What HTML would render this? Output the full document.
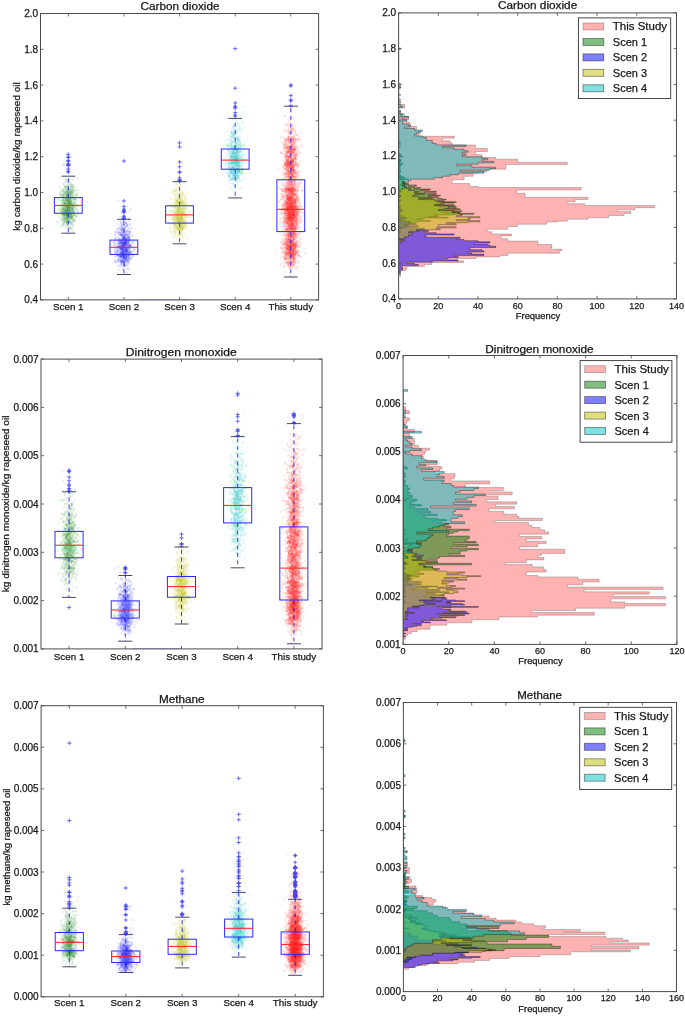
<!DOCTYPE html>
<html><head><meta charset="utf-8"><style>
html,body{margin:0;padding:0;background:#fff;}
#w{position:relative;width:685px;height:1016px;overflow:hidden;background:#fff;filter:blur(0.35px);}
#sc{position:absolute;left:0;top:0;}
#sv{position:absolute;left:0;top:0;}
text{font-family:"Liberation Sans", sans-serif;stroke:#222;stroke-width:0.25px;}
</style></head><body><div id="w">
<svg id="sv" width="685" height="1016" viewBox="0 0 685 1016">
<filter id="sb" x="-5%" y="-5%" width="110%" height="110%"><feGaussianBlur stdDeviation="0.45"/></filter><g filter="url(#sb)" fill="none" stroke-opacity="0.1" stroke-width="2.3" stroke-linecap="round"><path d="M66.1 187.9h0m1.9 .4h0m3.9 1.3h0m2.9 2.8h0m-1.6 .8h0m-3.3 .3h0m-3.3 .8h0m5 .9h0m3.7 .4h0m-10 .7h0m-2.9 .9h0m2.9 .6h0m.3 1.2h0m1.1 .1h0m1 .9h0m0 .1h0m1 2.2h0m4.5 .7h0m-9.3 4h0m-.7 .2h0m8.6 .6h0m-5.2 .6h0m2 .1h0m1.7 .8h0m-11 .6h0m10.3 .1h0m8.1 .1h0m-8 .4h0m-8.3 1.8h0m8.1 0h0m-2.4 .6h0m-1.2 .6h0m.1 1h0m-2.3 .8h0m12.6 1.1h0m-1 1.6h0m-10.6 .1h0m.4 1.4h0m8.2 .3h0m.1 6.9h0m-1.3 5.1h0" stroke="rgb(0,128,0)"/><path d="M77 178.3h0m-6.7 6.2h0m-10.4 4.3h0m7.9 3.5h0m-2.7 .5h0m5.9 1.9h0m1.9 .6h0m-9.8 .1h0m4.5 .9h0m8 .3h0m-8.1 2.4h0m3.4 2.8h0m-1 1.5h0m1.8 0h0m-7.4 .4h0m3.4 .1h0m6.1 .6h0m-8.7 2.8h0m4.6 0h0m-3.2 1.2h0m6.5 .2h0m-3.4 1.2h0m-3.2 3.4h0m3.7 1h0m-7.1 .4h0m8.7 .3h0m-4.4 .6h0m-2.4 1h0m-2.5 .1h0m7.1 .8h0m-6.8 1.2h0m-.8 .8h0m2.6 .9h0m9.2 .3h0m-7 .9h0m0 2.2h0m-1.3 4.6h0" stroke="rgb(0,128,0)"/><path d="M68.5 181.2h0m7 5.6h0m-8.6 4.1h0m7 .4h0m-5.7 .9h0m4.1 1h0m-10.3 2h0m3.6 3.2h0m-.7 1.9h0m1.6 .4h0m-4.8 .2h0m8.4 1.1h0m5.4 .6h0m-10.4 .2h0m-3.8 0h0m6.3 2.9h0m-2.1 .6h0m3.7 .8h0m-7.7 2.1h0m4.3 .1h0m-2.6 .5h0m4.2 0h0m-5.1 1h0m11.5 .1h0m-5.9 .1h0m4.5 1.1h0m.1 .3h0m-9.2 .1h0m-1.6 .8h0m10 0h0m-5.6 .1h0m-2.4 .4h0m1.2 1h0m-1.8 .9h0m.5 0h0m2.7 .3h0m-1.4 .8h0m-1.9 .4h0m9.2 .2h0m-5.7 .9h0m5.3 1.9h0m-1.7 .8h0m-13.3 .8h0m11.8 .7h0m1.7 4.9h0m1.4 1.5h0" stroke="rgb(0,128,0)"/><path d="M65.3 161.4h0m3.2 20.7h0m-2.8 9.9h0m-.6 .3h0m2.6 2.1h0m8.8 .6h0m-3.9 1.9h0m-8.9 .5h0m6.2 .2h0m-7.4 1.8h0m4.5 .1h0m4.2 1.1h0m-1.6 .6h0m-1.9 .7h0m-3.8 1.8h0m4.7 1.4h0m-1.9 0h0m6.3 1.1h0m-5.6 .1h0m3.9 1.9h0m-6.8 .3h0m8.5 .5h0m-3.9 1h0m3.7 .2h0m-8 .5h0m1.2 .2h0m8.1 .7h0m-8.4 .7h0m2.5 1h0m-.6 1.6h0m2.5 .5h0m-.7 .3h0m4.4 4.8h0" stroke="rgb(0,128,0)"/><path d="M65.8 176.2h0m7.8 10.2h0m-6 2.2h0m6 2.7h0m-5 2.7h0m8.1 .6h0m-6.6 1.7h0m-.7 .6h0m-6.2 .4h0m5.6 1.6h0m-.3 .4h0m-5.3 0h0m6.4 1.5h0m-1.1 .2h0m-4.7 .3h0m5.9 .4h0m1.1 .1h0m4.2 .5h0m-9.9 2h0m5.2 .1h0m4.4 1.7h0m-1.6 .4h0m-3.6 0h0m-3.4 .7h0m5 .1h0m-3.5 .6h0m2.3 1.3h0m1.9 .8h0m-7.3 1.4h0m-.6 .7h0m10.1 .7h0m-11 1.5h0m3.4 1h0m4.3 .2h0m-4.6 .4h0m.9 1h0m5.7 7.7h0m-5.1 .1h0m-7.3 2.1h0" stroke="rgb(0,128,0)"/><path d="M69.6 184.3h0m-1.8 6.2h0m-1.3 1.2h0m3.6 .3h0m-.1 .8h0m2.9 .1h0m-5.7 .3h0m-.2 .2h0m3.4 .6h0m-2 .2h0m-2.5 .7h0m4.7 .2h0m-3.6 1.2h0m.2 1h0m0 .5h0m0 .4h0m-1.1 .3h0m9.7 .8h0m-10.7 .4h0m-.5 .6h0m4.1 .4h0m-5.1 1.6h0m11.4 .9h0m-10.4 .2h0m3.2 .5h0m3.2 1.1h0m1 .3h0m4.3 .8h0m-16.6 .3h0m7.3 .8h0m-.9 .1h0m4.9 .3h0m-2.9 0h0m1.4 .3h0m3.2 .8h0m1 .2h0m-2.8 .2h0m-7.1 .1h0m6.2 .8h0m-3.1 .9h0m-3.7 .4h0m-1.2 .4h0m.3 1.4h0m8.7 .7h0m-7 .5h0m6.7 2h0m-1.2 .4h0m-2.5 .7h0m.5 3.5h0m3.5 .3h0m-.3 6.6h0" stroke="rgb(0,128,0)"/><path d="M66 186.6h0m3.7 1.6h0m-1.8 .1h0m2.3 .2h0m-.7 7.8h0m-.8 .4h0m4.6 1.1h0m-9.7 0h0m6.7 1h0m5.9 .5h0m-13.5 1.1h0m4.6 .2h0m1 0h0m7 1h0m-10.8 .1h0m4.9 1.3h0m-9.9 2.3h0m9.8 .8h0m-1.3 .1h0m-2.2 .2h0m-.7 1.3h0m7 .8h0m3.9 .8h0m-11.3 .2h0m3.6 0h0m1.6 .6h0m3.7 .1h0m-12.3 .2h0m11.5 .4h0m-5.8 0h0m-1.5 2.4h0m4.6 .2h0m-3.6 1.5h0m1.7 .8h0m3.3 1.2h0m-.8 1.8h0m-1.8 .2h0m-.2 1.5h0m-.8 .2h0m-1.7 5.2h0" stroke="rgb(0,128,0)"/><path d="M66.9 172.1h0m6.7 4.6h0m-2.3 7.6h0m-2.7 2.5h0m4.3 .7h0m-7.3 1.3h0m3.5 .2h0m8.3 .9h0m-14 .4h0m-.5 1.1h0m8.4 1.1h0m6.5 .1h0m-6.9 .6h0m-.3 .3h0m-10.8 .2h0m11.3 2.9h0m1.1 1.8h0m-2.1 1.9h0m-3.6 .1h0m3.8 .1h0m.3 2.7h0m2.1 .3h0m.9 1h0m-5.2 2.9h0m-2.7 1h0m.9 1.5h0m.6 .6h0m-6.3 .6h0m7.1 .6h0m4.4 1.3h0m-10.5 .4h0m2.8 .9h0m6 1h0m-2.9 .1h0m.8 .4h0m3.7 .6h0m-6.6 1h0m2.6 .9h0m-3.2 .6h0m2.3 .6h0m.3 .2h0m1.4 1.1h0m.7 1h0m-3.3 0h0" stroke="rgb(0,128,0)"/><path d="M69.2 182.9h0m-2.2 2.9h0m6.8 3.7h0m-3 2.7h0m.7 0h0m-2.4 5.4h0m.8 .6h0m3.8 2.1h0m-5.7 2.9h0m-3.7 1.3h0m12.2 1.5h0m-10.7 .7h0m8.1 .2h0m-5.3 .4h0m-4.6 1.3h0m11.7 .8h0m-5 1.4h0m-1.5 .9h0m-.2 .3h0m-1.9 .2h0m.6 .5h0m-2.4 .6h0m5.8 .1h0m-5.3 .5h0m1.6 1.2h0m-3.6 .3h0m1.7 .1h0m5.3 1.3h0m1 1h0m-6.7 .5h0m-1.2 .4h0m1.4 1h0m1.6 0h0" stroke="rgb(0,128,0)"/><path d="M68 171.4h0m-2.8 10.9h0m7.4 2.8h0m-.1 1.2h0m-4.6 .1h0m1.1 1.6h0m7.8 5.9h0m-11.2 0h0m10.4 1.5h0m-8 3.7h0m-3.5 .1h0m7.2 2.6h0m-6.5 1.9h0m4.9 .1h0m-5.2 .3h0m3.8 .9h0m2.8 .8h0m-.4 .5h0m-5.8 .3h0m10.3 .6h0m-8.8 .1h0m8.1 .7h0m-7.5 .4h0m2.1 .7h0m7.5 .3h0m-9.4 1.2h0m2 1.6h0m1.1 .6h0m3.2 2.3h0m-3.3 1.3h0m-3.4 1.3h0m4 .5h0m-6.7 3.7h0m2.3 1.4h0m-3.2 0h0m.1 .2h0m7 .3h0m-.2 .6h0" stroke="rgb(0,128,0)"/><path d="M69.3 160.5h0m-2.7 21.5h0m.9 2.1h0m2.2 5.9h0m-2.9 .3h0m5.1 1.1h0m0 .7h0m-7.8 2.3h0m4.4 .5h0m-.8 2.9h0m-.7 .7h0m-3.8 1.4h0m5.6 1.5h0m1.9 1.4h0m-1.6 .2h0m-6 0h0m8.1 .5h0m.8 .6h0m-6 4.7h0m1.5 1h0m-2 .1h0m7.6 .6h0m-8.5 .2h0m4.3 .3h0m4.7 .7h0m-4.9 .4h0m-5.1 0h0m7.9 1.3h0m-8.9 .3h0m2.5 .7h0m-4.2 .1h0m5.1 0h0m-.5 .1h0m3.6 .2h0m-2.7 .2h0m7.3 4.6h0m-10.8 .9h0m10.7 .5h0m-1.4 5.5h0" stroke="rgb(0,128,0)"/><path d="M73.3 180h0m-6 5.7h0m2.9 4.9h0m-6.5 1.9h0m7.6 .5h0m-10.9 1.3h0m.5 0h0m12.4 2.5h0m.3 .1h0m.3 1.1h0m-1.3 1.3h0m-7.1 .2h0m2 .4h0m-1.9 0h0m4.6 2.4h0m-1.6 1.5h0m-.9 .1h0m6.3 .3h0m-3 1h0m-3.1 .7h0m1.3 .6h0m-3.6 2.5h0m-3.8 0h0m5.2 .7h0m4.2 1.1h0m-3.7 1.2h0m-1.1 .7h0m-2 .6h0m.7 .3h0m.1 .1h0m-.3 .4h0m13.4 .6h0m-14.1 .2h0m9.9 1.3h0m-2.3 .4h0m-1 0h0m-1.7 .8h0m3.7 0h0m-8.5 1.5h0m4.8 .7h0m2.2 2.7h0m-12.8 0h0m3.9 5.2h0m5 5.7h0" stroke="rgb(0,128,0)"/><path d="M66.1 179.7h0m-3 4.3h0m8.7 1.1h0m4.2 5.1h0m-13.8 .4h0m4.9 1.4h0m.6 1.2h0m1.5 1h0m-6.1 .5h0m5.6 0h0m-1.4 2h0m.6 .1h0m-2.3 .3h0m-2.1 1.3h0m12.9 2.4h0m-6.8 .6h0m-4.5 1h0m1.9 .6h0m6.3 2.2h0m-11.7 .8h0m12.9 .5h0m-1.8 .1h0m-2.9 .1h0m-1.7 1h0m.5 1.1h0m-5.6 .7h0m4 .5h0m-1.4 .1h0m4.7 .9h0m-4.5 1.6h0m4.8 .9h0m-3.6 1.1h0m-5.7 1h0m6 .1h0m-3.6 1.3h0m.3 .4h0m8.7 1.4h0m-6.2 1.2h0m-2.1 1.7h0m3 .1h0m5.9 2.9h0m-10.3 0h0" stroke="rgb(0,128,0)"/><path d="M63.6 164.7h0m7.7 12.6h0m-4.4 1.7h0m2.9 6.9h0m.8 1.2h0m1.9 .3h0m-1.7 1.5h0m-2.7 1.3h0m1.9 .2h0m-2.8 4.3h0m5.9 .2h0m-5.4 .4h0m-3.5 .1h0m2.1 1h0m-5.3 0h0m6.8 .9h0m6.8 2.1h0m-6.4 .3h0m5 0h0m-14.6 .3h0m7.8 1.2h0m.9 1.5h0m-1.4 1h0m1.6 1.1h0m-1.4 .6h0m-1.3 .4h0m12.9 0h0m-13.7 .2h0m9.8 .6h0m-1.3 .2h0m-2.8 .4h0m-7.1 .5h0m9.7 0h0m-4.6 .2h0m.6 .6h0m2.9 .7h0m.7 .4h0m0 .6h0m.1 1.2h0m-5.2 1h0m2.6 .3h0m-5.6 .6h0m9.9 .2h0m-4.8 .2h0m.9 1.1h0m4.5 .2h0m-7.2 1.3h0m-.3 1.5h0m5.3 .1h0m-5.5 .2h0m-2.8 .3h0m2.5 .4h0m-.8 .9h0m2.4 .9h0m-3.6 1h0m11.5 0h0m-6.3 .2h0m3.2 .6h0m-.7 .9h0m-4.5 1h0m-2.9 1.4h0" stroke="rgb(0,128,0)"/><path d="M66.4 186.7h0m-2 0h0m8.3 2.9h0m-3 1.9h0m-3.7 .5h0m-1.9 0h0m4.9 .2h0m-4.3 .8h0m2.7 .9h0m-5 .1h0m5.4 .9h0m2.3 3.5h0m.7 1.8h0m-.5 1.1h0m-5.1 .3h0m5.4 2.1h0m-2.3 .1h0m1.6 .2h0m-9.8 1.1h0m7.7 1.6h0m3.2 .6h0m-2 2.5h0m-6.4 1.1h0m1.1 0h0m6.8 1.3h0m.5 .2h0m.3 .3h0m1.5 1h0m-1.5 .3h0m-7 .3h0m3.9 .6h0m1.4 .5h0m-1.7 2.9h0m-1.9 3.6h0m4.3 1.2h0m1.1 .8h0m-2 4.5h0" stroke="rgb(0,128,0)"/><path d="M67.8 169h0m-3.7 10.9h0m1.2 .6h0m6.9 5.4h0m.5 4.4h0m-.7 .2h0m-4 .4h0m-7.1 .6h0m9.2 0h0m-7.1 3.7h0m14.6 .3h0m-8.3 1.6h0m2.1 1.2h0m-2.8 .7h0m-.5 0h0m6.9 .3h0m-5.5 .1h0m-10.6 .2h0m4.2 1.4h0m3.3 .1h0m.2 .1h0m2.6 .5h0m.2 .4h0m-.5 .4h0m-.2 1h0m3.7 1.6h0m-5.5 .5h0m1.2 2.3h0m-8.6 .3h0m8.1 .5h0m1.6 .3h0m-10.2 1.1h0m10 .7h0m-3.6 .6h0m5.6 0h0m-4.5 .1h0m2.8 0h0m-3.4 .4h0m.1 1.5h0m3 .4h0m-.4 .6h0m-4 .4h0m1.9 0h0m.3 1.1h0m5.2 2.2h0m-4.4 .4h0m-.7 .2h0m-5.1 .9h0m5.3 1.4h0m1.4 1.2h0m-5 1.9h0m4.1 2.6h0" stroke="rgb(0,128,0)"/><path d="M70.1 165.6h0m-.9 14.3h0m2 7.2h0m-6.2 1.1h0m5.9 1.1h0m-7.9 .2h0m1.2 4.8h0m6.3 .4h0m2.7 .1h0m-5.7 1.8h0m5.1 .5h0m-2.7 2.7h0m-.8 .2h0m-1.2 .9h0m-3.6 .2h0m-.7 .9h0m4.5 .2h0m.3 .3h0m-3.3 1.5h0m10.1 .1h0m-5 .5h0m7.1 .1h0m-7 .7h0m-6.5 2.4h0m5.7 .4h0m-6.3 .5h0m7.3 1.5h0m-3.1 1.2h0m.9 1h0m-4 0h0m8.3 2.3h0m2.5 .6h0m-9.9 .3h0m4.2 .9h0m8.1 .4h0m-9.9 .8h0m4.5 0h0m-4.2 .6h0m2.2 .4h0m-2.2 .3h0m-5.7 .3h0m10.8 2.1h0m-4.1 .2h0m1.5 .8h0m-1.5 4.1h0" stroke="rgb(0,128,0)"/><path d="M63.4 165h0m.4 25.2h0m.8 2.1h0m6.3 .4h0m-.3 5h0m-1.8 .2h0m1.8 .5h0m-2.5 3.4h0m-2.6 1.3h0m-1.8 .4h0m-1.8 .3h0m5.2 .7h0m4.9 1.5h0m.6 .2h0m-1.7 1.6h0m-7.8 .8h0m10 .9h0m-4 .8h0m-5.2 .4h0m2.8 .1h0m1.3 .2h0m5.1 .2h0m-8.7 .7h0m-1.9 2.1h0m6.6 .2h0m-.5 .1h0m-4.7 .3h0m4.3 .9h0m1.5 1.8h0m-8.5 1.3h0m13.9 2.1h0m-5.5 1.2h0m-1.6 .6h0m-1.3 .1h0" stroke="rgb(0,128,0)"/><path d="M70.9 157h0m-11.3 20.7h0m7.6 1h0m-7.8 7.6h0m9.4 4h0m5.2 .3h0m-11.9 .7h0m4.7 .6h0m-5.4 0h0m6.4 .6h0m-.9 3h0m.5 3h0m2.9 .1h0m-4.2 .1h0m0 1.1h0m-5.1 .7h0m6.2 1h0m-.5 .1h0m3.8 .1h0m-1.1 1.5h0m-6.6 1.4h0m10.7 .3h0m-5 .3h0m-1.3 .2h0m6.1 .7h0m-7.6 .2h0m-3.4 .1h0m5.3 .2h0m.3 1h0m-5.8 1h0m6.6 1.4h0m9.3 .8h0m.1 .1h0m-11 .3h0m5.4 .9h0m-8.3 .1h0m3 .6h0m9.9 .1h0m-7.2 .1h0m3.7 .3h0m-2.1 .8h0m-3.7 .2h0m-.5 .4h0m2.2 .3h0m-2.5 .7h0m.4 .5h0m8.5 0h0m-6.7 1.2h0m-1 .9h0m2.6 .1h0m-3 .2h0m-3.6 3h0" stroke="rgb(0,128,0)"/><path d="M68 163.9h0m2.9 21.8h0m-5.9 1.1h0m.2 1.7h0m3 1.6h0m2.1 2.6h0m-3.1 .2h0m-2.1 2.8h0m6.6 .6h0m-5.9 .1h0m7.4 1.2h0m-6.9 .3h0m1.5 .8h0m6.6 .5h0m-5.5 1.3h0m-1 0h0m1.5 .5h0m-5.8 1h0m9.7 .1h0m-7.6 1h0m4.7 .5h0m1.4 .8h0m-.7 .6h0m-4.9 .8h0m2.6 .2h0m.4 .6h0m2.7 2h0m-6.8 1.2h0m-3.4 .3h0m5.9 1.5h0m-1.8 .1h0m3.3 .2h0m-4.6 .8h0m-1.5 .8h0m9.2 1.1h0m-5.6 .1h0m1 .2h0m1.1 .8h0m.4 .4h0m1.8 1.8h0m-4.9 1h0m8.4 1.1h0m-8.2 2.8h0m2 .5h0" stroke="rgb(0,128,0)"/><path d="M67.1 157.4h0m3.5 6.8h0m-1.4 14.5h0m-5.7 10.7h0m3.2 6.1h0m.3 1.2h0m3.1 0h0m-7.3 .9h0m8.1 .3h0m.6 1.4h0m-2.3 1.3h0m1.1 .1h0m-.5 .7h0m-.5 1.2h0m-.1 1.1h0m-2.1 .4h0m4.2 .1h0m-1.1 .8h0m1.7 .3h0m-9.6 1.6h0m4.6 2.5h0m5.5 .8h0m-12 1.5h0m10 1.1h0m-10 .1h0m9.4 .6h0m4.9 .2h0m-4.4 .3h0m2.6 .3h0m-.7 .1h0m-8.3 .8h0m8.8 .7h0m-6 2.5h0m3.1 .9h0m-2.2 1.7h0m-4.4 2h0m.1 1.9h0m9 5h0" stroke="rgb(0,128,0)"/><path d="M66.9 154.3h0m4 28.4h0m-7.2 1.7h0m1.2 2h0m.4 4.7h0m5.4 .1h0m-5.6 .5h0m4 .3h0m-3.1 1.8h0m1.6 1.6h0m2.8 .1h0m-.9 1.6h0m.3 .9h0m2.8 2.5h0m-5.9 .1h0m4.8 .5h0m-2.8 .5h0m-2.7 1.5h0m-.3 .3h0m-1.1 1.8h0m.9 .4h0m1.2 2.1h0m2.1 .5h0m3.3 0h0m-8.4 .8h0m2.7 1.2h0m1.7 .1h0m-3.5 .9h0m6.6 .1h0m-6.1 .7h0m1.2 .4h0m-.1 3.3h0m2 0h0m2.1 1.2h0m-3.5 1.5h0m-2.2 2.6h0m-3.1 4.4h0m6.4 1.8h0" stroke="rgb(0,128,0)"/><path d="M69.3 179.7h0m4.3 5h0m-7.9 1.6h0m7 1.6h0m-4.5 1.9h0m4.7 .9h0m-6 .8h0m.7 .9h0m2.6 1h0m-1.3 .4h0m-9.1 .3h0m9.7 1.5h0m-7 0h0m.2 .2h0m5.1 .1h0m7.2 3h0m-4.2 .2h0m-4.5 1.5h0m4.8 2.7h0m-2.6 .9h0m-1.3 .8h0m-3.8 1.3h0m4.5 1.4h0m-.6 1.7h0m-3.7 1h0m2 1.1h0m8 .5h0m-5.3 1.2h0m-1.3 1.2h0m3.6 1.3h0m-2.3 1h0m-8.6 .5h0m3.1 3.5h0m5.2 1.7h0m-1.2 1h0m.3 .7h0m3.4 3.7h0" stroke="rgb(0,128,0)"/><path d="M68.1 188.9h0m-1.8 .3h0m5.6 1.3h0m-3.1 2.6h0m-2.8 1.1h0m5.2 0h0m-10.9 1.1h0m6.2 .3h0m-2.9 .7h0m5.7 .8h0m-2.2 2.2h0m4.7 2.8h0m-.1 .2h0m0 .4h0m-1.8 .5h0m-5.8 .6h0m6.6 .8h0m-8.4 .4h0m6.7 .3h0m7.7 .1h0m-12 .7h0m3.1 0h0m1.6 .5h0m-4 3.6h0m4 1.7h0m5.6 .5h0m-7.4 1.6h0m9.8 .8h0m-3 .1h0m-2 1.6h0m-.9 .6h0m.4 .3h0m-7.6 .1h0m2.4 4.6h0m4.5 1.8h0m-1.8 5h0" stroke="rgb(0,128,0)"/><path d="M128.8 220.5h0m-6.7 7h0m-1.6 8h0m5.4 2.9h0m0 .2h0m.2 .2h0m-5 1.6h0m1.1 .1h0m2.9 .1h0m2.3 1.7h0m-2.5 .8h0m3.8 .2h0m-8.2 .1h0m5.3 .2h0m-3.3 .2h0m.1 .7h0m-.8 1.1h0m8.8 .2h0m-6.2 0h0m-.4 .3h0m-3.4 3.1h0m5.6 .6h0m-11.1 1h0m1.9 .1h0m3.4 1.2h0m7.7 .3h0m-2 1.1h0m-3.5 .4h0m-5.4 .3h0m4.6 .6h0m-6.2 2.1h0m13 1.5h0m-3.8 2.2h0m-2.8 1.2h0m3.3 .9h0m-.2 1.9h0m-6.4 1.2h0m.7 3.6h0" stroke="rgb(0,0,255)"/><path d="M129.4 211.3h0m-1.9 13.6h0m-6.5 .3h0m3.5 .4h0m-3.9 3.5h0m3.4 1h0m-2.6 .5h0m4 1.7h0m-.7 2.9h0m-2.3 5.1h0m5.2 2h0m-1.4 1h0m.2 .3h0m-7.2 .2h0m10.4 .7h0m-6 .2h0m5.6 1.3h0m.2 .2h0m-3.8 .4h0m-3 0h0m-.7 1.2h0m4.3 .1h0m-.9 .5h0m.3 .1h0m-4.3 .3h0m4.8 .7h0m1 1.4h0m4 .3h0m-5.9 .5h0m-1.2 3.3h0m-6.9 .3h0m2.4 .4h0m7.4 .8h0m-5.3 .2h0m4.6 2.7h0m-.1 .9h0m-4 .3h0m5.3 .6h0m-2.9 5.4h0" stroke="rgb(0,0,255)"/><path d="M123.1 210.2h0m6 9.1h0m-4.8 12.6h0m-3.6 1h0m-2.6 .2h0m9.4 2.5h0m-5.4 .2h0m2.2 2.9h0m1.1 .1h0m.2 .6h0m.6 1.9h0m2.6 .6h0m-6.7 0h0m10.1 .2h0m-7.3 .6h0m2.5 .1h0m-3.8 1.9h0m3.7 .2h0m-4.6 .7h0m-1.4 .5h0m8.1 .2h0m-10.9 .5h0m1.8 1.1h0m9 2.6h0m-5.8 1.3h0m5.8 .7h0m-7.8 1.6h0m-2.9 .6h0m8.1 1.8h0m-5.7 .3h0m1.5 .2h0m-2.2 .8h0m-.6 0h0m7 1h0m1.1 .8h0m-2.3 1.5h0m-10.6 .3h0m6.2 2.7h0m6.8 1.7h0" stroke="rgb(0,0,255)"/><path d="M127.5 206.4h0m-4.9 16h0m3.3 .1h0m-7.7 2h0m9.1 1.3h0m-6.9 1.5h0m2.2 .6h0m8.2 5h0m-2.6 2.8h0m-4.5 1.6h0m5.2 .8h0m-13 .2h0m8 .1h0m-.3 0h0m-4.4 .6h0m5.9 .2h0m-.1 .6h0m-3 .4h0m-4.2 1.5h0m4.1 .9h0m-.4 .9h0m3.9 .7h0m2.1 .2h0m-3.7 .2h0m6.6 .4h0m-6.6 .6h0m6.3 .7h0m-12.9 1h0m5.1 .8h0m-4.9 .1h0m6.9 1h0m-2.8 .5h0m4.7 0h0m0 1.1h0m1.1 .1h0m1.2 0h0m-7.8 .2h0m2.4 0h0m-5.2 .5h0m10.6 .2h0m-1.5 .9h0m-3.8 1.4h0m5.5 .7h0m-10.3 .5h0m14.5 .7h0m-6.9 .1h0m-4.8 .2h0m1.7 .4h0m1.8 3.4h0m4.1 .7h0m-5.4 .3h0m-.3 .1h0m-1.4 1.3h0m6.7 5.8h0" stroke="rgb(0,0,255)"/><path d="M118.3 200.9h0m11.9 22.8h0m-7.9 .7h0m-4.4 4.7h0m-2.7 2.8h0m3.5 1h0m8.6 5.1h0m-4.5 .8h0m.3 .1h0m6.1 .4h0m-9.9 .7h0m9 1.4h0m-2.8 .1h0m-4.9 1.7h0m2.4 .2h0m4.1 .3h0m-4.4 .4h0m-1.6 .3h0m3.8 .2h0m-1.5 0h0m-2.5 .6h0m-6.3 0h0m6.5 1.7h0m-1.6 .2h0m6.3 .6h0m-1.2 0h0m-2.8 .6h0m6.9 .3h0m-8 .9h0m2.6 .2h0m.1 .2h0m2.9 .5h0m4.5 1h0m-7.9 .5h0m-2.5 .6h0m1.7 2h0m4.3 .2h0m-5.2 1.4h0m5.6 .3h0m.3 1.8h0m-5.4 3.5h0m-.3 1.9h0m3.4 1.3h0m-1.2 1.6h0" stroke="rgb(0,0,255)"/><path d="M125.3 231.2h0m2.8 2.5h0m-2.3 5.3h0m-2.2 .3h0m4.8 .7h0m0 .3h0m-4.8 .2h0m-4 1.9h0m2.5 0h0m.3 .1h0m3.1 0h0m-1.6 1.1h0m-1 .7h0m-.5 .2h0m-.1 .1h0m.8 .4h0m-.4 .4h0m5.9 .8h0m-5.4 0h0m6.9 .1h0m-6.8 .2h0m-3.5 0h0m1.2 .8h0m8.3 .3h0m-9.4 .4h0m1.4 .3h0m4.1 .7h0m1.6 1.1h0m.1 .4h0m1.8 .4h0m-3.3 .1h0m2.5 .9h0m1.1 .1h0m-3.2 .4h0m4.2 .3h0m.7 1.7h0m-8.9 1.3h0m3.4 .3h0m3.9 .1h0m-4.1 1.7h0m2 2.5h0m.3 .5h0m-6.9 .3h0m-4.2 .4h0" stroke="rgb(0,0,255)"/><path d="M125.6 218.3h0m.6 5h0m-.1 2.9h0m-.6 .8h0m4.2 .8h0m-7.7 1.3h0m1.2 3.7h0m-1.5 1.6h0m.4 .5h0m10.1 .2h0m-10.6 0h0m-3.2 .7h0m4.3 2.1h0m1.3 .9h0m1.5 .2h0m2.8 3.3h0m-9.4 1.1h0m8.2 2.2h0m-4.3 0h0m5.8 .4h0m-8.2 .6h0m3.9 .7h0m-6.7 0h0m1.8 .2h0m8.8 .3h0m-6 1.4h0m-1.5 0h0m14.3 .6h0m-16.7 .3h0m4.7 .6h0m6.5 1.6h0m-5.4 .5h0m1.1 1.1h0m-2.1 .6h0m1.2 .1h0m-3.7 0h0m.7 .2h0m-3.6 1h0m3.8 0h0m2 .2h0m1.9 1.4h0m-3.9 2.2h0m1.7 2.3h0m4.2 3.5h0" stroke="rgb(0,0,255)"/><path d="M120.2 217.1h0m.5 10h0m2.7 3.9h0m-3.2 3.1h0m2.1 1.3h0m1.2 .2h0m8.5 .4h0m-4.3 .9h0m-5.3 .1h0m1.4 .8h0m5.3 1.6h0m-8.1 .7h0m-5.6 .5h0m6.1 .7h0m3.4 .8h0m-11.1 0h0m5.6 .4h0m7.2 .2h0m0 .3h0m-6 .7h0m7.9 .1h0m-3.7 .3h0m-.8 1.8h0m1.4 .3h0m1.6 .7h0m1 .2h0m6.1 1.9h0m-12.8 .7h0m-3 .6h0m7.8 .7h0m-4.8 .5h0m1.3 0h0m9.7 .2h0m-8.6 .6h0m.3 .3h0m-2.7 .2h0m7.4 .4h0m-3.3 0h0m-5.2 .8h0m1.8 0h0m4.8 .2h0m-5.5 2.3h0m6.9 1h0m-2 .1h0m-.6 .5h0m-.4 1.1h0m3.3 0h0m.2 1.2h0m-5.3 .2h0m-.7 1h0m.5 2.4h0" stroke="rgb(0,0,255)"/><path d="M121.4 219.3h0m2.8 9.2h0m0 1.7h0m-2 4.6h0m-2.2 .3h0m2.6 0h0m-.7 .6h0m7.4 1.2h0m-11.5 .4h0m8.1 1.1h0m-7.5 .5h0m9.9 .7h0m-.5 .7h0m-2.9 1.9h0m-4.2 .5h0m2.6 .1h0m-5 .3h0m7.3 0h0m-1.5 .8h0m6.1 .8h0m-11.7 .6h0m4.2 3.1h0m4.2 0h0m-1.8 .3h0m-2.1 .4h0m3.3 1.7h0m-5.1 .7h0m5 .8h0m-3.6 .4h0m-2.5 3.4h0m7.2 1.9h0m-1.6 .2h0m4.7 .3h0m-7 3.9h0" stroke="rgb(0,0,255)"/><path d="M126.6 224.1h0m-4.9 2.4h0m6.2 1.1h0m-4.7 5.2h0m1.6 4.2h0m-9.3 1.3h0m11.6 1.7h0m-7.6 1.6h0m5.8 .3h0m-1.4 .7h0m-1.8 .1h0m7.1 .1h0m0 .1h0m-5.6 1.8h0m-.4 2.8h0m3 .9h0m-3.2 1.1h0m3.8 1h0m-2.8 .2h0m4.4 1.9h0m-5.8 .3h0m1.6 4.6h0m-.8 .6h0m3.3 1.2h0m-11.5 .4h0m6 1.2h0m.8 .4h0m-6.1 .2h0m4.6 .3h0m4.2 3.7h0m2.1 7.4h0" stroke="rgb(0,0,255)"/><path d="M130.8 209.1h0m-7.5 10.2h0m.5 9.2h0m1.3 .7h0m-.2 .4h0m-5.9 1.7h0m7.7 3.4h0m-11.4 .2h0m10 1h0m2.8 .6h0m-3.1 .6h0m-5 1.7h0m3.5 1h0m6.6 .1h0m-9.2 .2h0m5 .6h0m2 .7h0m-2.1 .1h0m-2.4 .4h0m2.3 1.3h0m-3.6 1.9h0m1.8 .2h0m-2.7 .3h0m.8 .2h0m7.1 1h0m-3.2 .3h0m-3.8 .3h0m-6.5 .1h0m12.4 1.5h0m-7.9 .2h0m2 .2h0m4.7 1.5h0m-10 .7h0m8.2 1.9h0m4.3 .4h0m-4.2 .4h0m-2.4 .1h0m2.4 0h0m1.5 .8h0m5.9 1.2h0m-1 .5h0m-3.1 .4h0m-5.6 1.1h0m7 .5h0m-4.8 .2h0m-.7 .5h0m.3 .3h0m-.2 3h0m-2.7 3h0" stroke="rgb(0,0,255)"/><path d="M119.8 221.6h0m3.1 4h0m4.7 5.1h0m-4.6 4.5h0m-.4 .6h0m-.6 .1h0m4.7 3.1h0m.1 2h0m.1 .4h0m.5 .1h0m-13.7 1h0m17.7 .1h0m-10.1 .2h0m2.5 .2h0m-4.6 .6h0m10.7 1.6h0m-7.4 2.7h0m1.5 0h0m-6.9 .9h0m5.5 .4h0m5.2 .6h0m-3 .8h0m-1.2 1.4h0m-3 .2h0m9.9 .8h0m-8.9 .1h0m1.1 .6h0m-2 2.6h0m-.1 .4h0m5.1 1.6h0m-.2 0h0m-2.8 1.2h0m-2.2 6.9h0" stroke="rgb(0,0,255)"/><path d="M121.8 212.2h0m3.4 7.1h0m.5 3.1h0m1.2 3.7h0m-1.7 1.6h0m-3.9 1.8h0m2.7 1.9h0m-1.7 .2h0m3.8 2.5h0m-5.9 .4h0m5.5 .2h0m-1 .3h0m1.3 .1h0m3.6 3.4h0m-8.6 .9h0m5.7 .1h0m-5 3h0m.3 .3h0m2.5 .4h0m1 .2h0m.5 .6h0m-6.4 1.5h0m5.1 1.5h0m-.2 0h0m.6 .1h0m6.8 .5h0m-2.6 .8h0m-.4 .6h0m-2.6 1.9h0m.2 .6h0m-3.7 1.3h0m1.4 .4h0m3 .2h0m-5.4 .5h0m1.3 .9h0m-.3 .1h0m.2 1.1h0m-3.1 1.4h0m-1.9 1.8h0m3.5 .7h0m6.4 .9h0m-5.5 .2h0m-.2 .4h0m-2.4 0h0m-2 1.2h0m7.1 3.9h0" stroke="rgb(0,0,255)"/><path d="M124.5 161h0m-1.6 60.2h0m-4 7.2h0m8.5 3.2h0m-4.9 1h0m-5.3 .1h0m7.9 .1h0m-4.9 1.8h0m3.3 4h0m1.4 .1h0m-5.3 .9h0m.4 .9h0m6.2 .8h0m-2.5 .1h0m-2 1.1h0m-.9 .7h0m8.2 2.7h0m-1.1 .1h0m2.4 .1h0m-7.7 .3h0m3.9 .1h0m.3 .7h0m-9.2 .3h0m7.6 .7h0m-5.1 .2h0m1.6 1h0m1.9 .7h0m.7 .4h0m.8 .8h0m3.6 0h0m-12.4 .1h0m10.9 .7h0m-4.6 .9h0m-4.1 .4h0m10.2 .1h0m-5.9 1h0m4.2 0h0m-4.2 .7h0m-2.2 .1h0m-4.3 .1h0m8.2 .2h0m2.8 1.2h0m.6 0h0m-2.3 .1h0m-3.8 .2h0m3.8 .1h0m-.1 .4h0m-.7 0h0m-6.9 1.6h0m9.4 1.4h0m-9.5 .3h0m6.3 3.7h0m-.8 4.6h0" stroke="rgb(0,0,255)"/><path d="M123.5 218.3h0m-.5 6.3h0m-1.3 6.5h0m3.7 1.9h0m.6 1h0m-5.5 1h0m1 1.2h0m7.4 1.8h0m-6.5 .5h0m7.2 2.5h0m-5.6 .1h0m9.1 .2h0m-7.5 .8h0m-.2 2.7h0m-3.6 2.5h0m4.1 1.1h0m.8 1h0m-3.8 0h0m10.9 1.9h0m-15.3 .6h0m4.1 .8h0m-2.6 1.6h0m10.9 .1h0m-2.4 .8h0m-1.8 .2h0m2.4 0h0m-4 4.2h0m.4 2h0m-10 .8h0m11.2 .3h0" stroke="rgb(0,0,255)"/><path d="M120.9 222.7h0m2.3 4.4h0m5 2.1h0m-3.5 .1h0m4.4 4h0m-1.8 2.5h0m-4.1 2.4h0m2.7 2.5h0m2.2 .3h0m-3 .1h0m.4 .5h0m-.1 1h0m3.2 .3h0m-3.6 .4h0m-.4 0h0m1.6 .2h0m-7.9 .5h0m4 .9h0m.8 .6h0m-.4 .2h0m-2.7 .3h0m1 0h0m3.9 .4h0m-.4 0h0m-2.5 .7h0m-1.6 1.9h0m3.8 .6h0m-.8 .7h0m2.1 1.6h0m5.7 .9h0m-5.6 .7h0m-10.4 .1h0m12.6 1.3h0m.7 .2h0m-10.7 .1h0m7.8 .8h0m-2.9 .1h0m-1.6 .5h0m2.6 .1h0m.9 1h0m-3.3 4.5h0m8 .1h0m-7.7 .7h0" stroke="rgb(0,0,255)"/><path d="M129.9 225h0m-12.6 6h0m12.5 .8h0m-6.4 .7h0m-3.1 1.6h0m2.1 .3h0m7.1 .7h0m-4.1 2h0m-1.4 1.2h0m-9 .2h0m8.5 0h0m6 1.1h0m-9.5 1.4h0m5.1 2.6h0m-1.4 1h0m5.9 .5h0m-7.8 .2h0m.6 1.2h0m8.4 .6h0m-4.2 .2h0m-.5 .5h0m3 .2h0m-2 .3h0m-1.3 .3h0m-2.1 1.3h0m2.1 .2h0m.2 0h0m-3.2 1.3h0m-1.1 .1h0m3.7 .9h0m-8.7 .6h0m5.9 .2h0m6.8 0h0m-6.8 1.1h0m-.5 1.2h0m2.9 .4h0m-6 .7h0m7.3 1.7h0m-2.9 .4h0m7.1 .3h0m-5.7 0h0m-3.2 2.5h0m-.4 .2h0m0 .1h0" stroke="rgb(0,0,255)"/><path d="M122.3 229.6h0m5.1 1.6h0m-1.3 .5h0m4.1 .2h0m-2.7 1.8h0m-4.2 .4h0m.8 .1h0m-1.9 1h0m7.7 1.3h0m.2 .5h0m-3 1.8h0m-4.6 1h0m3.3 .8h0m-.8 1.3h0m-4.7 2.4h0m2.8 0h0m2.1 .4h0m-2.1 .6h0m8.7 .1h0m-12.1 .2h0m4.1 .2h0m5 .1h0m-10.3 .7h0m14 .1h0m-12.5 .4h0m3.6 1.2h0m-1.1 .2h0m.3 1.1h0m-.1 .9h0m0 .6h0m4.2 .3h0m-1.1 .4h0m-.5 0h0m-4.4 2.2h0m3.4 .9h0m-6 .3h0m5.3 .3h0m1.3 .7h0m-5 .2h0m6.2 1.8h0m-4.7 .4h0m-.9 .1h0m-1.5 .9h0m8.4 0h0m.4 .4h0m-3.4 .5h0m3.8 .6h0m-6.5 .2h0m6.6 1.5h0m-1.6 1.7h0m-3.7 5.8h0" stroke="rgb(0,0,255)"/><path d="M127.2 231.3h0m-8 1.3h0m1.6 .5h0m7.9 4.8h0m-7.7 2.9h0m.2 .3h0m2.3 2h0m2.4 .6h0m-1.4 .3h0m2.3 1.1h0m-2.1 .9h0m.5 .6h0m-.7 .4h0m-4.7 0h0m5.8 .5h0m-3.5 .2h0m4 .4h0m-4.1 .5h0m7.7 .5h0m-5.5 .7h0m-6.3 .2h0m4.9 .2h0m8 1h0m-8.3 1.5h0m4.7 .3h0m2.3 .2h0m-3.6 1.1h0m2 .9h0m1.8 .9h0m-8.4 0h0m4.9 .4h0m-2.9 .1h0m1.9 .8h0m-1.2 .1h0m.2 .3h0m-1.7 1h0m5.2 1.6h0m-6.8 .1h0m6.3 1.4h0m-3.6 .2h0m.8 .1h0m2.5 6.6h0" stroke="rgb(0,0,255)"/><path d="M125.5 224.9h0m-2.9 3.9h0m7.3 2.7h0m-.9 2.5h0m-2 1.1h0m-5 2.2h0m5.9 .5h0m-3 0h0m-.4 1.7h0m3.6 0h0m-9.9 .9h0m1.7 .8h0m1.7 .4h0m3.8 .5h0m-5.1 .3h0m-5.1 .2h0m2.5 4.4h0m.9 .3h0m8.3 .5h0m-4.4 .7h0m-7.4 4h0m1.7 .7h0m14.4 .9h0m-3.6 .4h0m-5.6 .8h0m-2.7 1h0m1.1 .5h0m9.6 2h0m-11.4 .7h0m6.2 1.9h0m1 .7h0" stroke="rgb(0,0,255)"/><path d="M126 223.4h0m-4.4 .6h0m.5 5.9h0m-1.2 1h0m-1.1 1.3h0m2 .3h0m2.2 2h0m.7 .3h0m-2.9 6.5h0m4.1 .7h0m-2.5 .2h0m.7 .9h0m2.2 1.4h0m2.3 1.1h0m-1.7 .4h0m-9 .1h0m5.1 .5h0m9.6 .7h0m-9.9 .4h0m-1.1 .1h0m-.1 .2h0m3.6 0h0m-5.7 .1h0m-4.3 .2h0m5.1 .6h0m6.1 .1h0m1.2 .8h0m-1.8 .6h0m1.6 .3h0m-8.1 .2h0m7.3 .1h0m-3.7 1h0m-2.8 0h0m5.3 .1h0m-1.8 .1h0m-1.5 .5h0m.5 0h0m2.3 1.2h0m-1.4 .9h0m.5 .1h0m5.2 .9h0m-10 .1h0m6.5 0h0m3.3 2.1h0m-5.9 .1h0m1.8 2.7h0m-3.7 .5h0m-2.4 0h0m5.3 2h0m-3.1 1.5h0m2.6 .7h0" stroke="rgb(0,0,255)"/><path d="M121.2 221.7h0m3 3.4h0m3.4 .1h0m-5.8 3.7h0m-1.7 .4h0m9 2.1h0m-5.5 3h0m2.2 1h0m.4 1.5h0m.4 1.8h0m-.4 1.6h0m-8.4 0h0m.9 1h0m10.2 .2h0m5.2 1h0m-12.6 .6h0m2.2 0h0m-.2 .7h0m3.6 0h0m-.3 .5h0m-4 .6h0m2.5 .6h0m.5 0h0m-.1 1h0m-7.1 .7h0m2.3 .4h0m12.8 2h0m-12.2 1.7h0m-.4 .6h0m-.3 .7h0m2.4 1.2h0m-2.5 0h0m.2 .6h0m3.6 1h0m1.2 .8h0m-5.1 1.9h0m5 1.8h0m-7.1 1h0m5.8 4.5h0m.6 .5h0" stroke="rgb(0,0,255)"/><path d="M123.9 211.6h0m-.4 4.6h0m4.8 2.5h0m-11.5 9.7h0m7.2 2.9h0m1.1 5.6h0m-1.8 2.8h0m2.1 2.1h0m-7.2 .9h0m-2.6 2.9h0m10.3 .6h0m-1.6 .1h0m.9 .5h0m-2.6 .4h0m-3 .6h0m7.5 1h0m-2.7 .7h0m-1.7 1h0m3.1 .6h0m-10.4 .6h0m7.1 .7h0m.9 .9h0m9.7 .4h0m-15 1.8h0m6.4 2.8h0m7 .1h0m-8.4 1.6h0m.4 1.8h0m-1.2 .5h0m-.8 .6h0m7 .1h0m-10.1 2.1h0m6.1 .1h0m2.1 9.3h0" stroke="rgb(0,0,255)"/><path d="M124.6 227.5h0m6.7 1.2h0m-15.1 3.8h0m-1 2.3h0m10.3 .1h0m-1.7 .9h0m5.3 .3h0m-1.5 4.1h0m-6.4 1.2h0m3.7 1.2h0m-.9 .3h0m-2 .6h0m4.1 .4h0m-3 .5h0m-6.3 .1h0m11.4 .1h0m-13.4 .2h0m7.6 .4h0m-2.9 .5h0m10.8 2.5h0m-.9 .2h0m-14.5 .3h0m11.8 1.9h0m-1 .8h0m-.8 1h0m-.7 .8h0m-2.8 .8h0m-1.9 0h0m13.3 1.1h0m-4.2 .5h0m-6.7 .4h0m1.5 1.7h0m5.2 0h0m-5.1 2.3h0m-3.3 .2h0m8.9 9.9h0" stroke="rgb(0,0,255)"/><path d="M178.4 184.2h0m4 8.4h0m4.1 1.1h0m-11.9 .2h0m4 5.1h0m.6 .3h0m-2.9 3.2h0m2.7 2.8h0m3.2 .2h0m-1.1 .2h0m-8.5 .2h0m6.7 .9h0m-4.2 0h0m-.7 1h0m8.4 .4h0m4.1 .2h0m-4.9 1.1h0m-4.2 .4h0m1.2 1h0m5.3 .3h0m-5.4 1.6h0m.6 1.9h0m2 .7h0m-.9 1h0m-6.9 1.7h0m3.3 .5h0m5 0h0m-4.5 1.3h0m.2 0h0m6 .3h0m-.4 .7h0m-3.8 .5h0m.8 .5h0m-2.7 .2h0m-1.8 1.3h0m3.6 .2h0m-.8 .3h0m3.6 .9h0m-6.7 .2h0m2.8 1.7h0m-1.7 .7h0m3.3 11.8h0m2.2 2h0" stroke="rgb(191,191,0)"/><path d="M175.3 191.8h0m5.8 2h0m-.4 .1h0m3.5 2.8h0m-7.8 4.5h0m1.6 1.7h0m5.3 1.2h0m-.8 .8h0m-.4 .4h0m-1.1 1.7h0m2.2 1h0m-5.3 .5h0m1.7 .6h0m-.7 1.4h0m.6 .6h0m-.8 .2h0m1.4 .4h0m-.3 .7h0m-4.7 .5h0m3.8 .6h0m-2.4 .5h0m1.9 .7h0m-7.7 1h0m14.5 .2h0m-10.5 2.1h0m5.6 .3h0m-1.7 1.6h0m1.7 .2h0m-3.6 1.3h0m3.2 1.6h0m-1.4 .2h0m2.1 1.2h0m.2 .1h0m-6.1 .4h0m-.1 1h0m4.3 2.6h0m-8.3 3h0m7.5 10.2h0" stroke="rgb(191,191,0)"/><path d="M178.5 192.5h0m-3.2 6.2h0m-3.3 .1h0m9.5 2.9h0m-7.1 5.3h0m11.7 .9h0m-1.4 .1h0m-1.9 1.1h0m-5.5 .6h0m5.6 4.7h0m-1.9 1.4h0m-3.1 .6h0m9.3 0h0m-11.9 .4h0m5.4 .4h0m-3.1 .3h0m-.1 .3h0m1 1.5h0m1 1.5h0m-5.4 .2h0m-4.6 .8h0m7.1 .6h0m8.2 1.5h0m-10.5 3.9h0m5 2.1h0m-1.8 .5h0m3.7 .1h0m-6.1 6.2h0m2.1 .5h0m.1 2.3h0" stroke="rgb(191,191,0)"/><path d="M178.3 142.9h0m3.3 44.7h0m.8 2.8h0m-2.2 1.3h0m-.5 .7h0m.3 4.5h0m.1 1h0m-.5 1h0m-2.6 2.3h0m3.8 2.1h0m-12 .1h0m10.5 .9h0m-.6 .7h0m-4 1.8h0m2.4 .2h0m7.7 1.8h0m.8 .7h0m-1.2 2.2h0m-6.9 2h0m-4.2 1.4h0m1.9 1.2h0m5.6 .1h0m.8 1.1h0m4.6 0h0m-10.5 .2h0m8.2 .5h0m-10.8 .1h0m5.9 .1h0m-6.8 .3h0m10.8 .1h0m-4.5 0h0m.7 1.2h0m-.9 .5h0m4.8 .4h0m-8.3 .7h0m11.8 1.5h0m-11.7 4.1h0m12.7 .4h0m-6.7 .3h0m-9.7 .3h0m4.5 3.9h0m4.9 .3h0m1.8 2.2h0m-5.9 .2h0" stroke="rgb(191,191,0)"/><path d="M175.9 185.2h0m2.1 2.5h0m-5.6 2h0m11 3.6h0m-9.7 .2h0m4.1 3.9h0m8.6 .9h0m-1.5 2.2h0m-1.1 .1h0m-3.2 .3h0m5.2 3h0m-.8 .4h0m-2.7 1h0m-10.4 1.7h0m3.2 1.5h0m-1.6 3.4h0m8.5 0h0m-7.5 .6h0m-1.4 1h0m7 2.3h0m-2.3 3.1h0m-1.7 .8h0m2.1 .3h0m1 1.9h0m.8 .1h0m-.5 .2h0m-6 1.1h0m1.3 .2h0m6.1 .1h0m-.3 1.4h0m-3.9 1.3h0m6 1.4h0m-12.7 .2h0m9.2 .1h0m2.7 .1h0m-6 4.7h0m5.7 .5h0m-5.8 3.3h0m3.2 .8h0" stroke="rgb(191,191,0)"/><path d="M175.1 182.3h0m-.3 9.3h0m8.2 1.5h0m-7.7 5.5h0m9 .7h0m-1.7 1.6h0m-5.5 1.5h0m3 .2h0m-1.3 1.1h0m-.9 2.8h0m.4 1.7h0m7.1 .9h0m-15.4 .7h0m8.5 .6h0m5.6 .9h0m-6.5 0h0m-6.6 .1h0m12 .4h0m-2.4 .5h0m-2.8 0h0m1.4 .3h0m1.6 .9h0m4.8 .1h0m-1.5 1.5h0m-7.6 1.7h0m1.5 .6h0m2.4 .7h0m-8.5 .6h0m6.4 1h0m-4.4 .4h0m6.2 0h0m-2.6 .3h0m.2 .1h0m.9 1h0m-2.4 .3h0m3 .4h0m-.7 1.2h0m5.8 2.9h0m-1.1 1.6h0m-3.8 .9h0m-4.7 2.4h0m7.2 1.1h0m-2.6 1.7h0m-2.8 .8h0m4 .6h0m-1.5 8.4h0" stroke="rgb(191,191,0)"/><path d="M188.6 193h0m-8.3 2h0m1.5 .7h0m-6.8 0h0m3.8 .9h0m-1.7 3.4h0m-2.1 2h0m8.7 .4h0m-5.4 .2h0m5.4 .7h0m-2.9 .9h0m3.5 .4h0m-7.4 .3h0m8.1 1h0m-12.9 1.1h0m12.6 .1h0m-5.4 1.3h0m1.8 .7h0m2 .1h0m1.2 .7h0m-4.1 .2h0m-8.5 2.6h0m7.5 .8h0m4.5 .3h0m1.9 0h0m-3.5 1.3h0m-7.2 1.1h0m.6 2.8h0m6.2 .3h0m-3.5 1.7h0m1.1 .5h0m1.1 .7h0m.3 .1h0m-.8 .3h0m-.5 .8h0m4.3 .5h0m-2.3 .4h0m5.1 .9h0m-17.1 2.5h0m12.1 .2h0m-1.6 .1h0m.4 2.2h0m-1.3 2.1h0m2.1 .1h0m-5.8 .7h0m5.3 2h0" stroke="rgb(191,191,0)"/><path d="M181.1 146.9h0m4.9 39.5h0m.1 1.2h0m-13.3 1.3h0m3.9 1.2h0m1.1 .1h0m1.7 3.5h0m7.9 4.1h0m-3.1 .6h0m-5.2 3h0m4.9 .2h0m-1 0h0m-3.9 1.4h0m-4.3 3.5h0m3.5 .6h0m-4.8 .5h0m5.5 .2h0m-.1 1.1h0m.2 1.6h0m.3 0h0m-3.9 1.8h0m6.5 .7h0m-2.3 .2h0m5.5 .6h0m-4.3 0h0m-8.1 1.3h0m12.8 .4h0m-5.7 .6h0m-2.5 1.2h0m4.9 .2h0m-5.5 .6h0m3 .2h0m-.6 1.2h0m3.3 0h0m-3.3 .1h0m-2.2 .1h0m3.5 .3h0m-2.8 .6h0m4.4 .6h0m-7.4 1.8h0m4 .6h0m-3.6 .5h0m8.7 .2h0m1.5 .8h0m-1.1 .2h0m-.1 3h0m-6.1 .1h0m11.6 1.4h0m-11.3 .6h0m.5 2h0m1.3 4.5h0" stroke="rgb(191,191,0)"/><path d="M174.6 198.7h0m6.9 .5h0m-3 .5h0m2.5 2.5h0m5.6 2.7h0m-9.3 .3h0m-.6 .1h0m1.5 1.1h0m4.9 2.9h0m-2 .5h0m-3.1 1.4h0m-1.8 1.7h0m3.3 1h0m-2.8 .7h0m3.1 0h0m-1.1 1.5h0m-.6 1.6h0m4.4 1.9h0m.6 .1h0m-5.7 3h0m.4 .5h0m9.2 .4h0m-10.5 .7h0m1.5 1.4h0m2.7 1h0m1.8 .9h0m-.5 1h0m-3.7 .6h0m.2 .8h0m1.9 0h0m-3.3 .7h0m.5 .1h0m5.9 3.8h0" stroke="rgb(191,191,0)"/><path d="M178 186.6h0m2 5.8h0m-2.1 1.6h0m-.4 1.1h0m1.5 2.3h0m3.6 .1h0m-2.3 1.8h0m-2.6 2.2h0m.4 1.2h0m-2 .1h0m3.5 2h0m-1.8 2.5h0m-2.4 2h0m-1.3 1.5h0m9.1 1.1h0m-5.9 .4h0m4.4 1.2h0m-3.2 .3h0m3 .4h0m2 .8h0m1.4 .3h0m-7 1.3h0m2.6 .3h0m-3.3 1.1h0m4.3 .5h0m-.6 .7h0m-7.5 .2h0m7.6 2.2h0m-6.1 .9h0m1.1 2.5h0m2.9 .2h0m2.4 .5h0m.6 1.7h0m-2.2 2.6h0" stroke="rgb(191,191,0)"/><path d="M179.9 179.6h0m.8 5.1h0m-1.8 1h0m-3.9 5.9h0m-2.5 3h0m3.8 1.5h0m5.3 3.2h0m-1.8 2.5h0m-2.8 .1h0m2.8 4.6h0m4.4 2.3h0m-7.1 .7h0m.8 1.7h0m-7.3 1.7h0m5.3 1.8h0m-.4 1.2h0m5.7 1.1h0m-2.3 .1h0m3.1 .8h0m-1.1 .5h0m5.1 3.3h0m-1.7 .2h0m-2.7 .5h0m-2.9 .3h0m1.1 .4h0m-1.5 2.5h0m1.3 1.3h0m-.7 2.4h0m2 .3h0m-10.9 .2h0m11.2 .1h0m-10.8 2.3h0m12.1 3.9h0" stroke="rgb(191,191,0)"/><path d="M179.8 184.5h0m1.2 4.7h0m-6.4 6.8h0m-4.5 2.3h0m5.5 2.1h0m6.2 .4h0m-.1 .1h0m-1.1 .9h0m-4.2 .6h0m5.6 .8h0m-6.7 .8h0m10.5 0h0m-.3 3h0m0 .7h0m-8.2 3.2h0m3.7 2h0m1.8 .8h0m2.9 1h0m-9.9 1h0m9.8 .6h0m-5.7 1h0m-.7 .2h0m-5.4 2.5h0m5.1 .6h0m4.6 .3h0m-3.7 1.9h0m-6.8 .3h0m9.6 .1h0m-.9 1.6h0m-1.1 .3h0m1.7 1.2h0m-5.3 1.4h0m3.7 .9h0m-9.5 1h0m8.4 .2h0m.1 2.8h0m-4.7 1.6h0m6.7 .6h0m6.4 3.1h0" stroke="rgb(191,191,0)"/><path d="M181.4 183.9h0m-.4 1.3h0m-5.4 4.9h0m-2 .6h0m-1.5 2.1h0m7.1 1.7h0m-2.2 3.2h0m4 1.3h0m-5.3 3h0m4.3 .5h0m-1.3 1.6h0m2.6 .1h0m-6.7 .6h0m-4.4 .7h0m9.3 .2h0m.7 .4h0m-3.8 .2h0m.7 .7h0m5.6 1.4h0m-5.4 .3h0m4.3 .3h0m-2 .5h0m-2.4 .2h0m1.4 .3h0m4.3 .2h0m-4.1 .1h0m1 .2h0m-3.1 1.3h0m3 .2h0m-1.7 .7h0m2.5 .4h0m3.4 .7h0m-8.4 .1h0m4.1 .6h0m-2.5 .8h0m-7.1 .4h0m7.4 1.6h0m4.4 .6h0m-3.1 .4h0m5.5 2h0m-6 .6h0m.4 1.3h0m4.1 .1h0m-.3 1h0m-6.2 .2h0m5.9 .3h0m-13 .1h0m11.4 1.5h0m-.6 .2h0m-4.4 .1h0m5.2 .1h0m-6.8 .5h0m7.8 1.4h0m-5.4 1.1h0m6.9 .3h0m-1.1 12.9h0" stroke="rgb(191,191,0)"/><path d="M177.8 191.3h0m3.9 3.6h0m-2.6 0h0m-3.5 5h0m1.5 0h0m8.5 3.2h0m-2.1 0h0m-2.3 0h0m4.4 .7h0m-6.9 2.2h0m2.2 2h0m-2.3 .2h0m1.2 .7h0m4.5 1h0m-6.7 .1h0m-5.7 .5h0m8.6 1.7h0m-.7 .8h0m-1.6 0h0m3.9 .7h0m-.6 1h0m-4.2 1.5h0m.1 1.1h0m3.1 .1h0m1.3 .3h0m-2.3 0h0m-2.6 0h0m3.7 .4h0m0 0h0m1.5 .5h0m-4.8 .6h0m2.8 1h0m-9.3 .2h0m8.7 .1h0m6.4 .6h0m-6.4 0h0m-3.5 .1h0m5.7 0h0m-5.9 0h0m5.2 1h0m-3.1 .4h0m1.6 1h0m-5.5 1.3h0m3 2.4h0m7.8 .3h0m-4.5 .8h0m4.2 .6h0m-1.6 .5h0m-6.8 .4h0m10.7 6.4h0m-13.2 1h0" stroke="rgb(191,191,0)"/><path d="M179.6 180.4h0m-2.8 11.1h0m.4 10h0m4.1 1.1h0m-.9 1.5h0m2.5 1.3h0m-4.6 1.3h0m7.7 2.8h0m-6 .1h0m-2.8 1.8h0m11.8 .4h0m-9.9 .1h0m2.7 .4h0m-1.2 1.4h0m4.9 1.1h0m1.3 .6h0m-4.5 .3h0m-.3 .1h0m-1.6 .6h0m.7 .7h0m-1.2 .6h0m-2.5 .1h0m3.6 .2h0m4.4 .8h0m-7.5 .3h0m2.5 2.7h0m1.2 .8h0m1.1 .1h0m1.1 .1h0m-5.4 2.4h0m.7 1.3h0m6.3 .3h0m.5 .1h0m-5 .3h0m-1.8 1h0m-1.9 .6h0m-3.6 .8h0" stroke="rgb(191,191,0)"/><path d="M182 162h0m-1 9.8h0m-2.6 6h0m5 3.9h0m-8 4.7h0m1 6.7h0m4 3.1h0m-3.2 1.3h0m5 2.7h0m-3.4 2.3h0m6.1 1.9h0m-7.7 7.8h0m4.1 .3h0m1.3 .6h0m2.6 .6h0m-.2 .3h0m-2.7 .8h0m-8.8 .6h0m11.7 2.6h0m-4.9 .5h0m3.4 1.7h0m-5.7 .1h0m5.1 1.4h0m1.1 0h0m-4.8 .8h0m-1.2 1.2h0m-1.1 3.2h0m-.7 1.1h0m1.5 1.5h0m-5.3 3.6h0m5.8 2.4h0m-5.2 .1h0m8.7 2.7h0" stroke="rgb(191,191,0)"/><path d="M182.2 195.6h0m2.3 1h0m-6.2 3.4h0m3.8 .7h0m-.1 1h0m-2.1 .2h0m3.2 .5h0m-7.4 1.1h0m8 .7h0m-7.9 .5h0m.3 1.4h0m5 .6h0m-.2 .8h0m.1 .3h0m-5.3 .3h0m2.9 .9h0m-.7 0h0m.7 .3h0m-3.1 .6h0m6.1 1h0m-5.3 1.3h0m5.1 .9h0m-2.8 .4h0m3.4 .3h0m-1.3 1h0m-3.5 3.2h0m.5 0h0m4.8 .1h0m-.6 .4h0m-4.7 1.4h0m-2.7 .2h0m7.3 1.3h0m-3.8 .9h0m3.7 0h0m-7.9 .4h0m12.1 .1h0m-9.4 .4h0m.2 .4h0m9 1.2h0m-.3 .2h0m-2.6 .5h0m-7.5 .1h0m1.2 2.1h0m6.7 .4h0m-4.2 .8h0m-.5 .4h0m.1 .9h0m-4.4 11.5h0" stroke="rgb(191,191,0)"/><path d="M180.6 180.6h0m-3.2 14.1h0m8 2.5h0m-9.9 3.5h0m5.8 .2h0m-3 1.5h0m5.3 .3h0m-2.3 .4h0m-5.3 3.2h0m1.5 0h0m-1.5 .3h0m.5 .6h0m3.1 1.7h0m1 1h0m-.3 .6h0m-3.2 4.1h0m1.3 1h0m4.5 .3h0m-7.2 .9h0m7.1 .4h0m-9.5 .1h0m7.6 1.4h0m-6.3 .1h0m2.5 .2h0m3.3 .2h0m-.6 .2h0m.7 2.3h0m1 .5h0m-8.2 2.2h0m3.6 .9h0m5.2 0h0m-5.3 .6h0m1.5 0h0m6.4 1.2h0m-3.7 .7h0m-.8 .2h0m0 2h0m2.2 .1h0m-.3 .7h0m-7.9 .9h0m12.1 .6h0m-13.1 5.8h0" stroke="rgb(191,191,0)"/><path d="M177.2 182.1h0m-1 2.4h0m1.5 3.8h0m-2 1.6h0m-3.8 2.3h0m6.7 7.7h0m7.7 1.4h0m-6.4 1.2h0m-.2 .1h0m.6 2.8h0m3.1 1.2h0m-3.9 3h0m-.4 1.8h0m9 1.3h0m-11.3 .1h0m9 0h0m-9.5 .5h0m5 1.5h0m.6 .2h0m-4 .1h0m-1.3 1.3h0m-2.5 .4h0m6.2 0h0m-4.6 1.3h0m.1 0h0m3.3 .7h0m-5.6 .7h0m6.4 1.2h0m-2.9 .2h0m4.9 .5h0m3.8 .4h0m-.8 .3h0m-6.3 .6h0m3.7 .1h0m1.9 1.5h0m-2.5 4.2h0m1.5 1.3h0m-11.5 4.4h0m11 4.7h0" stroke="rgb(191,191,0)"/><path d="M185.6 191.6h0m-3.8 .1h0m.5 3.7h0m3.1 .2h0m-7.1 .2h0m-.3 2.1h0m1.8 1.4h0m2.7 3.6h0m-10.2 .9h0m5.2 .4h0m.3 .9h0m-1.5 1.1h0m2.4 .3h0m-3 .1h0m2.1 .1h0m6.5 .6h0m.4 .5h0m-10.5 2.7h0m4.5 .5h0m3 1h0m-2.9 .3h0m4.9 .7h0m.4 1.6h0m-17 .1h0m16 .7h0m-11.2 .2h0m11.6 .1h0m.2 .9h0m-1.6 .7h0m-7.1 .8h0m-2.1 .4h0m8.7 .7h0m.5 .9h0m2.5 4h0m-7.6 .2h0m.5 0h0m10.1 1.3h0m-5.6 .7h0m0 .5h0m-7.9 .8h0m12.9 .1h0m-8.8 .8h0m-3.7 .4h0m12.5 .8h0m-6.6 1.7h0" stroke="rgb(191,191,0)"/><path d="M176.1 189.7h0m-1.3 4.8h0m7.7 0h0m-.8 .4h0m-1.2 3.5h0m-8.9 .3h0m6.2 1.5h0m-4.4 3.4h0m9.2 .1h0m-4.8 0h0m5.7 1.1h0m-8 .5h0m-.5 .4h0m-1.2 .6h0m6.5 1h0m.4 .3h0m-1.5 1h0m9.7 .1h0m-12.2 .1h0m5.7 1.4h0m1.1 1.4h0m-4.4 0h0m-2.9 .9h0m-1.3 1h0m7.6 2.9h0m-5.5 .3h0m5.1 1.1h0m-1.2 0h0m-2.2 .9h0m3.4 .3h0m3.2 1.7h0m-11.5 .3h0m.9 0h0m5.4 .6h0m2.1 .1h0m2.1 .3h0m-2.8 0h0m-2 .2h0m.5 .2h0m-1.8 .2h0m1.8 .1h0m4.6 .4h0m.6 .4h0m-3.9 .1h0m-6.9 1h0m9.9 .1h0m-12.1 .6h0m10.1 1.1h0m-.3 2.7h0m-.6 .9h0m-7.2 .2h0m7.6 .1h0m3.3 3.5h0m-1.7 3.2h0" stroke="rgb(191,191,0)"/><path d="M185.6 172.5h0m-6.3 21.6h0m-1.4 1h0m3.8 2.3h0m-1.6 2.3h0m-1.4 1.6h0m7.7 .8h0m-4.8 1.4h0m5.7 1.3h0m-14 .5h0m3.8 .3h0m.9 1.9h0m-.3 .9h0m-3.9 .9h0m4 0h0m-4.1 1.2h0m-6.9 1.2h0m16.7 .2h0m-7.7 .4h0m2.2 1.9h0m7.7 0h0m-2.4 1h0m-5.3 1.2h0m7.5 1.1h0m2.7 .6h0m2.5 0h0m-12.2 1.2h0m2.1 1.1h0m-1.8 0h0m-3.6 .2h0m6.6 1.4h0m-3.7 .5h0m6.7 0h0m-5.4 1.4h0m.9 .2h0m-5.6 .1h0m3.6 .2h0m2 .8h0m-1.7 .2h0m6 .6h0m-4.4 .3h0m-3.8 1.1h0m4.7 2.1h0m1.1 2.7h0m-2.9 2h0" stroke="rgb(191,191,0)"/><path d="M187.1 182.7h0m-7.7 6.1h0m2.3 4.2h0m-.6 7.6h0m-.1 .1h0m-7.4 2.2h0m3 .1h0m1.1 .2h0m-.8 0h0m1.1 .6h0m2 4.1h0m-3.3 1.4h0m5.5 3.1h0m-7.6 .4h0m9 .5h0m-9.4 .3h0m7 .7h0m-.5 5h0m-4.4 .7h0m3.1 .6h0m3.6 .9h0m8.5 .2h0m-13.8 .1h0m4.8 4h0m1.2 1.3h0m-1.8 .4h0m-5.6 .4h0m2.2 1.1h0m1.1 .6h0m.5 3.3h0" stroke="rgb(191,191,0)"/><path d="M179.2 166.8h0m-5.5 23.6h0m-.9 .7h0m11.6 4.1h0m-7.1 3h0m7.5 .7h0m-2.2 2.1h0m-5.5 .2h0m3.6 .9h0m-2 .5h0m5.3 .7h0m-12.8 1.3h0m8.4 3.5h0m2.1 .7h0m-1.5 .4h0m-1.5 .1h0m.9 2.3h0m2.1 .7h0m-2.7 .6h0m3.3 .8h0m-4.2 .2h0m6.5 .6h0m-1.9 .2h0m-4.8 .8h0m7 .1h0m-2.9 .2h0m-4 .3h0m-2.3 .1h0m.5 0h0m-3.7 .6h0m7.2 1.7h0m2.3 .1h0m-5.7 0h0m6.5 .5h0m1.4 .1h0m-7 .5h0m-4 .6h0m-1 2.4h0m18.4 1.7h0m-9 .9h0m.8 .7h0m-1.4 .2h0m2 .1h0m-9.5 4.6h0m1.9 .6h0m3.1 5h0" stroke="rgb(191,191,0)"/><path d="M237.6 136h0m-1.6 1.2h0m-1.2 4.7h0m4.6 1.3h0m1.8 2.8h0m-2.3 .9h0m-.1 .4h0m-5.4 1.7h0m1.9 .2h0m-5.1 .6h0m3.9 .1h0m-.5 .5h0m3.7 .1h0m-4.5 1.7h0m4.1 0h0m-1.3 .2h0m-.3 1.9h0m.6 .2h0m-3.1 .1h0m10.5 1.1h0m-7.5 3.6h0m1.9 .4h0m-2.6 .1h0m-2 3.4h0m-.8 .4h0m3.1 .4h0m-2.7 .7h0m2.3 .3h0m-1.6 .4h0m-1.8 .5h0m-.2 .3h0m2 .2h0m-3.5 .4h0m2 1.3h0m5.5 .7h0m.4 1.2h0m-5.8 3.7h0m-2.5 1h0m8.5 1.2h0m-8.2 1.1h0m7.4 0h0m1.9 1.4h0m-.5 .7h0" stroke="rgb(0,191,191)"/><path d="M231.6 120.7h0m12.9 6.6h0m-4.8 1.6h0m-3.3 .6h0m-5.7 .2h0m7.2 .6h0m3.2 3.6h0m-7.3 8.3h0m6 2.8h0m-5.7 .7h0m-2.9 .8h0m2.5 1.6h0m.6 .1h0m-1.8 .2h0m1.6 1h0m3.3 .8h0m-1.2 .2h0m-6.4 .7h0m12.1 2.4h0m-7.7 .3h0m1.1 2.9h0m8.8 1.4h0m-7.3 .3h0m-1.6 .5h0m-6.3 .2h0m7.3 1.3h0m-.2 .1h0m3.8 .5h0m-9.5 .3h0m5.2 1.5h0m1.9 2.2h0m-7.8 3.3h0m8.2 1h0m3.9 .7h0m-14.5 1.6h0m13.2 1.1h0m-4.1 .5h0m.3 2.3h0m1.5 .3h0m-4.9 .1h0m-9.3 1.6h0m5.5 3.2h0m4.9 0h0" stroke="rgb(0,191,191)"/><path d="M236.9 126.3h0m-4.4 3.7h0m2.2 4h0m6.5 3.9h0m-8.1 .3h0m.4 1.8h0m2 .2h0m3.3 .9h0m-3.3 1.6h0m1.1 .7h0m-8.7 3.1h0m6.9 0h0m3.8 2.3h0m-6.1 3.5h0m-2.6 3.6h0m4.7 .1h0m6.1 0h0m-6.6 1.8h0m1.8 3h0m-4 .3h0m11.1 .4h0m-10.3 .3h0m1.7 .2h0m-.3 .2h0m4.4 .4h0m-7.8 .1h0m14.2 .1h0m-8.6 .1h0m-6.9 1.2h0m12.8 .9h0m-2.5 1.2h0m-.1 .8h0m-2.1 1.4h0m.8 .9h0m-4.2 1.4h0m5.4 .4h0m-7.9 .7h0m1.4 1.8h0m9 .3h0m-8 .5h0m-6.6 .4h0m6.9 2.8h0m-2.8 1.7h0m5.2 1.2h0m2.9 .3h0" stroke="rgb(0,191,191)"/><path d="M234.4 116.1h0m3.8 7h0m-4 2.2h0m-2.3 10.7h0m2.7 2.3h0m9.8 3h0m-7.3 4.1h0m-8.9 .8h0m12.4 .4h0m-4.5 2.7h0m-5.5 1.1h0m.3 .3h0m4.3 .4h0m1.4 .2h0m-1.6 1.3h0m-.1 1.5h0m.7 1.7h0m-9.2 2.8h0m9.4 .1h0m1.5 .5h0m4.7 .8h0m-3.4 .4h0m-8.2 .6h0m6.2 .4h0m-3.2 .1h0m6.8 .3h0m0 0h0m-1.4 .8h0m-3 .6h0m-.2 .3h0m3.2 1.2h0m.2 0h0m-.3 1.8h0m2.1 .2h0m1.2 2h0m-14.1 .7h0m3.8 .2h0m2.4 .2h0m4.4 1.7h0m-7.8 .9h0m3.6 .8h0m.7 .4h0m.1 1.5h0m8.3 1.5h0m-12.1 2h0m6.7 3.6h0m-5.3 1.6h0" stroke="rgb(0,191,191)"/><path d="M234.9 106.2h0m5.3 8.8h0m-.1 0h0m-1.3 3.4h0m-1.5 2.2h0m5 1.1h0m-2.4 4.6h0m0 4.6h0m-5.6 .2h0m3.7 7h0m-2 3h0m2.7 3.6h0m5.7 .4h0m-14 1.5h0m7.5 1.5h0m-.4 1.4h0m1.2 1.3h0m-5 2.2h0m5.2 .7h0m-10.6 1h0m9.2 .6h0m2.1 .6h0m-8.4 .6h0m4.1 0h0m2.7 .4h0m4.3 1.3h0m-6 1.7h0m-3.7 .1h0m-.3 .5h0m1.9 .2h0m6.2 .7h0m1.6 1.1h0m.5 0h0m-3.5 .2h0m1.7 0h0m3 .5h0m-4.6 .1h0m-7.3 .5h0m-.1 .5h0m6.5 .9h0m-3.4 3.3h0m7.8 .7h0m-11.7 1.4h0m7.4 .2h0m-4.3 .1h0m-3.5 .5h0m4.1 3.5h0m1.2 .8h0m-2.9 .1h0m2.1 2.7h0m-1.2 .5h0m3 2.5h0" stroke="rgb(0,191,191)"/><path d="M237.6 131.3h0m3.2 .3h0m-9.8 2h0m-3.6 7.6h0m9.6 .6h0m.4 1.3h0m-6 1h0m3.3 1h0m-1.4 .8h0m3.4 .4h0m-3.1 1.2h0m6 2.3h0m-5.3 .5h0m5.6 1.7h0m-2 .2h0m-7 2.2h0m.5 .9h0m-.8 1.6h0m6.6 .2h0m.9 .4h0m-5.9 .9h0m9.5 .2h0m-5.8 1h0m-2.3 .1h0m1.5 1.3h0m1.7 1.8h0m-.6 .1h0m-6.1 .6h0m7.6 1.1h0m1.6 .1h0m-3.4 .5h0m-2.9 1.5h0m2.5 .4h0m7.7 .3h0m-10 .9h0m9.3 .5h0m-11 0h0m3.1 .3h0m.5 3.7h0m5 .2h0m-4.3 .4h0m6 1h0m-9.9 4.5h0m7.7 .1h0m2.9 1.6h0m-8.2 5.5h0" stroke="rgb(0,191,191)"/><path d="M236.1 103h0m-2.3 22.6h0m.8 3.9h0m-3.2 3.6h0m6.1 .6h0m-1.4 .7h0m-3.2 .3h0m-1.4 .9h0m8.3 9.2h0m2.5 .9h0m-8.8 .6h0m-4 .2h0m1.4 2h0m6.4 1.9h0m-1 .1h0m6.4 .4h0m-9.5 .4h0m-1.9 2.3h0m8.7 1.2h0m-3.3 .4h0m-.2 1.4h0m-4.9 .4h0m3.8 .7h0m1.2 1.7h0m9.7 .5h0m-9.4 1.5h0m-8.2 .7h0m3.1 .6h0m5 .5h0m-4.9 .1h0m5.4 1.2h0m2.8 1.7h0m-11.2 0h0m4.3 .4h0m4.6 .6h0m-5.8 0h0m8 1h0m.5 .3h0m-11 1.4h0m9.6 .1h0m-4.4 .3h0m.5 .6h0m5.6 1.9h0m-8.9 .5h0m13.1 .1h0m-10.2 .2h0m-.9 .7h0m2.8 .4h0m1.3 .8h0m-7.5 .5h0m-2.6 1.3h0m10.7 .6h0m-9.8 10.4h0" stroke="rgb(0,191,191)"/><path d="M231.6 48.6h0m12.5 63.9h0m-7.9 19.8h0m-2.9 3.4h0m3.2 4h0m7.2 4.8h0m-3.3 .2h0m-2 .5h0m-11.7 0h0m2 .9h0m12.2 .1h0m-8.4 .4h0m6.8 1.8h0m-.1 1.6h0m-6.6 .9h0m8.7 .3h0m-13.1 0h0m8.9 1.3h0m-7.4 .7h0m4.1 2.9h0m.9 1.9h0m-2.6 .1h0m3.6 .6h0m-4.5 2.4h0m4.3 1h0m-.5 2.4h0m1.1 .8h0m2 .8h0m1.1 .7h0m-6.8 1.8h0m8.9 .1h0m-4.2 .8h0m5.5 .1h0m-6.7 1.2h0m-3.7 1.1h0m3.4 .7h0m-1.4 .4h0m3.1 .5h0m-.5 .9h0m.4 4h0m-2.5 8.1h0m-.3 3.7h0" stroke="rgb(0,191,191)"/><path d="M224.1 118.4h0m18.7 11.8h0m-11.5 2h0m3.9 3.5h0m2.2 2.8h0m.4 1.7h0m-6.3 1.2h0m1 1.9h0m-6.5 .3h0m10 .2h0m-.3 .8h0m-.3 .6h0m-1.2 .6h0m-7.2 .3h0m1.1 .5h0m6.4 3.5h0m-7.3 .3h0m6.7 2h0m1.5 1.2h0m-7.7 .2h0m10.6 .7h0m1.4 .8h0m4.8 4.1h0m-7.8 .3h0m-2 2.1h0m2.2 .5h0m-8.1 .1h0m8.6 1.4h0m.8 .2h0m-2.1 3.3h0m-.1 .7h0m-4 .2h0m1.6 .4h0m-7.9 .1h0m9.3 .3h0m-4.8 .8h0m6.9 .2h0m4.6 .8h0m-2.5 .1h0m-9.1 1.8h0m1.3 .9h0m5.4 0h0m.2 .5h0m-1.2 0h0m-1.5 1.6h0m4.7 .4h0m-9.3 4.5h0" stroke="rgb(0,191,191)"/><path d="M233.1 127.2h0m4.2 12.3h0m-4.4 2.2h0m3.3 .3h0m-4.3 .6h0m8.9 .4h0m-10.8 1.2h0m5.7 1.2h0m5.6 1.7h0m-7 1.6h0m3 2.3h0m-2.3 1h0m-3 .5h0m-2.1 2h0m8.2 .7h0m-3.2 2.3h0m6.5 .2h0m-3.8 0h0m2.1 .6h0m.3 2.4h0m-5.9 2.2h0m3.8 .7h0m-3.2 .5h0m-10.5 .8h0m12.7 1.1h0m-6.1 .2h0m-1.6 1.1h0m4.6 .7h0m4.8 .1h0m.5 .7h0m-4.8 1.9h0m4.8 .2h0m-4 4.5h0m3.3 1.5h0m.6 .5h0m-5.9 0h0m-.6 .9h0" stroke="rgb(0,191,191)"/><path d="M233.1 118.8h0m2.3 12.5h0m-1.6 4.6h0m-1.7 6.7h0m11.5 3.3h0m-7.5 1.1h0m-1.4 2h0m1.3 1.1h0m-7 .4h0m8.4 1h0m-1.1 .2h0m-3 1h0m2 1.1h0m8.3 1.1h0m-16.1 .4h0m6.5 1.1h0m-.8 .1h0m7 1h0m-5 1.4h0m-1.8 .7h0m4.9 1.1h0m-6 .2h0m3.9 1.5h0m-8.9 1h0m4.1 .6h0m4 0h0m-6.4 .2h0m-3.2 .7h0m7.6 1.8h0m5.7 1.1h0m-1.5 1.6h0m-1.1 .2h0m-5.1 .6h0m-1.4 1h0m8.1 .1h0m-6.6 .1h0m5.5 .1h0m2.2 1h0m-12.9 0h0m10.8 .2h0m-7.8 4.4h0" stroke="rgb(0,191,191)"/><path d="M242.8 107h0m-9.7 21.5h0m7.3 .9h0m-1.8 .3h0m-5.3 4.9h0m4.9 2.3h0m-5.1 .6h0m-5 1.1h0m1.5 1.3h0m10.2 1.5h0m-1.8 .1h0m-7.6 2.4h0m5.4 .1h0m2.4 3.9h0m-1.7 5h0m-11.2 6.6h0m9.5 .1h0m0 .1h0m-5.3 .4h0m5.5 .2h0m-4.6 .2h0m2.9 2.5h0m4.4 2.8h0m1.1 .1h0m-1.4 3.1h0m-6.8 1.1h0m4.9 .8h0m3.1 1.3h0m-.3 .4h0m-9.2 1.7h0m4.5 .8h0m-2.9 1.5h0m5.3 2.6h0" stroke="rgb(0,191,191)"/><path d="M233.1 118.4h0m4.8 5h0m-5.4 9.3h0m1.6 1.3h0m-2.9 3.1h0m-1 4.5h0m5.5 1.2h0m-7.2 1.8h0m8.4 4.2h0m.2 3.8h0m-4.1 1.6h0m5.3 2.8h0m-4.9 .5h0m7.7 .1h0m-10.2 .4h0m2.6 .4h0m1 .9h0m-8.3 2.3h0m13.2 .8h0m-7.5 1.3h0m-2.7 .8h0m-2.1 0h0m9.3 .2h0m-1.3 .2h0m-6.3 1.9h0m-2.6 .9h0m7.6 .1h0m-.1 .2h0m-4.3 .6h0m1.3 .4h0m2.5 .6h0m-3.4 .6h0m5.5 .6h0m2.2 1.2h0m3.8 .1h0m-3.9 2.4h0m-4.4 .9h0m2 0h0m-5.8 .6h0m7.8 0h0m-3.8 1.5h0m2.2 .4h0m.1 .5h0" stroke="rgb(0,191,191)"/><path d="M234 108.1h0m-2.8 24.3h0m8.8 10.3h0m-12.4 6.3h0m6.2 .1h0m3.6 2.2h0m3.3 .4h0m-10.5 .6h0m3.9 .7h0m1 .3h0m1.1 .6h0m-4.7 .7h0m-1.6 2.1h0m.2 3.3h0m5.9 .2h0m-3.8 1.3h0m4.3 .4h0m2.3 .2h0m-2.7 3.5h0m-.2 1h0m-7.5 1.2h0m9.8 2.4h0m-6.1 .4h0m10.1 1.1h0m-11.8 .9h0m6.3 0h0m3.3 .1h0m-9.7 0h0m3.8 1.1h0m-3.2 .5h0m4.6 3.2h0m.4 2.4h0m-6.6 5.9h0m2.9 4.2h0" stroke="rgb(0,191,191)"/><path d="M239.7 88.2h0m-2.3 50.1h0m-13 2.8h0m11.3 1.8h0m4.9 3.9h0m-9.2 1.7h0m7.6 .8h0m-4.1 .9h0m2 1.7h0m-3.5 1.8h0m8.2 1.8h0m-8.4 .8h0m2.4 .3h0m0 .5h0m1.8 2.7h0m6.1 .7h0m-16.9 1.8h0m12.2 .6h0m-9.5 .8h0m10.1 2.5h0m-7.8 .7h0m2.7 .1h0m-1.1 .7h0m-.3 .1h0m2.2 .1h0m-2.7 .2h0m2.9 .7h0m.4 .1h0m-4.4 1.1h0m6 1.2h0m-5.6 .2h0m7.6 1.1h0m-4.1 .1h0m-3.9 .2h0m3.7 1.2h0m-6.4 1.5h0m7.7 2.9h0m1.3 6.7h0" stroke="rgb(0,191,191)"/><path d="M235.7 118.4h0m-4.5 13.6h0m3.8 2.5h0m3.8 2.5h0m-1.1 4h0m.5 3.6h0m-6.7 1.3h0m3.8 1.5h0m6.2 .5h0m-5.1 5.2h0m-3.2 2.7h0m.5 .8h0m4.9 1.3h0m-5.8 .4h0m8.4 .6h0m-5 .7h0m1.6 .9h0m-4.8 2.6h0m6.5 4.4h0m-1.3 .1h0m-1.1 .3h0m2.3 1.1h0m-8.6 2h0m8.4 .8h0m-2.2 1.2h0m-4.6 2.4h0m-2.7 .1h0m5.6 .5h0m-2.5 2.2h0m8.2 9.3h0" stroke="rgb(0,191,191)"/><path d="M236.9 131.6h0m-8.9 .2h0m5.2 2.6h0m4 2.9h0m-9.2 7h0m7.1 3.1h0m1.7 .7h0m-.1 1.3h0m2.3 3.6h0m-2.1 .3h0m.7 2.6h0m-7 .9h0m1.7 .3h0m4.9 1.3h0m.8 0h0m-6.2 .3h0m1.4 .1h0m8.2 1h0m-6.1 .8h0m1.9 .4h0m4.6 .5h0m-10.2 .4h0m1.8 .6h0m-1.4 .1h0m8.6 .2h0m-1.8 .1h0m2.7 2.9h0m-15.1 .6h0m7.6 1.9h0m2.6 .6h0m-1.8 .3h0m7 1.5h0m.9 2.1h0m-6.8 .3h0m-4.7 .5h0m5.1 2.3h0m8.3 3.1h0m-4.3 2.6h0" stroke="rgb(0,191,191)"/><path d="M236.7 118.4h0m6.4 4.6h0m-11 10h0m0 3.9h0m-.8 8.5h0m2.3 2.6h0m-4.6 1.5h0m4.6 3.4h0m-.9 1.2h0m-.1 1.3h0m4 .4h0m-3.9 1.1h0m-1.3 1.1h0m5.9 .5h0m-.1 .5h0m1.5 0h0m-1.9 .9h0m-4.5 .1h0m6.1 1.2h0m-6.5 .2h0m3.3 .1h0m-4.8 2.3h0m1.4 3.7h0m5.3 2.9h0m-6.8 2.1h0m3.5 .4h0m-1.4 1.9h0m2 1.8h0m2.6 2.6h0m-4.7 .4h0m4.1 2.9h0m-4.2 1.2h0" stroke="rgb(0,191,191)"/><path d="M234.9 127.9h0m4.6 12.1h0m-.4 1.2h0m-.9 3.3h0m-3.6 2.6h0m.7 .4h0m-.7 .9h0m-5.4 .5h0m6.5 .2h0m4.4 0h0m.3 .2h0m-10.7 2.4h0m3.8 .4h0m-2.2 .6h0m5.4 .2h0m.1 0h0m-4.2 .6h0m5.8 2h0m-4.5 .5h0m-2.8 0h0m5.4 .5h0m.5 .1h0m1.3 .8h0m-9.3 2h0m3 .5h0m4.4 1.4h0m.3 0h0m-1.5 .6h0m2.4 .7h0m-8.5 0h0m3.6 1h0m5.7 0h0m-3.2 .4h0m2.8 2.1h0m-7.9 .7h0m2.7 1.3h0m-2.4 .5h0m2.7 .6h0m5.2 .1h0m-2.9 .8h0m-1.2 1.3h0m7 .2h0m-3.7 1.8h0m-1 .5h0m-1.9 .9h0m5.2 .6h0m-6.6 2h0m1.8 20.5h0" stroke="rgb(0,191,191)"/><path d="M234.2 118.8h0m1.1 1.6h0m-.3 11.8h0m-6 3.4h0m.4 1.7h0m9.5 1.8h0m8.1 .1h0m-11.4 .2h0m-4.5 .7h0m.3 .6h0m-.6 2.8h0m5.8 3.2h0m-4.9 1.2h0m.8 3.7h0m-.8 .2h0m8.1 0h0m-4.4 3h0m1 1.2h0m-.8 .2h0m1.9 1.4h0m-6.7 0h0m5.8 1.2h0m-2.7 3.5h0m-2.2 .1h0m5.1 0h0m-1.1 1.2h0m5.4 .7h0m-5.4 2.2h0m-1.5 1.5h0m8.1 1.7h0m-4.8 .1h0m.4 .3h0m.7 .7h0m-1.7 5.1h0m-8 .2h0m9 2h0m-6.1 1h0" stroke="rgb(0,191,191)"/><path d="M239 125.6h0m-4 6.5h0m-4.4 4.8h0m8.5 1.6h0m-8.2 .9h0m8.1 1.1h0m-3.5 5.3h0m-1.6 .3h0m-2.2 .1h0m-.1 2.4h0m5.2 1.1h0m-3.7 3.6h0m2.1 0h0m7 .3h0m.1 .1h0m-6.5 .9h0m1.2 1.2h0m-2.8 2.8h0m-4.2 .6h0m8.3 .6h0m1.8 1.2h0m-4.7 .3h0m-.9 2h0m-1.8 .5h0m3.6 .2h0m-5.8 .1h0m3.5 .7h0m5.7 .5h0m-4.4 .1h0m3.2 3.5h0m-2.4 .2h0m1.5 .4h0m-4.3 1.2h0m5.8 .2h0m-1.3 .1h0m-6.4 .3h0m3.6 4.4h0m1.7 .4h0m-1.2 .2h0m-.7 .5h0m-.5 2.6h0m-.8 .3h0" stroke="rgb(0,191,191)"/><path d="M238.1 125.8h0m2.4 1.6h0m-4.9 5h0m-3.2 3.5h0m3.3 2.3h0m4.3 2.3h0m-5.3 1.6h0m-3.6 3.6h0m.1 .1h0m3.1 1.1h0m-.5 .7h0m-1.4 1.7h0m8.2 .1h0m-8.5 1.3h0m6.2 .3h0m1.8 .3h0m-1.5 1.2h0m-8.3 .2h0m2.6 1.2h0m4.9 .9h0m-4.7 .1h0m2.6 .5h0m-4.3 .4h0m5.2 2.4h0m-2.7 .7h0m-4.5 1h0m8.1 .6h0m-.5 1.1h0m-5.1 .9h0m2.1 .3h0m-4.7 .6h0m3 .3h0m.4 1.4h0m5.4 .2h0m-2 1.4h0m-2 .4h0m-4.9 0h0m6.2 .3h0m1 1.6h0m-5.1 .2h0m1.6 .7h0m-3.6 .4h0m9.8 .8h0m-4.2 .7h0m-4.8 .1h0m3.9 .6h0m-1.4 .6h0m-3.9 .2h0m14.2 .7h0m-14 .2h0m6.4 .5h0m4.7 .2h0m-4.8 .2h0m-2.7 3.6h0m-1.1 .9h0m7.8 8.8h0" stroke="rgb(0,191,191)"/><path d="M235.8 124.4h0m-2.5 1.3h0m1.2 1.6h0m-.2 3.5h0m-2.4 2.5h0m5.7 5.5h0m-5.2 2.7h0m1.5 .8h0m4.3 1.1h0m-.3 3.6h0m-5.7 .3h0m6 .3h0m-3.5 2.8h0m-1.9 .1h0m2 3.8h0m5.2 1.7h0m-8.5 .1h0m3.6 1.4h0m-.7 .2h0m3.8 .1h0m.2 .7h0m-3.7 .4h0m.2 .7h0m-.8 1.3h0m1.9 1h0m-5.3 3.7h0m1.9 .5h0m.4 .4h0m.9 2.8h0m6.5 0h0m-2.2 .3h0m-6.1 .7h0m.9 2.7h0m-4.8 .2h0m9.4 1.5h0m-.1 3.6h0m-7.4 .8h0m2.1 .3h0m-2.4 3.2h0" stroke="rgb(0,191,191)"/><path d="M234 131.7h0m-.8 2.6h0m.8 3.1h0m-1.9 1.1h0m3.7 4.8h0m2.8 4.3h0m-2.5 1.1h0m-1.6 2.2h0m0 .6h0m2.6 0h0m-4.4 .5h0m6.7 .1h0m-2.5 .5h0m-1.2 1.1h0m-1.4 .9h0m-2.9 2.4h0m4.3 .2h0m-2.7 .2h0m3.9 .5h0m-2.4 .1h0m-1.5 2h0m5.2 .4h0m4.9 .1h0m-4.1 .9h0m-1.3 1.2h0m-5 5.9h0m5.5 .7h0m-4.4 .8h0m5.1 .6h0m.8 1h0m-6.9 .8h0m1.2 2.5h0m-4.7 2.5h0m8.3 .9h0m-3.6 7.2h0m-2.5 2.1h0" stroke="rgb(0,191,191)"/><path d="M284.4 116.2h0m7.3 10.8h0m-1.5 .5h0m-1.4 1.4h0m12.7 16.3h0m-10.4 .7h0m-6.8 .2h0m7 1.8h0m6.5 .1h0m-10.4 .6h0m1.9 0h0m2.3 .2h0m-3 2.4h0m0 .4h0m-.9 1.9h0m-3.6 .3h0m.9 .9h0m7.9 .6h0m2.6 .6h0m-8.7 .3h0m.6 .1h0m.4 2.1h0m5.2 1.6h0m-3.1 1h0m5.7 .4h0m-3.8 .2h0m-1.2 1.4h0m1.8 0h0m.5 .2h0m-3.9 2h0m2.7 1.5h0m6.8 .2h0m-7.5 .2h0m-7.4 .4h0m7.6 1.5h0m1 .5h0m1.4 1.1h0m-4.3 .9h0m6.2 .4h0m-6.5 1.6h0m-.3 .9h0m-.3 .4h0m4.3 1.4h0m-7.3 .9h0m9 .5h0m-2.4 0h0m-2.2 2h0m7.4 .1h0m-8.6 .5h0m-2.5 0h0m3.1 .8h0m1.6 1.8h0m-6.6 .2h0m7.2 4.8h0m-.9 .8h0m1.1 1.3h0m-1.9 .8h0m1.2 .4h0m2.3 1.5h0m-.7 .5h0m-3.1 .5h0m5.8 1.5h0m-4.4 0h0m-8.5 .7h0m8.4 .5h0m-3.7 1.5h0m-.3 1.2h0m4.1 .8h0m6.5 0h0m-6.9 1.9h0m-4.7 .2h0m.9 1.2h0m-1.5 .1h0m3.9 1h0m-.7 0h0m-1.7 1.4h0m.7 0h0m4.1 .6h0m.5 .4h0m-2.8 .9h0m-1.9 .2h0m.8 .6h0m-6.1 .1h0m8.2 .1h0m-4.2 .1h0m4.8 1.1h0m2.5 .2h0m-2.6 .3h0m6.1 .5h0m-6.8 0h0m8.3 .2h0m-2.4 .1h0m-2.2 .1h0m-1.6 .7h0m-.5 .2h0m1.4 .7h0m.6 0h0m-2 .3h0m5.2 .4h0m0 .4h0m-4.1 .2h0m.6 .2h0m1 .2h0m-4.2 .1h0m3.4 .1h0m-6.2 .1h0m.5 .1h0m4 .5h0m-3.7 .1h0m.7 .2h0m2.9 1.7h0m2.3 .8h0m2.1 .2h0m-3.1 1h0m-2.7 .5h0m-1 0h0m11 .4h0m-8.2 .1h0m-.2 .1h0m-7.9 .7h0m12.3 .8h0m-6.2 .5h0m-4.4 1.2h0m11.5 .4h0m-4.9 .9h0m-2.5 .6h0m-7.9 1.2h0m6.3 .5h0m3.6 .8h0m.3 .3h0m-2 .2h0m5.2 1.2h0m-2.4 2.8h0m-2.9 1.2h0m2.6 .1h0m-.4 2.4h0m-1.7 .8h0m-1 1.3h0m4 .2h0m0 1.3h0m-.8 .9h0m.2 .6h0m-.5 1h0m-4.8 1h0m4.7 .3h0m-.5 .5h0m-6.5 .1h0m3.9 0h0m6.4 .3h0m-6 .7h0m-4.7 .2h0m7.4 .2h0m-6.7 .2h0m4.4 1h0m-1.6 .1h0m1.3 .6h0m-4.8 .1h0m2 0h0m8.4 .2h0m-4 .9h0m-2.1 .2h0m4.9 .7h0m-3.8 1.1h0m3.5 1.9h0m.1 .3h0m-.7 .2h0m5.9 2.5h0m-7.3 .5h0m-1.4 1.3h0m.4 .3h0m-1.6 .2h0m4.6 .9h0m-9.3 .2h0m7.2 1.6h0m-1.6 1.3h0" stroke="rgb(255,0,0)"/><path d="M290.9 118.4h0m-2.9 .6h0m3.9 11.5h0m-3.6 8.1h0m5.5 .9h0m-5.6 .9h0m3.3 .3h0m-4.8 5h0m5.8 3.1h0m-4.8 3.3h0m3 .9h0m-.1 0h0m1.3 .7h0m4.2 1h0m-4.9 .4h0m-4.8 .5h0m-2.4 1.8h0m11.2 .2h0m-3.9 2h0m-5.3 .7h0m-1.3 2.4h0m6 0h0m-3.3 0h0m.6 .4h0m.3 .4h0m-4.6 1.4h0m4 0h0m5.9 2.5h0m-3.2 .4h0m1.6 2.9h0m7.4 .7h0m-8.3 .6h0m4.1 .5h0m-.2 0h0m-9.1 .9h0m-.8 .3h0m1.3 .9h0m-.8 2.1h0m7.5 .1h0m5.9 1h0m-15.8 .4h0m7.6 .1h0m.9 1.8h0m2.7 .4h0m-2.8 0h0m-2.2 4.8h0m3.5 1.7h0m-6.5 .3h0m6.6 .3h0m-12.4 1.2h0m8.7 .7h0m3 .3h0m-.9 .3h0m.3 1.7h0m-2.2 .1h0m2.5 .3h0m4 1.9h0m-11.3 1.3h0m4.2 2.1h0m.4 .7h0m6.6 .9h0m-7.7 .2h0m6.8 .9h0m-7.4 .3h0m5.9 1.3h0m-8.4 0h0m10.4 .2h0m-4.5 .7h0m2.9 0h0m-6.2 .3h0m2.7 .2h0m1.7 1.7h0m-9.3 .3h0m8.7 .3h0m-1.7 .6h0m4.1 .3h0m-1.2 .1h0m4.3 .3h0m-5.4 .1h0m-2.5 .6h0m-2 .7h0m3.2 .1h0m-1.1 .2h0m1.4 .8h0m1 .2h0m.5 .3h0m-7.9 .4h0m9.4 .2h0m-6.5 .1h0m4.3 .3h0m7 .2h0m-4.7 .1h0m-7.5 .6h0m5.9 1.1h0m-5.7 .1h0m6.5 .1h0m-4.6 .2h0m-7.1 .8h0m4.3 .1h0m7.5 .4h0m-.3 .1h0m.4 .9h0m-1.4 0h0m-1.6 .1h0m-5.7 .3h0m6.1 0h0m1.2 .4h0m3.9 .2h0m-5 2.4h0m-9.6 .1h0m10.5 .4h0m6.2 .1h0m-7.7 .8h0m6 .5h0m-4.5 .2h0m-3 .3h0m5.9 .1h0m5.2 1.1h0m-18.3 .6h0m8.9 1.6h0m3.5 .6h0m5 2.2h0m-6.5 3.9h0m6.1 1.8h0m-8.4 .2h0m-4.8 .4h0m3.6 .1h0m-.4 1h0m1.2 .1h0m-4.4 .1h0m3.7 .7h0m-2.4 .2h0m4.5 1.4h0m1.5 .1h0m3.6 .5h0m-7.2 1.1h0m-.9 1.2h0m-.5 1h0m9 .1h0m-11.6 .4h0m4.9 .3h0m3.1 .5h0m.5 1h0m1.5 0h0m-.5 1.8h0m2.4 .4h0m-7.1 .7h0m6.8 0h0m-2.9 .1h0m-9 .7h0m2 .5h0m5.3 2.2h0m1.5 .1h0m-3.4 .3h0m3.5 .4h0m3.4 .3h0m-2.7 .2h0m-2.7 .9h0m-1.4 .2h0m5.7 .4h0m-4.4 .9h0m-4.5 1.2h0m6.3 .2h0m-7.7 .3h0m4.8 2.1h0m4.8 .6h0m-3.1 1.3h0m-2.7 2.1h0m.8 1.4h0m-1.5 .6h0m2.7 1.7h0m1 .9h0" stroke="rgb(255,0,0)"/><path d="M287.7 125.1h0m-3.6 4.7h0m9.9 7.2h0m-1.5 .2h0m.7 2h0m-5.1 .7h0m1.2 1.1h0m.4 .3h0m2.5 3.6h0m-8.3 .1h0m7.9 1h0m-3.7 .5h0m-1.2 1.3h0m8.2 1.6h0m-1.9 .5h0m-5.3 .5h0m3.6 .3h0m1.8 5.4h0m-6.7 .5h0m9.1 0h0m-7.9 .4h0m5 2.8h0m-1 .4h0m3.4 .3h0m-7.8 .1h0m-4.6 .2h0m10.6 1.4h0m-1.3 .2h0m.7 .7h0m-.7 .3h0m.4 1.1h0m-4 .1h0m.9 .3h0m1.8 0h0m.7 1.2h0m2.2 .5h0m1.5 0h0m-4.1 2.2h0m.6 1.3h0m-1 .7h0m-1.8 3.8h0m.5 1.6h0m1.6 .3h0m-1.8 1.6h0m-1.3 1.5h0m4.4 1.2h0m.7 1.2h0m-.6 .5h0m2.6 1h0m-8.1 4.1h0m2.9 1h0m-7.8 .1h0m5.4 0h0m.8 .1h0m-4.3 .3h0m1.5 1.3h0m9.6 .1h0m-.6 .1h0m-6.9 0h0m3.6 .5h0m-.2 0h0m5.3 5.4h0m.7 .1h0m-4 .7h0m2.2 .9h0m-1.8 0h0m1.4 1.5h0m-4 .1h0m-3.7 .1h0m2.2 .2h0m8.3 .3h0m-9.6 .5h0m-1.5 1.1h0m3.1 1.5h0m-3.8 .1h0m2.7 .9h0m-1.8 .1h0m-2.5 1.1h0m7 0h0m-3.3 .4h0m-.9 .5h0m.6 .1h0m4.6 .2h0m3 .5h0m-1.2 .6h0m-6.7 1h0m-6.1 .8h0m9.8 .5h0m-3.3 .1h0m2.4 0h0m-1.7 .4h0m6.2 1.2h0m-6 .2h0m10.3 .2h0m-14.4 .1h0m11.3 .2h0m-3.2 .1h0m-6.5 .7h0m10.3 .3h0m-7.2 .7h0m1.7 .2h0m3.2 .6h0m-4.1 0h0m1.6 .6h0m4.5 .5h0m-2.4 .7h0m-7.3 .5h0m4.4 .8h0m2.1 0h0m-6.4 .7h0m5.8 .1h0m-3 .1h0m-1.3 .1h0m10.9 .2h0m-11.2 1.1h0m7.7 1.3h0m-9.7 .5h0m1 0h0m-.4 .2h0m5.6 1.3h0m-1.8 .3h0m-.8 .1h0m-3.5 .2h0m3.3 .5h0m.9 .9h0m1.5 .1h0m-5.9 .2h0m6.4 1.1h0m1.9 .2h0m-4.3 .1h0m4.1 2.1h0m-.4 1.5h0m-1.1 2.2h0m-1.6 1.2h0m4.7 0h0m-9.6 .7h0m3.7 .6h0m-.3 .3h0m7.6 .8h0m-5.4 .5h0m1.9 1.2h0m-3.3 2.4h0m-1.4 2.6h0m-1.6 .5h0m3.6 1h0m-2.5 .2h0m1.1 .3h0m-2.4 1.4h0m3.8 .6h0m-1.8 .6h0m1.3 .9h0m-.1 4.5h0m-1.3 .1h0m4.8 1.3h0m-.5 .2h0m-.6 .2h0m8.1 1.1h0m-16 1h0m10.6 3.3h0m-4.9 2.4h0m1.2 2.4h0" stroke="rgb(255,0,0)"/><path d="M290.3 85.1h0m2.7 45h0m2.2 .5h0m-6 2.5h0m0 4.2h0m1.9 2.2h0m-5.2 .1h0m9.4 .5h0m-3.3 .5h0m3.6 0h0m-2.6 1.4h0m.8 1.5h0m-5.8 .1h0m-2.1 1.3h0m.9 1.8h0m2.6 .5h0m3.8 1.6h0m-1.3 1.3h0m1.2 1.3h0m-2.9 .5h0m-.4 .1h0m.9 1h0m3.9 .5h0m-.5 .4h0m-5.1 3h0m5.6 2.1h0m-1.4 1.2h0m.4 1.8h0m-2.4 .4h0m1 .8h0m-4.3 .5h0m0 0h0m9.8 .7h0m-8.3 .1h0m2.3 .3h0m6.7 .1h0m-8.4 .3h0m-4.7 .6h0m3.4 .7h0m3.7 .1h0m-.3 .9h0m1.1 4h0m-4.8 .3h0m-3.7 .1h0m3 1.4h0m6.8 3.6h0m-1.7 .3h0m-2.9 .6h0m-1.7 .3h0m-1.4 1.9h0m6.9 .6h0m-3.5 .8h0m10.2 .2h0m-9.3 .6h0m.5 1.1h0m-5.2 4h0m1.7 1h0m-2.6 .7h0m9.2 .9h0m3.4 .6h0m-6.5 .1h0m-5.5 .8h0m-.6 1.5h0m7.9 .1h0m1.2 1h0m-1.4 0h0m3.3 1.7h0m.4 1.1h0m-8.6 1.4h0m.3 0h0m-2.7 .2h0m-3 .2h0m5.9 .2h0m2.3 1h0m-2.8 .2h0m1.7 .3h0m6.5 .4h0m-5.6 .2h0m.7 0h0m-3.3 1.1h0m9 .1h0m-3.7 1.3h0m-3.3 .4h0m.9 .6h0m-4.1 .8h0m3 .5h0m-7.4 .1h0m3.5 .2h0m4.8 .7h0m.1 1.3h0m-1.7 .3h0m4.6 .2h0m1.3 .3h0m-2.5 .2h0m-4.8 .5h0m1.2 .4h0m2.7 .3h0m1.2 .1h0m2.2 .3h0m-6.4 .7h0m3.2 .1h0m-5.4 .1h0m6 .5h0m-2.7 .5h0m-4.4 .5h0m3.3 0h0m.6 .2h0m.9 1.4h0m3.4 .9h0m.9 .5h0m-6.4 0h0m7.7 .4h0m-2.3 .5h0m-6.8 .9h0m1.5 .1h0m6.2 .7h0m-1.9 .1h0m-1.1 2.1h0m3.1 .1h0m-4.5 .3h0m-3.7 .6h0m-6.4 .4h0m6.7 .3h0m-3.2 .3h0m-.4 .2h0m13.1 1.9h0m-5 .4h0m1.3 .7h0m-1.5 .2h0m.5 .5h0m.2 1.8h0m6.4 .2h0m-1.5 .1h0m-1 .1h0m-6.5 .4h0m-2.3 .5h0m7.2 .5h0m-7.6 .7h0m1.6 1h0m5.4 1.5h0m-.1 1.3h0m3.6 .7h0m.3 0h0m-8.7 3.6h0m4.9 0h0m-7.7 .7h0m11.7 .3h0m-15.2 0h0m5.9 .3h0m3.5 .4h0m-3.9 1.3h0m.5 2.2h0m8.1 .1h0m-7 .3h0m6.3 .7h0m-8.2 .3h0m9.4 .1h0m-6.1 .1h0m4.6 .2h0m0 2.4h0m-10.3 0h0m8.2 1.9h0m-3.7 .1h0m3.9 2.2h0m-2.5 .4h0m13.9 .3h0m-19.3 .1h0m2.2 0h0m3.3 2.2h0m-3.9 0h0m5.4 1h0m-6.1 2.3h0m-.6 1.2h0m2.4 2.7h0m6.5 .4h0m-5.6 .2h0m-.1 2.7h0m8.5 1.5h0" stroke="rgb(255,0,0)"/><path d="M292.3 125.4h0m.7 0h0m-2.2 7.6h0m-8.3 4.4h0m5.9 2.1h0m-1.7 .9h0m-4.3 1.4h0m4.2 .4h0m6.8 .2h0m-8.1 .7h0m9.6 3.7h0m-.4 .3h0m7.3 .1h0m-14.9 .3h0m-.9 .2h0m7.1 .6h0m-5 .3h0m7 1.9h0m-1.9 1.5h0m-5.1 .2h0m2.2 .1h0m-.9 1.2h0m1.7 1h0m-1.6 1.9h0m-4.1 1.3h0m5.5 .4h0m-3.3 .5h0m-.4 1.4h0m4.3 .1h0m1.6 .7h0m-5.4 1.2h0m4.2 1h0m4.3 .6h0m-6.2 1.2h0m-3.4 .7h0m.4 1.1h0m2.9 .5h0m3.6 .2h0m.6 3h0m-1.3 .5h0m-2.6 1.5h0m-3.6 .7h0m3.5 1.1h0m7.3 0h0m-9.1 2.2h0m2.6 .8h0m3.9 2.5h0m-1.1 1.8h0m-3.5 .1h0m9.2 1.4h0m-6.9 2.2h0m.8 .1h0m-9.5 1.1h0m5.9 .6h0m-.2 .8h0m-1.5 .7h0m-2.1 .7h0m.8 .1h0m1.8 .3h0m2.2 0h0m-5.5 .2h0m-2.9 .7h0m13 .3h0m6.4 .3h0m-17.4 .8h0m9.3 .6h0m.3 1.5h0m-1.6 .8h0m-6.6 .1h0m-4.1 2h0m15.8 .6h0m-8.5 .6h0m0 .8h0m2.5 0h0m-1.6 .7h0m5.8 .1h0m-5 .4h0m-.1 1.7h0m7.2 .2h0m-4 .2h0m1.7 .6h0m-.6 .7h0m-9.3 .1h0m5.4 .8h0m1.3 .5h0m-3.1 .5h0m.6 .4h0m-.7 0h0m.7 .9h0m2.4 .1h0m.5 .9h0m-4.9 1h0m5.3 .1h0m-9 .7h0m3.1 0h0m-3.9 .5h0m10.6 .6h0m-3.9 .1h0m-2.7 0h0m2.4 .4h0m6.3 .1h0m-.9 .7h0m-1.8 .6h0m-1.7 .4h0m-3.6 .3h0m2.3 .3h0m2.4 .6h0m-.6 0h0m2.2 1h0m0 .2h0m-.3 .4h0m-1.7 .1h0m-.9 .5h0m3.1 .6h0m1.3 .5h0m-6.1 .8h0m-1.5 .5h0m3.4 .3h0m.9 .1h0m-3.4 1h0m.6 .1h0m2.6 .2h0m-.7 1.7h0m5.4 .2h0m.6 1.3h0m-14.4 .8h0m8.2 .3h0m-3.4 .5h0m6.6 1.2h0m-5 .3h0m8 .7h0m-6.6 .1h0m.9 .9h0m-3.2 2.3h0m3.3 0h0m1.6 1.2h0m-6.4 1.2h0m7.2 .1h0m-.4 .2h0m-5.7 .1h0m.2 .6h0m6.2 .1h0m-.2 .1h0m.2 .4h0m-6.5 1.2h0m2.4 .3h0m-2 1h0m1.1 .1h0m-3.3 .3h0m9 1.3h0m-10.7 .3h0m5 .9h0m-3.5 .1h0m5.7 2.5h0m-1.6 .1h0m-3 .3h0m4.9 .6h0m2.6 .4h0m-4.6 .4h0m-6.9 .1h0m10.5 .2h0m-4.4 .3h0m2.8 1.1h0m-.4 .5h0m-3.8 2h0m4.7 1.6h0m-.6 1h0m-1.1 1.9h0m-4.8 4h0m2.6 8h0m-4.4 .8h0" stroke="rgb(255,0,0)"/><path d="M291.5 131.2h0m9 5h0m-10.7 .1h0m-1 .7h0m.5 2.9h0m1.7 .5h0m-6.2 .9h0m7.1 .3h0m-2.9 .6h0m.6 5.7h0m5.1 .5h0m-3.7 1.6h0m-1.9 1.1h0m6.3 .1h0m.6 1.1h0m-5.1 1h0m-5.8 .2h0m8.4 1.6h0m-5 2.2h0m5.2 1.5h0m-3.6 .2h0m5.7 .3h0m-7.1 .2h0m-.9 2.2h0m-1.2 1.2h0m7.9 .4h0m-4.8 .5h0m5.6 .1h0m-6.9 .4h0m4.9 .6h0m-7.5 0h0m1 1.5h0m.7 1.1h0m5.7 .2h0m-.2 .9h0m-4.9 2.3h0m-6.3 2.1h0m10.1 .6h0m-.2 .8h0m4.4 0h0m-.1 2.8h0m-11.1 2.8h0m9.6 1.9h0m-2.9 .9h0m-.1 .2h0m-2.9 1.1h0m3.4 .3h0m6.8 .3h0m-10.5 .9h0m13.3 .3h0m-14.9 3.2h0m2.9 1h0m-1.1 0h0m3.4 .4h0m-6.3 1.7h0m6.5 1.1h0m3.1 .9h0m-3.7 .6h0m-3.1 1.5h0m3.2 .4h0m-8.8 .1h0m6.1 .9h0m1.8 .5h0m7.3 .8h0m0 1h0m-3.1 .1h0m-3.4 .5h0m-2.6 .3h0m3.8 1.5h0m-3.9 .4h0m1.1 1h0m3 .3h0m-.4 .2h0m-2.5 1.6h0m9 .6h0m-3.2 .2h0m-5.8 .8h0m3.3 .3h0m-1 .1h0m-5.6 .4h0m2.1 .4h0m3.1 1.6h0m2.1 1.5h0m.9 .1h0m-5.6 .5h0m-.2 .1h0m4.7 .2h0m3.3 .1h0m5.5 .2h0m-19 .1h0m11.1 .1h0m-3.4 1.4h0m5.5 .1h0m-14.2 .3h0m10.4 .3h0m.9 .1h0m-9.9 .4h0m5.2 0h0m-2 .1h0m4.3 .4h0m-3.1 .1h0m6.2 .2h0m-9.2 .1h0m-1.6 .3h0m10.9 .1h0m-3.2 .3h0m3.5 .3h0m-2.7 .1h0m.6 .1h0m-6.4 .1h0m3.3 .2h0m-1.5 .3h0m7.5 1.1h0m-8.4 .4h0m-.3 .5h0m7.7 .3h0m-.6 2.2h0m-7.3 .7h0m-.3 .1h0m.1 1.7h0m7.5 .3h0m3.2 .1h0m-4.6 1.5h0m.3 .7h0m.5 .4h0m-2.9 .3h0m5.2 .3h0m-3.5 .3h0m-6 .3h0m.6 .1h0m1.2 1h0m6.4 1.6h0m-2.5 5.9h0m-5.6 .6h0m0 1h0m1.8 .9h0m-1.5 .6h0m9.7 2.4h0m-13.3 .8h0m9.3 .1h0m.5 1.8h0m-3.3 .7h0m5.7 .1h0m-6.3 1.1h0m2.1 1.4h0m-5.2 .1h0m5.2 .6h0m-3.3 1.5h0m4.8 .3h0m-.5 0h0m-.2 .1h0m-15.7 .6h0m6.8 .1h0m4.4 .2h0m5.6 .6h0m2.4 .2h0m-5.2 .2h0m-.7 .6h0m8.2 .8h0m-11.5 2h0m3.2 .2h0m7.3 .3h0m-14.4 4.6h0m7.3 5.2h0" stroke="rgb(255,0,0)"/><path d="M291.4 95.6h0m-7.1 35.3h0m12.9 3.9h0m-8.6 2h0m6 .8h0m-7.5 2.2h0m5.4 1.9h0m-1.9 1.6h0m-.6 4.2h0m-6.2 1.3h0m5.3 1h0m.1 .4h0m9.7 1.7h0m-10.3 .8h0m.2 3.5h0m5.7 .2h0m-9.3 .2h0m10.1 1.4h0m-7.4 2h0m2.2 1.3h0m-3 .7h0m-.6 .6h0m1.3 .5h0m-3.5 .8h0m2.3 1.4h0m5.9 1.3h0m-1.1 .1h0m-4.9 .1h0m6.5 1.2h0m-3.3 .2h0m-.5 1h0m1.1 .2h0m4.2 3.2h0m-6.7 .4h0m-.5 .7h0m4.6 .5h0m-3.6 0h0m4.8 1.6h0m2.5 .5h0m-1.9 .4h0m-1.1 1.6h0m3 .6h0m-5.9 .2h0m-2.5 2.2h0m4.9 1.6h0m0 5.2h0m.9 1.7h0m-7.3 .2h0m3.5 .1h0m2 .1h0m-6.7 .4h0m7 1.5h0m2.6 .4h0m-2.5 .1h0m-.8 1.1h0m.5 1h0m-5.1 .2h0m2.3 .5h0m4.3 0h0m-5.5 2.4h0m4.2 .5h0m.9 0h0m.8 .4h0m-4.3 .6h0m0 .9h0m6.1 .2h0m-9.6 .2h0m8.4 2h0m-2.1 0h0m3.3 .1h0m-7.5 .8h0m3.1 .1h0m-.5 .6h0m2.2 0h0m-8.4 .5h0m10.2 .9h0m1.8 .8h0m-11.4 .2h0m8.8 .3h0m-7.7 .1h0m6.1 .4h0m-1 .6h0m.8 0h0m-7.9 1h0m6.6 1.4h0m-3.2 .2h0m3.7 .3h0m-.8 .2h0m4.1 1.5h0m-9.1 .3h0m7.8 .1h0m-1.7 .8h0m2.2 .3h0m-8 .1h0m8.4 .4h0m-5.8 0h0m9.1 .8h0m-6.7 .2h0m-3.7 .2h0m6.9 .1h0m-4.6 .2h0m3.1 1h0m-3.4 .1h0m1.6 .1h0m6.5 .7h0m-5.9 .3h0m3.4 .1h0m-.3 .7h0m-3.7 1.3h0m1.5 2.7h0m5.6 0h0m-5.2 .1h0m-6.9 .4h0m6.2 .1h0m2.2 1.9h0m-5.1 .5h0m7.4 2h0m-2.2 .3h0m-.6 1.4h0m1.4 0h0m-6 .1h0m2.6 2.7h0m-9.5 .7h0m13.4 .1h0m-1.1 1.2h0m4 .2h0m-1.6 1.6h0m-6.4 1h0m4.2 .3h0m-.1 1.1h0m-1.5 2.3h0m-3.7 .8h0m3.9 1.1h0m-6.2 .4h0m7.7 0h0m.3 .2h0m.4 .2h0m-1.1 2h0m-.9 .5h0m-5.3 1.7h0m2.7 .2h0m1 .5h0m2.5 .1h0m-5.9 .1h0m-.9 3.9h0m-.8 .6h0m1.4 .5h0m6.9 .9h0m-7.9 0h0m3.3 1.1h0m-.9 .6h0m1.3 1.8h0m-5.4 1.1h0m8.8 .1h0m-5.6 2.3h0m12.2 4.6h0" stroke="rgb(255,0,0)"/><path d="M286.4 132.5h0m2.2 5h0m10.7 1.1h0m-14 3.1h0m6.4 3.5h0m-2.6 1.4h0m4.5 .5h0m-3.8 1.9h0m-1.1 1.8h0m-1.9 1.2h0m6 .6h0m-5.1 3.3h0m2.8 .1h0m5.1 1.3h0m-7.9 3.8h0m-1.8 .8h0m2.7 .1h0m-2.3 .4h0m-.9 1.4h0m2.1 .1h0m2.4 .7h0m-1.8 3.5h0m4.3 2h0m-.4 .2h0m1.6 1.7h0m-3 .2h0m-2.4 1.3h0m6.7 .4h0m-2.8 1.5h0m-3.9 .6h0m5.7 4.3h0m-1 .8h0m-4 .5h0m-1.6 1.6h0m9.4 .1h0m-5.5 .9h0m-2.4 .6h0m2.5 2.3h0m-3.3 0h0m1 .1h0m4.3 .9h0m-.8 .6h0m-2.6 .6h0m-.6 .1h0m4.9 .7h0m3.8 .1h0m-11.6 .1h0m1.3 .1h0m.3 .4h0m1.5 .1h0m-2.1 .6h0m4.9 .1h0m.5 .5h0m1.8 2.6h0m-7.1 1.5h0m4.4 2.4h0m-.9 .1h0m1.2 .1h0m-5.5 .4h0m-5.8 .1h0m14.9 1h0m-8.3 .4h0m5.2 .3h0m-2.1 .5h0m-11.4 .1h0m11.8 .3h0m-.4 .1h0m4.9 .1h0m4.4 .3h0m-13.1 .5h0m-2.4 .5h0m4.8 .9h0m9.3 .3h0m-6.4 .4h0m-7.7 .2h0m10.1 .8h0m-3.5 .3h0m-8.1 .3h0m4.3 3.1h0m7.3 .3h0m1.5 .6h0m-3.9 .3h0m.5 0h0m2.2 .3h0m-4.8 .5h0m2.8 .6h0m-.1 .6h0m-1.9 .3h0m6 .4h0m-5.4 .2h0m-2.2 .1h0m-2.4 .1h0m7.6 .9h0m4.1 .4h0m-1.5 .8h0m-9.6 .9h0m3.7 .8h0m-.7 .2h0m-.8 .1h0m1 0h0m-6.4 .2h0m7 .8h0m-.6 .1h0m2.4 1.6h0m-3.2 .6h0m8.8 .1h0m-7.3 .2h0m-1.8 .2h0m-2 .6h0m4.1 .1h0m4.1 .3h0m-9.2 1h0m9.3 .1h0m-5.4 .8h0m-.1 .8h0m-4.9 .1h0m-1.5 .9h0m9 .2h0m-.5 1.5h0m-2.8 .1h0m-2.7 1.3h0m5.3 2.5h0m-3 1.1h0m1.5 1h0m8.1 .2h0m-10.8 .5h0m.5 .9h0m-.7 1.8h0m12.7 .1h0m-7 3.1h0m-1.5 .4h0m-1.2 .3h0m-4.3 .2h0m7.7 2.4h0m-3.3 .1h0m-.9 .4h0m7.5 .5h0m-4.8 0h0m-2 .6h0m1.2 0h0m5.3 .2h0m-5.6 .2h0m-3.9 .2h0m.4 0h0m6.9 .3h0m-5.7 .5h0m-.7 .6h0m8.5 .5h0m-15.6 .1h0m10.4 .3h0m-4.2 .2h0m-.5 .6h0m.3 2.5h0m5.1 .6h0m-5.7 .1h0m6.8 .2h0m-5.8 .4h0m-3.7 .1h0m10.2 .6h0m2.7 .1h0m-8.8 .7h0m-.5 .1h0m-2.5 1.6h0m8.4 1.3h0m-7.1 1.3h0m5.2 0h0m-1.7 .6h0m4.1 1h0m-.6 .9h0m4 .3h0m-5.7 1.1h0m5.5 .3h0m-3.5 .5h0m2.7 4.4h0" stroke="rgb(255,0,0)"/><path d="M288.8 131.5h0m-.1 2.1h0m4.8 1.3h0m2.9 7.7h0m-4.8 4.9h0m-2.4 .6h0m4.5 .6h0m-6.7 1.4h0m.6 1.6h0m5.5 1.2h0m-6.1 .2h0m2.7 1.6h0m-1.2 .4h0m2.4 .1h0m-1 .2h0m5.6 1h0m-6.2 1.6h0m-3.4 2.3h0m5.3 1.3h0m2.3 .3h0m2.5 .8h0m-.4 1.3h0m-8.1 1.3h0m5.3 .6h0m-.2 1.1h0m-.1 .1h0m-3.3 0h0m-1 2.2h0m5.2 .4h0m-4.1 1h0m2.3 2.7h0m-.2 .3h0m-1.6 2h0m.1 .9h0m1 .6h0m3 .4h0m-1.3 4.4h0m2.3 2.4h0m-12.9 .8h0m9.2 .3h0m7.2 1.1h0m-4.7 1.1h0m-3.4 .3h0m-.4 .7h0m4.4 0h0m-3.9 .6h0m-7.2 1.4h0m9.7 1h0m-1.1 .9h0m-4.9 1.6h0m.7 1.8h0m5.8 2.3h0m-5.9 .5h0m6.7 .7h0m-2.7 .3h0m.9 1.1h0m-2.9 .2h0m-.9 .3h0m1.3 .5h0m.7 .5h0m-3.2 .6h0m-5 .2h0m10 1.4h0m-9.4 .2h0m11.7 0h0m-2.4 1.4h0m-8.9 .2h0m14.6 .4h0m-4.9 0h0m-1.2 .1h0m1.1 1h0m2.1 0h0m-12.6 .4h0m11.5 .1h0m.2 .1h0m-5.2 .2h0m8.6 .7h0m-6.8 .1h0m-1.6 .7h0m3.4 .1h0m-2 .5h0m.5 .3h0m1.8 0h0m.1 .1h0m3.8 .4h0m-7.4 .3h0m-1.7 0h0m1.5 1.4h0m.6 .8h0m-.4 .1h0m8.5 .2h0m-3.8 0h0m-8.2 .4h0m9.3 .1h0m-5 .3h0m3.2 0h0m-2.8 .3h0m-1.2 1.4h0m5.3 0h0m-.4 .6h0m-.2 .4h0m-4.3 .1h0m-6.2 .8h0m1.7 .1h0m7.8 1.4h0m-4.3 0h0m3.1 .1h0m-1.9 .9h0m-11.4 .3h0m8.6 .7h0m2.5 0h0m-5.5 .3h0m5.1 1.2h0m.8 .5h0m6.2 .4h0m-2.6 .2h0m-1.3 2h0m-.6 .1h0m-2.1 .5h0m5.5 .5h0m-1.6 .5h0m-6.9 .3h0m-.9 1.7h0m7.9 1.9h0m-8.3 .6h0m8.4 .3h0m.9 .9h0m-7 .2h0m3.8 .6h0m1.3 .1h0m-1.2 .5h0m.8 .7h0m-8.4 .3h0m10.1 .5h0m-8.7 .7h0m1.1 1.9h0m1.3 1.2h0m10.7 1.6h0m-8.6 1.3h0m.1 .5h0m-3.5 .3h0m3.4 .2h0m1.5 0h0m-2 .4h0m4.4 .3h0m-4.1 0h0m6.4 1.5h0m-5.5 .2h0m.8 .5h0m3.9 1.7h0m-1.3 .4h0m1.7 1.6h0m-2.9 1.3h0m3.3 .2h0m-2.7 .7h0m-4.6 .8h0m6.4 .2h0m-2.7 .1h0m1.3 .1h0m-.7 .1h0m-.7 .5h0m-3.7 .4h0m3.5 .7h0m-7.9 .8h0m-3 .2h0m4.4 .6h0m2.4 1.1h0m5.1 2.6h0m-.5 3h0m-2.8 2.5h0" stroke="rgb(255,0,0)"/><path d="M290.7 106h0m3.4 26h0m6.3 .4h0m-14.5 6.4h0m3.5 .7h0m6.4 .6h0m-4.8 .2h0m.1 6.1h0m3 3h0m-2.9 .3h0m-4.6 1.1h0m2.8 1.2h0m-1.3 0h0m-2.3 1.7h0m1.5 0h0m3.2 1.5h0m3.6 2h0m-8.8 1.4h0m8.5 1.9h0m-1.3 .1h0m-5.6 .2h0m5.4 .4h0m-7.1 2h0m12 .2h0m-6.5 .1h0m1.1 .5h0m4.9 .9h0m-8 .1h0m-3.2 .4h0m11.4 0h0m-11 0h0m-3.5 .5h0m11 1.9h0m-.4 2.1h0m-7.9 3.7h0m6.4 1.8h0m.8 4.3h0m-3.3 1.1h0m6.3 1.1h0m-8.6 1.3h0m3.6 1.4h0m7.3 .8h0m-12.1 2.4h0m6.5 .7h0m-3.3 0h0m5.7 1.2h0m-1.5 .9h0m-3.8 .2h0m8.6 .1h0m-6.1 1.6h0m-3.1 .5h0m4.1 .1h0m-5.3 .9h0m.2 .3h0m1.8 .3h0m4.8 0h0m-2.1 1h0m-2.8 .8h0m3.9 1.1h0m-1.2 .8h0m-2.1 .2h0m-3.5 0h0m4.6 .6h0m-9.8 .2h0m6.6 .2h0m4.8 .2h0m-3.4 .4h0m1.4 .2h0m-5 .7h0m3.4 1.3h0m1.7 0h0m-.8 2.2h0m-.8 1.7h0m7.3 0h0m.2 0h0m-3.7 .1h0m-.8 .3h0m1.3 1h0m-1.7 .6h0m-2 0h0m6.8 .1h0m-9.3 .2h0m2 .6h0m.1 .7h0m-1 .8h0m8 .4h0m-7.5 1.2h0m5.6 .4h0m-7.1 .2h0m6.9 .1h0m-10 1.1h0m5.8 .1h0m4 .8h0m-3.7 .8h0m4.1 0h0m-6.1 .1h0m12.8 .1h0m-6.5 1.1h0m3.2 1.1h0m1.3 .1h0m-8.4 .4h0m.7 0h0m-11.5 .2h0m12.6 0h0m-1.1 .1h0m-.6 .6h0m2.7 .1h0m-2.6 .3h0m.2 .1h0m.1 .5h0m-2.9 0h0m2 0h0m2 .2h0m-7.7 .4h0m1.7 .5h0m-1 .3h0m.9 .3h0m.1 .3h0m1.4 .9h0m3.9 .5h0m-.1 1.4h0m4 .3h0m-4 .9h0m-3.1 .1h0m5.1 1h0m-3.5 0h0m-1.6 .1h0m2.1 0h0m1.2 .6h0m-1.2 .4h0m6.3 .3h0m-9.5 1.4h0m11.7 1.6h0m-7.6 .3h0m5.2 1h0m.1 .4h0m-5.6 1.2h0m-4.8 .1h0m7.3 4.7h0m-8.2 .4h0m9 .2h0m-.1 .6h0m-.9 .5h0m-10 1h0m12.2 0h0m-9.4 .5h0m.4 0h0m10.2 1.3h0m-4.4 2.8h0m.5 .1h0m-6.8 1.4h0m5.7 .7h0m.1 .1h0m-6.6 .6h0m7.1 .5h0m1.5 .1h0m-1.2 .2h0m0 .2h0m-2.4 .3h0m-3.6 .1h0m4.5 .7h0m-4.9 .7h0m3.3 0h0m6.2 2.2h0m-8.1 1.7h0m6.9 2.3h0m-3.5 2.2h0m-3 1.5h0m5.7 3.6h0m-3.9 5.2h0" stroke="rgb(255,0,0)"/><path d="M292.6 107.6h0m0 19.9h0m-1.4 1.2h0m3.3 10.8h0m-8.1 2.8h0m8.5 .4h0m-10 .9h0m10 2.4h0m-4.6 .4h0m-.5 .6h0m-5.6 .8h0m8.8 1.7h0m2.7 .5h0m-6.2 1.1h0m1.6 .1h0m-.5 2.6h0m5 .9h0m1.3 .1h0m-7 1.2h0m-1.2 1h0m3.8 2.5h0m-8 3h0m5.3 0h0m-2.2 .9h0m10 2.3h0m-.1 .4h0m-6.8 .4h0m.5 1.9h0m.7 .8h0m2.1 .3h0m-5.3 1.2h0m-2.1 2.8h0m5.4 1h0m-3.5 0h0m8.5 .7h0m-8 1.6h0m.8 .2h0m1.4 2.6h0m-3 .3h0m1.7 2.9h0m-.5 .2h0m3 1.2h0m-4.2 .1h0m3.2 .8h0m1.2 .5h0m-.8 3.3h0m5 .5h0m5.2 .3h0m-7.7 .7h0m-5.8 1.1h0m-4.7 .1h0m11.5 2.4h0m-2.8 1.5h0m-6.4 .5h0m1.4 .3h0m4.5 1.2h0m-1.4 .2h0m-2.4 .9h0m2.8 0h0m6.2 0h0m-9.7 .6h0m10.7 .4h0m-6.8 1.7h0m3.7 .4h0m1.6 .9h0m-11.3 .2h0m9.1 2.2h0m-4.8 .2h0m10.3 .9h0m-7.6 .1h0m-3.6 .9h0m3.5 .3h0m.9 .2h0m.6 1.2h0m-11.2 .4h0m7.7 .3h0m-.9 .3h0m4.8 .2h0m-3.3 .1h0m1.6 .2h0m-6.8 .3h0m-1 .2h0m9.9 .6h0m-2.4 .2h0m.4 .3h0m-1.9 .7h0m2.6 .1h0m-7.2 .3h0m3.1 .5h0m-1.1 .4h0m5.6 0h0m-4.1 .5h0m-1.3 .6h0m6.9 .3h0m-5.1 .1h0m8 .1h0m-2.7 0h0m-8.5 .5h0m1.6 1.1h0m.3 .3h0m1.9 .7h0m-2.1 .8h0m1.3 .7h0m-.5 .1h0m3.6 .7h0m-4.2 .5h0m0 .8h0m4.5 1.7h0m-2.7 1.1h0m2.1 .2h0m1.4 .6h0m-2.4 1.4h0m3.6 .8h0m-4.1 0h0m3.3 .8h0m-7.7 .1h0m8.8 .5h0m-5.1 0h0m2.4 .4h0m2.8 1h0m.1 1h0m-2 1.5h0m-3.8 .8h0m1.8 .4h0m-.2 .4h0m-9.2 8.2h0m3.1 .7h0m8.1 1.5h0m-6.7 .1h0m1.5 1.2h0m.6 2.1h0m-1 .5h0m1.4 1.5h0m5.4 .1h0m4.3 2.2h0m-16.2 .3h0m7.4 .7h0m2.3 .3h0m-7.2 .6h0m7.2 1.7h0m1.6 .9h0m-3.5 1h0m3.5 1.1h0m-4.8 .1h0m2.2 0h0m-10.9 5.1h0m10 2.8h0m-7.2 .1h0" stroke="rgb(255,0,0)"/><path d="M295.1 99.8h0m1.5 5.8h0m-8.4 2.4h0m2.7 18.4h0m-2.5 .2h0m3.8 10.7h0m7.2 1.4h0m-12.2 .5h0m5.8 .3h0m-.8 4.2h0m.1 2.2h0m4.4 .5h0m-6.7 .4h0m1.9 .3h0m6.9 2h0m-5.6 .9h0m-2.2 2.3h0m1.3 .2h0m-5 4.6h0m-.1 .4h0m4 .3h0m3.1 .8h0m-3.6 2.7h0m8.6 .2h0m-3.6 .3h0m-3.3 2.8h0m-3.6 .2h0m-2 .3h0m3.2 .5h0m-2.6 1.4h0m4.2 2.3h0m2.9 .8h0m-.7 .3h0m-2.4 2h0m1.7 .5h0m-3.4 .3h0m3.8 .2h0m-1.4 .5h0m.4 .4h0m-1.6 2h0m1 .5h0m-3.9 .3h0m3.2 2.3h0m4.5 0h0m-5.5 1.1h0m11.1 .1h0m-14 1.4h0m1.6 .6h0m2 2.6h0m2.6 .2h0m.8 2.2h0m-1.8 1h0m-5.5 0h0m1.9 .7h0m5.1 .1h0m8.5 1.4h0m-15.7 .4h0m4.8 1h0m5.6 .9h0m-15.8 1.1h0m8 .7h0m3.4 .9h0m-1.2 .7h0m5.2 0h0m-13.4 .2h0m5.1 .7h0m1.4 0h0m-4.9 .5h0m3.5 .3h0m4.5 .2h0m-2 .2h0m5.6 1.1h0m-8.2 .2h0m6.9 .2h0m-7.8 .1h0m2.1 .1h0m-1 .1h0m3.7 .6h0m2.1 1.4h0m-2.4 2.4h0m-2.2 .7h0m5.7 .4h0m-7.4 .2h0m5.1 .2h0m5.3 .1h0m-7.7 0h0m10.2 .1h0m-9.2 0h0m2.5 .3h0m-6.5 .3h0m-1.1 0h0m3.8 .1h0m2.4 .2h0m3.3 .2h0m-6 .3h0m-1.9 0h0m5.1 .4h0m-5.8 0h0m3.8 .9h0m-4.5 .5h0m2.6 .4h0m4 .2h0m-6.8 1.3h0m1.5 .2h0m4 .2h0m-2.3 .3h0m2.2 .3h0m-8.6 .2h0m2.2 .5h0m11.7 1.3h0m-11.1 .3h0m4.6 2.6h0m2.1 .1h0m-4.1 .6h0m1.1 .3h0m3.2 .1h0m-2.4 .6h0m4.9 .9h0m-6.9 .3h0m8.1 0h0m3 .4h0m-7.4 .7h0m2 0h0m-.6 .7h0m-.9 .1h0m3.3 .6h0m-3.2 .1h0m-3.6 0h0m-1.3 .2h0m3.8 1.9h0m1.1 0h0m-1.6 1.8h0m-2.7 .2h0m3.4 .8h0m3.4 1.9h0m-5.1 1.4h0m9.8 1.4h0m-11.4 .2h0m6.3 .2h0m-6.7 .9h0m4.2 .7h0m-2.5 .8h0m.1 2.9h0m-1.8 .7h0m3.7 3.1h0m-5.2 .8h0m1.5 .1h0m4.3 1.3h0m-2.7 .2h0m-.5 .4h0m-6 .1h0m3.2 .8h0m8.2 0h0m-4.4 1h0m-9.3 .7h0m8.9 2h0m-2.6 1.2h0m10.7 0h0m-12.9 .4h0m5.3 .4h0m-5.5 0h0m3.9 .5h0m-1 1.9h0m.8 1.1h0m3 .2h0m-1.7 4.2h0m4.5 2.1h0m-4.6 .6h0m-3.2 .5h0m5.5 .5h0m-7.7 8.7h0m3.2 5.3h0" stroke="rgb(255,0,0)"/><path d="M290 120.9h0m-1.3 10.9h0m3.5 1.3h0m-4.2 3.3h0m2.9 .8h0m-.2 .3h0m1.5 .4h0m-7.7 .3h0m6.2 1.9h0m3.2 2.1h0m-6.6 1.9h0m7.9 1.9h0m-7.1 .4h0m3.7 0h0m-4.8 1.5h0m2.7 1.7h0m-3.7 6.2h0m4 .9h0m1.5 .3h0m1.2 .2h0m-1.5 .1h0m.5 .5h0m.4 .5h0m-1.9 4.3h0m-1.2 .8h0m6.4 .3h0m-7.8 .1h0m1.1 .1h0m7.6 1.2h0m-3.6 .1h0m-2.8 1.5h0m-3.4 1.1h0m.4 .9h0m9.9 .2h0m-12.1 .6h0m2.1 .4h0m.6 1.3h0m.9 0h0m-2 1.5h0m6.3 .4h0m-2.5 1.1h0m3.4 2.3h0m-4.7 1.1h0m3 .2h0m-.5 1.1h0m-.4 .3h0m.9 2.7h0m3.1 1.7h0m-4.7 .2h0m2.3 0h0m-9 1.1h0m11.1 1h0m-1.9 .6h0m-.2 0h0m.1 1h0m-5.7 .1h0m.2 .1h0m4.4 .1h0m-4.8 .8h0m3.1 .8h0m4.9 .4h0m-1.6 .4h0m2.3 1.3h0m-7.1 .1h0m1.4 .7h0m3.7 1.3h0m-1.3 0h0m2.5 .9h0m-4.5 1.7h0m.4 1.4h0m-1.5 1.5h0m-.4 .4h0m-1.5 3.3h0m5.5 .3h0m-.7 .7h0m4.7 1.1h0m-8.6 1.7h0m4.9 .2h0m-2.5 .2h0m1.4 .6h0m1.8 .3h0m-4.7 .3h0m3.6 .2h0m5.1 .1h0m-8.9 .9h0m.6 .1h0m10.7 .5h0m-10.7 .2h0m.1 .1h0m-1.4 .4h0m3.7 .3h0m5.3 .1h0m2.1 .6h0m-11.2 .2h0m7.7 .1h0m1.3 .1h0m-4.9 .2h0m-1.2 .4h0m-1.6 .7h0m2.8 0h0m0 .8h0m.8 .7h0m-3.1 .3h0m4.9 .3h0m-6.1 .6h0m1.4 .2h0m3.2 .2h0m1.9 .3h0m-5.1 .2h0m.1 .2h0m3.8 .1h0m-5.9 .5h0m3.2 .2h0m-1.9 .3h0m11.9 .3h0m-3.9 .6h0m-2 .5h0m-4.5 .1h0m1.6 2.7h0m2.6 1h0m-5.1 2.1h0m1.9 .6h0m3.9 1.2h0m-3.3 1.5h0m1 .9h0m-6.5 .4h0m4.3 .5h0m2.6 2.9h0m2.9 .6h0m-3.8 2.1h0m1.7 .1h0m-6.1 1.2h0m5.2 1.7h0m-3.7 .1h0m1.4 .7h0m.1 2.3h0m-2.4 .1h0m3 1.9h0m.7 2h0m.2 2.1h0m-1.6 .3h0m-.9 .7h0m-3 1h0m6.6 .2h0m1.4 .5h0m-5.3 .8h0m-1.1 .2h0m4.8 .3h0m-1.2 .4h0m-.8 .5h0m6.2 0h0m-8.1 .3h0m-2.3 .1h0m1.9 .3h0m4.1 .6h0m-9.8 2.2h0m16.3 .1h0m-14.4 .8h0m-.1 2.2h0m13.1 1.6h0m-3.7 .6h0m-9.4 .9h0m2.3 3.1h0" stroke="rgb(255,0,0)"/><path d="M286.3 130.5h0m2.8 9.4h0m1.8 1.5h0m1.5 3.2h0m-7.9 1.5h0m11.5 1.2h0m-1.7 1.2h0m-5.1 2h0m-2.1 2.2h0m5 0h0m-5 3h0m3.8 1.9h0m3.8 .7h0m1.3 .2h0m-9.8 1.3h0m6.2 1.2h0m-1.7 .7h0m-3.5 1.1h0m3.6 .4h0m-.5 1.3h0m-4.4 2h0m1 .8h0m4.8 1.6h0m0 .9h0m-5 .1h0m.3 1.7h0m9.8 .2h0m1.1 .7h0m-4.7 .9h0m-2.1 .1h0m-1.3 .3h0m4 2.6h0m-6.4 2.1h0m2.5 .1h0m.3 .5h0m.7 1.9h0m-2.8 2.4h0m10.9 2h0m-9.3 1.6h0m4.4 .7h0m-8.4 .9h0m5.7 .2h0m-1 .2h0m5.3 2.7h0m-9.2 .2h0m4.6 .5h0m2.1 1.8h0m-2.6 .3h0m3.3 .9h0m2.2 0h0m-9.9 .2h0m9.5 .4h0m-4.9 .4h0m-8.1 1.5h0m9.8 .1h0m-1.7 .1h0m6.9 .1h0m-6.8 .2h0m4.3 .6h0m-6.6 .2h0m1.1 .1h0m-1.7 1.3h0m-2.9 .4h0m10.3 .5h0m-1.6 0h0m-3.9 .6h0m-1 .3h0m4.7 .2h0m.3 .2h0m-10.2 .1h0m9 .2h0m-4.3 .4h0m5.4 .4h0m-7 .3h0m.2 .4h0m3.3 .2h0m-4.2 0h0m2.6 .2h0m-3 0h0m2.6 .2h0m7.5 .3h0m-1.8 .1h0m-6.9 .2h0m-.9 .8h0m-1.1 .1h0m4.7 .5h0m1.8 .2h0m10 0h0m-18.9 .1h0m14.3 0h0m-9.2 0h0m3.2 .6h0m2.5 .1h0m-4.5 0h0m6.8 .1h0m-7.3 .2h0m-2.3 .2h0m-1.7 .5h0m3.8 .4h0m2.2 0h0m-1 3.6h0m0 .2h0m5.5 .2h0m-3.1 .1h0m-10.1 0h0m10.4 .1h0m1.5 .2h0m-2.1 .2h0m1 0h0m4 .1h0m-8 .6h0m-2.3 .1h0m12.1 1.1h0m1.2 .5h0m-8.8 .2h0m1.7 .7h0m-1.8 .4h0m3.1 .1h0m-2.6 .3h0m2.4 .5h0m-.1 .5h0m-5.4 1h0m1.8 .6h0m11.6 .6h0m-7.9 1.3h0m1.1 .3h0m-6.6 .7h0m3.9 .1h0m.1 1.1h0m4.6 .7h0m-4.9 .5h0m4.6 .8h0m-8.3 .6h0m-4.9 2.2h0m17 1.9h0m-9.1 3.8h0m-7.6 .2h0m8.2 .1h0m-3.1 .4h0m-1.4 .5h0m7 2.5h0m-5.5 .1h0m8.4 2.6h0m-7.5 .2h0m10.4 1.9h0m-14.2 .3h0m10.1 1h0m-6.1 .6h0m-1.8 0h0m4.6 .2h0m3 .1h0m-4.1 .3h0m-2.5 .6h0m-.4 1.1h0m.5 .2h0m1.7 2h0m2.4 .6h0m1.9 .4h0m-5.2 .6h0m.2 1h0m2.2 1.5h0m-1.4 .4h0m7.1 .4h0m-2.9 .3h0m-6.9 1.1h0m4 .4h0m1.2 .4h0m-.7 .5h0m1.7 .1h0m-4.6 2h0m-.1 0h0m.6 4.3h0m1.5 2.1h0" stroke="rgb(255,0,0)"/><path d="M289.8 117.8h0m6 12.4h0m-7.5 7.9h0m6.6 .8h0m2.4 .1h0m-6 .3h0m2.3 .6h0m-2.2 3.1h0m-1.7 .8h0m4 1.2h0m-1 2.3h0m3.9 1h0m-.1 .9h0m-4.9 .2h0m-.4 .1h0m2.6 1.7h0m.4 .2h0m-12.8 1.7h0m19 0h0m-15 1.8h0m12.4 .9h0m-11.8 1h0m9.1 1.8h0m-8.1 .3h0m5.1 0h0m-4 .7h0m5 1.4h0m-1.3 .4h0m-5.3 .6h0m.3 1.1h0m3.8 1.8h0m-4.6 .1h0m7.4 .4h0m-3 0h0m-.9 2.1h0m.2 1h0m-4.2 1h0m6.5 .2h0m1.3 .1h0m-.7 .9h0m-3.9 2.4h0m8.9 .4h0m-6.4 1h0m-4.7 .3h0m6.2 .1h0m-9.1 .3h0m2.5 .2h0m4.4 .6h0m5.4 .2h0m-3.4 .5h0m-8.3 1.4h0m5.8 .8h0m1.2 6.3h0m-2.1 .1h0m6.7 .5h0m2.6 1.9h0m-12.3 .8h0m-3.9 .9h0m14.8 .9h0m-8.5 .1h0m-2.1 .4h0m9.9 .2h0m-4.3 .2h0m-4.5 .3h0m4.7 .6h0m-3.3 .6h0m0 .6h0m-3.1 1.5h0m4.6 1h0m.3 .9h0m-3.7 .1h0m9.9 .4h0m-5.4 1h0m-.5 .2h0m-.4 0h0m-1 3.5h0m1.1 .2h0m-2.5 .1h0m6.9 .7h0m-3.8 .1h0m-1.1 .2h0m1.6 .4h0m-2.8 .2h0m-1.6 .2h0m5.5 .1h0m-2.6 .4h0m-3.8 0h0m-5.9 .8h0m8.8 .4h0m-3 .2h0m8.9 .3h0m-6.6 .2h0m6.4 .2h0m-6.9 .4h0m1.8 .3h0m2.2 .4h0m3.3 .2h0m-8.5 .4h0m12.1 .6h0m-1.2 0h0m-10.3 .4h0m-3.8 .3h0m8.8 .4h0m-5.1 .2h0m4.9 3.6h0m2.3 .9h0m0 1.4h0m-3.1 .1h0m.5 1h0m-3.3 .8h0m-1.6 .5h0m7.4 1.6h0m-.6 .7h0m-7.1 .6h0m6.2 .6h0m5.3 .9h0m-6.9 .6h0m6.1 .3h0m-8.5 .2h0m3.2 4.8h0m-5.8 0h0m1.4 .1h0m5.9 .1h0m-3.5 .2h0m-2.4 0h0m5.4 .1h0m.3 4.8h0m-5.3 .2h0m3.2 .5h0m-1.3 2.3h0m-3.4 3h0m3 .1h0m-3.6 1.5h0m9.3 1.6h0m-2.2 2h0m1.6 1.5h0m1.5 1.9h0m-2.8 .1h0m1.1 .5h0m-5.2 .4h0m0 .8h0m9.7 .1h0m-8 .2h0m-5.2 1.4h0m1.4 1.1h0m3.2 .2h0m-3.1 .5h0m-2.7 .5h0m5.1 .1h0m4.1 .1h0m1.1 .7h0m-3.2 1h0m2.2 .9h0m-.9 2.2h0m-6.5 3.1h0m-1.9 1.3h0m3.6 .9h0m7.3 3.3h0" stroke="rgb(255,0,0)"/><path d="M293.9 117.5h0m-2 7.1h0m-3.3 .2h0m7.5 10.3h0m-2 .7h0m-1.9 3.6h0m-6.1 .1h0m8.5 1.4h0m-1.9 .4h0m-3 3h0m2.3 .2h0m-5.5 .1h0m5.2 .9h0m.1 2h0m-7.2 .2h0m4.6 .4h0m5.2 .3h0m.8 1.1h0m-1.3 .9h0m-2.9 .9h0m3.7 0h0m-.3 2.8h0m-3.5 .3h0m1.3 2.2h0m-6.1 3.6h0m4.2 1h0m5.4 .3h0m-3.7 .6h0m-1.5 .1h0m-1.4 .4h0m.6 .8h0m6.8 .5h0m-4.9 1.3h0m-3.7 .2h0m-.2 .6h0m5.4 .4h0m-.3 .3h0m-.8 .8h0m-13.2 2.1h0m17.6 .9h0m-7.1 .5h0m-1.8 .4h0m2.4 0h0m4.2 .7h0m.2 .2h0m-9.8 .8h0m7.2 .5h0m2 1.2h0m-4.2 0h0m-3.1 2.2h0m5.4 1.5h0m-2.8 1.3h0m5.9 .7h0m-4.7 1.6h0m6.1 2.2h0m-7.5 .7h0m3.5 1h0m4.4 .5h0m-7.6 2.2h0m6.5 .9h0m-4 .8h0m-1.6 .6h0m8 .5h0m-5.7 .4h0m-3.4 .8h0m-.6 1.4h0m-4.3 1.2h0m4.9 1.2h0m4.3 .4h0m.6 .1h0m-3.3 .5h0m-.1 .1h0m2.5 .2h0m-2.8 .5h0m.3 .1h0m-4 2.7h0m-.4 1.6h0m3.8 .2h0m-.6 .4h0m.7 .3h0m2.7 .2h0m-2.2 1.3h0m4.4 0h0m-7.7 .3h0m5.5 1.3h0m1.2 .2h0m-5.9 .5h0m7.7 .2h0m-6.5 .1h0m4.2 .6h0m-4.1 .2h0m.7 .5h0m.5 .4h0m-2.5 .1h0m13.5 .5h0m-19.2 2.2h0m10.9 1.2h0m-3 .1h0m4.7 0h0m-5.1 .1h0m3.8 .2h0m3.5 .2h0m-8.8 1.3h0m5.7 .6h0m-.4 0h0m-6 .1h0m4.4 .3h0m2.2 .7h0m-4.2 .2h0m-1.3 .7h0m.4 .2h0m3.7 .1h0m-3.5 .2h0m6.7 .2h0m-1.8 .3h0m-8.5 .3h0m8.8 0h0m1.7 .1h0m-5.4 .9h0m-.1 0h0m.3 .2h0m5.2 .3h0m-9.1 .5h0m2.8 .4h0m-4.9 .1h0m.1 .1h0m7.3 .2h0m-2.7 .3h0m8.1 .3h0m-7.5 .4h0m-1.2 .7h0m3.4 .1h0m3.2 1.1h0m-6.2 .6h0m2.6 .6h0m7.2 1h0m-12 0h0m8.8 .2h0m-4.3 .3h0m2.5 .5h0m-6.9 .7h0m3.3 .1h0m-.8 .6h0m-.9 3.2h0m.6 0h0m4.1 .2h0m-.9 .3h0m2.4 1.5h0m-5 .1h0m-1.9 1.5h0m-.1 .2h0m2.8 .6h0m3.2 .2h0m-1.8 .2h0m-9.6 2h0m10.7 1.1h0m-2.6 .2h0m0 1.1h0m1.3 .8h0m-5.2 2.7h0m5.9 .7h0m-3.5 .2h0m10.7 .2h0m-5.7 .4h0m-1.9 0h0m1.2 .4h0m-1.2 1.6h0m2.2 .1h0m-1.7 1.3h0m-2.4 .1h0m-.9 .6h0m.7 1.3h0m5.4 0h0m-2 .5h0m-6.1 .7h0m-1.7 .2h0m8.7 .1h0m-4.4 .5h0m-4.1 .2h0m5.1 .2h0m-5.5 .7h0m4.3 .4h0m-5.7 .1h0m10 .6h0m-5 .8h0m3 .4h0m-.9 .4h0m-2 .7h0m-3.7 1h0m2.3 2h0m2.9 1.2h0m3.5 2.1h0m-4.3 .6h0" stroke="rgb(255,0,0)"/><path d="M284.9 116.1h0m7.2 16.3h0m-1.9 .2h0m2.3 5.3h0m-.2 .7h0m-1.6 2.9h0m-2.4 2.9h0m5.2 1.4h0m-5 1.4h0m-4.6 .6h0m8.7 1.8h0m-3.3 2.6h0m1.4 .6h0m-9.4 .4h0m10.5 .8h0m1.1 .3h0m.9 0h0m-2.4 6.1h0m1.4 .6h0m-4.9 .2h0m2.6 1.3h0m-.9 .3h0m-3.9 0h0m-.3 2.1h0m0 .4h0m.7 .2h0m7.4 .3h0m.7 1.2h0m-2.8 1h0m-3.2 .1h0m-.2 0h0m-.6 1.6h0m6.3 .8h0m-5.4 .6h0m-1.1 3.8h0m4.8 5.1h0m-3 .2h0m-.1 2.9h0m3.6 .4h0m-5.6 2h0m.8 1.5h0m3.7 .2h0m4.9 1.4h0m-8.8 .4h0m2.7 .9h0m4.3 .2h0m-5.9 .3h0m3.2 .3h0m2.8 .4h0m-.9 2.5h0m-6.3 .1h0m8.7 .3h0m-6.1 .3h0m-2.7 1.8h0m17.3 .9h0m-14.5 .5h0m-6.3 2.6h0m9.9 .2h0m4.1 .7h0m-9.2 .1h0m5.1 .9h0m-2.1 .7h0m-1.6 .1h0m-2.6 .2h0m5.8 .2h0m-.3 .3h0m6.1 .7h0m-15.2 .5h0m7.6 .3h0m-5.4 .6h0m3.6 1h0m-1.3 .1h0m9.1 1.5h0m-7.6 .5h0m8.2 .4h0m-7.1 .9h0m-6 0h0m10.9 .2h0m-3.7 .3h0m-1.1 .4h0m.3 0h0m6 .2h0m-6.2 .1h0m-2.6 .5h0m4.8 .1h0m5.8 .1h0m-7.3 1.1h0m-4.3 .2h0m8.1 0h0m-6.3 .6h0m.6 .5h0m3 .5h0m-3.1 1.1h0m2.9 .2h0m3.5 .8h0m-13 .4h0m3.1 .4h0m4.3 .7h0m-3.6 .1h0m5 .1h0m-4.1 .1h0m10 1h0m-12.3 .4h0m-.8 .1h0m-1.7 .9h0m5.5 3.4h0m4.9 1h0m1 2.1h0m-8.7 1.1h0m2.3 .7h0m2.7 .2h0m2 6.8h0m-2 .9h0m-2.6 2.4h0m2.1 2.6h0m7 .2h0m-10.4 .7h0m5.5 0h0m-2.1 .4h0m-6 .1h0m3.8 1h0m2.9 1.3h0m4.2 .4h0m-3.3 .3h0m-.4 .1h0m3.7 .1h0m-6.4 .3h0m1.8 .2h0m14.8 1.1h0m-18.6 0h0m-3.9 .5h0m11.4 2.4h0m-2.8 .3h0m1.4 .4h0m1.7 2.3h0m-2.2 2h0m-.2 5h0m-3.7 2.4h0m3 .5h0m-3.5 .7h0m-.2 .2h0" stroke="rgb(255,0,0)"/><path d="M291.6 100.9h0m.9 27.4h0m1.7 .2h0m3.1 6.9h0m-3.8 2.3h0m-4.7 1.2h0m1.7 .1h0m-1.5 0h0m4.4 .8h0m-7.6 .4h0m9.4 1.9h0m-.5 .4h0m-3.2 1.4h0m-6.4 .5h0m6.2 1h0m1.1 1.9h0m-3 .1h0m-4.7 .6h0m2.3 .9h0m3.1 .1h0m6.6 3.2h0m-5.9 2.3h0m5.5 1.2h0m-7.6 1.4h0m1.9 1.7h0m5 .3h0m-6.6 1.2h0m-.5 1.3h0m2.2 .4h0m2.1 .4h0m-.8 1.7h0m-3.4 .4h0m-.1 .3h0m-2.3 .4h0m2.8 1h0m3.2 .7h0m-2.8 1.3h0m1.4 .3h0m1.4 .6h0m1 .5h0m1.4 .2h0m-4.8 .8h0m5.5 0h0m-7.5 .6h0m1.5 .2h0m2.2 .2h0m7.8 .3h0m-9.7 .5h0m-.9 4.2h0m-1.5 .2h0m3.9 1.6h0m-3.2 3.6h0m3.2 .3h0m0 .9h0m-2.7 1.4h0m6.5 2.9h0m1 .9h0m-6.9 .3h0m-.6 .4h0m-7.5 .2h0m7.8 .5h0m-2.5 .1h0m5.3 .9h0m.5 .9h0m4 1.1h0m-5.9 1.5h0m.1 0h0m4.4 .7h0m-6.5 .4h0m-5 0h0m7.3 2.6h0m-2.8 .5h0m-.3 .7h0m5.2 .2h0m-1.1 .1h0m-.3 .2h0m-1.1 1.2h0m3.2 .4h0m-1.1 1.2h0m2.8 0h0m-2.9 .1h0m-.3 .1h0m1.4 0h0m3.4 .1h0m-8.5 0h0m11.4 .3h0m-13.2 .5h0m2.5 .2h0m-1.5 .1h0m8.3 .4h0m-9.4 .1h0m7.7 .9h0m-3.3 1.2h0m.3 .2h0m-.4 .1h0m-2.4 .3h0m-3.4 .2h0m13.6 .3h0m-3.1 0h0m-5.5 .1h0m1.8 .3h0m5.4 0h0m-6.3 .6h0m3.2 .4h0m-4.7 .3h0m-2 0h0m6.3 .3h0m-2.9 .1h0m-1.3 .3h0m-3.8 0h0m4.6 .3h0m3.3 .4h0m-1.7 1.1h0m-7.1 0h0m5.8 2h0m4.9 2.1h0m-5.9 .7h0m-3.7 1.2h0m5.5 1.3h0m-5.1 1.3h0m.5 .2h0m.6 1.9h0m4.1 .6h0m2 .1h0m-2.1 .4h0m.6 .6h0m-.5 .8h0m-6.4 1.5h0m10 .8h0m-4 1.8h0m.3 .5h0m-1.5 1.5h0m-.6 .8h0m3.7 1h0m-4.2 .1h0m8.2 1.2h0m-4.9 1.1h0m.3 0h0m-3.5 .9h0m2.5 .1h0m3.9 .1h0m-6.2 1h0m-.2 1.2h0m.4 1.9h0m3.2 .1h0m4.3 .2h0m-15.3 1.6h0m9.4 .2h0m2.1 1.4h0m-8 .1h0m4.9 .1h0m2.9 1.3h0m-2.7 1.4h0m-1.8 1.9h0m4.2 .3h0m-.6 .1h0m1.3 1.1h0m-9.8 .4h0m11.8 3.2h0m-2.8 1.4h0m.3 1h0m-4.9 2.9h0m6.1 2h0m-6.5 2.7h0m-5.9 2.1h0m13.3 9.8h0m-1.1 1.3h0" stroke="rgb(255,0,0)"/><path d="M286.3 124.2h0m5.5 5h0m4.1 4.5h0m5.3 7h0m-11.6 1.8h0m3.7 1.5h0m-5.2 2.4h0m-2.1 .5h0m4.5 .2h0m3.1 3.1h0m-1.3 .7h0m-2.4 .8h0m2.7 .1h0m-10.8 1.9h0m15.2 .1h0m-12.6 1.8h0m3.6 1.3h0m3.5 1.9h0m3.5 .3h0m-3.2 1.1h0m.4 .4h0m-4.1 1.6h0m1 .1h0m.9 .5h0m-2.5 1h0m1.6 .1h0m-3.8 .3h0m2.9 .6h0m1.4 .5h0m5.2 .8h0m4 .3h0m-1.6 .7h0m-6.3 .1h0m-7.3 0h0m4.8 1.6h0m5.5 1.5h0m1.4 3.1h0m-1.6 0h0m-1.8 .6h0m-6.5 .3h0m6 6.4h0m.1 .9h0m2.6 4.6h0m-3.2 2.9h0m-.3 1.4h0m2.7 .7h0m-6.2 1.1h0m10.3 1.6h0m-5.8 1.2h0m2.3 .8h0m-3.1 .3h0m-2.5 .7h0m1 2h0m3.9 .4h0m1.9 1h0m-3.8 .7h0m.9 1h0m-1 .8h0m-1 .8h0m4.5 .2h0m-6.6 2.4h0m2 .5h0m5.2 .4h0m-5.1 .1h0m-4.5 1.7h0m.9 2.9h0m8.5 .2h0m-1.7 .4h0m-3.5 .6h0m1.5 .1h0m-3.1 .1h0m1 0h0m-1.8 .5h0m-.1 .2h0m3.8 .2h0m-1.4 .5h0m3.3 .2h0m-7.3 .7h0m2.3 .1h0m5.1 1.2h0m-3.5 .6h0m.6 .1h0m-1.3 .2h0m1.6 0h0m4.8 0h0m-8.3 1h0m5.7 .4h0m-4.9 0h0m8.9 0h0m-3.2 .4h0m-2 .1h0m-.5 .5h0m5.8 .5h0m-1.7 .4h0m-5 .6h0m-1.8 .6h0m2 .4h0m2.3 .4h0m-2.1 .3h0m5.2 .4h0m-7.4 .5h0m6 .2h0m-1.3 2.2h0m.3 .1h0m5.3 1.4h0m-9.7 .5h0m5.9 .6h0m-.5 1.9h0m1.5 0h0m-2.2 .2h0m-3.4 .8h0m5.1 .3h0m-5.6 1.2h0m-.9 .9h0m3.5 .7h0m1.4 1.4h0m-1.9 .4h0m-.5 .3h0m-5.6 1.4h0m2.9 .2h0m4.8 .3h0m-5.7 2h0m-.3 .4h0m1 .9h0m6.7 0h0m-7.5 .1h0m.3 .1h0m-3.7 1.1h0m11.2 .8h0m-9.9 .6h0m1.2 .2h0m1.4 .9h0m-4.3 .3h0m5.1 .1h0m1.9 .4h0m-3.2 1h0m-1.5 1.1h0m3.2 1.1h0m-1.4 .3h0m10.6 .1h0m-6.5 .7h0m3.5 .7h0m-6.2 .1h0m7.2 .1h0m-3.7 .9h0m-1.3 .7h0m2.5 .2h0m-1.7 .4h0m-1.4 2.5h0m2.1 .3h0m1.6 1.5h0m-3.5 .9h0m-3.9 2.3h0m5.3 0h0m-3.5 1.9h0m.7 .5h0" stroke="rgb(255,0,0)"/><path d="M292.4 85.8h0m.3 43.3h0m2.4 3.4h0m2.6 7.1h0m-4.4 2h0m-3.6 .4h0m.8 .7h0m-5.3 2.7h0m6 1.1h0m2.3 2.4h0m-3.5 .5h0m4.4 .6h0m-8.3 .4h0m-3.7 .1h0m2.4 .5h0m7.6 1.3h0m1.4 0h0m-5.1 .9h0m-.8 0h0m-1.5 2.1h0m2.9 1.2h0m.5 1.5h0m.2 0h0m3.4 .4h0m-7.2 .3h0m1.6 2.4h0m.4 .9h0m4.5 .2h0m-1.4 1h0m3.9 1.6h0m-9.8 .1h0m8.7 .1h0m-5.7 1.4h0m3 .8h0m-4.9 .1h0m2.7 .6h0m.8 .3h0m-2.3 .9h0m1.9 1.5h0m.4 .9h0m.4 2h0m2.8 1.3h0m-5.5 1.5h0m5.8 .7h0m1.1 .7h0m2.6 .2h0m.5 .2h0m-7.6 1.1h0m-.6 .5h0m2 .4h0m-4.6 5h0m.8 .8h0m-3.3 .2h0m7.3 1.6h0m-1.5 .4h0m2.9 0h0m-9.5 .2h0m6.4 .1h0m-.6 .2h0m-3.2 1.1h0m4.4 .5h0m.4 .2h0m1.1 .3h0m.8 .4h0m-7.8 1.3h0m5.1 2.4h0m7.2 1.3h0m-11.2 .8h0m5.3 .7h0m2.5 .1h0m2 0h0m-6.4 .6h0m3.3 .2h0m-1.1 1.1h0m5.8 .3h0m-7.8 .1h0m-1.3 .2h0m5.7 .1h0m-12.6 .2h0m10 .5h0m3.6 0h0m-3.7 .1h0m-5.4 .6h0m5.4 .1h0m.5 .2h0m.1 .2h0m-1.6 1.6h0m5.3 .3h0m-1.5 .3h0m-1.8 .2h0m-1.5 .2h0m-2.8 .7h0m1.5 .6h0m3.9 .6h0m-2.7 .1h0m-2.7 .2h0m2.5 0h0m-3.8 .2h0m8 .2h0m-8.1 .7h0m-1.4 .3h0m1.2 .1h0m8.6 .5h0m-3.5 .2h0m.4 1h0m.1 .4h0m-7.1 .1h0m3.9 .3h0m-.8 .1h0m5.8 .5h0m-5.1 .3h0m5 .4h0m-4.8 .5h0m7.4 .3h0m.3 0h0m-3.6 .8h0m-1.2 .1h0m.6 .2h0m4.2 0h0m-7.7 .5h0m6.7 .5h0m-5 .2h0m-2.7 .6h0m3.6 0h0m-.1 1h0m-2 .2h0m-4 .5h0m8.1 .4h0m-1.2 .2h0m-6.4 1.2h0m6.3 .2h0m-2.3 1.9h0m1.6 0h0m-.2 .2h0m1.3 1.6h0m.7 1h0m-3.8 0h0m7.1 1.3h0m-8.1 .1h0m1.1 .3h0m3 .2h0m.8 1.3h0m-1.1 .4h0m-3.3 .8h0m2.4 0h0m-6 .5h0m.9 3.8h0m1.6 1.6h0m1.2 .9h0m-3.1 1h0m3.7 .7h0m5.3 .3h0m-5.2 .4h0m10.3 1.3h0m-10.9 .6h0m4.6 .1h0m-2 1.5h0m-7.1 .1h0m4.2 .5h0m3.8 .6h0m-1.9 .4h0m-2.7 .8h0m.7 .1h0m4.5 0h0m.3 .1h0m-.3 .1h0m-6 .5h0m3.3 .3h0m3.8 .1h0m-.4 .4h0m-1.6 .3h0m5.6 .1h0m-3.1 .7h0m1.3 .3h0m-13.1 1.5h0m9.7 .2h0m-3.5 1.1h0m3.3 .7h0m-4.6 1.3h0m-2.3 1.1h0m.2 0h0m4.1 .6h0m5.3 .5h0m-2.7 .9h0m-1.5 .1h0m-1.7 .4h0m-2.7 .8h0m.6 .1h0m.7 0h0m2.2 1h0m-5.4 1.3h0m8.7 1.4h0m-4.7 1.8h0m4 0h0m-.2 2.9h0" stroke="rgb(255,0,0)"/><path d="M291.2 108.6h0m-2.6 13.4h0m-2.4 3h0m4.3 .9h0m-.1 4.3h0m-9.4 7.5h0m9.1 1.2h0m4.2 5.3h0m3.5 2.2h0m-10.7 1.3h0m3.2 2.1h0m-.5 1.2h0m-4.6 .3h0m2 0h0m.2 3.3h0m.5 5.3h0m1.1 1.9h0m.4 .1h0m-1 1.6h0m.5 .6h0m5.2 .6h0m-1 1.4h0m-4.9 .3h0m3.6 .1h0m-.4 .6h0m-8 0h0m9 .9h0m-1.4 .7h0m-6.2 .5h0m8.7 1.5h0m-1.1 .9h0m-1.9 1h0m.2 .1h0m-1.1 .2h0m-5.9 2.2h0m8.7 .1h0m-6.1 .5h0m2.8 1.6h0m6.4 .3h0m-9.9 1.3h0m.9 3.9h0m14.4 .9h0m-4.9 .1h0m-9.8 1.1h0m12.1 2.3h0m-4.1 1.2h0m-5.8 .2h0m3.5 .1h0m-3.5 .6h0m4.7 .8h0m-5.3 .1h0m-5.3 .5h0m2.1 .1h0m5.3 .6h0m3.2 .1h0m-.5 .4h0m-1.6 1.3h0m-.7 1h0m3.8 .2h0m-2.5 0h0m1.2 .7h0m-5.1 1h0m-3.3 .7h0m1.9 .9h0m3.8 .1h0m5.3 .1h0m-.7 .6h0m-5.9 0h0m2.5 1.2h0m-3.5 0h0m.2 .3h0m-.9 .3h0m7 .6h0m-3.4 .3h0m-4.5 .5h0m3.8 .1h0m-11.3 .3h0m14.6 .1h0m-2.8 1.2h0m-4.2 .7h0m2.7 .5h0m.2 1.2h0m-.8 .6h0m2.3 .3h0m2.3 1h0m-4.8 .3h0m-3.9 .3h0m12.7 .4h0m-2.8 .1h0m1.2 .1h0m-3.1 .5h0m-.4 .8h0m6.4 0h0m-6.6 .5h0m-6.8 .5h0m11.1 0h0m-3.8 .1h0m-.1 .1h0m5.5 2.4h0m-2.5 .7h0m-.9 .1h0m-4.7 .1h0m1.3 .2h0m2.3 .1h0m-5.4 .1h0m1.9 2.9h0m-5.4 .2h0m4.6 .4h0m8.3 1.9h0m-3 .5h0m-5.6 .5h0m3.3 .6h0m-7.8 .2h0m6.5 .3h0m5.8 .1h0m-9.5 .2h0m4.7 1.1h0m.7 1.2h0m-2.1 .5h0m-1.3 .3h0m6.8 1.1h0m-5.3 .3h0m-7 2.6h0m10.7 1.5h0m-6.8 .2h0m3.5 .9h0m4.8 2.4h0m-6.9 .7h0m7.2 .5h0m-5.8 .4h0m3.9 .4h0m-2.7 1.2h0m-4 1.5h0m3.3 .1h0m.7 1.9h0m-.8 .6h0m3.4 .7h0m-2.3 1.1h0m4.2 .1h0m-.2 .4h0m-4 0h0m-.7 .3h0m-4.7 1.6h0m3.2 .5h0m-2.5 .1h0m6.7 1.1h0m1.2 0h0m-6 1.6h0m.5 .2h0m-5.1 1.8h0m6.5 .2h0m-4.6 .6h0m11 .4h0m-4.2 .6h0m-6.8 1.1h0m5.3 1.5h0m5.8 .2h0m-4.5 .4h0m-2.5 .7h0m4.1 .2h0m-6.8 .3h0m-.1 .1h0m-.8 .2h0m5.8 .5h0m1.1 0h0" stroke="rgb(255,0,0)"/><path d="M297.8 106.9h0m-6.2 22.5h0m.1 8.2h0m3.4 1.8h0m2.8 .3h0m-4.9 .5h0m-8.7 0h0m4.5 1.4h0m1.1 9h0m-9.6 1.3h0m13.6 .9h0m3 1.3h0m1.5 .3h0m-3.7 1h0m-5.6 1.2h0m3.1 .9h0m-.6 .1h0m-1.5 1.4h0m-2.2 1.3h0m3.3 .5h0m1.5 .6h0m-5.5 .2h0m6 .4h0m-4.6 1h0m2 4.3h0m-5 .8h0m5.6 .7h0m1.7 .4h0m-1.4 .1h0m.9 .1h0m-5.3 1.3h0m7.6 .6h0m.1 .6h0m2.3 .9h0m-11.2 .9h0m5.5 .1h0m6.6 2.2h0m-8.6 3.2h0m-7.7 4.3h0m11.7 .8h0m-3.6 .8h0m.7 1.7h0m.5 .9h0m-.3 .7h0m-.3 .2h0m1.6 .1h0m-3.5 .9h0m4.1 .3h0m-6.3 .4h0m3.8 1.2h0m-1.5 .1h0m2.3 .4h0m-1.1 .4h0m-3.3 .8h0m2 .8h0m2.7 .3h0m.7 .1h0m-4.1 2h0m4.7 .7h0m-3.1 .3h0m.4 .1h0m-1.7 1.1h0m.4 .1h0m-4.9 .1h0m8.6 .6h0m2.9 .2h0m-2 2.3h0m-5.8 .6h0m8.1 .1h0m-5 .2h0m3.3 .1h0m-1.6 .3h0m-7.1 1.1h0m3.8 1.4h0m7.1 .4h0m-5.6 1h0m4.7 0h0m-1.1 .2h0m-1.9 .3h0m-1.4 0h0m1.3 .1h0m-5.5 0h0m4.9 .1h0m-4.8 0h0m5.4 .1h0m3.1 0h0m-4.9 .2h0m-4.2 0h0m4.8 .3h0m-.2 .1h0m-1.4 .2h0m-.6 .9h0m-1 .5h0m5.4 .4h0m-5 1h0m6 .3h0m-6.2 .4h0m7.3 .3h0m3.5 .2h0m-11.1 .7h0m4 .3h0m-6.8 0h0m5.1 .3h0m-.7 .3h0m3.8 .2h0m-.3 0h0m1.5 .9h0m2.7 1.8h0m-7.1 .3h0m-4.3 .4h0m2.3 .9h0m-1.3 .6h0m5.6 0h0m-4.1 1.9h0m4.3 .6h0m.4 .3h0m1.4 1.3h0m-6.5 .1h0m4 .9h0m.9 .2h0m4.8 .3h0m-6.9 1.3h0m5 .1h0m-6 1.2h0m.2 .9h0m3.8 1.5h0m1.7 .9h0m-3.3 5.7h0m-4.3 1.6h0m2 1.7h0m.8 1h0m3.1 2.6h0m-6 1.6h0m5.8 .2h0m1.9 .3h0m-1.5 .3h0m-2.5 .4h0m1.8 .3h0m-4.6 .7h0m5.8 .7h0m-3.6 .1h0m-2 .5h0m-1.8 0h0m-.3 .7h0m7.3 .3h0m-5.3 .1h0m1.3 .5h0m-2.2 .1h0m6 .1h0m-5.2 .8h0m-2.4 .6h0m7.6 0h0m-10.6 .3h0m13.3 .2h0m-6 .8h0m-1.9 .2h0m2 .1h0m-1 .9h0m6.5 .3h0m2.8 .3h0m-9.3 .6h0m6.3 3.9h0m-4.5 3.1h0m2 2.4h0m-2.2 11.7h0" stroke="rgb(255,0,0)"/><path d="M291.3 112h0m4.5 13.4h0m-6.9 7.2h0m-.8 5.2h0m9 1.7h0m-9.1 2.1h0m-5.2 2.3h0m6.3 5.2h0m4.2 .9h0m-1 .3h0m-3.4 .4h0m2.5 .5h0m1.2 .8h0m3 2.7h0m-3.8 .3h0m-6 1.7h0m9.2 .5h0m-6.1 .8h0m1.4 4.6h0m-4.5 .4h0m13.2 1.2h0m-11.9 .2h0m4.4 .2h0m1.9 1h0m-1 .7h0m-.1 .7h0m-1.2 .4h0m-6 1.5h0m6.9 3.2h0m-2.1 1h0m-1.1 .3h0m9.8 2.2h0m-3.4 .6h0m-14 4.9h0m8.1 .6h0m9.3 .2h0m-13.7 4h0m1.7 .4h0m-2.6 2.7h0m4.7 1h0m2.7 .1h0m-6 .6h0m6.8 0h0m.9 1h0m-2.8 1.2h0m-7.4 1h0m9.6 .1h0m2.3 .5h0m-1.6 .3h0m-4.2 2.6h0m-.3 1.1h0m-.9 .6h0m8.7 .2h0m-1.2 2.5h0m-8.2 .1h0m.4 1.4h0m4.3 .3h0m-.3 1.3h0m-5.3 .1h0m8.8 .2h0m-7.5 .3h0m8.8 0h0m3.4 .3h0m-8.8 .1h0m1.8 .2h0m2.9 .1h0m-.4 .1h0m-3.5 1.6h0m3.9 1.2h0m-2.6 .1h0m-.1 .3h0m1.9 .6h0m-9 .4h0m6 .1h0m-5 .1h0m4.4 .3h0m-3.3 .3h0m.4 .2h0m5.3 .2h0m-1.2 1.1h0m-1.7 .5h0m-5.2 0h0m6.5 1.1h0m-1.7 1h0m1.6 .4h0m-2.1 .6h0m-3.9 .3h0m7.1 .4h0m-3.9 .2h0m7.8 .7h0m-5.4 .4h0m-2 1.2h0m-5.3 .3h0m8.7 0h0m-5.6 .2h0m.9 .3h0m2.4 .4h0m2 0h0m-4.4 2.8h0m12.1 0h0m-14.3 0h0m.5 .1h0m0 .4h0m2.9 .3h0m4.2 .3h0m.4 .3h0m-4.2 .3h0m-5.3 1.3h0m-.3 .9h0m3.7 0h0m-2.9 1.4h0m4.9 .4h0m3.1 .3h0m-6.5 1.5h0m3.3 2.1h0m2 .1h0m-7.6 1h0m7.7 .3h0m-.6 .1h0m-3.9 .4h0m-5.5 0h0m3.4 .1h0m8.2 .1h0m1.8 .1h0m-3.2 1.2h0m0 .6h0m-.2 3.2h0m7.8 1.5h0m-9.4 .4h0m.4 0h0m.3 1.8h0m1 .6h0m4.6 .5h0m-9.4 .2h0m8.1 .4h0m3.5 .9h0m-12 .3h0m1 .8h0m6.3 .3h0m-2.5 .1h0m-4.4 1.1h0m2.4 .1h0m6.6 1.5h0m-12 .6h0m5.2 .5h0m7.6 0h0m-2.4 .2h0m-2.3 1.7h0m-1.3 .7h0m.1 .2h0m1.7 1.3h0m-.6 .2h0m1.8 .8h0m-8.1 4.3h0m9.5 .6h0m-1.6 .9h0" stroke="rgb(255,0,0)"/><path d="M287.8 130.4h0m2.1 3.2h0m5.8 5h0m-10.3 3.2h0m6.1 .2h0m-2.5 4.3h0m-3.1 1.7h0m1.6 .1h0m6.8 .5h0m.6 .5h0m.3 .5h0m-2.6 1.8h0m5.2 .6h0m-8.3 .5h0m4.6 0h0m-7.3 .3h0m.8 5.2h0m1.5 1.5h0m8.4 0h0m-5.3 .5h0m-2.6 .3h0m-2.5 .3h0m.4 .1h0m4.2 .1h0m-4.1 .8h0m2.7 1.5h0m-1 .1h0m4.2 .1h0m-.8 .2h0m-7.5 .9h0m-.5 0h0m5.1 .1h0m1.2 1h0m3.8 0h0m-6.8 .3h0m2.4 .2h0m-4.2 2.5h0m4.6 .8h0m-2.5 .9h0m-5.6 .3h0m8.8 1h0m4.7 1.9h0m-1.8 .2h0m-5.1 3h0m1.2 2h0m1.4 2.4h0m3.6 .9h0m-.6 2.6h0m-1.6 1.3h0m-14.4 1.2h0m14.8 .7h0m.5 .2h0m-1.1 .8h0m-2.6 .1h0m-2 .2h0m-1.9 .1h0m9.5 .4h0m-13.2 1.6h0m7.6 1.1h0m-.1 1h0m-2.1 1.5h0m4.9 .6h0m-1.5 .4h0m-4.4 1.1h0m5.6 .2h0m-2.4 .2h0m8.6 .2h0m-11 .9h0m11.4 .4h0m-7.3 1.2h0m-3.2 .2h0m4.8 .9h0m-3.3 1.9h0m4.8 .2h0m-2.2 3.8h0m-1.1 .5h0m-3.2 .4h0m2.1 .1h0m1.9 0h0m-.4 .4h0m4.4 .5h0m-3.7 1.6h0m4.4 .1h0m-10.8 0h0m-5.6 .1h0m9.6 .9h0m-1.6 .3h0m8.9 .5h0m-9.2 .4h0m3.9 1.7h0m-3.5 .3h0m4.2 .1h0m-4 2.5h0m11 0h0m-8 .7h0m-4.6 .1h0m.7 .4h0m3.2 0h0m-2.9 .3h0m-.8 .3h0m6.3 1.3h0m-2.1 .4h0m4.2 .7h0m-11 .1h0m7.3 .4h0m-2.3 1.3h0m-6.6 1.7h0m9.7 0h0m-5 1.3h0m3 .8h0m-4.5 .8h0m8.4 .2h0m-3 .5h0m-1.1 .1h0m-1.7 .6h0m3.5 .1h0m-4.4 1.5h0m3.7 .3h0m-5 3.3h0m10.2 2.9h0m-3.6 1.7h0m-4.3 .1h0m4.1 .6h0m5.6 .3h0m-7 .3h0m-2.5 .8h0m-5.8 .2h0m11.9 .9h0m-9.4 .2h0m-2.5 .3h0m7.9 .1h0m-1.5 .2h0m2.8 .6h0m2.7 .2h0m-12.7 0h0m7.6 .9h0m-2.2 1.5h0m11.2 .3h0m-9.6 .5h0m-3.9 .5h0m-5.3 .4h0m14 .2h0m-6.5 .4h0m1.1 .2h0m-2.7 .6h0m7 0h0m-1.3 1.2h0m3.8 .2h0m-5.1 .8h0m-1.9 .4h0m-2 .7h0m-1.3 1.1h0m4.8 2.4h0m.7 6.4h0m-2.3 .5h0m4.9 1.6h0m-4.4 2.5h0m1 .1h0" stroke="rgb(255,0,0)"/><path d="M69.9 492.4h0m-6.5 16.6h0m5 2.1h0m-6.4 2.9h0m7.6 1.8h0m-8.2 2.9h0m5.5 3.9h0m-3.5 .1h0m7.4 .9h0m3.1 2.1h0m-1.3 2.3h0m-5.1 .6h0m.5 .8h0m1.6 .4h0m-6.8 .7h0m3.4 .5h0m-.3 .7h0m-.5 1.9h0m5.3 .1h0m0 .5h0m-3.6 .2h0m9.7 1.1h0m-3.8 5.7h0m-8.1 .1h0m4.9 0h0m3.9 .8h0m-5.2 5.8h0m-4.1 .3h0m8.8 1.9h0m-3.9 1.1h0m1.1 .9h0m-6.8 0h0m9.2 .6h0m-2 .9h0m-4.9 1.2h0m.6 1.6h0m.3 1.7h0m3.7 .3h0m-4.8 3h0m8.4 1.3h0m-1.4 4.9h0m-4 1.3h0m-4.4 1.2h0m2.7 1.3h0m1.7 1.9h0m4 .5h0m-13.9 .3h0m13.7 .4h0m-3.4 2.5h0m-6.6 .2h0m2.5 2.8h0" stroke="rgb(0,128,0)"/><path d="M68.5 486h0m-1.5 12.2h0m5.1 6.8h0m-6.3 6.8h0m7.7 10h0m-6.9 3.4h0m-.1 2.6h0m1.6 7.1h0m-4.7 .3h0m6.1 .2h0m-1.4 .3h0m7.5 2.7h0m-6.8 .7h0m-1.7 .9h0m7 .8h0m-5.6 1.7h0m-2.8 .4h0m-.6 .8h0m-.1 .8h0m8.1 2.2h0m-5.1 2.2h0m1.7 1.6h0m-2.3 .7h0m1.6 1.6h0m4.5 .4h0m-3.4 2.4h0m2 .4h0m-2 3.4h0m-.4 1.2h0m4.1 3.7h0m-8.7 4h0m-2.3 5h0m2.7 9.9h0m11.7 4.3h0m-11.7 .5h0" stroke="rgb(0,128,0)"/><path d="M59.7 500.6h0m8.4 4.4h0m-.6 7.7h0m.9 .4h0m.5 2h0m1.9 1.8h0m2.8 .6h0m-3 .8h0m3.2 3.5h0m-2.5 5.9h0m-.1 1.8h0m-6.3 .2h0m8.9 .2h0m-3.8 .1h0m-3.8 1.2h0m1.8 .3h0m13.3 .6h0m-4.2 2.5h0m-14.4 1.4h0m-.2 1.2h0m9.4 .8h0m-10.7 4h0m14.4 .7h0m-5.3 .4h0m-2.3 1h0m-3.4 1.3h0m2.8 .6h0m3.2 .2h0m-8.5 5.2h0m4.3 0h0m4.5 .6h0m.6 .1h0m0 .5h0m-5.5 1.8h0m1.6 .1h0m-2.2 .5h0m1.5 3.7h0m1.7 1.8h0m-1.1 4.8h0m-1.8 1.6h0m1.7 3.6h0m-1.5 1h0m5.4 6.4h0m-7.5 3.1h0" stroke="rgb(0,128,0)"/><path d="M65.8 520.8h0m5.1 4.7h0m-2.8 1.2h0m4.7 .7h0m-.6 .4h0m-5 .7h0m-2.6 2.9h0m3.6 .2h0m4.1 .2h0m1.6 1.2h0m-6.4 .3h0m11.3 3h0m-12.4 .7h0m6.1 5.8h0m-6.2 2h0m-3.2 .3h0m3.3 .9h0m3.2 .2h0m4.3 .4h0m-3.1 .6h0m-4 1.5h0m5.5 .7h0m-1.1 3.8h0m.5 .3h0m-.4 .1h0m-1 1.9h0m-1.1 2.6h0m-7.3 1.2h0m-2 .1h0m8.4 .3h0m.6 .1h0m-2.3 .1h0m1.1 .4h0m9.1 2.9h0m-11.2 2.4h0m-.8 0h0m-2.6 1.2h0m8.9 .2h0m-.6 2.7h0m-5 11.2h0" stroke="rgb(0,128,0)"/><path d="M69.3 496.5h0m1.2 1h0m-1.1 16.2h0m2.6 2.8h0m-1.4 8.2h0m-4.2 .4h0m8.4 1.7h0m-.9 4.4h0m-4.7 .6h0m-1 2.6h0m-4.5 .1h0m-.5 .4h0m.9 .4h0m3.9 4.2h0m1.9 1h0m-.7 .4h0m.1 1.1h0m1.6 0h0m-3.1 .8h0m-1.8 1.4h0m.9 2.1h0m-2.5 .4h0m5.3 .2h0m4.8 1.6h0m-2.1 0h0m-5.3 1.1h0m-1.5 3.8h0m1.6 1.1h0m2.2 .6h0m-.5 .1h0m-3.6 0h0m2.7 2.3h0m-.2 2.4h0m4.9 1h0m-2.4 .4h0m-1.8 2.3h0m3.2 7.2h0m-1.9 1.9h0m-.5 20h0" stroke="rgb(0,128,0)"/><path d="M62.3 471.7h0m12.6 18.5h0m-7.7 7.8h0m-5.6 1.3h0m4.8 8.5h0m4.7 1.8h0m.4 4.2h0m-7.3 2.2h0m4.2 5.1h0m-2.6 3.2h0m4 2h0m1 .9h0m2.7 1.6h0m2.4 4.3h0m-5.7 .3h0m7.2 .6h0m-3.8 1.5h0m-3.9 1.4h0m-4.3 .1h0m6.1 2h0m-9.3 4.1h0m7.6 .3h0m2.3 .4h0m.5 2.7h0m-4.4 .1h0m-3.4 .9h0m1.6 .4h0m5.1 .1h0m-.9 0h0m-.4 .5h0m.7 1.3h0m1.2 .1h0m-5.3 .1h0m4.7 .6h0m-7.6 .3h0m8.3 1.2h0m-5.7 2.8h0m8.3 .3h0m-9.5 1.2h0m4.4 .3h0m6.9 2.8h0m-7 .1h0m-1.8 1.5h0m2.3 1h0m-4.6 5h0m-4 .7h0m7 1h0m-4.8 .4h0m7.7 4.2h0m-2.3 3.2h0m-.4 2.5h0m-7 10h0" stroke="rgb(0,128,0)"/><path d="M64.7 503.3h0m2.5 .7h0m5.7 6.9h0m-1.5 9.6h0m-2.3 1.9h0m-.3 5h0m9.1 2h0m-6.3 1h0m-1.7 2.5h0m.2 .4h0m-.9 2.2h0m6.1 3.1h0m-9.1 .6h0m11.1 2.6h0m-16.5 1h0m6.2 1h0m5.6 1.3h0m-4.1 1.7h0m-1.4 .4h0m-2.2 .3h0m-1.4 2.4h0m10.2 .5h0m-.3 2.2h0m1.6 .1h0m-7.3 .1h0m.7 2.1h0m4.1 2.1h0m-.9 1h0m3.4 1.6h0m-6.1 .5h0m-1.9 3h0m-.5 .4h0m7.1 2.2h0m-.4 .1h0m1.1 3.2h0m-7 2.4h0m3.2 .6h0m5.2 5.5h0m.4 2.4h0" stroke="rgb(0,128,0)"/><path d="M69 471.6h0m-3.9 40h0m6.5 2.5h0m3.7 3.6h0m-4.3 7.4h0m2.5 .5h0m-8.8 2.7h0m7.4 .3h0m-2.9 2.1h0m2.7 .5h0m-1.8 .1h0m-.2 .6h0m-.3 1.4h0m-.9 .6h0m-3.8 .7h0m2.3 .9h0m5.2 .4h0m.6 .2h0m-4.7 .4h0m1.5 1.9h0m3.8 3.1h0m-3.6 2.8h0m-.4 0h0m-2.6 3.8h0m.1 .4h0m-5 2.2h0m2.9 .3h0m-10 0h0m18.3 1.1h0m-.9 .7h0m2 1h0m-3.2 0h0m-3.3 2h0m3.8 .4h0m-3.6 .4h0m-2.4 .3h0m1.5 .1h0m-1.3 .4h0m2.8 .6h0m-1 1h0m-1.3 .7h0m.2 .5h0m5.4 .6h0m-9.2 1.9h0m6.1 1.3h0m4.1 1.1h0m1.2 3.1h0m-3.3 3.9h0m-3.1 .6h0m6.2 1.2h0m1.7 .3h0m-7.1 1.7h0m4.2 1.5h0m-8.4 6.3h0m7.4 7.9h0m-4.5 4.3h0" stroke="rgb(0,128,0)"/><path d="M72.4 493.8h0m-.4 11.7h0m-.7 3.2h0m-7.9 6.2h0m8.9 .9h0m-1.6 3.2h0m.7 .8h0m-3.4 4.5h0m-.7 0h0m5.7 .6h0m-3.9 7.2h0m5.6 .7h0m-12.8 0h0m7.3 1h0m-1.1 6.8h0m1.9 0h0m-2.4 2.6h0m-.4 1.3h0m-.5 .2h0m-4.7 2.8h0m8.9 1.5h0m2 .6h0m-2.2 .3h0m-.4 .1h0m.9 1.4h0m-1.1 4.1h0m7.4 1.3h0m-5.6 .1h0m-5 1.4h0m1.1 5.5h0m3.8 3.8h0m2.3 .3h0m-10.3 .3h0m3.9 .4h0m.1 8.9h0m-1.8 12.1h0" stroke="rgb(0,128,0)"/><path d="M65.5 491.8h0m.2 7.6h0m6.4 3.4h0m-2 7.1h0m1 1h0m-6.1 3h0m2.5 5h0m4.7 1.1h0m3.1 4.4h0m-4.3 5h0m-1.7 2.5h0m-.9 2.5h0m7.5 2.4h0m-8.8 .6h0m-.9 1.1h0m-2.8 .6h0m5.9 2.5h0m1.8 .2h0m-3 .5h0m1.2 .7h0m-.2 1.7h0m4.6 1.1h0m2.7 1h0m-9.4 1.1h0m.7 .6h0m-4 .2h0m13.7 2.2h0m-3 .6h0m-1.4 .2h0m-3.6 0h0m7.9 .9h0m-8.3 1.6h0m2.4 1.6h0m.4 .4h0m1.8 3.5h0m2.6 .3h0m-3.7 1.3h0m-4 6.8h0m-4.7 6.5h0m12.9 .5h0m-1.8 2.3h0m-8.7 1.6h0m7.6 9.4h0" stroke="rgb(0,128,0)"/><path d="M62.8 501.2h0m4.3 16.5h0m5 5.4h0m-7.5 5.1h0m6.6 .1h0m1.8 1.5h0m-6.1 2.4h0m-.1 2.8h0m1 .7h0m-3.2 2.4h0m-1.2 1.9h0m4.1 .3h0m8.5 1.1h0m-10.5 1.3h0m5.7 .7h0m-.4 1.1h0m.2 .1h0m4.3 2h0m-6.2 1h0m-1.6 1.9h0m-5.1 .2h0m11.5 .2h0m1.5 6.3h0m-1.4 .8h0m-4.6 .1h0m-.7 .3h0m2.3 4.2h0m-5.5 .2h0m5.5 1.4h0m-4.6 2.2h0m7.2 4.4h0m-7.6 2h0m3.9 8.6h0m-2.8 6.1h0" stroke="rgb(0,128,0)"/><path d="M68.3 500.8h0m-.7 2.1h0m2.1 20.3h0m2.8 4.2h0m-6.2 1.5h0m3.9 2.1h0m-.8 2.8h0m-2.2 .6h0m2 .2h0m-3.2 2h0m-1.1 .2h0m5 .7h0m-2.6 .7h0m1.5 .9h0m-1.1 1.6h0m7.8 1.5h0m-6.2 1.8h0m2 .5h0m-.6 .5h0m-3.6 .3h0m.2 1.3h0m.2 1.8h0m2 1h0m-1.9 2.7h0m-.2 1.6h0m-2.3 .5h0m5.6 .7h0m2.3 1.7h0m.2 .1h0m-6 1h0m8.5 1.5h0m-9.2 .9h0m11.1 .4h0m-9.7 .1h0m4.2 1.6h0m-6.2 .8h0m2.9 1.8h0m.7 2.4h0m.3 .2h0m-.5 .6h0m-1.3 .3h0m-7 .7h0m5 6.8h0m4.4 4.7h0" stroke="rgb(0,128,0)"/><path d="M68.6 491.9h0m-5.6 8.1h0m1.1 .2h0m6.6 8.4h0m-1.5 1.4h0m-4.7 3.3h0m7.6 .2h0m-2.2 2.9h0m-2.2 .8h0m-.7 .2h0m2.9 1.9h0m-6.2 2.1h0m-5.3 1.2h0m12.3 1h0m-3.3 1h0m1.7 1.3h0m2.7 .7h0m-2.2 .9h0m3.7 .6h0m-1.2 .4h0m-7.6 .9h0m.4 5.2h0m.7 .6h0m4.3 3h0m1.9 .3h0m-5.6 2h0m14.1 .4h0m-16.5 .9h0m9.6 .2h0m-4.5 .2h0m2.8 .5h0m.9 .3h0m-1.4 3.5h0m-1 .4h0m-.5 1.7h0m-.5 2.5h0m-4.1 0h0m-.6 1.7h0m3.4 .6h0m1.2 0h0m-.2 3.8h0m0 1.6h0m-5.5 .3h0m5.4 3.7h0m8.7 2.7h0m-13.9 .7h0m3.2 1.5h0m3.8 3.9h0m-3 3.1h0m-2.2 3.9h0m-4.1 .9h0" stroke="rgb(0,128,0)"/><path d="M70.3 470.2h0m-7.1 10.6h0m1.7 13.4h0m4.8 1.5h0m1.8 8.3h0m.5 1.2h0m-10.8 8.9h0m3.1 .3h0m4.4 5.8h0m-3.1 5.8h0m-.6 3.2h0m6.9 1.2h0m-3.7 1.3h0m-.8 2.3h0m2 .4h0m-1.9 3h0m.2 .5h0m1.9 1.4h0m3.8 1.2h0m-4.1 3.4h0m-4.7 .7h0m9.8 .5h0m-4.7 .5h0m-5 3.6h0m4.3 .1h0m-.2 .6h0m-1.9 2.5h0m5.4 2.3h0m-1.7 .4h0m-5.6 1h0m8.9 3h0m-4.5 .3h0m-.7 .7h0m3.3 .7h0m2.7 2.3h0m-9.1 1.3h0m6.1 .2h0m-2.4 3.2h0m-.4 .5h0m-4.7 .1h0m8.7 1.9h0m.7 2.4h0m-4.7 5.2h0m-3.2 .6h0" stroke="rgb(0,128,0)"/><path d="M72.3 513.4h0m3.7 .5h0m-6.2 4.3h0m-7.7 .3h0m11.5 5.3h0m-6.3 2.4h0m5.3 .9h0m-.9 3.1h0m-4.3 1.3h0m10.8 9.4h0m-6.6 .6h0m-3.2 .6h0m-.7 1.6h0m4.6 1.9h0m-3.8 .3h0m3.4 .9h0m-6 .2h0m7.8 .2h0m-7.9 1.1h0m4.1 1.1h0m5.6 .7h0m2.6 2.9h0m-14.4 .5h0m9 1.3h0m-1.7 7.1h0m-2.3 3.2h0m-.2 1.9h0m-.5 1.3h0m1.3 .6h0m2 1.1h0m-6.4 .8h0m6.2 .1h0m-8.9 3.5h0m3.6 33.1h0" stroke="rgb(0,128,0)"/><path d="M71.4 503.5h0m.5 2.6h0m-3.1 1.1h0m1.8 8.4h0m1.3 .4h0m3.5 0h0m-6 .2h0m.5 5.1h0m2.6 2h0m-2.3 5.6h0m-5 .1h0m8.2 .3h0m-1.6 2.8h0m-5.7 5h0m5.6 1.3h0m-5 .2h0m2.9 .3h0m7.6 .8h0m-8.3 2.3h0m-6.2 2.4h0m1.1 2.3h0m4.1 2.9h0m8.4 .1h0m-2.2 1.4h0m-6.8 1.7h0m-3.3 1.7h0m3.7 1h0m-2 3.9h0m5.9 1h0m-5 4h0m1.6 .7h0m2.7 1.7h0m-1.1 5h0m-.1 17.5h0" stroke="rgb(0,128,0)"/><path d="M74.6 488.5h0m-.6 13h0m-.7 7.6h0m-3.6 11.5h0m-2 0h0m-3.7 .9h0m4.7 3.2h0m1.6 1.6h0m-3 3.6h0m-.2 5.9h0m.1 1.7h0m6.1 0h0m-3.7 0h0m6.1 .6h0m-10.1 .5h0m5.3 .9h0m-5.7 3.5h0m13.4 1.4h0m-8.6 .4h0m-3.4 1.6h0m7.3 2.2h0m-4.2 3.4h0m-2.5 1h0m.3 .4h0m-1.1 .2h0m3.9 .2h0m3.3 .5h0m-.4 2.4h0m-5.9 1h0m-1.7 .1h0m-.7 .2h0m4.9 .4h0m5 .3h0m-9.8 .9h0m10.2 4.9h0m-8.4 .5h0m8 2.7h0m-4.8 .8h0m1.9 .3h0m-1.2 .9h0m-.5 2.2h0m6.1 1.4h0m-6.9 1.3h0m2.3 1.9h0" stroke="rgb(0,128,0)"/><path d="M68.1 492.5h0m2.6 15.6h0m5.1 7.9h0m-5.5 2.8h0m4.5 6.1h0m-10.6 .4h0m-1.3 1.6h0m.4 .2h0m12.9 .3h0m-1.4 .4h0m-5.8 8.2h0m-3 .2h0m3.4 .2h0m-2.3 4.2h0m2.4 1.2h0m.1 1.2h0m11 5.4h0m-14.8 1.7h0m10.3 3.5h0m-3.3 .6h0m-7.8 .1h0m5.7 1h0m.9 1.1h0m-4.1 1.1h0m-.6 .8h0m-1.8 1.4h0m-1.6 1.7h0m2.7 18.6h0" stroke="rgb(0,128,0)"/><path d="M65.7 484.3h0m5.9 12.6h0m-7.3 9.7h0m9.8 11.8h0m-7.6 1.2h0m1.6 .3h0m-1.1 .1h0m1.7 3.3h0m6.3 1.7h0m-.6 1.3h0m-15.3 4.4h0m12.2 2.1h0m-3.1 0h0m-.8 2.5h0m-1.3 1.2h0m6.8 1.7h0m-1.4 1.4h0m-2.2 .8h0m-.9 .3h0m-5.3 .3h0m10.6 .2h0m-3.8 2.3h0m1.6 3.4h0m2.2 0h0m-8.7 1.9h0m11.1 .9h0m-5.1 0h0m-3.1 6.6h0m-1.4 .4h0m-1.3 1.5h0m.2 .7h0m1.7 2.2h0m2.3 1.5h0m-.2 3.4h0m1.3 2.5h0m2.3 .1h0m-6.8 4.2h0m7.1 2h0m-6.3 8.7h0" stroke="rgb(0,128,0)"/><path d="M72.8 490.7h0m-7.7 5h0m4.5 9.5h0m-.6 7.1h0m-.9 1.9h0m1.5 .9h0m3 7.1h0m-2.1 .6h0m1 .7h0m-3.2 .9h0m-2.1 .4h0m2.3 0h0m5.2 6.5h0m1.6 .1h0m-7.4 1.8h0m.7 1.3h0m-3.9 .1h0m2.4 0h0m1 .2h0m3.6 1.7h0m-4.3 3.6h0m1.4 1.6h0m-2.8 1h0m2.4 .1h0m-6.4 .8h0m8.3 .3h0m-3.7 .9h0m5.1 2.2h0m-.3 .4h0m4.3 .9h0m-10.2 .2h0m5.1 .1h0m-12.3 2.4h0m15.9 .6h0m-2.7 0h0m-5 .2h0m3 0h0m-4.1 2.1h0m2 .1h0m-.5 .4h0m.1 1.9h0m5.1 .2h0m1.5 1.3h0m2.1 4.2h0m-10.9 1.6h0m-.8 0h0m5.5 3.1h0m2.7 1.3h0m5.5 3h0m-3.5 .4h0m-2.3 .9h0m-2 6h0" stroke="rgb(0,128,0)"/><path d="M71.8 492.7h0m-2.2 26.1h0m1.9 3.7h0m7 5.5h0m-7.4 .3h0m-4.6 4.2h0m8.2 0h0m-4.2 3.9h0m-4.3 3.7h0m-.5 0h0m8.4 .7h0m-5.9 .5h0m1.8 1.8h0m.8 .5h0m-4.5 .2h0m2.5 0h0m7.2 1.1h0m-10.3 1.5h0m3.3 .1h0m6.5 1.7h0m-4.3 .9h0m-6.8 .9h0m3.7 .6h0m2.2 1.8h0m-2.6 .7h0m-6.9 1.4h0m5.4 2.4h0m5.3 1h0m0 2.1h0m-3.3 .5h0m5.4 1.2h0m-2.4 2.1h0m2.6 2.6h0m-7.4 2h0m4.4 0h0m-3.6 3.5h0m-1.9 2.4h0m5.9 7h0m-3.8 .8h0m5 3.8h0m-3.3 11.5h0" stroke="rgb(0,128,0)"/><path d="M71.3 506.2h0m-4.3 8.9h0m3.4 3.9h0m-2.5 .6h0m-2 4.4h0m1.3 2.5h0m3.4 1.6h0m-2.9 2.3h0m-.4 1.1h0m4.3 2.1h0m-5.3 4.1h0m2.3 2.4h0m-1.9 4.6h0m.8 .3h0m7 .3h0m-3.1 .8h0m-2.2 2.6h0m.1 1.8h0m2 .4h0m-2.9 .4h0m7.9 1.6h0m-8.4 .5h0m-4.2 6.2h0m7.9 1.9h0m3.5 .6h0m-5.5 4.2h0m-3.5 1.9h0m2.8 3.1h0m-9.9 1.6h0m6.7 .5h0m.4 .2h0m-.6 11.4h0" stroke="rgb(0,128,0)"/><path d="M70.1 477.1h0m1.4 26.9h0m-4.3 7.7h0m1.1 4.1h0m4 7.4h0m-2.9 1.2h0m.1 .3h0m-.8 3.7h0m-3.1 .7h0m-1.4 4.3h0m-.5 0h0m8.8 .3h0m.7 .7h0m-7.5 .9h0m.4 .2h0m-4.9 1.1h0m9.8 1h0m-2.4 2h0m.1 .3h0m1.5 1.3h0m3.8 .2h0m-5.2 .2h0m-4.2 .8h0m2.8 .8h0m-.9 .8h0m4 .3h0m-.4 1.6h0m-5.1 .5h0m0 1h0m-1.8 .5h0m6.9 1h0m-1 .4h0m.9 .5h0m-2.2 3.9h0m1.3 .8h0m.5 1.1h0m-2.8 .2h0m-2.6 3.5h0m3.5 2.9h0m-3.8 1.9h0m10 4.6h0m-.7 2.9h0m-7.1 1.4h0m.5 .7h0m-5 7.5h0" stroke="rgb(0,128,0)"/><path d="M65.1 504h0m8.9 5.1h0m-6.4 .7h0m-.9 8.3h0m2.6 .4h0m-.2 .8h0m-2.3 0h0m2.4 2.6h0m4.7 .2h0m-11 .1h0m2.5 .3h0m2.4 2.6h0m3.9 2.7h0m.9 .9h0m-4.5 .7h0m-4.4 2.7h0m7 .7h0m-5 1.2h0m4.3 0h0m2.7 .9h0m-9.2 .3h0m8.3 .4h0m-5.4 1.8h0m-1.8 1.4h0m7.1 1.7h0m-6.1 1.4h0m12 .2h0m-9.7 2.6h0m3 .6h0m.6 .9h0m-8.7 8.3h0m6.5 .5h0m-2.2 1.3h0m1.2 .2h0m4.8 .9h0m-8.5 2.1h0m4.5 2.7h0m-7.6 2.9h0m.7 1.7h0m8.8 1h0m1.8 .5h0m5.7 .5h0m-10 1.7h0m-4.6 6.6h0" stroke="rgb(0,128,0)"/><path d="M125 568h0m1.3 24.5h0m0 5.3h0m-.7 1.5h0m-.7 1.2h0m-4.4 1.3h0m.7 .4h0m5.3 .5h0m-9 0h0m9.3 1.1h0m2.8 .2h0m-2.2 .7h0m-5 .3h0m6.8 .2h0m-2.7 2.1h0m1.4 2.7h0m-7.5 1h0m6.2 .2h0m-7.4 .1h0m9.6 2.8h0m-7.7 .8h0m.7 1.2h0m4.2 .3h0m-2.2 .2h0m-.4 2.6h0m5 .5h0m-.1 .3h0m1 .2h0m-5 0h0m3.6 .2h0m-9.9 2.2h0m-2.2 .1h0m15.9 .3h0m-14.1 .6h0m6.6 .9h0m-1.6 .3h0m4.2 1.7h0m-.1 2.1h0m3.7 2.1h0m1.5 1.3h0m-2 .8h0" stroke="rgb(0,0,255)"/><path d="M128.1 586.4h0m-7.6 .3h0m11.6 5.8h0m-5.1 1.8h0m2.3 1.3h0m-2 1.4h0m-3.6 .1h0m6.4 .7h0m-10 .1h0m5.1 .2h0m3.6 2.3h0m2 .4h0m-.8 .1h0m-2 1.9h0m-4.1 .4h0m1.6 2.2h0m-1.2 .7h0m-4.1 .3h0m6.2 .1h0m-.4 .1h0m-1.5 .1h0m3.9 .1h0m.4 .6h0m-5.6 1.9h0m-2.1 .1h0m3.5 0h0m2 2.1h0m-1.1 .6h0m5.5 1.2h0m-2.8 1.3h0m-1.8 .2h0m6.1 .2h0m-12.9 .5h0m4 2.1h0m2.7 0h0m.9 .4h0m.1 .1h0m-5.1 .1h0m5.1 .9h0m-10 .2h0m4.5 1.8h0m4.4 .4h0m1.8 1h0m-7.9 2.2h0m8.1 1.8h0m-.8 2.9h0m.1 .5h0" stroke="rgb(0,0,255)"/><path d="M120.3 572.4h0m9.9 8.5h0m-6.1 3h0m1.9 4.9h0m-.8 2h0m-2.1 .3h0m7.3 0h0m-4.4 .1h0m5.7 .6h0m-4.9 .6h0m-1.4 4.3h0m-1.4 1.1h0m8.1 .1h0m-4.6 6.3h0m2.1 .6h0m-5.6 .1h0m0 .5h0m2.1 .2h0m-1.3 .1h0m-3 1.5h0m-2.1 0h0m8.6 .9h0m.3 .1h0m1.6 .1h0m-7.3 0h0m1.9 2.6h0m-2 .4h0m-.7 .8h0m6.3 .4h0m-5.7 1.2h0m3.1 .7h0m-7.4 .8h0m11.4 1.1h0m-8.1 .2h0m.3 .8h0m.8 .2h0m2.9 .5h0m-7.1 .2h0m2.1 .4h0m6.7 1h0m-5.8 2.1h0m9.8 .1h0m-5.6 1.9h0m4.6 1.1h0m-1.8 3h0" stroke="rgb(0,0,255)"/><path d="M118.3 567.4h0m4.3 15.9h0m-1.5 4.3h0m6.2 3.4h0m-.4 .7h0m-3.3 .4h0m.8 4.2h0m2.8 .5h0m2.9 1.5h0m1.2 .9h0m-2.4 .3h0m.4 1.8h0m2.8 2.1h0m-7.2 .2h0m-.2 .7h0m-.8 .2h0m-.4 1.4h0m6.7 1.4h0m-2.9 .5h0m-9.6 .5h0m2 .1h0m4.8 0h0m3.7 .1h0m-2.7 .7h0m6.3 2.1h0m-7.3 .5h0m3.3 0h0m-.2 .5h0m3.4 2h0m-5.6 .6h0m-.9 .1h0m5.4 .6h0m-10.2 .2h0m8.7 .3h0m1.2 2.2h0m-7.1 .7h0m8.9 .5h0m-6 1h0m-5.9 1.2h0m8.2 .5h0m-6.1 .1h0m.5 1.8h0m6.9 2.4h0" stroke="rgb(0,0,255)"/><path d="M130.5 582h0m-3.5 5.2h0m-6.5 2.4h0m3.4 .2h0m.7 4.9h0m.7 5h0m-4.2 .7h0m16.1 1h0m-14.6 .7h0m9.1 0h0m-2.5 .6h0m-4 .4h0m-2.8 .7h0m3.2 .8h0m-4.4 .4h0m3.3 .1h0m.4 .1h0m-7.4 0h0m6.1 1.2h0m-4 .5h0m4.7 .2h0m6.1 0h0m-4.8 .5h0m0 1h0m2.7 .5h0m-3.8 0h0m2.2 .7h0m.6 .5h0m-4.1 .2h0m-2.2 2h0m1.1 .5h0m-.6 .2h0m7.8 .8h0m2.1 .3h0m-6.9 .6h0m.1 .3h0m3.3 .4h0m-13.5 .5h0m19.5 2h0m-8.9 1.9h0m-3.3 .4h0m3.6 .1h0m6.5 2.6h0m-7.4 2.4h0m4.9 .6h0m6.4 1.5h0m-10.7 1.4h0" stroke="rgb(0,0,255)"/><path d="M124.9 586.6h0m8.9 2h0m-4.5 1.7h0m-3.5 .6h0m.4 1h0m-7.1 2.8h0m4.5 .4h0m3.9 .6h0m-.7 .7h0m-7.4 .3h0m3.5 1.3h0m.2 1.8h0m9.6 .1h0m-8.2 1.6h0m1.3 .4h0m-3.4 2.2h0m5.1 2.5h0m-3.2 .9h0m4.1 .4h0m-5.7 1.5h0m10.2 1.6h0m-8.4 .3h0m4.4 .5h0m-.7 .6h0m-3.3 .6h0m-5 .2h0m8.4 1.3h0m-10.6 .1h0m13.5 .6h0m-1.5 .8h0m-.4 0h0m1 1.7h0m-1.1 4h0m-1.6 3.5h0m-3.6 4.5h0m1.4 1.8h0" stroke="rgb(0,0,255)"/><path d="M114.2 568.4h0m11 20.6h0m-3.2 2.9h0m2.4 4.9h0m-1.8 2.3h0m-1.1 .4h0m-.3 .4h0m6.9 1.1h0m-1.6 .7h0m1.3 1.6h0m.5 4.5h0m2.8 .1h0m-16.5 1.1h0m8.2 0h0m5.4 .8h0m3.8 .4h0m-3.4 1.5h0m-1.2 1h0m.3 .2h0m-3.9 .4h0m2.2 .6h0m-3.1 .6h0m1.4 .8h0m-.2 .6h0m2.7 .4h0m1.8 .3h0m-5 .9h0m1.5 .1h0m-.1 .1h0m1.8 0h0m-1.7 1.9h0m.7 .5h0m-3.4 .6h0m-1.4 1.6h0m.8 .8h0m-1.1 .5h0m5.1 5.7h0m4.3 .8h0m-7.3 1h0m4.7 1.1h0" stroke="rgb(0,0,255)"/><path d="M125.7 579.5h0m-.7 3.5h0m3.3 2.7h0m-2.5 5.9h0m3.1 3h0m-8.4 .2h0m4 .2h0m-2.5 .3h0m6.5 .3h0m-3.3 .8h0m-.7 6h0m2.4 1.3h0m-1.3 1.2h0m6 .4h0m-.8 2.4h0m-5.7 .6h0m1.8 .7h0m-5.5 1.6h0m3.6 .6h0m-2.8 .5h0m-3.8 .4h0m6.3 .3h0m-3.4 1.3h0m-7.7 1.3h0m14 .6h0m-2.3 .4h0m2.7 .3h0m-3.9 .2h0m3.7 1.1h0m-.8 2.3h0m-.5 .9h0m-2.7 .1h0m5.6 1h0m-3.4 16.3h0" stroke="rgb(0,0,255)"/><path d="M117.8 577.5h0m3.9 .8h0m6.9 .8h0m-.4 1.2h0m-1 3.3h0m-4.3 1.7h0m2 .9h0m-5.2 9.3h0m11.8 1.7h0m-2.2 3.7h0m-6.3 .1h0m4.9 .1h0m4.8 .8h0m-7.6 .8h0m5.7 .4h0m-4.4 1.5h0m-4.5 .1h0m5.3 .4h0m-.6 .7h0m2.6 .9h0m-7.4 .1h0m4.3 1h0m3.6 .2h0m-2.3 .4h0m-2.4 2.1h0m7.8 .9h0m-13.6 .5h0m7.3 1.6h0m-2.1 3.3h0m6.2 .7h0m1.5 .1h0m-12.2 .1h0m6 0h0m2.7 0h0m-6.2 .2h0m-3.4 .9h0m5.3 .8h0m15.2 .5h0m-12.6 .4h0m-.1 .6h0m-.3 1.5h0m-3.4 1h0m-1.7 5.2h0m4.2 1h0" stroke="rgb(0,0,255)"/><path d="M124.8 569.5h0m5.9 15.9h0m-13.9 3.4h0m10.7 1.9h0m-3.5 5.6h0m4.6 .1h0m-11.1 1.3h0m9 1.1h0m-1 .1h0m-1.8 .2h0m2.6 .5h0m-8.2 .6h0m6.5 2.7h0m3.9 2.1h0m-8.4 1.8h0m7.4 .2h0m-1 .3h0m-5.9 .2h0m1.1 .5h0m3.1 .2h0m-1.2 1.2h0m2.5 .4h0m-.7 .1h0m2.1 0h0m-3.1 .2h0m6.8 .1h0m-7.6 .8h0m.4 .4h0m1 .2h0m-1.8 2.6h0m3.9 .8h0m-7.5 .4h0m13.6 1h0m-10.9 .1h0m-5.4 .9h0m9.9 .5h0m6.3 .2h0m-11.8 .2h0m4.2 1.3h0m-6.7 .9h0m9.7 1.9h0m-10.3 .4h0m-1.3 1.7h0m2.7 .5h0m10.2 .8h0m1.1 1.3h0m-8.7 .3h0m6.6 3.4h0" stroke="rgb(0,0,255)"/><path d="M132.1 584.2h0m-7.4 2.9h0m2.4 .2h0m3.7 5.7h0m-9.3 .8h0m1.9 .1h0m8.7 0h0m-11.2 .3h0m3.9 1.4h0m-1.4 .3h0m3.4 .4h0m-.7 .7h0m4.5 5.9h0m1.4 .9h0m-3 .6h0m-7 1.7h0m1.2 1.4h0m2.5 .1h0m1.8 .7h0m-7.7 .2h0m9.4 1.9h0m-3.8 1h0m8.9 .5h0m-6.2 1.3h0m-3.4 .5h0m-2.7 1.6h0m6.5 .2h0m-4.8 .1h0m2.6 .4h0m-.8 .2h0m2.9 .4h0m4.4 0h0m-9.4 .9h0m-3.2 .5h0m3.3 1.4h0m1.3 .7h0m3.6 0h0m-3.1 .3h0m2.5 .2h0m6.5 1.1h0m-10.4 2.9h0m-2.5 0h0m12.5 3.1h0m-10 .5h0m.2 6.4h0" stroke="rgb(0,0,255)"/><path d="M124.4 584.2h0m-4.6 .3h0m5.4 3.3h0m2.4 .1h0m2.5 .4h0m-5.8 2.1h0m.4 0h0m6.9 .3h0m-8.1 1h0m2.8 .5h0m-.5 3h0m.3 4.6h0m-2.7 .8h0m6.1 2.7h0m-8 .3h0m1.6 .9h0m3.4 .6h0m-1.9 .7h0m12.1 3.3h0m-13.3 .2h0m6 .8h0m-9.4 1.1h0m8.2 .4h0m-2.2 4h0m6.5 1.4h0m-7.5 .6h0m4.1 .7h0m-8.4 2.2h0m10.8 .3h0m-10.4 0h0m4.8 .7h0m-.1 2h0m-2.4 .4h0m4.9 9.5h0m.3 1.6h0" stroke="rgb(0,0,255)"/><path d="M125.9 580.4h0m-.7 .9h0m1.5 4.6h0m-2.5 3.4h0m.6 2.5h0m1.1 2.3h0m-2.6 0h0m2.1 1.3h0m2.5 .6h0m-3.6 .2h0m4 .7h0m-2.9 1.5h0m-4.9 3.1h0m10.5 .2h0m-4.1 .2h0m-6.9 .6h0m3.5 .6h0m5 1.8h0m.3 .9h0m-4.2 .4h0m.4 .2h0m1.4 .2h0m1.9 1.1h0m-3.3 .9h0m3.5 .2h0m-3.2 .6h0m9.8 .2h0m-6.3 .2h0m-4.4 .6h0m2.5 .9h0m-3.9 0h0m3.6 .8h0m3.5 1.4h0m-4.9 .4h0m.4 .7h0m-3.8 .3h0m4.6 0h0m8.5 .8h0m-12.2 .9h0m3.5 2.6h0m2 .1h0m-2.9 .4h0m4.8 1.3h0m-6.2 1.4h0m3.2 .5h0m-4.1 1.5h0m2.1 .3h0m-6.6 1.4h0m2.7 2.9h0m2.6 1h0m4.6 .2h0m1.5 .3h0" stroke="rgb(0,0,255)"/><path d="M125.8 589.4h0m3.4 5h0m-2.2 .6h0m-4.6 2h0m5 3h0m.9 1.8h0m-1.9 1.1h0m-7.9 .9h0m10.6 .3h0m-.9 .6h0m3.8 .4h0m-6.8 .4h0m2.7 1.5h0m-.8 2.3h0m2 .1h0m-2.4 0h0m-1.6 1h0m5.1 1h0m-9.1 .1h0m1.8 2.9h0m4.4 1.3h0m-5.6 .1h0m2 2.8h0m-3.7 .7h0m9 .5h0m2.7 .1h0m-14.4 .1h0m5.4 .1h0m5.2 .5h0m-1.4 .6h0m-5.2 .1h0m-1.8 .2h0m5.3 3h0m.7 .3h0m2 .1h0m-1.4 .3h0" stroke="rgb(0,0,255)"/><path d="M125.4 572.9h0m4.6 12.6h0m-6.4 4.1h0m1.9 4h0m2.9 1.2h0m-3.3 1.4h0m3 .6h0m-.8 3h0m-4.8 .2h0m5.9 .6h0m-1 1h0m1 .4h0m3.2 1.8h0m-5.3 1h0m1.6 .3h0m4.8 3.5h0m-8.7 .4h0m8.4 .5h0m-8.4 1.4h0m-.8 .9h0m6.4 .7h0m-4.3 .2h0m-2.3 3h0m2.8 .7h0m2 .1h0m-.5 .3h0m-5.9 .6h0m0 1h0m3.7 .9h0m-1.7 .4h0m.2 2.5h0m6.2 .9h0m-3.6 1.6h0m-2 1.1h0m4.3 5.7h0m-8.8 9.7h0" stroke="rgb(0,0,255)"/><path d="M122.4 579.4h0m-1.4 6.5h0m3.1 4.6h0m1.6 .2h0m1.2 .1h0m-.2 3.3h0m-6.8 .1h0m4.8 1h0m-1 1.6h0m1.6 .7h0m1.9 1.4h0m.1 .6h0m-3.4 3.8h0m-1.6 1.2h0m.2 .6h0m11.2 .1h0m-13.2 .1h0m10.9 1h0m-10.6 .8h0m2.7 1.4h0m-.1 .2h0m8.7 .4h0m-7.7 .5h0m6.2 .4h0m-8.5 1h0m5.8 2.4h0m-5.9 .4h0m-2.1 .2h0m6.3 .6h0m-11.2 1.3h0m13.1 .2h0m-3.8 .7h0m-3.5 .3h0m10.1 .3h0m.4 .5h0m-10 4.1h0m2.5 .5h0m4.9 .3h0m-1.5 1.1h0m3.5 .3h0m-2 2.6h0m-5.3 1h0m3.2 2h0m3 1.3h0" stroke="rgb(0,0,255)"/><path d="M132.9 588.4h0m-5.1 1.6h0m-2.3 4.1h0m-1.3 2.6h0m-6.6 3.1h0m7.6 .6h0m2.2 1.7h0m-1.7 .3h0m-1 .1h0m.7 .4h0m.1 .1h0m3.6 .4h0m-6.2 .7h0m-3.1 1.2h0m11.1 .2h0m-.5 .8h0m.3 1.2h0m-6 .9h0m7.6 .8h0m-10.7 1.9h0m7.8 .1h0m-9.8 1.9h0m7.2 .5h0m5.9 .9h0m-2.4 1.3h0m-3.4 .4h0m-2.1 1.5h0m-2.3 .3h0m5.9 1.7h0m-2.9 1.2h0m-.5 .7h0m-1.4 0h0m2.5 .1h0m2.2 1.5h0m-2.6 .2h0m-1 1h0m3 2.6h0m-4 2.1h0m1.5 1.4h0m1.5 .3h0" stroke="rgb(0,0,255)"/><path d="M125.9 579.5h0m1.9 1.3h0m1.7 1.1h0m-5.5 4.5h0m2.9 1.2h0m-1.5 2.1h0m-6.4 4.9h0m4.5 .8h0m5.6 1.5h0m-1.8 .5h0m1.4 .6h0m-7.9 .5h0m7.9 .2h0m-4.2 .3h0m-2.3 2.8h0m.9 .3h0m-3.8 0h0m10.3 .8h0m-2 2.6h0m2.6 .2h0m-3.8 .3h0m1.1 .2h0m.5 .1h0m-3 1h0m1.1 .8h0m-8.7 2.7h0m6.9 0h0m.1 .6h0m5.9 4.7h0m-11.8 0h0m12.2 .1h0m-8.9 .9h0m6.8 .7h0m-4.5 .7h0m.9 .2h0m2.7 0h0m-4.1 .1h0m-8.3 .2h0m4.6 .7h0m7.9 1.4h0m-6 .2h0m7 .1h0m3.4 .1h0m-5.8 3.6h0m-2 .3h0m-.8 1.3h0" stroke="rgb(0,0,255)"/><path d="M123.7 581.7h0m6.2 4.7h0m-1.3 4.1h0m-3.2 .3h0m-2.2 0h0m1.2 .7h0m-.8 .3h0m.5 .2h0m7.2 3.7h0m-2.5 2h0m-1.9 .9h0m-6.8 1h0m7.9 .1h0m-2.2 .5h0m1.9 1.2h0m-6 .9h0m4.5 .5h0m-6.8 .8h0m9.5 1.1h0m-6.7 .2h0m1.3 1.1h0m0 .5h0m5.7 2.1h0m-4.3 .3h0m.6 .3h0m-3.3 .3h0m3.5 .3h0m2.4 2.6h0m4.4 .7h0m-3.5 .2h0m-4.2 .1h0m-4.1 2.1h0m.3 1.9h0m1.7 .1h0m6.8 1.4h0m-9.5 .2h0m1 .9h0m6 1.4h0m-3.1 1h0m5 .5h0m-2.5 .3h0m-5.8 .3h0m5.2 1.4h0m-3.3 1.5h0m2.2 2.1h0" stroke="rgb(0,0,255)"/><path d="M121.4 578.9h0m1.9 8.2h0m-.2 1.4h0m11.2 .9h0m-14.7 4.7h0m7.4 .6h0m-.4 .1h0m3.4 .3h0m3 .2h0m-11.5 1.5h0m1.5 .1h0m-1.5 1.9h0m9.3 1h0m-2.1 1.8h0m-4.4 .6h0m-1.8 1.7h0m5 .5h0m-2 .1h0m4.3 .4h0m-7.8 2.4h0m.8 1.4h0m.7 .1h0m2.3 1.3h0m-9.9 1.7h0m9.7 .3h0m1.5 .4h0m1.9 1.5h0m-7.6 1.2h0m-1.7 1.1h0m12.9 .9h0m-3.1 .7h0m-5 1.4h0m11.7 2h0m-10 .2h0m-.5 .1h0m-4.6 2.5h0m-2.2 .7h0m.2 .3h0m5.7 .7h0m4 .6h0m.4 .1h0m-4.5 .1h0m2.2 .1h0" stroke="rgb(0,0,255)"/><path d="M120.6 579.4h0m-4.7 3.8h0m2.2 5.2h0m10 0h0m-6.6 3.5h0m-.3 .6h0m-.3 2.1h0m6.5 .5h0m-5.1 .8h0m3.8 1.4h0m1.1 .1h0m-2 1.4h0m-1.6 .1h0m1.4 1.5h0m-.8 .1h0m-1.8 2.1h0m7.5 1.7h0m-.4 1.1h0m-2 .9h0m3.3 .7h0m-1.9 2.4h0m-8.7 0h0m6.1 .3h0m-6.3 1.3h0m2.7 .1h0m4 3.3h0m6.3 .1h0m-8.9 1.1h0m2.6 1h0m1.6 0h0m-4.8 .3h0m0 1.9h0m4.5 .8h0m-6.2 0h0m2.1 1.7h0m1.3 1.2h0m3.5 1.8h0m.3 4.4h0" stroke="rgb(0,0,255)"/><path d="M128.5 589.2h0m-8 1.2h0m5.8 1.3h0m-.9 .4h0m-6.5 .4h0m9.1 3.7h0m-.7 2.1h0m.6 3.2h0m.4 .1h0m-7.5 1.6h0m9.4 .5h0m.6 0h0m-6 .5h0m-.1 .9h0m4.8 .2h0m-5.4 .6h0m1.4 .3h0m-.3 .5h0m-.1 .2h0m3.6 .2h0m-9.6 1.4h0m6.8 2.1h0m3.2 .6h0m-.3 .2h0m-7.3 .3h0m2.3 .8h0m1.2 .2h0m-1.1 1h0m-3.2 .8h0m1.9 1.4h0m3.2 4.2h0m-.5 1.2h0m-2.9 0h0m3 .7h0m.9 .5h0m-5 .1h0m6.2 3.3h0m-1 .1h0m-5.7 .7h0m4.5 .6h0m1.9 .4h0m-6.2 0h0m3.6 1h0m3.4 1.1h0m-6.6 3.4h0" stroke="rgb(0,0,255)"/><path d="M119.4 587h0m1.2 7.1h0m9.6 .1h0m-8.2 .7h0m6.3 1.4h0m-2.4 1.5h0m2.1 .9h0m-4.2 .2h0m2.3 .7h0m.1 1.4h0m-3.9 4.1h0m5.2 1.3h0m1.6 3.1h0m-4.8 .9h0m1.4 .4h0m4.4 .4h0m-7.7 .1h0m1 1.7h0m3 1.4h0m3.5 .4h0m-6.6 3h0m1.4 1.4h0m3.4 .1h0m-8.7 .3h0m5.1 .1h0m1.7 .2h0m-4.5 .3h0m4.1 1.6h0m-8.3 3h0m14.5 .4h0" stroke="rgb(0,0,255)"/><path d="M119.6 586.4h0m4 0h0m-1.5 1.4h0m8.1 1h0m-5.1 1.5h0m-6.3 6.6h0m7.1 2.6h0m-2.7 .1h0m.4 2.6h0m3 2.7h0m-5.3 3.5h0m5.1 .4h0m2.3 1.1h0m-6.6 .3h0m2 .8h0m-.5 .4h0m-3.9 .4h0m5.7 .1h0m-3.1 0h0m2.3 .6h0m3.2 .6h0m-4.2 .2h0m.1 .9h0m6.7 .5h0m-2.2 .6h0m-1.1 .8h0m-6.2 .4h0m3.9 1.3h0m2.5 .3h0m5 .6h0m-3.2 .2h0m-4.5 .4h0m5.8 2.8h0m-3.6 1h0m.7 .6h0m2.9 .3h0m4.2 .7h0m-7.5 1.8h0m-.7 2.3h0m3.3 .7h0" stroke="rgb(0,0,255)"/><path d="M179.4 547h0m8.4 3.6h0m-9.2 8.1h0m3 8.7h0m1.9 2.1h0m-3.8 2.7h0m.8 1.9h0m4.1 .6h0m-3.1 .9h0m4.8 .3h0m-6.4 .2h0m3.2 .7h0m-3.5 2.2h0m2.3 .1h0m.9 .5h0m-1.7 .6h0m-.3 .3h0m-1.1 .2h0m4.7 .5h0m-12.9 .8h0m11.3 1.9h0m-.6 .6h0m-3.8 1.4h0m2.8 .4h0m1.3 2h0m-5.2 1.2h0m-.2 .5h0m3.2 3.3h0m4 .1h0m-1 .7h0m-.7 .6h0m-4.8 1.1h0m7.1 2.2h0m-5.7 7.1h0" stroke="rgb(191,191,0)"/><path d="M178.6 548.9h0m.6 10.9h0m7.8 4.3h0m-2.9 2.7h0m1.1 .2h0m-6.3 .7h0m8.5 1.9h0m-7.9 1.7h0m.8 2.7h0m-.3 1.1h0m1.4 1.4h0m-5.5 .3h0m4 .1h0m9.3 2.8h0m-11.2 .4h0m3.9 .8h0m5.3 0h0m-2.5 1.1h0m.9 .9h0m-4.7 .2h0m1.1 .1h0m-1.7 0h0m2.8 1h0m3.9 .3h0m-4.9 .9h0m-7.6 .2h0m3.1 .7h0m7.2 .4h0m-1.2 .6h0m.5 .9h0m-2.1 2.2h0m.1 .4h0m-.2 .4h0m-4.9 .2h0m4.6 1.4h0m3.9 .2h0m-6.3 .1h0m4.2 .3h0m-5.4 2.5h0m9.5 .3h0m3.5 6.1h0m-10.1 3.1h0m-1.3 1.4h0m2.3 .7h0" stroke="rgb(191,191,0)"/><path d="M177.2 554h0m-1.6 0h0m6.1 19.4h0m6.1 .4h0m-9.8 1.8h0m1.1 1.6h0m2.2 .1h0m1 2.1h0m5.2 1.5h0m-7.4 2.4h0m-1.5 .9h0m4.8 .8h0m-1.3 2.4h0m-7.4 .3h0m.2 1.4h0m3.4 1.2h0m-2 1.2h0m4.9 1.4h0m4.4 .6h0m-8.5 1.4h0m3.3 1.3h0m.1 .9h0m3.1 .8h0m-5.8 .8h0m13 2.2h0m-10.7 6.3h0m5.9 4.5h0" stroke="rgb(191,191,0)"/><path d="M186.3 547h0m-5.7 12.4h0m15 1.8h0m-17.3 8.1h0m-7.3 .3h0m10.4 .4h0m4.3 .3h0m-5.2 1.5h0m1.7 .5h0m1.5 1.3h0m-2.2 .9h0m5.5 2.4h0m-4.1 .4h0m-6 .9h0m8.8 .2h0m-6.7 .9h0m-.9 1.6h0m6.8 .4h0m-4.4 .1h0m4.5 .4h0m-3.6 2h0m.2 2.1h0m-3.7 .7h0m2 .9h0m-.9 .6h0m5.2 3.3h0m-9.4 1.9h0m1.6 3.4h0m6.1 .1h0m-1.3 .1h0m4.7 .6h0m4.2 1h0m-5.4 .8h0m2.2 .5h0m-8.5 .5h0m2.8 .2h0m-1 .1h0m-.2 .4h0m-3.4 1h0m6 3.6h0m-.9 .3h0m.9 2.3h0m-.5 .2h0m6.1 .7h0m-5.9 2.1h0m-5.5 5.9h0" stroke="rgb(191,191,0)"/><path d="M184.3 547h0m-4.3 9.6h0m2.5 2.3h0m3.8 1h0m-5.7 1.5h0m3.7 2h0m-4.1 1.9h0m2.2 .4h0m-3 1.1h0m5 .3h0m-1 1.7h0m-1.5 4.8h0m-1.6 1.4h0m7.8 2.1h0m-7 1.7h0m-6.3 .6h0m6.8 .3h0m-5 2h0m7.7 1.8h0m-5.3 3.2h0m-7.1 1.9h0m11.5 .9h0m-6.2 .2h0m3.1 .9h0m3.5 2.3h0m1.3 .9h0m1.7 2.7h0m.5 .8h0m1.1 .2h0m-9.8 .9h0m3.7 .6h0m3.6 1.4h0m-.4 1h0m-4.2 .4h0m-1.4 1.6h0m1.4 2.9h0m.8 1.8h0m2.3 .4h0m0 1.6h0m-6.5 .6h0m6.8 6.7h0" stroke="rgb(191,191,0)"/><path d="M177.8 552.1h0m-.5 7.8h0m5.6 1.7h0m-2.2 .9h0m.4 3.3h0m-1.8 0h0m-5 2.4h0m6.1 2.8h0m2.7 .1h0m1.6 2.4h0m-7.6 2.4h0m-2.1 1.3h0m1.9 .1h0m6.8 .6h0m.8 .2h0m-5.8 .8h0m-.9 .5h0m2.3 1.2h0m3.2 1.2h0m-3.1 2.9h0m2.5 1.5h0m-3.7 .3h0m-3.7 .8h0m6.4 .2h0m3.7 .1h0m-7.2 2.7h0m-2.8 .3h0m4.7 .2h0m2.9 2h0m1.7 .3h0m-1.6 1.4h0m.2 1.1h0m1.5 .4h0m5.1 1.2h0m-8 .7h0m0 2.2h0m4.7 1.2h0m-7.8 .1h0m1.4 1.4h0m1.6 .8h0m2.5 .5h0m2.2 2.8h0m.8 .9h0m-6 .8h0m-4.3 9h0" stroke="rgb(191,191,0)"/><path d="M178.7 543.7h0m3.2 6.2h0m5.8 3.4h0m-4.3 8.8h0m3.4 1.6h0m-8.3 1.3h0m1.4 2.6h0m0 5.8h0m2.1 .7h0m4.2 1.3h0m-6.2 1.5h0m-2.5 .6h0m5.1 .3h0m-5.3 1.6h0m1.1 .6h0m-1.4 2.1h0m6.4 .8h0m-4.4 1.3h0m3.8 0h0m-1.4 .8h0m10.6 3.5h0m-18.6 .1h0m5.6 .3h0m2 .5h0m-1.5 2h0m-.3 1h0m7.6 .2h0m-7.7 3.9h0m6.3 .4h0m-2.3 1.1h0m3 .7h0m-6.1 1.5h0m.1 .5h0m-.7 3.4h0m2.7 .7h0m3.2 4.6h0" stroke="rgb(191,191,0)"/><path d="M181.9 549.3h0m1.7 1.4h0m-1.7 4h0m-1.9 2.1h0m-2.5 .2h0m6.1 2.7h0m-5.5 1h0m3.5 5.4h0m-5.4 1.6h0m3.1 .9h0m3.3 .4h0m5 2.7h0m-9.2 6.2h0m7.2 1.4h0m-6.1 .4h0m10.5 .8h0m-7.9 .5h0m8.4 .9h0m-6.7 1.3h0m-4 .5h0m-1.6 1h0m5.1 2.6h0m-6.1 .2h0m4.9 .7h0m2.3 .3h0m-3.8 .3h0m5.3 1.2h0m-3.3 .2h0m.2 2.5h0m-1.8 1h0m3.3 .7h0m-1.8 .4h0m-.2 .4h0m5.5 1.3h0m-5.9 1.3h0m-5.9 3.3h0m1.9 .3h0m5.7 1.5h0m-7 1.5h0m5.4 1h0m-3.2 0h0m4.2 3.4h0m-7.9 2h0m8 0h0m-3 6.9h0m-1.9 1.5h0" stroke="rgb(191,191,0)"/><path d="M183.1 550.3h0m0 8.4h0m1 .3h0m-5.9 1.3h0m-3.2 .3h0m5.9 4.9h0m-2.3 1.5h0m11.2 3.7h0m-12 .1h0m8.8 .3h0m-8.6 1.9h0m-.4 .1h0m3.5 .3h0m1.2 .2h0m1.7 1.7h0m-3.1 .1h0m.2 1h0m3.7 2.8h0m-6.6 1h0m-1.3 .7h0m4.2 .8h0m6.9 2.1h0m-10.2 6.4h0m3.7 .6h0m-4.3 0h0m2.3 .5h0m2.1 1.6h0m1.1 .9h0m-3.5 1.2h0m1 .9h0m2.9 .6h0m-1.8 2.1h0m5.2 4.3h0m.7 .1h0m-4 2.7h0m-1.3 4.6h0m-10.6 4.1h0" stroke="rgb(191,191,0)"/><path d="M182.8 561.4h0m.3 5.2h0m-2 5.6h0m.6 .1h0m.1 .2h0m.7 1.3h0m3.3 1.1h0m-5.4 .2h0m-1.4 .2h0m3.5 .9h0m-7 0h0m6.9 1.1h0m-1.5 .5h0m0 0h0m-3 1h0m.9 0h0m-1.8 1h0m9.4 .2h0m-5.7 1.4h0m-3.6 .3h0m12.6 .4h0m-8.8 1.7h0m6 .1h0m-6.4 2.4h0m1.7 .1h0m3.9 .2h0m-2 .5h0m.5 .8h0m1.7 .3h0m-10 .8h0m6.3 .3h0m-4.7 2.3h0m1.4 .8h0m4.2 1h0m-2.9 .9h0m3.2 1.5h0m-1.9 .2h0m-1.9 1.2h0m-1 .3h0m5 4.4h0m-1.1 .7h0m-8.9 .5h0m9 2.7h0m-3 .4h0m-3.1 5.7h0" stroke="rgb(191,191,0)"/><path d="M179 562.7h0m.9 .9h0m8.4 1.7h0m-8.9 .9h0m-4.2 1h0m-2.6 3.9h0m7.8 3.1h0m3.9 .2h0m-5.7 1.2h0m-3.7 1.8h0m10.6 1.6h0m-2.7 1.5h0m-5.2 .1h0m2.9 .3h0m4.1 .3h0m7.5 .9h0m-5.8 .2h0m-1.3 .1h0m-8.4 1.7h0m1.5 1.6h0m6.9 0h0m-.5 .3h0m-5 .2h0m3.4 1.5h0m-3.3 .7h0m-1 .1h0m.8 .7h0m9.9 .4h0m-7.4 .5h0m2.2 1.8h0m-12.1 1.9h0m4.7 1.6h0m4.1 .3h0m-6.6 .1h0m8.4 1.1h0m-2.8 .7h0m3 .7h0m-1.7 .4h0m.5 .5h0m-3.4 1.4h0m6 .3h0m-2.1 .2h0m-.5 .6h0m6.7 1.3h0m-12.4 1.9h0m1.6 1.9h0m5.1 .9h0" stroke="rgb(191,191,0)"/><path d="M176.4 564.4h0m5.8 .9h0m3.3 .1h0m1.7 1.1h0m-7.9 4.2h0m.1 1.6h0m-2.2 .5h0m9.2 3.2h0m-8.7 3.2h0m-1.3 1.3h0m4.8 1.7h0m-1.6 .4h0m-5.8 .5h0m12.2 .7h0m-10.1 .6h0m4.6 2.5h0m2.2 .1h0m2 .4h0m-3.5 1.1h0m-.5 1.4h0m-.8 .9h0m6.6 1.4h0m-4.6 .2h0m.4 2.7h0m-5.7 .6h0m5.7 .8h0m-4.1 .3h0m15.3 1.1h0m-9.1 1h0m-3.2 .7h0m.9 .2h0m-4.7 3.9h0m3.2 .1h0m-1.9 3.7h0m-1.8 .3h0m4.5 .2h0m2.5 .3h0m-4 1.3h0m2.7 11.1h0m2 1.8h0" stroke="rgb(191,191,0)"/><path d="M183.5 547h0m3.1 9.9h0m-10.3 4.5h0m4.4 1.2h0m-2.8 2.1h0m5.7 5.8h0m1.2 .8h0m-5 5.4h0m2.3 .1h0m-1.2 1.8h0m-3.3 .1h0m6.8 1.2h0m-7.2 .6h0m4 .9h0m-5.1 1.6h0m7.5 1.4h0m-3.7 .1h0m-2.5 1.6h0m3.5 2.1h0m-5.4 .9h0m10.2 1.1h0m-4.5 1.1h0m-4 .2h0m-3.1 .5h0m6.4 .7h0m3.8 .3h0m2 1.7h0m-.3 .8h0m-3.8 1h0m5.9 .9h0m-13.1 .6h0m4.1 .4h0m4.3 .6h0m-3.1 .6h0m.7 .5h0m-.2 .2h0m.1 .2h0m2 1.3h0m-.5 .1h0m0 1.2h0m1 .5h0m-5 2.7h0m4 1.8h0m6.1 .7h0m-6 8.3h0m.9 6.9h0" stroke="rgb(191,191,0)"/><path d="M184.7 549h0m-5.6 13h0m1.4 .9h0m8.1 .1h0m-2.5 2.5h0m-2.4 2.8h0m-2.1 1.9h0m-2.9 .2h0m5.3 4.9h0m-2.2 1.6h0m2.5 .9h0m-1.8 1.2h0m-1.3 1h0m-1.2 1.4h0m1.8 .1h0m-2.4 .1h0m7.9 2.1h0m-5.8 .3h0m-2.5 .1h0m-1.7 .9h0m5 .8h0m-2.7 .1h0m3.7 3.3h0m-5.4 1h0m6.4 .9h0m.2 .5h0m-6 .3h0m5.8 .8h0m-1.4 .3h0m-4.9 .2h0m3.9 .8h0m.6 .4h0m1.7 1.1h0m-7.9 2.6h0m14 .4h0m-16.5 0h0m2.3 3.7h0m9.5 1.3h0m1.1 .2h0m-6 2.1h0m-3.2 2.2h0m-1 1.1h0m6.1 .8h0m2.1 10.4h0m.2 3.5h0" stroke="rgb(191,191,0)"/><path d="M187.3 553h0m-3.4 5.4h0m-3.7 5.4h0m5.8 2.9h0m-1.5 1.2h0m-.6 1.6h0m.5 1.8h0m-6 1.1h0m4.4 1.8h0m-3.3 .7h0m5.9 1.5h0m-7 .3h0m-2.9 .3h0m16.6 .2h0m-8.4 1.2h0m-6.7 .5h0m2.7 .3h0m1.1 1.5h0m1.5 .1h0m0 .2h0m-2.3 .2h0m1 .7h0m1.2 .4h0m1 .5h0m1.8 1.9h0m.1 1.3h0m-2 .9h0m-.2 .4h0m-2 .3h0m.2 1.2h0m2.8 .2h0m-8.9 1h0m10.2 2.6h0m.3 1.8h0m-1.9 .1h0m-2.9 1.6h0m6 1.7h0m-1.3 0h0m-4 1h0m.7 .4h0m-1.6 .8h0m-5.7 1h0m2.9 1.5h0m-.5 0h0m5.9 5.9h0m-.3 1.4h0m4.9 .2h0" stroke="rgb(191,191,0)"/><path d="M180 547h0m-.9 0h0m8.9 4.3h0m-5 6.7h0m3.9 1.7h0m-2.1 3.9h0m4.8 3.1h0m-5.9 5.3h0m.7 .3h0m-4.5 .8h0m-2.2 2.3h0m-.3 .7h0m3.7 1h0m-3.4 0h0m3.3 3h0m-2.4 .4h0m-2.6 .8h0m8.5 .3h0m-5.3 1.9h0m5.7 0h0m-5.9 .6h0m3.6 2.6h0m-4.8 2.8h0m-1 2.2h0m.4 2.6h0m.2 .6h0m2.3 0h0m-2.5 .8h0m8.6 .9h0m-1.9 3.6h0m4.5 1.2h0m-8 .7h0m-4.4 .2h0m9.2 1.4h0m-4.2 2.4h0m-.5 2.6h0m1.3 .2h0m.7 .9h0m-4.9 6h0m4.5 4.6h0" stroke="rgb(191,191,0)"/><path d="M180.2 534.2h0m-1.6 12h0m5.9 11.4h0m.6 0h0m-7.8 6.3h0m.2 2.6h0m2.8 6.1h0m-6.7 1.2h0m4.2 3.1h0m4.5 1h0m-3.8 .4h0m4.5 1.9h0m-.8 .2h0m-.3 1.2h0m5.2 .5h0m-2.9 2.4h0m-3.7 .2h0m-1.9 .8h0m-2.7 1.5h0m8.5 .2h0m-9.2 2.1h0m4.7 .3h0m-.5 .8h0m5.6 1.7h0m-.6 1h0m-.4 .3h0m-3 .6h0m0 .3h0m-1.1 1.4h0m-3.3 .9h0m12 1.3h0m-9.3 1h0m5.5 2.4h0m-3 .5h0m-1.3 .7h0m3.2 .9h0m3.4 1.7h0m-11.3 .1h0m5.8 2.1h0m-3.2 .6h0m-2.5 14.1h0" stroke="rgb(191,191,0)"/><path d="M183.2 554.2h0m-3.4 12.8h0m1.3 3.4h0m2.7 2.3h0m-4.1 .2h0m4.1 .3h0m3 .1h0m-6.8 2.3h0m1.2 .7h0m5.8 .1h0m-8.3 1h0m-2.7 0h0m7.3 .4h0m-1.1 .2h0m3.3 .2h0m-1 .1h0m-1.8 1.4h0m-6 .6h0m-3.5 1.3h0m9.4 1.4h0m-3.4 .1h0m3 .3h0m1.8 .1h0m-3.5 .6h0m4.6 .4h0m-4.2 1.5h0m1.9 1.6h0m-4.4 2.2h0m4 .9h0m1.1 .5h0m.8 2.2h0m.3 .3h0m-2.4 .9h0m-3.7 .2h0m8.2 2.1h0m-7.3 .3h0m1.3 1.3h0m-1 .5h0m5.4 .1h0m-6.6 2h0m3.7 .1h0m-5.1 5.1h0m.8 .2h0m4.1 2.2h0m2.3 1.8h0m-2.9 1.2h0m-2.4 .4h0m1.6 2.1h0m-4.7 3.8h0" stroke="rgb(191,191,0)"/><path d="M178.7 553h0m1.9 4.1h0m3.5 4.2h0m1.3 4.4h0m-3 2.3h0m.4 8.9h0m2.2 .4h0m3.1 .4h0m-6.1 3.1h0m-3 .5h0m2.6 .6h0m4.7 .4h0m-5.2 .5h0m-3.6 .1h0m9.3 .3h0m-4.7 .4h0m3.7 .2h0m-11.2 1h0m4.3 .1h0m6.1 1.1h0m-3.8 2h0m1.9 2h0m-2.4 .8h0m-7 2.8h0m3.9 .1h0m3.4 .6h0m2.3 .3h0m-.1 1.5h0m-7.8 .1h0m2.8 .1h0m2 2.2h0m-4.9 .5h0m8.9 .2h0m-2.9 0h0m-3.5 6.6h0m4.3 1.2h0m-7.3 .7h0m7.5 .2h0m8.5 4h0m-12.7 2.2h0" stroke="rgb(191,191,0)"/><path d="M189.8 557.7h0m-1.7 7.1h0m-9.9 1.8h0m6.1 .8h0m-.6 8.5h0m2.8 .4h0m-9.1 1.2h0m.5 1.1h0m1.9 .1h0m0 1h0m1.7 .5h0m4.1 .1h0m1.4 1.3h0m-10.2 1.4h0m11.8 1.3h0m-6.6 1.2h0m-4 .1h0m4.6 3.2h0m-2.8 2.9h0m-.6 .4h0m2.8 0h0m-4 3.3h0m10.8 3.1h0m-9.1 1.4h0m2.5 .4h0m-.4 2.4h0m4.5 3h0m-4.4 .2h0m4.2 6.1h0m-3.2 1.1h0m-2.5 3.1h0" stroke="rgb(191,191,0)"/><path d="M183.7 538h0m-7.3 6.4h0m2.3 2.9h0m-3.9 2.5h0m8.4 8.5h0m1.5 1.4h0m-1.7 6.9h0m2.3 2.4h0m-2.3 0h0m.4 3.9h0m-.6 1.6h0m-3.2 .7h0m-.6 1.1h0m10.2 1.6h0m-4.7 0h0m-6.9 .1h0m3.7 0h0m-.3 .4h0m.4 .8h0m-1.2 1.2h0m-2.6 3.3h0m4.5 2.5h0m5.7 0h0m-2.5 .7h0m-.5 .2h0m-7.5 1h0m9.3 1.4h0m-7.4 .5h0m3.5 .2h0m3.3 .5h0m-.9 .2h0m-4.1 .3h0m-5.6 2.9h0m6.3 .3h0m-3.4 .2h0m2.3 .2h0m1 .5h0m-4.3 .9h0m9.6 .5h0m-11.7 0h0m7.8 0h0m.5 1.1h0m4.9 0h0m-10.4 1.5h0m1.4 0h0m1.4 .4h0m4.5 .3h0m1.3 1.5h0m-6.7 1.2h0m.9 1h0m-1 1h0m1.2 .6h0m-.8 .6h0m0 .1h0m1.5 6.8h0" stroke="rgb(191,191,0)"/><path d="M185.2 543.9h0m-2.3 8.8h0m-2.6 5.8h0m3.3 .9h0m-2.3 2.8h0m.8 1.1h0m-4.2 0h0m5.6 1.6h0m-4.9 3.9h0m8.3 1.3h0m-4 1.6h0m-2 1.4h0m0 4.7h0m-6.5 1.6h0m6.2 .3h0m6.2 .7h0m-4.7 .3h0m-1.3 1h0m2.1 0h0m2.4 2h0m-6.1 .4h0m-4.7 .7h0m10.3 .2h0m-7.3 0h0m-.6 1.7h0m6.8 2.1h0m-3.3 .7h0m4.6 2.2h0m-3.2 .4h0m1.3 1.2h0m-1.6 3.8h0m-6.8 .1h0m7.8 3.8h0m2.2 1h0m-4.2 4.3h0m1.4 5.9h0" stroke="rgb(191,191,0)"/><path d="M181.8 549.2h0m-.7 7h0m-4 3.2h0m-7.6 6.2h0m14.3 3.1h0m-6.9 1.3h0m5.8 .6h0m-5.7 2h0m-1.2 1.1h0m9.1 2.2h0m-8.1 1.3h0m.8 1.7h0m8.3 1.1h0m-1.4 .6h0m-5.5 .2h0m2.3 .4h0m-5.7 1.8h0m7.9 1h0m-3 1.5h0m-4 .8h0m3.7 2.1h0m2.6 2.3h0m-2 2.5h0m1.8 .3h0m2.9 .6h0m-1.4 .3h0m4 .9h0m-5.6 .1h0m-2.7 .5h0m1.9 .1h0m-1.3 .1h0m-.8 2.9h0m-.5 1h0m2.6 .9h0m1.4 1.6h0m-2.9 2.9h0m-4.1 3.7h0m4.4 .3h0" stroke="rgb(191,191,0)"/><path d="M182.6 547h0m-5.7 6.1h0m9 7.2h0m-9 1.4h0m6.4 3.9h0m.6 .7h0m3.9 1.1h0m-9.9 2h0m4.5 2.5h0m-2.8 2.3h0m3.2 .3h0m1.8 .5h0m3.2 .2h0m-10.5 .4h0m7.9 .4h0m-3 .6h0m-.3 .5h0m2 2.2h0m2.1 .2h0m-7.1 .1h0m4.7 0h0m-1.5 .6h0m.4 .6h0m-5.7 .1h0m10.8 .9h0m-6.3 1.4h0m2.3 .3h0m-8.2 .6h0m5 1.7h0m1.4 1.1h0m7.2 2.3h0m-10 1h0m3.3 1h0m-.4 .2h0m-4.4 .3h0m8.6 1.5h0m-3.6 1.4h0m-7.7 .5h0m-.6 1.7h0m10.6 6.8h0m-5.4 1.3h0m-4.8 1h0m.9 8h0m5 1.3h0" stroke="rgb(191,191,0)"/><path d="M238.4 467.6h0m-.8 8.3h0m-1.6 .3h0m.3 .8h0m1.6 2.8h0m5.4 2h0m-8.3 1.7h0m1.4 .1h0m2.8 .7h0m3.8 .8h0m-1.3 1.9h0m-2.1 3.6h0m2.2 .2h0m-4.2 1.4h0m2.3 .6h0m.7 .2h0m1.4 .5h0m-5.4 3.9h0m.7 1.3h0m8.7 2.7h0m-8.6 2.4h0m1.3 2.4h0m-3 .7h0m1 .5h0m2.3 .3h0m-2.4 .4h0m-1.7 1h0m9.6 .7h0m-12 2.9h0m4.4 2h0m-.9 .1h0m1.3 3h0m-1.3 2.2h0m3.1 .2h0m-2.9 1.5h0m4 .8h0m-4 1.6h0m10.4 .9h0m-5 5.7h0m4.8 2.9h0m-10.9 2.7h0m7.5 13.4h0m-8.4 .8h0" stroke="rgb(0,191,191)"/><path d="M241.7 450.6h0m-1.6 6.5h0m2.1 6.5h0m-5.1 .8h0m-2.1 8.4h0m-4.4 2.6h0m4.5 1.6h0m3.9 3.4h0m-2.8 1.7h0m-4.9 .2h0m7.5 1.7h0m-.3 2.2h0m-1.8 1.9h0m-6.7 .4h0m6.6 4.1h0m1.9 1.3h0m-1.3 .6h0m-2.9 1h0m2.6 .9h0m7.5 .3h0m-11.1 1.8h0m3 3.4h0m-2.6 .7h0m3.9 1.1h0m-2.3 1.8h0m4.4 .1h0m-4.9 .9h0m13.9 .2h0m-18.4 .5h0m7.4 1.3h0m-1.8 3.5h0m-.7 .4h0m-4.8 1.7h0m6.8 .8h0m.7 1.1h0m0 1.7h0m-3.4 1h0m9.8 1h0m-9.5 .3h0m3.1 0h0m-6.3 .4h0m7 .4h0m1.8 .2h0m3.8 .3h0m-3.8 2.3h0m5.7 .1h0m-8.9 1.1h0m.4 1.3h0m-.4 2.9h0m-1.2 3.5h0m7.3 2.6h0m-7.7 4h0m-5.1 .1h0m11.1 1h0m-.8 13.8h0" stroke="rgb(0,191,191)"/><path d="M241.2 460.1h0m-6 .6h0m5.8 3.9h0m-2.9 1.1h0m-5.1 5.4h0m.3 1.6h0m2.4 5.9h0m-.8 5.5h0m.4 .9h0m.1 .5h0m5.1 .4h0m-6.6 1.2h0m.4 .9h0m3.5 3.7h0m-2.5 .6h0m3 1.1h0m-1.4 3.4h0m-1.7 1.1h0m1.2 .3h0m-1.5 1.2h0m4.4 2.8h0m-2.4 .6h0m1.4 3.3h0m-2.6 2.2h0m-4.3 .6h0m9.7 1.6h0m-6.2 5.1h0m3.8 1.9h0m-.2 3.4h0m2.8 7.3h0m-.2 4.5h0m-3.8 8.3h0" stroke="rgb(0,191,191)"/><path d="M241.8 436.6h0m.6 5h0m-8.2 1.5h0m3.3 11h0m-.8 8.1h0m2.2 1.7h0m2.6 2.4h0m-9.9 7.8h0m9.5 .3h0m-.7 1.6h0m.5 .6h0m-5.3 .1h0m.4 5.5h0m5.4 .7h0m-4.2 .7h0m-.7 2h0m2.6 5h0m3.4 .6h0m-1 .2h0m-3 5.2h0m9.5 2h0m-9.5 .3h0m-1.7 .5h0m9.9 .2h0m-9.2 .1h0m-2.7 1.3h0m1.2 1.1h0m-1.6 .6h0m9.1 7.1h0m-6.2 .9h0m3.9 1.3h0m-4.7 2.2h0m-2 1.5h0m.4 1.5h0m2.7 4.8h0m1.8 1.5h0m-4.6 .6h0m5 0h0m-11.7 2.4h0m7.2 .8h0m2.1 1.8h0m-5 .1h0m-3.2 .6h0m8.1 3.1h0m-.4 3.7h0m-.2 16.6h0" stroke="rgb(0,191,191)"/><path d="M238.1 448.3h0m-1.8 13.3h0m-.4 .2h0m-3.1 3.6h0m2 8.4h0m9.9 4.6h0m-10.5 9.9h0m10.2 .2h0m-5.1 1.8h0m-9.2 .7h0m12.2 3.9h0m-1.6 5.9h0m-7.1 0h0m5.7 1.7h0m-3.9 1.6h0m-.2 .3h0m7.5 1.3h0m-7 3.3h0m5.4 0h0m-3.1 .3h0m8.2 2.8h0m-2.4 2.9h0m-5.3 2.1h0m-.4 3.8h0m2.8 .5h0m-4.1 3h0m-1.4 4.6h0m2.2 4.2h0m7.4 1.6h0m-4.3 .8h0m-1.9 4.1h0m-2.8 6.9h0m2.4 1.2h0" stroke="rgb(0,191,191)"/><path d="M238.1 436.6h0m-1.1 7.9h0m11.2 2.2h0m-14.3 5.7h0m-3.1 11.5h0m7.3 .3h0m2.5 2.2h0m2.9 2.3h0m-2.9 5.3h0m5.3 .6h0m-1.2 1.8h0m-6.9 .8h0m4.7 3h0m-3 .7h0m.1 2.2h0m5.4 3.4h0m-4.3 3.8h0m1.1 1.9h0m1.4 .4h0m-5.8 6.1h0m1.6 0h0m-2.1 1.5h0m1.7 2.1h0m-4.6 .1h0m6.7 2h0m-3 1.8h0m-.7 2.7h0m2 .1h0m-5 1.1h0m11.8 2.1h0m-12.6 .5h0m5.8 6.1h0m-2.9 3.9h0m-1.3 3.3h0m10.7 .2h0m-2 3h0m.3 .8h0m-3 1.7h0m4.6 .8h0m-6.9 2.3h0m-5.8 5.4h0m6 4.2h0m-7 .4h0m5.3 3.3h0m-1.4 .2h0" stroke="rgb(0,191,191)"/><path d="M236.9 441.1h0m-1.4 3.2h0m6.5 17.3h0m-4.1 10.8h0m1.2 5h0m3 1.6h0m-5.9 6.2h0m.9 1.1h0m1.8 .1h0m-.5 1.6h0m1.5 2.4h0m-2.2 .8h0m-1.5 1.5h0m0 .1h0m1.3 .9h0m-2 1.5h0m1.9 .3h0m-1.5 .3h0m-3.3 3.7h0m6.4 1.1h0m3.2 1.3h0m-1.2 2.4h0m-.8 .7h0m3.6 .1h0m-8.7 1h0m3.8 5.7h0m-5.3 2.5h0m8.4 1.7h0m-4.4 .9h0m9.8 1h0m-8 .4h0m-4.2 3.2h0m-3.7 .9h0m10.5 1.3h0m-7.7 .9h0m.6 1.8h0m8.2 2h0m-3.7 .6h0m-6.7 4.2h0m7.2 2.4h0m-6 .5h0m4.7 7.4h0m1 .4h0" stroke="rgb(0,191,191)"/><path d="M231.4 421.2h0m7.4 14.7h0m-4.5 .7h0m5.5 36.5h0m-3.2 4.1h0m2.2 3.6h0m-1.9 1.4h0m4.1 3.3h0m-4.4 .6h0m5.6 2.3h0m-6.5 2.8h0m3.9 0h0m7.5 5.2h0m-9.2 .3h0m-2.6 3.1h0m4.5 .2h0m4.4 1.6h0m-10 2.1h0m-2.2 3h0m6.5 1.1h0m.3 .4h0m3.6 2.1h0m-10.9 1.3h0m3.9 3.9h0m5.7 1.2h0m.4 .9h0m-6.3 2.5h0m5.3 1.3h0m-4 2.9h0m-4.3 .4h0m5.9 .3h0m-.1 1.1h0m7.7 .7h0m-8.2 1h0m0 .2h0m-2.4 1.9h0m6.6 5.6h0m-3.2 11.3h0" stroke="rgb(0,191,191)"/><path d="M247.9 458.8h0m-3.8 2.7h0m-1 1.4h0m-5.3 1.7h0m4.7 2.1h0m-6.6 1.8h0m6.5 .4h0m-5.2 1h0m.9 3.5h0m3.9 2.3h0m-2.7 .5h0m.4 4.9h0m-5 1.6h0m2.5 2.4h0m-.4 1.6h0m-3 2h0m8.6 2.7h0m1.1 .3h0m-4.9 .7h0m-1.3 3.2h0m-1.8 .5h0m8.6 1.6h0m-4.3 .5h0m-4.7 3.5h0m8.5 1.6h0m-3.9 .7h0m.8 1.5h0m-8.7 3.1h0m6.8 .9h0m-4 4.9h0m7.9 .4h0m-8.8 .2h0m13.8 5.1h0m-11.7 4.6h0m-2.3 1.6h0m6.4 2h0m2.7 .4h0m-2.3 8.8h0m-8.1 4.5h0m1.6 .8h0m7.1 2.4h0m-1.7 8.6h0m4.8 5.8h0" stroke="rgb(0,191,191)"/><path d="M243.2 442h0m-1.4 5.1h0m-2.5 5.2h0m2.3 6.4h0m.8 1.6h0m-11.1 5.2h0m9.6 4.7h0m3.9 10.9h0m.9 8h0m-10.5 2.1h0m2.9 1.2h0m2.8 .9h0m.4 3.5h0m-4.1 1.2h0m.2 1.3h0m.4 1.4h0m-1.6 2.1h0m2 1.8h0m-3.2 3.9h0m-3 1.2h0m3.5 3.6h0m-1.2 1.5h0m-.4 9.3h0m6.5 3.5h0m-3.9 1.9h0m-2.3 .1h0m1.5 3h0m1.7 6.5h0m-3.2 .3h0m4.1 1.6h0m-2.7 1.7h0m2.5 4h0" stroke="rgb(0,191,191)"/><path d="M244.4 414.5h0m-8.2 22.1h0m5 16.4h0m-5.2 18.3h0m7.1 1.9h0m.2 6.3h0m-6.6 1.3h0m5.7 4.8h0m-4.3 3h0m5.3 2.5h0m-8.5 1h0m7.6 .4h0m-4.5 .7h0m3.8 .2h0m.7 2.2h0m-5.3 .6h0m.5 .8h0m-2.4 2.3h0m-5.1 9.8h0m9.5 .1h0m6.1 1.4h0m-9.8 .9h0m8.7 1.5h0m-10.1 1.3h0m-2.3 4.4h0m9.3 1h0m-.2 0h0m.5 1.4h0m-1 5.3h0m-10.7 .1h0m7.2 3.2h0m-3.5 1.4h0m-.3 3.3h0m1.1 .9h0m2.1 .5h0m2.6 5h0m-6.1 .9h0m2.5 14.6h0" stroke="rgb(0,191,191)"/><path d="M234.2 395h0m-.4 46.3h0m3.5 19.8h0m8.5 3.9h0m-11.1 5h0m10.5 16.9h0m-11.4 3.2h0m1.3 1.4h0m4.2 0h0m-8.9 2.9h0m10.5 3h0m-6.7 .5h0m2.2 1.1h0m6.9 1.2h0m-8.7 .1h0m5.5 1.6h0m-9.9 .7h0m1.3 .4h0m10.2 2.4h0m-14.2 1.2h0m12.8 6.2h0m-4.2 .3h0m1 1.3h0m8.7 3.3h0m-3.6 .5h0m-7.7 1.9h0m1.4 .3h0m-.4 2h0m-.5 .2h0m-2.7 3.8h0m7.7 3h0m3.2 2.6h0m-7 2.6h0m-4.1 2.2h0m.5 3.6h0m7.8 3.1h0m-5.7 24.3h0" stroke="rgb(0,191,191)"/><path d="M236.5 416.8h0m3.3 37h0m-5.9 11.8h0m-1.5 2.2h0m7.6 6h0m4.8 3.2h0m-3.7 1.4h0m-2.7 2.5h0m5.6 .1h0m-13.1 1h0m9.2 4h0m-3.9 1.1h0m4.5 2h0m1 1.4h0m-.7 .5h0m-3.8 .5h0m-1.4 2.2h0m2.8 .8h0m.5 .4h0m-2.6 1h0m3.5 1h0m-5.4 .7h0m6.2 1.8h0m7.5 .3h0m-11.3 .1h0m3.5 .8h0m-2.9 4h0m2 1.2h0m-4 .4h0m3.9 1.5h0m-3.9 1.8h0m.2 2.5h0m5.5 .1h0m-3 .5h0m5.9 1.7h0m-4.7 .7h0m-1.3 1.2h0m-9.5 1.7h0m5.7 1.3h0m9.3 3h0m1.3 1.4h0m-11 .2h0m1.8 9.1h0m8.5 2.3h0m-9.9 .1h0m3.1 3.6h0m-4.3 .6h0m3.5 2.1h0m2.7 .9h0m.3 8.5h0m4.9 .6h0m-8.5 .4h0" stroke="rgb(0,191,191)"/><path d="M239.3 446h0m-3.2 6.5h0m3.8 3.3h0m-4.7 7.3h0m2.7 3.2h0m-2.5 2.8h0m2.9 9.6h0m-1.4 0h0m-1.2 5.5h0m-1.7 3.3h0m8 1h0m.6 .8h0m-7.9 .4h0m-.2 1.3h0m-2.3 2.4h0m8.8 .5h0m-1.9 .9h0m-1.9 .4h0m.3 1.1h0m2.1 1h0m1 2.3h0m1.1 1.8h0m1.8 .8h0m-8.5 2.7h0m1.8 .5h0m4.8 .5h0m-1.7 10.4h0m-9.5 3.8h0m7 1.3h0m-.1 4h0m.3 1.9h0m-4.8 .2h0m7.7 0h0m1.1 2.6h0m2.2 .2h0m-6.4 2.1h0m-3.6 3.5h0m10.3 7.5h0m-4.7 1.7h0m-2.9 8.1h0m-.1 1h0" stroke="rgb(0,191,191)"/><path d="M242.6 435.4h0m-8.1 1.2h0m3.4 16.8h0m3.8 6.3h0m-8.6 7.9h0m12.7 9.6h0m-11.8 3.4h0m-1.4 5h0m5.8 2.6h0m-.3 1.4h0m-3.3 .2h0m.8 .3h0m.8 3.4h0m-.1 .7h0m-.9 1.2h0m2.9 0h0m5.7 1.2h0m-3.1 1.5h0m-10.5 1.6h0m7.5 .3h0m.5 .1h0m-1.3 3.7h0m-3 2.4h0m-3.2 4.6h0m9 .9h0m-4.3 1.2h0m.9 .7h0m-.2 1.1h0m-1.1 1h0m.4 3h0m-1.7 1.8h0m7.4 0h0m-2.7 .4h0m-.2 1.2h0m7.7 .1h0m-14.2 0h0m8.9 .6h0m-1.9 1h0m-1.5 .3h0m-1.5 1.7h0m-.7 1h0m1.5 4.9h0m-2.5 16.5h0m3.5 .8h0m-6.4 2.3h0" stroke="rgb(0,191,191)"/><path d="M242.8 453.3h0m-1.7 .7h0m-5.2 .3h0m-3.9 5.6h0m3.9 .2h0m-5 5.6h0m8.3 3.4h0m-5.9 1.6h0m15.2 .8h0m-9.9 1.5h0m-2.9 1.7h0m1.4 3.4h0m-3.9 .3h0m6.8 1.1h0m-2.5 8.8h0m-1.3 5h0m-2.4 2.2h0m-.9 .1h0m1.3 .5h0m6.2 0h0m3 .1h0m-5.6 1h0m2.7 1.2h0m-5.9 .3h0m1.2 2.4h0m8.2 .1h0m-10.5 1h0m2.8 .6h0m-1.6 .6h0m4.8 2.8h0m-3.2 1.7h0m2.6 2.7h0m1.4 2.7h0m-3.9 2h0m-5.7 3.3h0m6.2 0h0m6.7 1.5h0m-12.7 0h0m8.4 4.1h0m-3.9 1.3h0m2.9 2h0m-2.3 .5h0m6.6 3.6h0m-2.2 8.8h0m-4.2 20.8h0m-.6 .3h0" stroke="rgb(0,191,191)"/><path d="M236.5 429.9h0m2.1 28.6h0m8.1 7.3h0m-9.9 3h0m2.1 4h0m-4.3 2.9h0m-.4 .3h0m-1.2 3.4h0m7.2 .8h0m-5.5 .8h0m.8 6h0m6.6 1.5h0m-.6 1.4h0m-3.1 .2h0m1.5 0h0m1 .1h0m-5.3 1.5h0m-1.3 .4h0m6.1 3.7h0m-7.5 3.2h0m-2.8 1.9h0m5.1 .2h0m-.8 2h0m1.4 3.3h0m5.8 2.2h0m1.8 .3h0m-7.4 7.7h0m9.2 5h0m-6 2.9h0m.4 .1h0m.6 .5h0m-2.9 1.1h0m-2.2 6.4h0m1.4 2h0m3.4 3.3h0m-5.9 .4h0m-1.1 1h0m2.5 2.9h0m2.8 .6h0m4.9 .4h0m-8.8 1.3h0m9.9 11.6h0" stroke="rgb(0,191,191)"/><path d="M240 393.3h0m-1.2 36.7h0m-3.9 32.4h0m4.7 2.7h0m-1.9 1.7h0m2.7 10.3h0m.3 .6h0m-1.6 .4h0m6 2h0m-4.5 4.3h0m-4.5 4.1h0m3.5 4.6h0m.5 .7h0m-8.3 .4h0m-2.2 .2h0m7.2 1.5h0m4.7 1.7h0m-2.5 1.8h0m-3.1 3.6h0m-1.5 .7h0m6.2 2.9h0m.9 .1h0m-6.1 2.1h0m.2 .5h0m6.9 3.2h0m-3.4 1.5h0m4.3 2.6h0m-2.4 .4h0m-3.3 6.9h0m.4 3.2h0m3.4 23.2h0" stroke="rgb(0,191,191)"/><path d="M230.8 455.6h0m5.5 7.7h0m9 2.6h0m-7.2 7.6h0m4.1 7h0m-8.1 0h0m9.3 .5h0m-15.6 1.3h0m14.4 1.5h0m-8.6 3.4h0m-2.2 .7h0m4.9 6.3h0m1.1 .8h0m-.3 1.4h0m-.9 1.5h0m3.3 .2h0m-5.4 .3h0m6.2 .7h0m-1.1 0h0m2.8 .8h0m-8 8.3h0m2.8 1.9h0m5.8 1.2h0m-2.8 1.6h0m2.8 .5h0m-4.8 .1h0m-.6 1.4h0m-3.1 1.8h0m-2.8 1.7h0m10.8 1.8h0m-4.5 .5h0m-6.3 3.5h0m.3 4.4h0m3.8 1.5h0m1.1 10.8h0m4.5 5.6h0m-3.3 6h0m2.3 3.7h0" stroke="rgb(0,191,191)"/><path d="M240.2 436.6h0m-3.7 27.9h0m-.4 5.2h0m3.6 5.9h0m-5.2 5.8h0m-.2 11h0m8.4 1.1h0m-5.7 .3h0m-2.3 1.3h0m2.4 3.4h0m3.4 .7h0m-2.5 .8h0m-5.4 2.4h0m4.7 .7h0m-.9 2.1h0m6.3 .7h0m-3.9 0h0m3.4 2.2h0m-3.2 2h0m-8.9 .1h0m2.1 2.6h0m5.5 1.2h0m3.8 3h0m-2.7 .8h0m-4.5 0h0m-.2 2.7h0m5.9 1h0m5.4 2.6h0m-7.5 .8h0m1.7 4.9h0m-2.5 1.1h0m-.2 3.6h0m.3 .1h0m-.7 1.5h0m2.2 1.7h0m-4.4 4.3h0m-3.6 .8h0m5.3 4.2h0m-3.5 2.8h0m9.1 .8h0" stroke="rgb(0,191,191)"/><path d="M234.9 431.6h0m-.4 16.6h0m3.6 18h0m2.6 2.1h0m1.1 1.8h0m-5.5 2.8h0m4.2 12h0m-1.7 .4h0m7.8 2h0m-13 2.4h0m-3.2 2.3h0m7.5 .3h0m-3.7 .5h0m3.8 .9h0m1.4 4.5h0m-7.6 1h0m7.3 1.2h0m1.7 .2h0m-2.6 .5h0m-6.4 .3h0m4.2 .3h0m3.6 4.3h0m-.7 .8h0m-5.8 .5h0m2.4 .2h0m1 .7h0m-1.5 .5h0m6.5 .4h0m-3.9 .7h0m-.9 3.8h0m-4.3 .1h0m6.4 2.4h0m.6 .6h0m-.1 .6h0m-4.6 1.1h0m4.8 .7h0m-4.5 .6h0m.5 .7h0m0 3.8h0m-2.2 .4h0m9.9 3h0m-7.1 3.7h0m-1 .9h0m2.9 2.4h0m-5.5 .1h0m6 .9h0m-3.4 3.5h0m-.7 .4h0m9.4 0h0m-5.8 4.7h0m-.2 .1h0m-.6 1.8h0m-2.4 3.2h0" stroke="rgb(0,191,191)"/><path d="M237 448.7h0m-1.1 21h0m.9 3.1h0m.5 .7h0m-6.8 4.8h0m12.3 2.2h0m-1.2 1.5h0m-.4 3.1h0m-7.6 4.1h0m3.6 1.5h0m-6.1 1.1h0m3.6 2.3h0m7.1 .1h0m2.8 2.7h0m-10.8 2.4h0m4.9 1.4h0m-1.3 1.3h0m-3.9 1.8h0m6.9 .7h0m-9.9 1.9h0m12.7 2.6h0m-12.1 3.2h0m7.6 1.3h0m-.8 2.7h0m4.3 .1h0m-.9 5.8h0m-7.4 .4h0m2 2.6h0m-1.3 .6h0m2.2 .3h0m6.5 1.8h0m-5.6 1.4h0m-.9 10.7h0m-4.8 11.7h0" stroke="rgb(0,191,191)"/><path d="M235.3 447.7h0m9.6 3.9h0m-2.2 2.7h0m-10.9 1.7h0m-1.5 1.9h0m11.5 7.3h0m-4 8.4h0m4.3 2.9h0m-12.4 .5h0m12 1.2h0m-2 1.2h0m-6.3 .3h0m1.7 7.1h0m6.1 3.2h0m-4.8 .3h0m9.3 4h0m-10.5 4.3h0m1 1.2h0m4.8 1.2h0m-2.7 .7h0m-1.1 2.2h0m-2.3 0h0m4.4 .1h0m1.5 .2h0m.5 .8h0m-2.1 .2h0m-3.7 .7h0m2.7 1.7h0m7.3 .6h0m-6 .5h0m1.5 .6h0m-3.9 0h0m2.2 2.7h0m-7.7 .3h0m9.1 .2h0m-7.3 1.5h0m2.7 1.1h0m5.7 3.7h0m-5.6 .8h0m-4.7 .2h0m3.6 .7h0m5.1 1.3h0m-1.7 .8h0m-.5 .2h0m-3 3.9h0m.1 .5h0m3.4 .5h0m-5.8 2.4h0m8.1 4h0m-9.6 2.3h0m5.1 1.6h0m-2.4 11.4h0m4.9 7.4h0" stroke="rgb(0,191,191)"/><path d="M234 460.5h0m1.3 1.9h0m-1.9 4.1h0m3.5 1.1h0m1.8 5.6h0m6.9 2.1h0m-6.6 3.7h0m-2.1 4.9h0m-4.9 .7h0m3.4 2.4h0m-5.9 1.3h0m14.5 .9h0m-17.2 2h0m14.5 .8h0m-2.8 2h0m-4.2 5.8h0m-5.6 1h0m6.4 1.2h0m3.8 1h0m-1.8 1.1h0m-1.7 2.6h0m-4.1 .8h0m5.4 .5h0m1.9 1.2h0m-1.4 4.7h0m-3.6 3.1h0m3.4 1h0m-.6 8.7h0m.5 .2h0m3.9 .3h0m-7.3 .6h0m6.2 2h0m-2.7 4.3h0m4.4 .6h0m-6 .4h0m-1.1 4.6h0m2.6 1.3h0m-.5 .1h0m-1.8 .7h0m10.3 6.4h0m-8.1 1h0m.7 .3h0" stroke="rgb(0,191,191)"/><path d="M299.5 436.3h0m-3.5 .4h0m.3 7h0m0 20.8h0m3.2 2.3h0m-6.5 1.7h0m7.3 .6h0m-6.2 9.7h0m.1 1.7h0m-7.4 .5h0m10.2 1.4h0m3.3 1h0m-10 2.5h0m2.9 .5h0m1.5 3.3h0m-5.2 1.2h0m4.5 3h0m5.5 1h0m-.7 1h0m-5.1 1.8h0m4.9 3.4h0m-14.1 .1h0m15.8 3.5h0m-8 .9h0m2.7 .2h0m0 2.5h0m-4.9 3h0m1.3 .3h0m5.4 4.1h0m-5.9 .3h0m11.3 .4h0m-9.9 .3h0m6.5 .3h0m-9.8 .7h0m4.5 .8h0m-.6 .1h0m-1.9 1.1h0m-4.4 1.3h0m7.1 .5h0m-12.1 .2h0m8.9 .6h0m6.4 1.1h0m-1.8 .8h0m-2.1 .1h0m2.3 .1h0m.2 .6h0m-9.4 .9h0m6.3 .8h0m3.3 0h0m-2.6 .4h0m-.9 1.4h0m1.1 1.1h0m-1.7 .1h0m5.3 .2h0m-4.9 .3h0m3.3 1h0m3.8 0h0m-7.1 .2h0m3.2 2.2h0m2.1 .8h0m-6.2 .1h0m5.8 .9h0m-8.1 .4h0m.2 1.2h0m3.5 2.2h0m2.9 1.3h0m-6.1 1h0m3.4 .3h0m-.8 1.9h0m1 .2h0m-.1 .5h0m4.6 1.6h0m-4.7 .2h0m-1.4 2.2h0m5.2 2.1h0m-7.1 1.1h0m3.9 1.6h0m-1.2 2.4h0m.8 .2h0m.8 .2h0m3.5 .1h0m3.8 2.1h0m-6.3 .6h0m1.9 .1h0m-3.9 .3h0m1.8 .8h0m10.4 .2h0m-12.8 .5h0m5.5 2h0m-5.8 1.4h0m7.5 1.6h0m-7 1.9h0m-2 .9h0m7.1 .6h0m-5.4 1.1h0m1.4 .7h0m-1.3 2.9h0m5.7 .4h0m-9.1 .2h0m3.9 .5h0m3.3 0h0m2.1 .2h0m3.5 .7h0m-9.1 .1h0m-2.3 .4h0m-.7 2.3h0m11.4 .5h0m-6.2 1.5h0m-4.7 2.5h0m3.1 .7h0m-9.6 .1h0m18.3 1.2h0m-.6 1h0m-1.5 .4h0m-5.8 .9h0m3.3 1.1h0m-3.6 1.2h0m-.1 1.3h0m2.3 .4h0m-7.3 .2h0m3.6 .3h0m3 .2h0m-6.3 1.2h0m5 .2h0m-1.9 .7h0m1.3 1.6h0m3.3 .1h0m-1 1h0m2.1 .5h0m-3.1 .1h0m1.4 1.9h0m1.9 .8h0m-2.4 0h0m-3 .2h0m.4 1h0m2.4 2.9h0m1.2 .5h0m-.4 .4h0m-4.6 1h0m5.8 .5h0m-7.1 .9h0m-1.9 .1h0m14 1.1h0m-.7 .7h0m-8.1 .1h0m-2.9 1.6h0m1.6 .1h0m.1 0h0m-2.4 .3h0m4 .1h0m3.4 .6h0m-.3 .8h0m2.6 .9h0m-5 1.7h0m-5.5 1.1h0m1 .9h0m5.1 .1h0m3.4 0h0m-5.9 .4h0m-4.2 1.5h0m4.5 2h0m3.5 1.1h0m-3 12h0m-1.8 8.3h0" stroke="rgb(255,0,0)"/><path d="M284.9 425h0m5.6 8.9h0m2.9 18.7h0m-4.8 2.4h0m7.7 .1h0m-10.8 7.7h0m9.9 22h0m-8 .7h0m8.8 3h0m-4.5 0h0m2.5 .4h0m2.9 2.6h0m-1.1 .2h0m-7.7 .4h0m2.2 .3h0m4.2 .6h0m-1.6 .8h0m-2.2 .3h0m-3.3 .3h0m3.6 1.4h0m6 3.3h0m-3.3 1.4h0m-.9 0h0m4.2 2.5h0m-5 1.6h0m-2.3 .6h0m.7 2.6h0m3.7 1h0m3.6 1.7h0m-4.6 0h0m8.6 1.5h0m-15.2 .9h0m5.7 1.1h0m4.6 .5h0m-2.5 0h0m4.9 1.6h0m-5.5 .7h0m-3.8 .2h0m6.6 1.4h0m-9.6 2.2h0m12 1.2h0m-11.4 .5h0m6.2 .8h0m-1 .6h0m4.2 3.1h0m-4.1 1.6h0m6.5 3.7h0m1.1 .3h0m-10.2 .1h0m4.9 .1h0m-2 .5h0m4.5 0h0m3.3 2.3h0m-1.5 1.7h0m-9.3 .1h0m2.4 .2h0m7.1 .3h0m-4.9 2h0m-8.3 1.2h0m14.5 .3h0m-5.1 1.2h0m3.8 2.3h0m-8.3 .6h0m-.5 0h0m1.4 3.4h0m3.5 .2h0m-.6 .9h0m3 1.6h0m-9 .7h0m6.4 .2h0m-7.2 .9h0m4.2 .2h0m-1 .6h0m-1.7 .4h0m5.3 .8h0m-6.3 .6h0m1.7 .5h0m6.8 3.5h0m-7.6 3h0m4.1 4.2h0m4.7 1.3h0m-10.7 .9h0m-3.1 1.8h0m7.2 2.5h0m3.1 .2h0m-.8 .9h0m-2.7 .6h0m7.6 .6h0m2.7 1.3h0m-8.7 2.6h0m1.6 .3h0m-.7 .2h0m-1 .5h0m-2.4 .9h0m6.2 .2h0m-9 .3h0m3.4 .3h0m1.6 1h0m-4.5 .4h0m6.8 0h0m-.5 0h0m-6.5 .3h0m8.8 1h0m-5.5 .3h0m3.4 1.4h0m-.8 1.4h0m-2.4 1.1h0m1.2 .9h0m-2 .2h0m7.2 .6h0m-1.8 .6h0m2.1 .7h0m-6.5 .2h0m-.4 .1h0m7.8 .2h0m.6 .5h0m-5.1 .3h0m-.5 .3h0m-1.4 .3h0m2.7 0h0m-1.8 .9h0m4.1 .1h0m-4.8 .3h0m7.9 0h0m-13.1 .8h0m.1 .8h0m6.9 .3h0m6.4 .3h0m-9 .5h0m6 .7h0m-1.3 .2h0m-1.7 .6h0m-4.6 1h0m1.7 .2h0m4.5 .2h0m1.2 .3h0m-3.6 .8h0m-1.1 1.5h0m1.8 1.3h0m-3.9 .7h0m8.6 .4h0m-8.6 .1h0m.2 2.1h0m-.1 .4h0m-.9 .1h0m5.8 .1h0m.5 2.2h0m-3.1 .6h0m-4.4 1.7h0m-.6 .2h0m7.6 .3h0m2.1 .3h0m-4.9 .1h0m6.5 .6h0m-5.6 .3h0m3.8 .4h0m-5.2 .4h0m1.7 .7h0m-7 1.1h0m10.3 .5h0m-6.5 1.1h0m-5.7 1.6h0m5.2 2.1h0m5.1 1.5h0m-.5 1.5h0m3.7 .6h0m-7.3 6.1h0" stroke="rgb(255,0,0)"/><path d="M298.7 437.2h0m-.7 2.1h0m-4.9 10.9h0m4.6 14.5h0m-4.7 2h0m1.2 6h0m2.9 7.4h0m2.8 1.6h0m-3.9 5.3h0m4.9 3.8h0m-7.8 .4h0m1 0h0m1.1 .5h0m-3.1 1h0m.3 1.5h0m1.3 1.5h0m2.1 1.3h0m-1.4 1.4h0m-6.4 5.6h0m9 .4h0m-2.4 .7h0m4 0h0m-4.1 2.4h0m-5.7 1.1h0m4.7 6.2h0m1 .1h0m-2.7 .7h0m3.7 .1h0m.5 1.3h0m-1.9 2.6h0m2 .9h0m-.4 .1h0m.5 .3h0m-1.9 1.6h0m-4.8 .5h0m6.9 .8h0m-4 .4h0m.9 4.8h0m6 1.2h0m-4.8 4.1h0m2 .7h0m-3.7 .8h0m1.5 3.6h0m-3.3 .3h0m1.1 .4h0m7.1 .2h0m-5.7 .2h0m-4.5 .4h0m4 .1h0m-3.5 .1h0m7.8 1.6h0m-7.3 .1h0m4.9 1.2h0m-.4 .1h0m.1 1.4h0m2.2 .1h0m-5.9 .1h0m-1.7 .5h0m6.5 1h0m-.2 .2h0m4.9 .1h0m-8.9 2.1h0m-1.2 .3h0m9.3 1.8h0m-4.8 2.4h0m.6 1.4h0m-3 .2h0m-3.3 1.7h0m3 .1h0m2.1 1.1h0m-1.6 4h0m4 .8h0m-.5 .4h0m-.7 1.3h0m-7.7 .8h0m13.6 0h0m-12.3 .3h0m3.8 .2h0m3.3 .9h0m-5.2 .2h0m1.4 1.8h0m1.7 .2h0m5.2 1.8h0m-4.1 2.6h0m-2.4 .6h0m.1 1.3h0m.2 2.3h0m8.2 .7h0m-6.7 .1h0m-3.9 .8h0m2 2.4h0m-2.1 1.7h0m-1.4 0h0m1.4 .3h0m6.1 .1h0m-3.9 .5h0m4 .6h0m-9.2 1.5h0m6.8 3h0m-6.3 1h0m5.2 .1h0m-1.8 .4h0m5 0h0m.2 .6h0m2 .5h0m-1.3 .3h0m-.4 .6h0m-6.8 .2h0m.8 .5h0m-2.7 .5h0m7.2 .7h0m1.3 .4h0m-8.3 .7h0m7.2 .1h0m.9 0h0m-1.8 .6h0m-5.6 1.1h0m12.2 1.5h0m-10.9 2h0m8.1 0h0m-2.7 .2h0m-3.1 .5h0m3.4 .2h0m-2.2 .4h0m-5.6 .3h0m7 .3h0m1.1 0h0m-3.6 .3h0m7.4 0h0m-11.4 .3h0m-1.4 1.3h0m3.7 .8h0m2.5 .8h0m-1.1 0h0m-.4 .1h0m3.1 .2h0m3.8 .5h0m-10.8 1.5h0m5.7 .2h0m.9 .5h0m-.5 .5h0m2.1 .9h0m1.2 1h0m-6.2 .1h0m-1.8 1.4h0m4.8 .1h0m.6 .9h0m1.9 .2h0m-10 .3h0m13.4 1.2h0m-5.6 .2h0m-1 0h0m-1.5 .2h0m3 1.3h0m.7 .3h0m-2.4 .5h0m-.1 .4h0m3.6 .7h0m-2.5 3.9h0m2.2 2.3h0m-5 11h0" stroke="rgb(255,0,0)"/><path d="M292.9 415.5h0m-1.8 28.2h0m-4.5 7.2h0m5.1 2.5h0m3 .4h0m-2 7.6h0m4.7 3.3h0m-10.1 .8h0m4.4 13h0m-.1 2.6h0m4.1 2.7h0m.9 .2h0m-2.4 .9h0m1.8 .3h0m-1 .7h0m6.6 .3h0m-10.5 3.1h0m6 2.6h0m-4.8 2.1h0m-1.7 .5h0m1.3 .6h0m5.7 1.1h0m-7.7 1.3h0m8.4 6.7h0m-9.5 .1h0m5.9 1.7h0m0 3.7h0m1.2 .7h0m.8 1.4h0m-2.2 2.9h0m1.1 .7h0m-6.1 1.2h0m2 .2h0m3.3 .4h0m-.1 1.1h0m4.2 1.2h0m-5.8 .1h0m4.3 .3h0m-14.9 4.7h0m15.7 .1h0m-2.1 .3h0m-2.1 2.1h0m2.4 1.8h0m-9.4 .9h0m4.2 1.9h0m1.7 1.7h0m.5 .2h0m6.2 .1h0m-8.3 .7h0m.1 2h0m0 .7h0m-3 .7h0m1.3 1.8h0m7.5 .6h0m3.7 .1h0m-7.1 .9h0m.7 .6h0m-5 .5h0m11.5 1h0m-4.8 .6h0m-1.9 .3h0m-.4 .4h0m6.8 .2h0m.4 0h0m-7.8 .9h0m4.3 0h0m-.2 2.6h0m-6.1 .2h0m.9 .9h0m2.8 .2h0m-2.3 1.1h0m-4.5 .1h0m11 .7h0m-5.7 0h0m7.1 1.3h0m-6 1.1h0m1.6 0h0m-6.6 .6h0m8.4 .1h0m-9.6 2.2h0m6.9 .2h0m-.5 4.3h0m-9.8 2.1h0m6.7 1.5h0m5.9 .2h0m-1.6 .5h0m-1.5 2.9h0m-.3 .5h0m-3.7 .7h0m4.4 .1h0m4.4 2.1h0m-7 3.6h0m6.8 1.6h0m-1.4 .3h0m-4.3 .6h0m2.9 1h0m2.9 .1h0m-.8 .2h0m-4.8 .4h0m-.2 .7h0m-2.2 .6h0m6.2 .1h0m-1.4 .9h0m-5.3 .8h0m8.1 1.7h0m-3.6 .1h0m-4.8 0h0m-5.1 .4h0m13.8 .3h0m-6.3 .7h0m5.6 1.1h0m-11.1 .3h0m2.4 .2h0m7 .4h0m2.4 .3h0m-7.5 .3h0m4.9 1.9h0m-4.5 2h0m0 .4h0m8.2 .1h0m-11.9 .3h0m2.2 .9h0m-3.2 1.8h0m3.2 1.2h0m-5.5 .8h0m9.2 .2h0m-2.3 .3h0m1.4 .4h0m6 1.3h0m-9.5 1.1h0m4.9 0h0m2 1.4h0m-.5 .1h0m-4 .2h0m3.1 .5h0m-6.4 1.1h0m5.4 .4h0m1.5 0h0m-4 .2h0m-1.3 1.5h0m7.2 .4h0m-5.2 .1h0m2.2 .2h0m-2.4 .2h0m-2.2 .2h0m7.5 .3h0m-5.6 .5h0m-6.2 .1h0m4.9 .5h0m7.9 .3h0m-8.7 .1h0m4.4 2.3h0m2 .2h0m3.5 .1h0m-4.3 3.2h0m2.2 .7h0m-3.5 3.3h0m5.1 1.1h0m-5.6 .1h0m-5.3 2h0m2.8 1.9h0m2.4 3.8h0m3.8 .8h0" stroke="rgb(255,0,0)"/><path d="M296.4 439.4h0m-.9 15.2h0m1.4 5.6h0m.4 7.6h0m-10.4 2.3h0m5.6 5.1h0m-.6 4.4h0m-2.4 3h0m10 0h0m-5.8 2.1h0m-6.4 .5h0m11.4 7.7h0m1.1 .2h0m-8.3 2.1h0m1.1 1.7h0m6.1 .6h0m-1.9 1.4h0m-4.2 .7h0m-5.8 1.8h0m11.7 .7h0m-9.2 1.5h0m10.7 3.6h0m-9.4 2h0m-5.9 1.5h0m16.1 4.2h0m-6.1 .9h0m-.1 4.5h0m-2.2 .2h0m-3.4 .6h0m8.7 .8h0m-6 .5h0m3 1.8h0m1.3 .6h0m.2 3.4h0m-4.5 1.4h0m9.5 0h0m-6.8 .3h0m-1.5 3.4h0m-.7 .6h0m5.2 .3h0m1.4 .1h0m-.3 .8h0m-4.7 1h0m-1.3 .7h0m5.1 6h0m-10.6 .1h0m10.5 1h0m1.3 1h0m-1.7 0h0m-1.7 .2h0m-9.8 .2h0m4.5 2.6h0m-.1 2.1h0m1.3 3.5h0m1.4 .3h0m3.5 3.4h0m-4.7 .6h0m.5 .6h0m2.8 .6h0m-6.8 .6h0m12.7 .5h0m-12.1 1.1h0m7.2 .6h0m.5 2.2h0m0 1.4h0m-9.6 1.1h0m1 .3h0m-2 3.1h0m10 .6h0m-.9 .5h0m-1.3 1.4h0m-11.8 .5h0m15.7 .1h0m-6.2 .2h0m2.1 .6h0m-2 1.9h0m6.1 3h0m-9.1 1.7h0m5.6 1h0m-3.3 .7h0m7.7 .4h0m-2.7 1.1h0m-1.1 .9h0m-3.1 .4h0m3.2 1.4h0m-8.6 .6h0m9.5 .5h0m-2.3 1.4h0m6.1 .1h0m-7 .8h0m-5.1 .8h0m1 .4h0m6.9 .6h0m-4.2 .2h0m-.1 .7h0m2.3 .8h0m-.9 .4h0m7.6 0h0m-7.5 1.2h0m7 1.9h0m-3.5 .3h0m-3.2 .4h0m5.4 .1h0m-6 .2h0m5 .1h0m-.7 .7h0m-.9 0h0m-2.8 .6h0m-7.2 1.1h0m6.9 .2h0m-.6 .9h0m-1.9 .1h0m-2.5 1h0m7.5 .1h0m-8.2 1h0m5.5 0h0m-2.4 .5h0m4.4 .5h0m4.7 .4h0m-5.1 .4h0m1.1 .1h0m-5.7 .8h0m4.6 .3h0m-.4 .1h0m7.3 .1h0m2.2 .7h0m-9 .2h0m3.3 .2h0m-5.1 .4h0m8.7 .6h0m-7.2 .3h0m5.5 .8h0m-6.2 0h0m0 .4h0m6.3 .9h0m-1.5 2.5h0m2.4 .7h0m-6 2.6h0m-.8 1.4h0m3.8 .3h0m-7 .1h0m2.2 3.3h0m-2.3 1.5h0m4.3 .4h0m-1.7 4.8h0" stroke="rgb(255,0,0)"/><path d="M295 435.2h0m6.4 1.1h0m-10.2 25.3h0m-.8 1.5h0m6.8 3.7h0m-2.7 1.6h0m-1.8 5.7h0m2.5 3.6h0m3.5 .7h0m-9.1 3.6h0m2.1 .8h0m-2.1 .7h0m8.3 2.3h0m-8.2 2.3h0m3.6 .1h0m6.8 .1h0m1.5 3.5h0m-5.3 1.5h0m-2.3 .4h0m-.3 .2h0m-.9 .5h0m-5 .6h0m6.8 3.5h0m-1.4 .2h0m5.5 1.6h0m-5.1 3h0m-.2 .5h0m.6 1.6h0m-3.8 .6h0m7.5 1h0m-2.2 1h0m.1 .5h0m-2.5 .1h0m-2.4 .4h0m4.2 .7h0m.2 .3h0m-9.3 .1h0m10.2 0h0m-.1 1.4h0m.7 .1h0m-2 2h0m1.5 2.1h0m1.3 4.9h0m-1.3 .5h0m0 .4h0m2.3 2.4h0m-6.6 2.8h0m-.6 1.4h0m-1.3 4h0m2.1 .1h0m.3 .9h0m2.4 .9h0m-6.9 1.5h0m11.9 .8h0m-5.9 .7h0m9.8 2.6h0m-8 .1h0m-4.1 .3h0m-6.4 1h0m11.4 .2h0m.3 .5h0m-9.2 .5h0m3.7 .5h0m12.3 0h0m-10.5 .3h0m2 .1h0m-2.6 .7h0m0 .7h0m-1.1 .2h0m12.5 .8h0m-8.3 .6h0m3.3 4.6h0m-9.6 1h0m6.6 1.8h0m-6.7 .3h0m2.5 .1h0m8.3 .8h0m-8.5 .4h0m5.8 .2h0m1.8 5.5h0m-.5 .3h0m-4.5 1.8h0m1.8 4.4h0m-.2 .8h0m-3 1.3h0m4.5 .7h0m-6.3 1.6h0m6.8 0h0m-5.1 1.4h0m4.3 1.3h0m-13.5 .6h0m11.6 .1h0m.8 .5h0m3.3 0h0m-6 1.2h0m-.4 1.4h0m-1.9 4.3h0m6 .3h0m-1.8 1h0m-1.1 .4h0m.1 1h0m3.3 .1h0m-5.6 .3h0m2.9 .4h0m5.1 .6h0m-11.7 .6h0m9.4 .7h0m-7.4 .4h0m-.8 .8h0m3.3 .3h0m3.3 .3h0m-.6 .1h0m.4 1.5h0m5.6 .1h0m-6.4 1.9h0m-6.4 .1h0m2.3 .1h0m3.7 1h0m0 1h0m-1.9 .7h0m4 .1h0m-6.1 .4h0m-.6 .3h0m5.3 1h0m-4.3 .3h0m-.5 .3h0m4.9 .7h0m-3.3 2.3h0m9.4 .1h0m-10.6 .1h0m2.2 .1h0m5.4 .2h0m-.7 0h0m2.2 .2h0m-2.6 .7h0m-.6 .1h0m-4.4 .5h0m-2 .7h0m6 .4h0m-2.3 .4h0m-2.5 .1h0m7.5 .5h0m-4.6 1h0m.6 .3h0m3.2 0h0m-6.3 .3h0m2 0h0m-6.1 .1h0m9.1 .5h0m-.5 .2h0m-7.3 .2h0m6.8 .6h0m-5.8 .1h0m3.7 1.5h0m3.8 .8h0m-6 .3h0m.4 2.2h0m1.8 2.2h0m-2.1 .9h0m9.5 .6h0m-7.2 .7h0m-4.8 0h0m10.8 1.1h0m-1.1 0h0m-9.7 .5h0m-3.2 .2h0m.2 .8h0m5 .3h0m-.4 2.3h0m4.9 .9h0m-3.4 .1h0m1.4 1.2h0m-1.1 1.9h0m-1.1 7.6h0" stroke="rgb(255,0,0)"/><path d="M292 415.1h0m2.6 7.5h0m3.4 22.2h0m-3.3 7.5h0m-5.1 7.4h0m5.5 1.3h0m-.9 1h0m-3.4 12.7h0m-7 1.1h0m5 .7h0m7.5 3.9h0m-4.8 1.1h0m4.4 1.4h0m-2.1 .8h0m7.9 .8h0m-.7 1.8h0m-11.3 3.3h0m2.7 1.6h0m-.9 2.9h0m.3 .9h0m-.5 2h0m3.1 1.7h0m.1 .3h0m-5.7 .6h0m4 2.6h0m5.1 .4h0m-2.2 3.1h0m-2.7 1h0m2.5 .1h0m-1.7 .5h0m4.1 .1h0m-8.1 0h0m4.4 .1h0m6.4 .5h0m-10.7 .8h0m1.8 4h0m-1.7 .9h0m4.5 3.2h0m-11.6 1h0m7.9 2.8h0m5.2 1.1h0m1.7 .5h0m-3.6 .4h0m4 .9h0m-5.6 .7h0m-6.8 .2h0m5.3 .9h0m.4 .4h0m8.1 3h0m-4.8 1.8h0m1.1 1h0m-4.4 .1h0m1.9 .3h0m7.7 .3h0m-11.6 .3h0m8.9 .9h0m-4.8 0h0m4.2 1.6h0m-6.9 0h0m-.9 .2h0m7.9 .3h0m-5.8 1.3h0m7.1 2.3h0m.5 0h0m-9.6 2.5h0m2.9 3.5h0m-3 .5h0m.6 .7h0m7.1 .6h0m-2.3 2.7h0m2.2 .2h0m3.9 .1h0m-16.4 1.3h0m11.2 2.3h0m0 .3h0m-4.9 .3h0m3.8 1.6h0m-3.5 1.4h0m-4.1 1.5h0m2.2 1h0m.5 1.9h0m1.7 .4h0m-.8 0h0m3 .5h0m6 .7h0m-9.6 .3h0m1.2 2.4h0m7.9 .1h0m-5.1 .7h0m-.5 2.8h0m2.9 .3h0m-3.5 .1h0m2.5 .8h0m-.3 .1h0m-2.1 .3h0m5.5 .7h0m-.6 2.4h0m-5 .4h0m-2.4 1.5h0m6.6 .8h0m-1.8 .1h0m3 .3h0m-11.4 1.2h0m4.2 .6h0m-1.7 2.4h0m-3.3 1.4h0m4.5 .1h0m-6.3 .5h0m7.7 .6h0m-2 0h0m2.7 .3h0m4.7 .4h0m-5.9 .8h0m3.3 .1h0m-2 .1h0m3.6 1.1h0m-8.4 .2h0m5.5 1.7h0m.1 0h0m2.5 .1h0m-3.8 1h0m5 .7h0m-8.8 1.2h0m4.4 .1h0m6.5 .2h0m-6.3 1.2h0m-3.5 .6h0m9.2 2.6h0m-.8 .3h0m-2.7 1h0m1 .2h0m-1.2 .8h0m-2.4 1.5h0m5.2 .6h0m-10.7 .7h0m11.1 .7h0m-5 .5h0m3.2 .3h0m.3 .1h0m2.3 .5h0m-7.2 .2h0m.2 .8h0m5.3 1.2h0m-.8 .4h0m-3.7 .3h0m-4.9 .5h0m2.1 .5h0m8.1 .3h0m-2.5 .8h0m-1.6 .5h0m1 .2h0m-4.5 .1h0m3.1 1.2h0m5.4 .3h0m-2.1 .3h0m-1.8 .8h0m3.6 .6h0m-10.2 .1h0m-.7 1.9h0m10.3 .8h0m5.4 .2h0m-10.5 .5h0m.3 .2h0m4.1 .6h0m-7.7 .9h0m1.7 .1h0m3.2 .1h0m-1.2 .4h0m-1.7 .6h0m.8 .2h0m7.3 1.5h0m.2 1.4h0m-8.7 1.7h0m-3.7 1h0m3.5 .7h0m7.7 .1h0m-4.8 1.2h0m-.3 2.7h0m.4 .7h0m6.6 .7h0m-9.4 8.1h0m3.9 3.3h0" stroke="rgb(255,0,0)"/><path d="M295.7 423.6h0m.3 11.2h0m-1.2 0h0m4.7 4h0m-2.1 14.1h0m-3.9 1.4h0m.5 10.7h0m-1.4 1.2h0m2.2 8.9h0m2 3.9h0m-10.9 1.1h0m3.8 2.7h0m4.1 2.5h0m-7.6 1.5h0m-.4 .9h0m2.5 .9h0m4.8 0h0m8.6 .6h0m-7.2 1.9h0m-3.3 .8h0m-3.1 .4h0m.6 2.2h0m8.4 .7h0m-5.6 3h0m5.4 .2h0m-2.6 .1h0m-2.6 1h0m-2.9 1.4h0m4.5 1h0m2.3 1.8h0m-2.5 .4h0m-4.5 .3h0m14.8 2.2h0m-9.6 .1h0m3.2 .1h0m.5 1.1h0m-5.5 1.7h0m.3 3h0m6.9 1.9h0m-.7 .4h0m-8.3 .7h0m7.6 6.9h0m-.9 .6h0m-9 .3h0m2.9 .8h0m3 .5h0m6.5 3.1h0m-10 2.7h0m4.4 .9h0m7.2 .3h0m-16 .4h0m9.7 .4h0m-.7 .4h0m-8.2 .6h0m10 .2h0m1.5 .6h0m-7.3 2.9h0m5.4 .6h0m-8.1 .1h0m5.3 1.2h0m-2.4 .4h0m4.1 4.9h0m1.8 .1h0m-6.9 2.2h0m-1.3 .6h0m4.3 1.2h0m.8 1.3h0m-1.8 1.3h0m-2.5 .7h0m-.5 .2h0m7.1 1.4h0m-4.6 .2h0m5.4 1.2h0m-2.4 2.2h0m-.1 1h0m.6 .1h0m-1.6 .2h0m-5.1 .9h0m-1.8 .6h0m11.4 3.6h0m3.4 .3h0m-7.9 .9h0m3.2 .4h0m-3 1.4h0m-2.5 1.3h0m4.7 3.1h0m1 1.9h0m-6.5 0h0m3.3 .4h0m-3.4 0h0m7.2 0h0m-1.6 1.8h0m-8.8 .1h0m6.9 2.3h0m3 1.6h0m-8.2 2.1h0m1.2 1.7h0m11.4 .4h0m-8 .2h0m.1 1.5h0m-2.1 1.3h0m2.7 1h0m1.5 0h0m-.9 .1h0m-8.1 .6h0m11.4 0h0m-3 .2h0m-3.9 1h0m.9 1.1h0m5.6 4.6h0m-1.6 .4h0m-6 0h0m3.2 .1h0m-.3 0h0m3.7 .7h0m-7.8 1.1h0m1.7 .5h0m5.5 .2h0m-6.1 .2h0m4.5 .2h0m.7 .4h0m-3.6 1h0m6.7 .2h0m-7.5 .8h0m5.6 .4h0m1.3 1.9h0m-4.5 .2h0m1.6 1.2h0m-8.1 1.4h0m9.3 .3h0m-2.9 .5h0m8.9 .2h0m-8.7 3.1h0m4.3 .1h0m-2.5 .1h0m-1.8 .2h0m4.3 .4h0m.2 .4h0m-4.6 1.4h0m2.7 1.3h0m-.1 0h0m1.2 .5h0m-6 .3h0m4.9 .3h0m-6.2 0h0m6.5 .6h0m-6.4 .1h0m10.1 .5h0m-5.5 1.3h0m-4.6 1.3h0m5.6 1h0m-5.7 .5h0m7.7 1h0m1.6 1.2h0m-10.1 .3h0m.9 1h0m1.9 .5h0m-2.2 1.2h0m2.9 1.7h0m3.5 1.4h0" stroke="rgb(255,0,0)"/><path d="M291.6 413.5h0m5.3 55.9h0m-7.5 3.3h0m4 3.2h0m-.7 1.5h0m-4.1 1.6h0m5.9 .3h0m5.9 1h0m-7.2 .8h0m-.3 8.4h0m9 4.2h0m-8.5 .1h0m3.6 .8h0m1 4.4h0m-10.3 3.4h0m4.6 .1h0m1.7 .3h0m1.4 .9h0m1.1 2h0m-.3 .3h0m-4.3 6.2h0m-.1 3.6h0m.7 1h0m-3.1 2.8h0m3.8 .3h0m2 1.9h0m1.9 .5h0m-1.6 .1h0m-2.6 .4h0m.8 4h0m1.7 .2h0m.1 1.2h0m-5 .5h0m.7 .1h0m-9.3 0h0m7.3 .2h0m1.4 .2h0m1.1 .2h0m.1 0h0m6.6 .4h0m-4.1 1.2h0m1.8 2.6h0m-.6 1h0m-.6 .9h0m-3.7 1.3h0m-3.3 5.1h0m1.6 .6h0m0 .9h0m-1 2.1h0m7.4 .3h0m.1 2.2h0m-10.9 .1h0m9.4 2.2h0m-3.1 .6h0m1.6 0h0m7.4 .3h0m1.3 .7h0m-2.7 1h0m-7.5 .4h0m-2.3 .1h0m6.7 .1h0m-3.4 1h0m-3.8 .2h0m8.2 1h0m-.1 0h0m1.2 .2h0m-5.9 1.6h0m-.5 1.6h0m1.2 1.8h0m.9 .1h0m-.2 .1h0m2.4 .2h0m-6.9 .1h0m4.1 .7h0m.7 .2h0m3.8 .1h0m-7.7 1.3h0m5.6 .6h0m-.1 1.2h0m2.4 .4h0m-6.1 .2h0m4.3 .2h0m-2.1 .8h0m-.9 1.7h0m1 2.7h0m8.2 2h0m-3.9 .4h0m-1.4 1h0m-.3 .3h0m-1.1 .2h0m-4 .3h0m-6 .3h0m9.4 1.3h0m.1 .8h0m-3.4 1.1h0m-.1 1.5h0m2.8 .1h0m-.7 .6h0m3.6 .4h0m-3.9 .1h0m-1 .6h0m1.4 .2h0m-6.6 .1h0m6.8 1.8h0m5.4 .5h0m-4.5 .3h0m7.2 .1h0m-12.1 .3h0m6.5 .4h0m-4.1 .3h0m-3.8 3.5h0m5.4 .5h0m-7.9 2.1h0m4.6 .8h0m4 1.8h0m.1 1.6h0m.8 .2h0m1.1 1.4h0m-1.5 .2h0m-.9 .9h0m2.1 .2h0m-2.7 .1h0m4.3 .7h0m-4.5 .5h0m3.5 .5h0m-6.8 .4h0m.9 0h0m1.6 1.1h0m-.6 .9h0m-.1 0h0m-.3 .7h0m-1.2 1h0m-.7 1.6h0m.3 .3h0m3.9 1.5h0m-4.9 .3h0m1.3 .5h0m-1.2 0h0m9.8 .1h0m-8.7 1.9h0m1.8 .4h0m7.4 .4h0m-9.5 .9h0m1.3 0h0m8.8 1.3h0m-.6 1.3h0m-.7 1.4h0m-1.4 .2h0m-.4 .1h0m.5 .2h0m-4.1 .8h0m-.6 .3h0m-.7 2.4h0m-5.4 1.9h0m7.6 .7h0m-4 0h0m6.1 3.7h0m-4.4 4.3h0" stroke="rgb(255,0,0)"/><path d="M289.3 417h0m2.9 25.1h0m0 3.8h0m9.6 15.4h0m-11.9 4.3h0m3.1 6.2h0m-1.7 1.2h0m7.4 9.4h0m-6.9 .3h0m.2 2.9h0m2.8 .5h0m-7.4 1.7h0m5.6 3.5h0m3.7 0h0m.3 1h0m-3.2 1.1h0m-1.2 .1h0m.7 .3h0m-.8 1.1h0m4.5 2.9h0m-5.6 .4h0m6.1 1.4h0m-2.3 1h0m-.2 1.5h0m-.9 1h0m-1.7 4.1h0m.6 4.3h0m-1 1.9h0m5.5 6.8h0m-.6 1.6h0m-2.7 .1h0m1.4 3.4h0m-6 1.5h0m1.1 .2h0m-.2 2.1h0m7.2 1.7h0m-.8 4.4h0m-9.1 1.9h0m9.5 .5h0m-10.8 .2h0m11.8 .5h0m-1 .4h0m-2.8 .5h0m7 1.6h0m-8.4 .1h0m0 .3h0m9.2 0h0m-6.8 .2h0m-7.2 .8h0m1.7 .1h0m2 0h0m1.9 .4h0m3.9 .4h0m-2 .7h0m.2 2.7h0m-2 .8h0m2.4 2.5h0m.8 .5h0m2.9 2.2h0m-11.2 .7h0m6 2.5h0m.9 2h0m-1.4 2.3h0m-1.4 .2h0m-1 1.5h0m4.7 .5h0m3.2 1.6h0m-3.5 .5h0m2.4 .4h0m-3.7 .6h0m-3.9 1.9h0m5.8 0h0m-6.6 .3h0m5.2 0h0m-5.2 1.3h0m2.3 1.1h0m6.6 .9h0m-5.5 .1h0m2.9 .4h0m2.3 2.4h0m-5.4 .3h0m2.2 2.8h0m-1.5 .8h0m-1.6 .4h0m-1.1 1.4h0m-.3 .1h0m1.6 .5h0m3 1.5h0m-13.2 .3h0m6.5 .7h0m5.7 .1h0m2.8 .4h0m-5.9 0h0m.7 .8h0m2.7 .5h0m2.5 1.2h0m-5 .5h0m2.6 .4h0m-1.6 .1h0m1.6 .7h0m-1.9 1.6h0m.8 0h0m2 .7h0m-4.5 .2h0m-1.3 1.2h0m4.5 .4h0m3.3 .1h0m1.1 .7h0m-15.8 .3h0m5.8 .7h0m6.2 1.5h0m2.9 3.4h0m-6 .1h0m1.8 1.7h0m1.7 .4h0m1.7 1.3h0m-5.5 0h0m-4.6 2h0m6.2 .3h0m-1.7 .3h0m3.8 .9h0m4.2 .6h0m-6.5 .3h0m1.1 .2h0m-11.5 .2h0m4.2 0h0m11.6 .5h0m-8.9 0h0m10 .9h0m-.7 1.8h0m-5 .1h0m-1.2 .3h0m1.3 .2h0m-8.6 .5h0m13.7 .5h0m-1.2 .3h0m1.5 .5h0m-3.1 0h0m-1.7 .3h0m3 0h0m2.6 .2h0m-4.3 .5h0m-5.8 .3h0m1.8 .6h0m.4 0h0m5 2.6h0m-1.2 .4h0m-.3 1.3h0m-.7 .2h0m-.2 .3h0m-6.5 1h0m1.8 1.6h0m5.7 .2h0m-5.5 1.1h0m1.4 .1h0m3.8 1.7h0m-2.5 .3h0m-3.2 7.6h0" stroke="rgb(255,0,0)"/><path d="M300.5 414.7h0m-9.9 41.9h0m8 6.7h0m-4.4 .9h0m4 .3h0m-9.5 1.3h0m2 9.2h0m1 .8h0m.4 .5h0m-3.1 3.1h0m4.9 .8h0m.3 1.2h0m.3 3.7h0m-4 1h0m6.9 .9h0m-5.3 2.6h0m11.3 .7h0m-14.9 2.2h0m5.5 4.1h0m1.2 1.6h0m-4.2 .9h0m1 .3h0m5.6 .3h0m-3.5 .8h0m-.7 .9h0m.6 3.5h0m9.2 3.2h0m-11.4 1.4h0m.9 1.2h0m7.1 .5h0m-4.1 .2h0m-6.9 .4h0m1.3 .9h0m4.5 3.4h0m-1.1 .5h0m2.5 2h0m-1.2 .1h0m.7 3.2h0m0 .4h0m-1.4 2.5h0m1.4 3.5h0m-.4 .1h0m2.5 3h0m-.5 .3h0m-2.9 1.3h0m4.1 .1h0m-.7 .3h0m-.4 .2h0m-7.1 1.5h0m3.7 .4h0m1.5 2.1h0m-7.4 .1h0m8.8 .2h0m-3.3 .3h0m.5 2.8h0m-3.8 1.4h0m8.4 1.1h0m-9.3 .3h0m4.2 .3h0m3.3 .7h0m-3.1 .1h0m2.3 1.8h0m-1.2 .4h0m.3 .2h0m5.6 1.6h0m-14.2 1.8h0m3.6 .5h0m10.1 1.4h0m-8.4 .4h0m-3.2 1.5h0m8.1 .1h0m-5.9 1.2h0m2.5 .2h0m6 .9h0m-8.6 2.6h0m2.8 .5h0m-2.3 .9h0m1.7 .6h0m-4.5 .6h0m10 2.6h0m1.6 .1h0m-8 .3h0m3.6 .2h0m2.9 .3h0m-6.1 1.1h0m6.7 0h0m-6.1 .3h0m2.2 1h0m-.2 1.3h0m-4.2 1.6h0m4.9 .1h0m-2.4 .2h0m.2 .7h0m.7 .2h0m3.1 .2h0m-4.8 .3h0m2.4 1.3h0m-2.8 .4h0m-.3 .1h0m2.6 1.4h0m-1.8 .3h0m.4 .6h0m6.8 2.5h0m-7.7 2.9h0m2.7 .6h0m7.3 .4h0m-6.7 .1h0m-3.1 .2h0m5.2 .7h0m-7.6 .4h0m8 .2h0m1.6 .9h0m-6.8 1.9h0m2.3 0h0m-1.7 .9h0m2.3 0h0m1.9 .2h0m3.3 1.1h0m-5 1.5h0m-2.6 .3h0m.4 .5h0m5.5 0h0m-6.4 .6h0m6.1 1.1h0m-5.1 .8h0m5 .7h0m-2.7 .7h0m2.2 .7h0m-2 0h0m1.7 .4h0m-4.2 .2h0m.3 .6h0m.4 .1h0m-3.3 .5h0m3.9 1.4h0m-3.9 1.3h0m-1.5 .1h0m7.8 .1h0m-.1 .1h0m-4.3 .6h0m-1 .3h0m1.7 .6h0m1.5 0h0m-1.2 .1h0m-5.5 .2h0m3.5 0h0m4.3 .2h0m-3.5 .2h0m2.2 0h0m-2 .2h0m-2.7 .6h0m1.4 .5h0m-.3 .3h0m.3 0h0m3.1 .4h0m-2.7 .1h0m3.9 .5h0m-4.4 .1h0m-1.5 .3h0m11 0h0m-10.8 .7h0m6.6 1h0m-3 .2h0m2.8 .1h0m-4.7 0h0m5.5 0h0m-3.2 1h0m-4.9 .1h0m7.7 .2h0m-4 .8h0m-.4 0h0m-.6 .1h0m-6.5 .2h0m12.2 .4h0m-8.7 2.4h0m-.4 .5h0m.2 .7h0m8.3 3h0m-1.1 .7h0m-1.8 .3h0m2.1 .3h0m.1 .8h0m-3.9 .3h0m-1.8 .1h0m3 .2h0m2.5 4.6h0" stroke="rgb(255,0,0)"/><path d="M302.9 416.1h0m-4.2 32.9h0m-4.1 2h0m3.8 7.2h0m-5.1 4.4h0m6.3 3.4h0m-6.3 8.8h0m3.1 5.6h0m-4.5 .8h0m5.1 1.1h0m.7 .4h0m-4.4 2.9h0m2.4 .6h0m-3.6 .7h0m.6 .5h0m2.8 1.7h0m5.2 1.1h0m2.1 .1h0m-6.7 1.2h0m-.3 1.6h0m-2.1 2.9h0m-1.5 1.2h0m.2 1.2h0m-2.2 .1h0m4.7 1.8h0m-9.7 1h0m7 .1h0m1.9 1.8h0m-4.7 .3h0m1.2 2.4h0m7.4 0h0m-.5 .1h0m-5.5 2.1h0m.7 .2h0m.1 .3h0m3.2 1.1h0m-6 2.2h0m4.1 .6h0m4 .3h0m-3.4 6.4h0m-6.3 .5h0m4.2 0h0m-1.5 .8h0m-1.4 1.2h0m5.5 3.1h0m-1.3 .8h0m-3.5 4.8h0m4.8 .5h0m5.2 .3h0m-5.4 0h0m-1.2 .2h0m3.6 .3h0m-11.1 .4h0m.8 .6h0m3.1 2.7h0m6.9 .9h0m-6.1 .2h0m-3.2 1h0m3 .6h0m6.5 2h0m-2.1 .4h0m-5.5 .7h0m4.6 .9h0m-3.6 .6h0m-.4 .1h0m2.1 .3h0m-4.2 .5h0m4.9 1.6h0m3.8 .7h0m-4.4 .9h0m4.9 1.1h0m-6.6 2.7h0m-.9 .6h0m6.6 2.3h0m-.3 .3h0m-3.8 .2h0m1 3.4h0m5.8 3.4h0m-2.9 .6h0m.8 .7h0m-.6 1.6h0m-3.4 .7h0m.3 .6h0m3.5 2.4h0m7 3.3h0m-6.5 .6h0m-6.6 .7h0m7.9 4.2h0m-11.4 .8h0m11.3 2.5h0m-.7 .1h0m-6.8 .8h0m2.3 1.2h0m-3.5 0h0m-.1 .2h0m6.9 .7h0m4.6 2h0m-7.1 .8h0m4.2 .7h0m-3.3 0h0m-3.9 .8h0m1.5 .5h0m1.2 .7h0m-2.3 2.2h0m-.6 .5h0m6.1 .9h0m2.8 .6h0m-2 .1h0m.2 .1h0m-7.4 0h0m-4.8 .2h0m12.7 .3h0m3.4 1.2h0m-10.7 .1h0m8 1.9h0m-5.1 1h0m3.2 .2h0m-.2 .1h0m-.1 .7h0m-2.6 .2h0m-2.1 .1h0m-5 1.8h0m9 1h0m-1.7 .3h0m-.7 .7h0m4.3 .2h0m2.4 1.4h0m-5.5 .1h0m-3 .8h0m1 .2h0m2.5 .2h0m1.7 1.5h0m-.5 .9h0m-.8 .5h0m-8.5 .5h0m4.1 .5h0m2.1 .3h0m-5.9 0h0m2.5 .3h0m3.2 .1h0m-5.2 .7h0m5.3 .8h0m-.1 0h0m-2.2 .7h0m-.6 .6h0m7.7 .4h0m-1.2 1.6h0m-.1 .3h0m1.1 .8h0m-2.1 .8h0m-5.2 .6h0m.7 1.4h0m-8.3 .7h0m12.8 .2h0m-6.5 1h0m2.8 1.7h0m-2.3 .3h0m5.1 5.5h0m-2.3 3.1h0" stroke="rgb(255,0,0)"/><path d="M294.9 422.8h0m-2.1 14.7h0m3.5 20.1h0m-3.2 5h0m-1.9 1.8h0m5 3.7h0m-1.8 4.4h0m.6 1.4h0m-1.6 3.5h0m-1.6 2.2h0m-1.9 .7h0m5.6 2.8h0m-.8 .1h0m-.8 4.1h0m-.8 .1h0m-9.5 .6h0m8.4 4.1h0m2.1 1.1h0m-1.5 5.4h0m3.1 .5h0m-3.5 1.4h0m1.7 7.8h0m2.8 2.4h0m-4.6 .9h0m3.3 .2h0m-4.2 .3h0m.7 .6h0m-1.8 .4h0m7.7 .4h0m-4.4 1.9h0m.7 1.1h0m-6 4.6h0m5.3 2.8h0m2.9 .2h0m-7.1 .1h0m3.7 .4h0m-1 .8h0m2 1.5h0m-1.5 .5h0m1.8 2h0m-5.4 1h0m5.8 .2h0m-6.6 .1h0m1.7 .6h0m4.1 1.3h0m.7 .1h0m3.4 1.1h0m-2.2 .3h0m-5.4 .4h0m3.6 2.3h0m.9 .2h0m4.1 .8h0m-3.2 1.4h0m3.6 .1h0m-6.6 .3h0m-4.1 1.1h0m5.9 1h0m.4 2.4h0m6 1h0m-6.6 .1h0m2.1 .5h0m-2.2 1.7h0m.9 .2h0m-7.9 .1h0m8 .9h0m-4 1h0m-3.1 1.6h0m7.8 1.5h0m-7.1 1.2h0m2.3 .1h0m-2.5 0h0m3 1.3h0m-.3 0h0m2 1.3h0m-1.1 .8h0m3.3 1.1h0m.7 2.3h0m-1.6 .5h0m-.3 2h0m-2.4 .8h0m1.2 1h0m-3.1 .6h0m1.4 .3h0m1.5 1.7h0m-1.9 .6h0m6.8 .2h0m1 .1h0m-.2 .5h0m-6.3 .8h0m-2.4 .8h0m-2.1 1.2h0m4.2 .8h0m5.2 1.1h0m-.4 .2h0m-3.8 .3h0m2.2 .5h0m-.5 .3h0m.6 .1h0m-2.4 1.1h0m0 .5h0m-1 .3h0m5.3 1.6h0m-3.7 .1h0m-.3 .1h0m-4.2 3.1h0m5.2 .5h0m-6.2 .1h0m5.9 .8h0m-6.7 0h0m12 .1h0m-2.5 .5h0m-.1 .9h0m.4 1.4h0m-2.3 .5h0m-5.5 .1h0m5.6 .5h0m-2.8 1.5h0m-3.2 0h0m5.5 .3h0m-5.6 1.2h0m5.5 .3h0m4.1 1.1h0m-3.2 .4h0m-3.4 .5h0m.2 0h0m-1.2 .5h0m-.9 .2h0m4.4 1.5h0m1.5 .4h0m-.1 1.1h0m3.5 .4h0m-2.8 .5h0m-8 .6h0m.7 0h0m5.1 .7h0m-3.9 .7h0m2.7 .1h0m-1.9 .2h0m2.2 .1h0m-7.2 .2h0m8.7 1.9h0m-1.7 .5h0m2.4 .3h0m-2.8 .3h0m10.6 1.3h0m-5.1 0h0m-4.4 .6h0m-2.4 .4h0m-4.6 .7h0m7.6 .1h0m-2.1 .1h0m2.6 0h0m3.8 .2h0m-6.5 2.7h0m-2.6 .7h0m3 .4h0m.1 .3h0m5.9 1.6h0m2.1 .4h0m-8.1 .1h0m.8 .1h0m.1 .3h0m-7.1 1.6h0m10.7 2.2h0m1.4 .3h0m-3.4 .7h0m-.2 1.1h0m1.9 .2h0m-2.9 .2h0m-5.9 .9h0m6.5 .9h0m6 .3h0m-5.7 2.4h0m1.8 1.5h0m-5.1 3.3h0m2.9 3.1h0m-3.8 3.2h0" stroke="rgb(255,0,0)"/><path d="M296.6 426.9h0m-6.6 24.2h0m4.9 1.7h0m.9 .8h0m-8.3 18.6h0m3.6 5.8h0m10.2 .2h0m-10.6 .9h0m5.6 4.9h0m3.1 1h0m-2.4 .6h0m-5 2.1h0m1.2 3.9h0m.3 1.3h0m4.5 1.1h0m-1.8 2.8h0m-.6 .7h0m-5.1 .4h0m5.9 .3h0m3.1 .5h0m2.7 .6h0m-5.7 1.3h0m1.3 2.2h0m-5.4 1.9h0m1.5 2.9h0m1.1 1.8h0m.5 1.1h0m-7.2 .2h0m10 .7h0m-1.8 1h0m-.1 .5h0m-2.8 .3h0m-1.7 .7h0m6.9 .1h0m-6 7.1h0m6.4 1.1h0m-4.4 .2h0m.8 .4h0m-7.4 1h0m6.5 1.5h0m-5.4 .6h0m6 1.7h0m-4.6 2.3h0m4.6 .6h0m-2.7 .3h0m-1.1 1.8h0m4.5 .2h0m.5 .6h0m5.2 1.9h0m-6 1.3h0m-.8 1.3h0m-2.1 .3h0m-1.2 .4h0m5.9 1.3h0m-4.7 4.1h0m-1.7 2.4h0m2.6 .1h0m.7 3.9h0m-.4 .6h0m-7.1 .1h0m10.9 2.4h0m-5.6 1.5h0m-2.5 .3h0m8.3 .5h0m-7.4 .4h0m-2.7 .8h0m5.8 .3h0m4.8 2.1h0m-7.2 2.7h0m2.7 2.8h0m-3.9 2h0m12.3 0h0m-10.3 .6h0m-.2 0h0m-.8 .5h0m6.6 1.6h0m-8.8 .2h0m6.8 1h0m-.4 .5h0m-.3 .8h0m-4.6 0h0m4.5 1.3h0m-8.1 0h0m3.4 1.4h0m8 .5h0m-8.8 1.4h0m9.4 2.1h0m-5.5 1.8h0m.8 .1h0m-.4 .9h0m5.8 .1h0m-4.4 .7h0m1.3 0h0m2.3 1.2h0m-3.1 0h0m-2.8 .7h0m-2.9 .7h0m10 .3h0m-6.4 0h0m10.1 .2h0m-11.4 0h0m8.4 1h0m-10.1 .6h0m7.1 .2h0m-1 2.9h0m1.3 2h0m-5 .8h0m3.6 .3h0m-.3 2h0m-2.3 1h0m.8 1.3h0m-3.7 1.5h0m4.5 0h0m-5.2 1.1h0m5.1 .8h0m-3.5 .3h0m-10.1 .6h0m10.4 .7h0m1.4 .4h0m4.9 .8h0m-.3 .4h0m-11.1 0h0m6.7 .2h0m1 .1h0m1.6 .4h0m-6.3 .5h0m7.9 .6h0m-8.6 .4h0m4.8 .4h0m-8.1 .8h0m4.6 .3h0m-2.2 .3h0m7.4 .9h0m3.4 .4h0m-5.7 .4h0m-2.1 0h0m2.8 .2h0m-7 1.3h0m7.3 0h0m-.3 .8h0m1.9 .3h0m-6.7 .6h0m3.4 .9h0m5.6 .1h0m.4 .1h0m-2.3 .1h0m-1.3 2h0m2.9 0h0m-6.7 1.7h0m2.3 1.3h0m6.3 .2h0m.4 .9h0m-7.3 3.7h0m4.1 4.9h0m-9.5 2.2h0m.7 1.2h0" stroke="rgb(255,0,0)"/><path d="M292.5 440.8h0m-5.2 3.3h0m8.4 8.7h0m-4 4.2h0m1.2 7.6h0m8.3 2.5h0m-6.8 2.3h0m.1 1.6h0m4.8 .7h0m-3.8 11.1h0m-7.8 2.6h0m9.4 0h0m-4.4 .3h0m0 .7h0m3.8 1.3h0m-10.7 .3h0m6.7 .2h0m.1 .2h0m8.8 .9h0m-2.4 .4h0m-.6 1.5h0m-.5 2.3h0m-.8 .8h0m.3 .5h0m-1 4.4h0m-5.2 3.3h0m4.4 .2h0m.6 .7h0m.8 .2h0m-5 .1h0m-4.9 .7h0m6.4 2.3h0m2.7 1.1h0m-.3 1.2h0m-3.1 1.5h0m3.2 .4h0m-2.1 1.1h0m4.8 .1h0m-6.4 .3h0m-.3 .4h0m-2.6 2.8h0m3.9 1.3h0m-4.6 1.4h0m1.9 .2h0m1.3 1h0m1.9 3h0m-1.4 .1h0m4.8 .2h0m-3.6 1.5h0m2.3 .5h0m-3.2 2.2h0m3.2 .9h0m1.7 .3h0m-14.6 .4h0m9.9 .9h0m-.1 .3h0m-4.2 .6h0m5.1 .8h0m-4.5 .4h0m-.4 .9h0m6.8 .3h0m-12.3 .4h0m8.7 .5h0m3.2 2.5h0m-4.4 .9h0m3.1 .4h0m1 .7h0m-4.8 0h0m1 1.7h0m.7 .7h0m-1.2 .1h0m2.1 .8h0m2.8 .1h0m-1.4 .1h0m3.2 .4h0m-5.8 .1h0m10 1.3h0m-7.8 .6h0m2.5 .2h0m-3.6 1h0m6.7 .4h0m-5 3.7h0m-5.8 .5h0m13.8 1.5h0m-4.8 .8h0m-3.6 2.1h0m-2.4 .4h0m2.5 1.5h0m.3 .9h0m1.8 .5h0m-3 1.6h0m-1.6 .2h0m-4.2 1.5h0m.1 1.7h0m13.5 .6h0m-7.6 3.2h0m2 .3h0m-8.1 1.5h0m2.5 .6h0m5.7 3.4h0m-3.8 .6h0m6 1.7h0m-4.7 .9h0m3.2 2.5h0m4.8 .1h0m-4.9 .2h0m2.3 .5h0m3.7 .4h0m-10.7 1.2h0m-.4 .2h0m2.1 .5h0m1.2 .4h0m2.4 .1h0m1.9 .3h0m-10.2 .3h0m.4 .4h0m5.8 .2h0m6.1 1h0m-8.8 1.4h0m7.8 1.5h0m-4.6 .4h0m-1.2 .5h0m-4 .2h0m-3.5 .1h0m1.7 1.6h0m4.9 .8h0m1 1.1h0m-.5 1h0m1.2 .4h0m4.7 .5h0m-2.1 .4h0m-5.5 0h0m4 1.2h0m.4 1.8h0m-3.4 .1h0m-3.4 .1h0m5.1 .2h0m3.5 1.4h0m-5 1.9h0m1.4 1h0m-1.4 .4h0m2.1 .5h0m5.7 0h0m-4.1 .2h0m.9 .3h0m-11.5 0h0m10.4 1.5h0m-5.6 1h0m1.5 .1h0m-5.2 1h0m14.1 2.3h0m-12.6 .4h0m7.9 0h0m-.4 .2h0m-2 0h0m5 1.2h0m-4 .5h0m-.4 .3h0m4.4 .8h0m2.8 .7h0m-3.4 .4h0m1 .6h0m-2 1h0m-8.1 1.3h0m5.8 .4h0m1.5 .4h0m-3.3 1.5h0m-2.7 .3h0m3.2 .2h0m-1.6 4.2h0m.8 2.9h0m4.9 .5h0m-3.9 .2h0m-.1 .6h0" stroke="rgb(255,0,0)"/><path d="M289.9 440.2h0m-.3 6.9h0m2.5 2.2h0m10.6 14.4h0m-4.4 4.4h0m-3.2 2.2h0m-2.8 4.2h0m4 .6h0m-6.8 1.4h0m5.9 .3h0m4.3 .5h0m1.9 4.8h0m-2.3 2.8h0m-6.3 2h0m-6.5 .3h0m9.4 .7h0m-3.7 0h0m-2.9 2.1h0m7.6 1.7h0m-3.7 2.5h0m1.9 .3h0m-.6 1.4h0m2.8 .3h0m-5.6 .6h0m1.6 .1h0m.5 1.1h0m1.3 .8h0m-3.6 .9h0m7.5 1.6h0m-7.8 1.3h0m7.5 4.1h0m-4.3 1.2h0m-7 .8h0m4.2 1.2h0m1.8 .7h0m-3.5 .5h0m-9.5 .4h0m17.5 5.5h0m-3.3 0h0m-1.8 .4h0m6.3 1.9h0m-7.5 .4h0m4.3 0h0m-3.6 1.3h0m4.9 .6h0m-1.4 1h0m8.7 1.3h0m-11.4 .3h0m7.1 0h0m-2.2 2.2h0m1.7 .5h0m-8.1 .5h0m4.8 .2h0m3 .3h0m-9.7 .3h0m6 1h0m-.5 .3h0m-2.5 .7h0m7 .6h0m-2.7 .8h0m-.6 3.2h0m-8.8 .3h0m11.3 .6h0m-2 .2h0m-.2 .2h0m-6 .8h0m-2.2 1.1h0m5.4 1.6h0m0 .8h0m1.5 .2h0m-6.9 .9h0m5.1 1.5h0m1.8 2h0m-2.7 .7h0m7.3 .5h0m-9.5 .6h0m11.9 .5h0m-15.8 0h0m7.9 .9h0m-3.7 1.4h0m.8 .2h0m1.2 .1h0m5.2 .1h0m-7.3 .7h0m1.3 1.1h0m1 .7h0m-3.9 .1h0m3.1 .3h0m2.6 1.9h0m-5.2 2.1h0m1.6 .7h0m-9.3 .3h0m10.7 .4h0m3.3 .6h0m-7.8 2.4h0m10.5 1.6h0m.2 .6h0m-6.3 .5h0m2.3 .9h0m2 1h0m-5 .6h0m4.6 .3h0m-1.9 0h0m.5 1.4h0m.9 .6h0m-9.8 .2h0m6 1.2h0m.9 .9h0m5 1.2h0m-4.2 0h0m-1.1 2.7h0m3.6 1.3h0m-5.3 3.9h0m2 .3h0m-5 .4h0m-.2 1h0m1.6 .2h0m4.4 0h0m.6 1.2h0m.9 .2h0m.3 .2h0m-5.7 .2h0m4.5 .3h0m0 1.7h0m-1.1 .1h0m4 1.8h0m-3.1 .9h0m-5.6 .8h0m7.4 .4h0m3.8 1.5h0m-5.8 0h0m-3.9 .6h0m5.1 .3h0m-2 .2h0m.2 .2h0m6 .6h0m-6.2 .3h0m.7 1.8h0m-1.9 .9h0m3.3 2.2h0m.5 .2h0m-14.4 0h0m11.6 .6h0m-.7 .2h0m-3.8 .4h0m8.9 .2h0m-5.2 .9h0m-1.6 .3h0m3.6 .5h0m-1.1 0h0m3.5 .3h0m-6.2 .6h0m2.4 1.2h0m-1 .4h0m-1.5 .2h0m4.7 .3h0m-4.7 0h0m.5 .4h0m4.7 .2h0m-4.4 .7h0m3.1 .2h0m-2.9 .8h0m-7.1 .1h0m8.9 2.2h0m-5.3 .3h0m7.1 .4h0m1 .4h0m3.1 0h0m-8.7 .5h0m-2.9 1.5h0m5.8 .4h0m2.8 .2h0m2.1 .9h0m-3.7 1.8h0m3.2 .8h0m-5.8 .2h0m.1 0h0m-2.1 .3h0m8.5 1.7h0m-10.4 .8h0m5.4 1.5h0m5.3 2.8h0m-4.4 6.6h0" stroke="rgb(255,0,0)"/><path d="M295.3 424h0m-11.3 25.4h0m11.3 8.8h0m-3.5 2.8h0m-.3 5.2h0m8.6 6.7h0m-4.2 3.9h0m1.5 .6h0m1.7 3.3h0m-5.7 .3h0m-5.5 7.6h0m12.4 3.2h0m1.8 1.2h0m-6.5 1h0m-2.8 5.1h0m6.2 1.2h0m-6.6 .3h0m.2 1.5h0m-6.8 1.7h0m14.3 .9h0m-6.4 .7h0m2.5 .6h0m1.5 1.1h0m-2 .3h0m-1.9 4.8h0m-4.1 .1h0m5 1.9h0m-2.3 3.7h0m1.3 .5h0m-2.4 1.1h0m5 4h0m1.1 .3h0m-5 2.1h0m-2.7 3.4h0m3.3 .8h0m4.9 1.1h0m-8.3 0h0m4.6 1.5h0m-1.8 .2h0m-.6 1.5h0m.3 .2h0m3.8 .4h0m3.1 0h0m-2 .1h0m-5 .3h0m6.2 1.3h0m-.5 .4h0m-1.2 .9h0m5.7 1.4h0m-8.7 1.3h0m-4.6 .4h0m-1.5 .7h0m3.6 1.1h0m-.5 .4h0m-.5 2.1h0m5.2 2.3h0m1.7 .2h0m-2.3 .3h0m.5 2.5h0m-3.3 .5h0m-2.5 2.9h0m7.5 .1h0m-3.2 .1h0m1.7 .6h0m-1.5 2.9h0m5.3 1.4h0m-5.5 .4h0m.4 .7h0m-2.1 .4h0m5.8 .1h0m-7.8 .3h0m6 .6h0m-3.9 .3h0m-.4 .2h0m4.5 0h0m-4.6 .7h0m-4.9 .9h0m10.7 3h0m-7.2 .5h0m12.2 .8h0m-7.2 1.3h0m-2.2 .1h0m7.1 1.6h0m-5.7 .7h0m1.5 0h0m4.2 .4h0m-6.7 1.2h0m-.1 .4h0m.4 0h0m-.7 .1h0m0 .6h0m-9.9 .5h0m10.3 0h0m-1.2 .1h0m.9 .8h0m2.5 .4h0m1.2 .1h0m-11.8 1.2h0m8.7 1.7h0m1.8 3h0m-.7 2.1h0m-1.8 .8h0m6 .4h0m-12.9 1.5h0m6.4 1.1h0m3.9 .2h0m1 .1h0m-7.3 .2h0m7.6 1.1h0m-8 1.2h0m6.5 .2h0m.8 .3h0m-8.7 .2h0m5.2 0h0m5.6 0h0m.7 .1h0m-3.9 .5h0m-5 0h0m1 1.3h0m-.7 .7h0m.8 1.1h0m-.9 0h0m3.4 .2h0m4.5 .3h0m-7.7 .5h0m2.4 1.7h0m1.8 .1h0m-16.3 .2h0m13.9 .5h0m-5.5 2.2h0m10.8 .8h0m-7.9 .7h0m5.2 0h0m.1 .7h0m-3.2 1.7h0m5.9 .7h0m-6 1.8h0m6.2 .6h0m-5.4 .9h0m4.2 .3h0m-5 .3h0m1.6 1.2h0m2.5 .2h0m-2.3 1h0m-1.9 1.1h0m1.3 .2h0m-1.8 .6h0m3.1 .8h0m-2.2 .8h0m1.5 .2h0m-.8 .1h0m-3.4 2.1h0m13.6 .3h0m-9 1.7h0m-1.7 1h0m7.6 4.9h0m-12.6 1.4h0m15.7 .2h0m-11.4 2.9h0m4 .8h0" stroke="rgb(255,0,0)"/><path d="M295 443.9h0m-.4 1.1h0m-4.9 1.7h0m14.1 2.8h0m-11.9 8.1h0m1.5 2.6h0m.4 1.7h0m1.3 .1h0m-2.8 6.4h0m2.7 2.4h0m.4 2.1h0m.9 1.7h0m1.8 .4h0m-5.2 4.3h0m-.7 .4h0m-.9 .6h0m6 .1h0m-5.5 .5h0m.5 1.4h0m1.7 .4h0m.4 3.5h0m.4 .3h0m-.4 2h0m10.9 1.2h0m-9.7 2.8h0m-2.4 0h0m-1.1 2.5h0m-8.5 1h0m15.2 .7h0m-1.4 .5h0m.7 .1h0m-1 .3h0m-8.2 .3h0m8 1h0m4.6 2.9h0m-6.4 1.5h0m-2 2.9h0m-1.1 .6h0m-.2 .3h0m-4.1 1h0m-.2 .6h0m15.3 1.3h0m-7.7 1.6h0m-1.8 .1h0m3.6 2.1h0m-6.7 .8h0m6.9 .3h0m-6.5 .3h0m7.4 2.5h0m-3.3 .5h0m2.8 .2h0m-5.3 .2h0m-.9 .6h0m3.3 .1h0m4 0h0m-4.3 .8h0m-3.1 .6h0m5.8 1.5h0m-1.5 .4h0m-1.6 .3h0m.5 2h0m-5 .2h0m1.6 2.9h0m-.7 .3h0m0 0h0m1.7 .4h0m-.2 2.9h0m6.1 .9h0m-2.1 0h0m7.3 1.7h0m-8.9 2h0m0 .3h0m.3 .7h0m6 0h0m-12 2.6h0m7.6 .9h0m-4.1 .3h0m1.7 .4h0m4.8 1h0m-2.6 .5h0m-7.3 .7h0m-1.3 .3h0m4.1 0h0m2.8 .5h0m-2.1 2.5h0m5.8 7.2h0m.7 1.1h0m-5 .8h0m5.1 .4h0m-4.2 .7h0m-3.7 3.3h0m4 .9h0m2.5 .9h0m-4.2 .7h0m-.8 2.6h0m4 .3h0m1.1 1.6h0m-3.2 .3h0m-5.7 .9h0m-1.7 1.2h0m6.5 .4h0m-3.8 1.1h0m10.3 .5h0m-6.9 1.5h0m-1.2 4.2h0m.6 .3h0m-1.8 .2h0m4.1 .3h0m-1.4 .3h0m-5.2 .1h0m4.9 .8h0m-1.9 1.8h0m5.2 .5h0m-4.6 .1h0m6.1 .1h0m-14.9 2.7h0m20.6 1h0m-9.7 .4h0m1.6 .1h0m4.8 .7h0m-5.6 .8h0m7.6 .2h0m-14.1 2.9h0m8.5 .5h0m-9.2 .2h0m9.2 .1h0m-3.3 .1h0m2.9 .3h0m-4.6 .3h0m3.9 .9h0m-.9 .2h0m-.4 .5h0m.2 .1h0m3.7 1.8h0m-6.3 .3h0m9 .1h0m-6.5 .2h0m3.2 .7h0m-5.4 0h0m-4.8 .5h0m8.8 .4h0m-9.2 .1h0m4.8 .4h0m1.9 .8h0m1.9 1.2h0m6.7 1h0m-9.1 .4h0m-4.6 .2h0m13.5 0h0m-9.6 .2h0m.9 .6h0m3.4 0h0m-1.7 .1h0m-2 .6h0m-7.3 .3h0m1.7 0h0m6.6 1.1h0m-2.7 .1h0m3.6 .5h0m-4.6 .5h0m6.7 .2h0m-.4 .3h0m-4.1 .1h0m3.9 1.5h0m-2.3 .3h0m3.7 .6h0m-1.3 1h0m.4 0h0m-6 .2h0m-.8 2.1h0m7.3 1.1h0m-4.4 2h0m-.7 .2h0m4.5 .8h0m-3.2 .7h0m-.4 .2h0m-.4 1.1h0m.9 .4h0m-.8 .4h0m-1.4 1.1h0m9.8 .2h0m-13 .6h0m-1.6 .3h0m3.3 .4h0m6.9 7.5h0m.8 .8h0m3.5 4.4h0" stroke="rgb(255,0,0)"/><path d="M305.4 449.8h0m-9.1 4.5h0m-5 6.6h0m1.9 5.4h0m2.5 3.4h0m-.9 1.1h0m-3 1.9h0m3.2 1.3h0m1.2 .7h0m-4.5 6.1h0m7.8 4.3h0m-3.6 1.5h0m.7 .1h0m-8.1 1.5h0m1.6 3.4h0m4.7 .7h0m-3.3 .5h0m-5.4 .7h0m12.2 2.2h0m-1.9 1.3h0m-3.9 .5h0m2.3 1h0m4.1 .1h0m-8.5 2.2h0m-4.4 3.7h0m7.8 1.5h0m-1.5 5.4h0m1.5 .1h0m-2.7 1.1h0m4.1 1.5h0m-3.3 4.9h0m5.2 3.5h0m-1.9 .6h0m-3.2 .8h0m-3.4 1h0m4.9 .1h0m1.9 .7h0m2.2 .7h0m2.3 .1h0m-10.1 .3h0m5.9 .6h0m-3.7 .8h0m-.7 1h0m7.6 1.5h0m-4.3 .4h0m-.8 1h0m.5 1.1h0m.7 0h0m-2.6 2h0m-1.9 1.1h0m10.9 2.4h0m-8.7 .1h0m-2.7 .1h0m0 .6h0m5.8 1h0m2.4 .1h0m-2.3 .1h0m-1.9 0h0m-2.8 2.2h0m2.5 .9h0m3.3 .2h0m-5.6 2.3h0m2.4 .9h0m-3.6 .3h0m5.3 .4h0m-7.2 8.1h0m7.7 .3h0m-3.8 .6h0m-4.2 .2h0m8.2 .1h0m-5.6 1h0m8.3 .4h0m-5.5 .2h0m-4.3 .3h0m4.2 1.1h0m3 .2h0m-6.9 1.9h0m7.5 2.3h0m-4.3 4.9h0m-1.2 .1h0m5.7 1.2h0m-2.1 1.4h0m-2.9 .8h0m-7.1 .2h0m8.3 .5h0m1.3 .4h0m1.7 .9h0m2.7 1.1h0m-6.9 1.9h0m2.1 2.5h0m-3.5 0h0m8 1.1h0m-2.2 0h0m-11.6 0h0m2 .5h0m.9 .3h0m5.2 .3h0m5.2 .8h0m-3.3 1.6h0m1.4 .2h0m-3.6 .1h0m-1.8 .9h0m6 .2h0m-7.6 1.5h0m2.1 1h0m2.9 1.6h0m.2 .1h0m-1.3 .7h0m1.6 0h0m8.1 .1h0m-9.2 .2h0m2.6 0h0m-4 .6h0m.9 .1h0m-4.7 0h0m10.4 .3h0m-6.6 1.1h0m1.1 0h0m-8.4 .2h0m9.5 0h0m2.2 .1h0m-4 1.1h0m-4.5 .2h0m4.8 .6h0m1.8 1.8h0m1.4 .1h0m-5.6 .7h0m3.1 .8h0m2.5 1.2h0m2.3 .3h0m.7 1.9h0m-4.9 .1h0m-2.1 1.2h0m3.9 .6h0m2.3 1.8h0m-5.2 .7h0m-4.9 .3h0m3.6 .4h0m6.3 .1h0m-1 .2h0m-4 .3h0m7.1 1h0m-13 .1h0m10 0h0m1 1.6h0m-3.6 .2h0m-2.7 1.2h0m2.3 1h0m1 .5h0m1.6 2h0m-7 .6h0m2.2 .1h0m2.3 .1h0m-.3 1.5h0m-.1 .3h0m2.9 .1h0m-2.7 .8h0m1.5 .6h0m-3.3 1.1h0m3.8 2.5h0m-.2 .6h0m3.8 .6h0m-9.4 4.3h0m4.8 0h0m-.6 5.7h0m-4.4 7.7h0" stroke="rgb(255,0,0)"/><path d="M297.2 449.6h0m1 4.6h0m-2.6 8.4h0m-2.6 2.8h0m-3.3 1.9h0m.3 1.1h0m8.5 2h0m-5.7 .4h0m-3.9 1.8h0m3.4 5h0m1.8 6.8h0m2.9 5.9h0m3.5 2h0m-.2 1.3h0m-11.6 .2h0m2.2 .4h0m5.9 1h0m-2.9 .9h0m-5.8 .6h0m1.7 .1h0m4.6 .3h0m1.3 .5h0m-4.8 .2h0m7.5 .4h0m-.9 1.5h0m-14.8 .3h0m18.2 .2h0m-4.7 1h0m-3.1 .2h0m-.8 .9h0m5 1.1h0m-2.5 .6h0m-1.2 .4h0m-4.7 1.9h0m2.8 3.3h0m8.7 2.7h0m-7.5 1.3h0m2.3 3.2h0m1.1 3.4h0m4.4 2.3h0m-5.8 .3h0m-5.9 1.6h0m4.6 .6h0m4.3 .7h0m5.4 .1h0m-12.6 2.2h0m-4.4 2.8h0m13 .8h0m-1.7 2h0m-2.2 .1h0m-1.8 0h0m-3 1.7h0m5.9 .3h0m-3.4 .8h0m3.1 .2h0m2.2 0h0m-4.7 3.2h0m-1.2 2.1h0m-5.5 1.2h0m8.4 1h0m-.1 0h0m-.3 2.2h0m-4.9 .1h0m8.9 .5h0m-7.4 .1h0m-3.5 .7h0m6.5 .2h0m-.8 0h0m13.7 .4h0m-7.3 2.8h0m-9 .1h0m3.7 .5h0m1.2 .3h0m2.5 .4h0m-3.4 .7h0m2.4 1.1h0m2 .6h0m-4.6 .5h0m4.4 1.6h0m-6.5 .9h0m8.4 .4h0m-12.3 .9h0m6.2 .8h0m-3.2 .6h0m-1.6 .6h0m5 .3h0m-3.1 0h0m3 .9h0m1 .6h0m2.8 2.2h0m-4.4 .4h0m-2.6 .1h0m-.2 .4h0m1.8 1.9h0m1.4 .2h0m-4.4 1.2h0m7.7 .1h0m-6.3 2h0m6.7 0h0m-10.3 .9h0m-1.5 .1h0m12.9 1.6h0m-9.6 .8h0m-4.2 1h0m4.5 0h0m-2.7 2.1h0m2.9 .3h0m5.3 .5h0m5.7 .5h0m-7.5 1.5h0m2.1 .6h0m-1 1.8h0m.9 1.4h0m-4.8 .4h0m4.1 .4h0m1.8 .2h0m-2.1 .9h0m2.4 0h0m.7 .8h0m-2.2 .1h0m-6.5 2.1h0m5.3 2.2h0m.4 0h0m-6.5 .1h0m7.9 .2h0m2.1 1.8h0m-6.6 1.2h0m1.4 0h0m6.6 2.9h0m-9.9 .2h0m3.8 .9h0m1.7 .2h0m-5.1 .3h0m1.6 .1h0m4.9 .5h0m-1.4 .6h0m2.2 1.2h0m-4 .6h0m4.8 .1h0m-7.1 .1h0m6.6 .9h0m-4.2 .5h0m2.6 .2h0m-3.5 1.6h0m.5 .1h0m1.7 .2h0m-1.6 .3h0m-2.3 1h0m-.3 1.4h0m4.4 .7h0m-4.3 .1h0m-3.1 1h0m1.5 1.3h0m6.8 .5h0m-2.8 .4h0m3.8 1.5h0m-4 .5h0m.9 1h0m-4 1.2h0m.6 2.5h0m-.2 .4h0m-4.7 .6h0m5.3 1.1h0m-5.9 2.1h0m12 .2h0m-1.4 1h0m1.5 1.1h0m-2.2 .2h0m3.3 4.1h0" stroke="rgb(255,0,0)"/><path d="M287.5 445.9h0m13.2 4.9h0m-1.9 6.1h0m-5.1 .7h0m-1.7 8.8h0m1.1 .9h0m-1.8 10.3h0m6.9 3.9h0m-1.8 1.7h0m.4 2.1h0m-9.8 7.8h0m7.9 2.1h0m3.5 .4h0m-5.9 .8h0m-3.6 1.2h0m5.1 1.3h0m2.3 2.3h0m.5 2.5h0m-4.5 2.1h0m.5 4.9h0m4.5 .1h0m-3.5 .2h0m-3.1 2.4h0m8.1 .2h0m-5.9 2.5h0m-2.4 .5h0m5.9 2.9h0m1 3.8h0m-3.9 3.8h0m6.9 1.4h0m-5.3 0h0m-1.2 .2h0m-4 .8h0m5.3 .5h0m.4 1.2h0m-5 .6h0m4.6 1.3h0m4.2 3h0m-12.7 1.5h0m9.5 1h0m-6.8 .4h0m7.6 .1h0m.9 0h0m-7.3 .3h0m1.9 .3h0m-2.8 1.9h0m2.8 1.3h0m-2.2 .5h0m1.5 .5h0m1.4 3.3h0m1.5 .2h0m-3.4 .3h0m8.8 .2h0m-8.6 .7h0m-5 0h0m11 3.6h0m-.3 .5h0m-6.5 .8h0m0 0h0m8.4 1.6h0m-9.5 .7h0m4.8 .9h0m-.2 .1h0m-1.8 1.1h0m.5 1.6h0m-2 1.1h0m.6 1h0m7.3 3.3h0m-10.5 .3h0m4 1.4h0m5.5 .3h0m-7.9 .6h0m2.8 .3h0m-.4 1.1h0m1.6 .1h0m-4.4 1.4h0m1.6 .6h0m1.1 .6h0m2.6 0h0m2.5 1.5h0m3.4 3.8h0m.2 .1h0m-9.2 .2h0m7.5 1.2h0m-.8 1.4h0m.4 .4h0m-7.9 2.2h0m3 .2h0m-6.9 .2h0m5.6 .4h0m-2.8 .1h0m12.6 .6h0m-11.4 .3h0m-2.2 2.6h0m4.2 .5h0m2.3 .6h0m-3.6 1.2h0m6.7 .3h0m-5.3 0h0m2.1 .9h0m-7.2 .1h0m2.9 .7h0m-3.1 .6h0m5.8 .1h0m2.2 .1h0m-2.2 .8h0m-6.4 0h0m6.1 .4h0m1.8 .1h0m-.6 .9h0m3.7 1.9h0m-3.9 .1h0m-3.4 .5h0m4.5 .7h0m-5.9 0h0m-1.3 .1h0m12.2 .1h0m-.4 .8h0m.6 .9h0m-2.2 .8h0m-12.1 1.8h0m2.9 .8h0m5.8 0h0m3.1 .2h0m-8.9 .2h0m1.8 .7h0m4.1 .9h0m-6.4 1.3h0m6.9 0h0m-2.2 .4h0m1.7 .3h0m2.1 .3h0m-2 .3h0m2.5 .1h0m-9.9 .6h0m8.5 .3h0m-.5 1h0m-2.6 1h0m-.7 .4h0m-2.2 .7h0m1.1 .4h0m1.4 .1h0m4.8 .1h0m-1.2 .2h0m-7.9 1.2h0m2.6 .1h0m-2.6 1.1h0m5.1 1.2h0m1.8 2.3h0m1.1 .9h0m-1.4 1.3h0m3.3 1.7h0m-9.2 1.4h0m2.3 8.2h0m4.6 .2h0m-.1 2.6h0" stroke="rgb(255,0,0)"/><path d="M294.2 455.4h0m-.8 2.3h0m.1 1.1h0m-.3 7.4h0m6 9.1h0m-5.7 .1h0m-2.1 7.3h0m9.6 .4h0m-6.1 2.8h0m1.7 0h0m-1.4 .6h0m-4.6 .5h0m8.4 .3h0m-8.8 1.3h0m7.8 5.9h0m-2.2 1.1h0m-1.8 4.8h0m2 4.3h0m-.8 .3h0m0 .3h0m2.9 3.7h0m-.4 .3h0m-2.8 .3h0m-1.9 1.2h0m-1 1.1h0m.1 1.5h0m5 2.4h0m-10.3 1.3h0m8.2 2.1h0m-1.6 1.4h0m-.7 .2h0m7.1 1.8h0m-7 .9h0m-.4 3.5h0m1.9 1.5h0m1.1 0h0m-5 2.1h0m8.4 .2h0m-10.5 .9h0m4.3 .4h0m5.8 .3h0m-8.9 .4h0m-2.4 .5h0m10.2 .1h0m.7 1.9h0m-2 0h0m-7.5 2.2h0m5.1 .2h0m-2.9 2.8h0m-1.7 .8h0m9.1 1.3h0m-2.6 .4h0m-2.4 .7h0m3.8 .6h0m-3.4 .8h0m4.3 .2h0m.2 .9h0m-3.8 .6h0m.5 .8h0m-.1 .4h0m0 1.4h0m-5.1 .6h0m4.8 .3h0m-1.9 .3h0m3.7 .8h0m-3.3 .8h0m-4 .4h0m5.2 2.1h0m-.2 .3h0m6.1 1.5h0m-6.1 .7h0m-3.4 .3h0m8.5 .2h0m-6.4 .3h0m-.4 1.3h0m-.4 1h0m2.3 .1h0m3.3 .1h0m-10.4 1.9h0m7.2 .1h0m4.9 .7h0m-7.6 .1h0m3.7 .2h0m-3.2 2.3h0m2.5 .2h0m1.7 1.7h0m1.7 .3h0m.3 .3h0m1.2 .5h0m-6.5 .8h0m.9 .4h0m-1.5 1.6h0m2.7 .4h0m.5 .2h0m-5.1 0h0m8.6 .5h0m-4 .2h0m-2.4 .1h0m1.1 .8h0m2.1 .1h0m3.1 1.3h0m6.9 1.1h0m-3.8 1.7h0m-11.4 2.8h0m-.8 .3h0m1.6 .9h0m-2.2 .3h0m6.2 0h0m1 .3h0m-4.6 .8h0m4.1 0h0m1.8 .3h0m-5.7 2.4h0m2.9 .1h0m2.2 .1h0m-.6 0h0m-7.9 .1h0m2 .8h0m7.3 .2h0m-6.5 .2h0m6.5 1.3h0m-9.7 .9h0m3.1 .7h0m1.8 .4h0m4.8 0h0m-8.3 1.1h0m6.3 .7h0m-5.2 0h0m6.4 .9h0m-7.5 .1h0m-2.5 .1h0m9.9 .5h0m.2 .9h0m-4.4 2.8h0m9.9 .1h0m-4.9 .8h0m-8.6 .8h0m5.4 4.5h0m1.4 1h0m1.5 .3h0m-5.3 1h0m3.9 .4h0m-4.4 .1h0m1.9 .9h0m2.5 .7h0m-5 .1h0m4.4 .2h0m6.4 .3h0m-19.8 .3h0m8.4 .1h0m1.8 .3h0m3.5 .1h0m-2.2 .2h0m-6.6 .8h0m16 1.3h0m-10.5 1.2h0m3.5 .2h0m1.4 1.9h0m.7 2.2h0m-7.5 .1h0m9.9 .2h0m-10.2 1.4h0m2.9 .8h0m-4.8 3.2h0m4.3 .8h0" stroke="rgb(255,0,0)"/><path d="M291.6 456.5h0m-1.5 10.3h0m1.6 .7h0m-4.7 1.3h0m13.1 2.6h0m-7.9 2h0m6.5 5.1h0m-10.7 4.7h0m16.1 4.1h0m-3.9 1.1h0m-7.1 2.6h0m4.2 1.1h0m1.6 .3h0m-4.7 .3h0m-1.5 1.9h0m-3.6 2.1h0m2.3 2.4h0m1.8 .8h0m-1.5 .5h0m-4.8 1h0m1.6 .2h0m7.8 2.3h0m2.9 4.7h0m.5 3.5h0m-11.3 .1h0m7.3 .1h0m-2.4 .2h0m3.2 .6h0m-2.8 .2h0m-2.5 2.9h0m1.9 2.3h0m-2.2 .4h0m-1.9 .5h0m5.7 .8h0m-2.1 .8h0m1.8 .8h0m.2 .7h0m-3.8 0h0m6.6 .3h0m-7.7 .4h0m4.5 .4h0m.1 .1h0m-2.8 2.9h0m5.4 2.9h0m.2 1.2h0m6.4 1.4h0m-9.8 .9h0m8 .5h0m-3.5 1.6h0m-4.3 .3h0m1.3 .1h0m2.8 .1h0m-7.3 2h0m11.2 6h0m-10.2 3.7h0m3.5 .2h0m-.3 .2h0m-2.4 .1h0m2.9 1h0m-.2 .6h0m-4.3 0h0m-3.2 .1h0m8.6 2h0m-3.5 1.3h0m-1.9 1h0m.4 1.1h0m.1 .3h0m.2 .8h0m3.7 .2h0m-2.7 1.1h0m3.8 1.4h0m-1.4 .8h0m2.3 2.6h0m-8.5 1h0m1.7 .3h0m6.1 .7h0m-4.3 1.3h0m-1.9 2.5h0m4.3 .3h0m-.9 0h0m-1.5 .2h0m7.3 .3h0m-10 2.3h0m.8 .9h0m5.2 1.1h0m-2.7 2.4h0m3.2 .3h0m-5.9 .8h0m9.3 .6h0m-8.3 .5h0m9.9 .2h0m-13.2 .1h0m.6 2.2h0m5.5 1.1h0m.8 .3h0m-2.9 .6h0m2 .4h0m-1.4 3.8h0m1 1h0m-2.4 1.1h0m3 .1h0m5.6 1h0m-8.8 .2h0m5.7 2.1h0m-.6 2.2h0m.5 .2h0m-6.5 .5h0m2.2 .3h0m8.8 .9h0m-9.9 .4h0m2.9 .2h0m-4.2 .8h0m12.2 1.2h0m-6.5 .4h0m1.1 .5h0m-2.7 .2h0m-3.2 1.8h0m5.3 1.3h0m-2.8 .6h0m-2.2 .5h0m-2.2 0h0m3.7 .4h0m-2.2 .4h0m5.5 .1h0m.3 .1h0m-5.2 0h0m.1 1.3h0m.1 .8h0m1.7 .2h0m3.5 1.6h0m-2.7 .1h0m2.1 .5h0m-.4 1h0m-6.1 .5h0m-2.8 .5h0m6.8 .6h0m-4.6 .5h0m4 1.2h0m.2 .2h0m2.7 .1h0m-2 .2h0m-2.8 .6h0m5.8 1.1h0m2.5 2.8h0m-8.6 .9h0m-.7 1.8h0m5.8 0h0m2.3 .7h0m-9.7 .3h0m7.9 7.4h0m-1.3 .7h0" stroke="rgb(255,0,0)"/><path d="M295.5 442.2h0m1.4 6.3h0m-2.1 3.5h0m8 3h0m-6.2 4.5h0m-11.6 4.4h0m2.1 8.7h0m-2.8 7.1h0m8.4 1.3h0m.1 1.5h0m-2.9 .8h0m2.4 1.1h0m-6.6 0h0m13 .5h0m-3.4 2h0m4.7 2.9h0m-5.9 3.4h0m.6 .5h0m3.6 1.3h0m-1.5 .4h0m-6.4 1.4h0m11.5 .1h0m-11.9 1.1h0m6.5 .2h0m-2.7 .6h0m4.2 1.8h0m2.5 .6h0m-5.6 2.3h0m1.5 2.4h0m1.7 .6h0m-8.5 .7h0m9 2.6h0m-4.4 2.3h0m-3.3 1h0m6.1 6.9h0m-4.9 .7h0m4.9 2.6h0m-.3 2.2h0m.9 .1h0m-7.3 .8h0m3.1 .3h0m-3 1.5h0m.3 1.4h0m4 1.9h0m1.2 .3h0m.9 1.3h0m-1.9 2h0m2.6 0h0m-6.1 .1h0m7.1 .1h0m-6.5 0h0m2 .4h0m-2.1 .2h0m6 .2h0m-.1 .1h0m-3.6 .3h0m-1.4 1.9h0m1.4 .9h0m-3.7 .4h0m6.9 .9h0m-4.1 1.5h0m-3.2 .4h0m8.5 .1h0m3.7 1.5h0m-19 1.2h0m11.3 0h0m1.5 .2h0m-.9 .9h0m-6.6 1.1h0m10.9 .1h0m-4.8 0h0m-2.5 .6h0m4.7 1.7h0m-4.5 2.1h0m6.1 0h0m-1.8 .3h0m2.9 .8h0m-7 .8h0m1.1 1h0m3.2 .1h0m1.4 .2h0m1.7 1.3h0m-13.6 .1h0m3.5 0h0m4.9 1.6h0m-4.1 .7h0m5.3 .5h0m-8 .3h0m1.6 0h0m1.6 1.3h0m-1 2.1h0m5.9 .8h0m0 0h0m-7.2 1.9h0m4.7 .8h0m1.8 .9h0m2.8 .6h0m-1.4 .7h0m-4 .4h0m4.2 .4h0m.6 .1h0m-8.3 .9h0m3 2h0m8 .5h0m-6.3 1.1h0m2.4 .9h0m-3.9 1.3h0m7.3 .7h0m-7.4 0h0m.1 .1h0m-5.5 .7h0m6.1 2.1h0m.4 .5h0m.2 1.3h0m.4 .3h0m.5 .6h0m9.6 1h0m-12.3 1.2h0m6 .1h0m-5.7 .1h0m8.7 .6h0m-5.7 .2h0m2.2 .1h0m-.4 .4h0m-5.1 .1h0m1.1 .9h0m-10.7 .1h0m11.5 .3h0m-7 .6h0m5.1 .1h0m0 .2h0m-3 .9h0m12.6 .8h0m-4.9 .1h0m.4 2.2h0m-3 .2h0m-4.4 .4h0m3.3 .2h0m2.7 .3h0m-3.1 1.4h0m2.1 .9h0m-8.2 .5h0m6.2 1.2h0m3.9 .8h0m1.3 .9h0m-8.1 .2h0m1.4 1.2h0m-.5 .4h0m2.8 1.5h0m2.3 .6h0m-2.8 .6h0m1.4 .9h0m-4.5 .2h0m5.9 .1h0m1.5 .4h0m-5.9 .2h0m1.4 .5h0m1.7 .3h0m4.3 .9h0m-3.7 .2h0m-9.1 .2h0m4.9 2.2h0m7.4 .3h0m-4.3 .5h0m2.5 1.3h0m-5.4 .3h0m8.9 .5h0m-9.7 0h0m-2.5 1.1h0m.8 .3h0m10.3 .1h0m-9.3 2h0m2.8 2.1h0m4.2 .3h0m-4.5 .1h0m-3.3 .2h0m8.6 3.9h0m.9 3h0m-5 .1h0" stroke="rgb(255,0,0)"/><path d="M66.8 922.8h0m0 1.8h0m1.8 1.4h0m-3.4 3.1h0m1.3 1.1h0m-1.4 0h0m4.8 1.1h0m-1.5 .4h0m-5.1 .3h0m7.3 .5h0m-10.4 .1h0m8.7 .2h0m1.3 2.4h0m-.5 1.8h0m-1.9 .1h0m4.8 2.3h0m-.9 0h0m-8.2 1.2h0m9.7 .6h0m-4.6 .1h0m1.3 .5h0m-1.3 .2h0m-5 .1h0m13.7 0h0m-6.6 .9h0m1 .5h0m-1.2 1.2h0m-5.4 2.5h0m3.6 .4h0m-6.4 0h0m8.7 .4h0m2.8 .8h0m-.3 0h0m-6.5 .4h0m.6 .1h0m-2.3 .2h0m5.5 .8h0m9.1 .1h0m-5.9 .4h0m-2.7 .1h0m-.4 .8h0m-2.1 0h0m6 1.6h0m-12 .7h0m10.1 .8h0m-5.5 .3h0m2.4 1.6h0m2.4 6.6h0" stroke="rgb(0,128,0)"/><path d="M71 820.6h0m-.4 88.9h0m-4.2 3h0m8.7 5.1h0m-7 3h0m-1.6 5h0m.5 3.3h0m4.3 .7h0m-5 .3h0m8.3 0h0m-8.7 2.2h0m7.6 .6h0m-1.8 3.1h0m-6.9 .2h0m.4 .2h0m7.4 .4h0m1.3 .3h0m-3.9 2.2h0m.4 .4h0m-.7 .4h0m-1.8 1.7h0m5.5 0h0m-.8 .1h0m-1.9 .2h0m.1 .5h0m.3 .6h0m-9 .3h0m13.2 .8h0m-.4 .1h0m-5.9 .9h0m4.8 .5h0m-.3 2.9h0m-8.4 .4h0m.9 .2h0m5.3 .2h0m-6.6 .1h0m2.5 .5h0m-6.2 0h0m12.8 .6h0m-2.1 .1h0m-1.5 0h0m2.1 .2h0m-4.5 .1h0m-1.1 .2h0m8.5 .1h0m-6.7 1h0m8.2 .9h0m-6.3 .4h0m-4.9 1h0m3.3 .4h0m-4.4 1.3h0m4.6 2h0m-1.6 1.4h0" stroke="rgb(0,128,0)"/><path d="M68.9 915.8h0m5.1 3.2h0m2.1 4.3h0m-9.6 6.3h0m2.4 .7h0m4.8 1.3h0m.9 5.2h0m-3.1 .4h0m2.3 .2h0m-11.2 2.1h0m12.6 1.5h0m-1.4 .1h0m-5.6 .3h0m4.8 .8h0m-.8 2.5h0m-6.6 .8h0m-.9 .9h0m1.5 .6h0m-1.8 1.7h0m7 1.4h0m3.1 .7h0m-2.8 .2h0m.3 .2h0m-6.3 .7h0m5.5 0h0m-5.8 0h0m3.2 .5h0m2.1 1.1h0m.3 .4h0m-3 .8h0m2.1 .4h0m2.3 .5h0m-2.3 .1h0m-.5 4.3h0" stroke="rgb(0,128,0)"/><path d="M65.6 915.6h0m1.7 1.7h0m3.4 4.1h0m1.1 3.1h0m-4.7 .9h0m5.1 1.7h0m-3.7 .3h0m4.8 .3h0m2.1 5.7h0m-7.7 0h0m3.9 0h0m2.7 3.1h0m.8 .3h0m-5.6 .5h0m-7.9 .7h0m5.8 .5h0m-4.4 2h0m2 .9h0m5.7 1h0m-2.2 1h0m-1.5 .1h0m-7.5 .3h0m11.5 .8h0m-3.9 .1h0m1 2.2h0m.6 1.5h0m-2.9 .3h0m10 .6h0m-9.1 1.6h0m-2.6 0h0m8.2 .2h0m-8.9 .6h0m12.1 1.3h0m-11.7 1.2h0m1.1 .4h0m4 .2h0m4.5 .5h0m-6.2 .9h0m2.1 1.3h0m-1.5 .2h0m-1.8 .7h0m2 1.5h0m-2.7 .4h0" stroke="rgb(0,128,0)"/><path d="M62.7 912.3h0m6.5 3.8h0m1.2 2.8h0m-3.6 .5h0m3.5 7h0m-2.4 4.8h0m1.6 .3h0m-9.9 1.1h0m16.1 3h0m-4.4 .6h0m-6.5 1.4h0m4.4 .9h0m2.8 1.4h0m-11.3 .2h0m11.9 0h0m-3.1 .2h0m2.1 .8h0m-7 .6h0m9.4 .5h0m-8 .4h0m1.8 1.3h0m-.3 .2h0m2.6 6h0m-.7 .2h0m5.9 .2h0m-8.4 .5h0m-2.1 .2h0m2.6 0h0m-1.8 .9h0m1.1 .6h0m-3 .8h0m7 .9h0m-2.2 8.1h0" stroke="rgb(0,128,0)"/><path d="M65.6 895.8h0m2.1 25.1h0m5.7 2.4h0m-9.6 1.4h0m12.5 6.2h0m-13.6 1.3h0m4.9 1.7h0m0 .1h0m1.2 .3h0m-1 .1h0m-1.6 1.4h0m3.7 .4h0m.9 2h0m-4.6 .6h0m-2.8 .3h0m2.4 .2h0m7.2 3.3h0m-6.8 .1h0m6.7 .9h0m-3 .9h0m5.1 0h0m-5.2 .3h0m-.4 .5h0m-2.7 .5h0m4.6 .6h0m-6.9 1.4h0m2.7 1.2h0m-3.7 .5h0m4 0h0m-1 .7h0m1.6 .7h0m-2.3 .3h0m4.2 .1h0m-2.7 .1h0m9.1 .3h0m-6.8 .3h0m5.7 1.2h0m-4.2 0h0m-2.4 .1h0m1.6 .2h0m1 1.1h0m-4.7 1.3h0m.7 .2h0m-3.1 .1h0m9.6 .8h0m-.9 1.8h0m-1.2 .4h0m-8.4 1.4h0m6.6 3.3h0" stroke="rgb(0,128,0)"/><path d="M72.5 907.3h0m2.6 4.5h0m-10 4.1h0m3.4 .2h0m3.2 4.6h0m-2 3.3h0m5.4 .5h0m-4.1 3.3h0m-1.5 .7h0m-8.4 1.1h0m7.7 .3h0m.4 .8h0m2.6 .7h0m-5.2 .5h0m8.9 1h0m-7.6 .6h0m-1 2h0m.2 .4h0m1.4 1.6h0m-.5 .8h0m2.1 1.7h0m-1 .5h0m5.8 .7h0m-6.5 .7h0m2.1 .2h0m7.8 .6h0m-5.9 .4h0m-9.1 .1h0m8.3 2.4h0m-3.9 1.3h0m2.6 .1h0m-9.4 .2h0m11.6 2.4h0m0 .4h0m-4.2 1.3h0m-.4 1.7h0m1.2 2.4h0m2.1 .3h0m2.2 .3h0m-3.1 1.2h0m-.8 1.6h0" stroke="rgb(0,128,0)"/><path d="M66.2 913.4h0m8.6 2.7h0m-4.2 2.4h0m-2.4 .5h0m1.8 4.2h0m-1.5 .5h0m5.8 .2h0m-7 3.4h0m2.7 1.3h0m5 1.2h0m-10.5 .1h0m2.3 .2h0m1 .6h0m-1.5 .5h0m7 3.3h0m-2.2 1.7h0m-.7 1.7h0m-3.6 .5h0m9.5 3.7h0m-12.7 1.8h0m2.5 .3h0m3.1 .5h0m1 .7h0m-1.9 .1h0m-.8 .5h0m4.1 .1h0m-2.7 2h0m-2.9 1h0m2.5 .2h0m3.5 .2h0m-3.4 0h0m1.7 .9h0m-.5 .2h0m2.3 .2h0m.9 .9h0m-3.2 .1h0m-6.3 .5h0m6.8 .4h0m4.6 1.3h0m-7.5 .7h0m-1.2 .8h0m-4.3 .1h0m13 .2h0m-7.9 .2h0m-.6 5.5h0" stroke="rgb(0,128,0)"/><path d="M71.4 743.1h0m1.4 179.6h0m-4.6 1.5h0m3.6 1.8h0m-3.3 3.8h0m2.6 0h0m-.9 2.5h0m3.4 1h0m-.8 2h0m-1.2 .8h0m-2 .7h0m1 .2h0m2.8 .3h0m-8.9 1.3h0m8.7 3.3h0m-.2 1.4h0m-2.2 .1h0m-7.1 .2h0m7.7 .7h0m-8.1 .7h0m4.6 1.3h0m-5 1.8h0m2.1 1h0m8 .9h0m2.2 .8h0m-8.2 .2h0m4.6 .8h0m4.6 1h0m-3.9 .1h0m-2.9 .3h0m1.7 .7h0m-.4 1h0m-3.9 .1h0m6 .5h0m1 .8h0" stroke="rgb(0,128,0)"/><path d="M72.9 912h0m2.8 3.7h0m-8.1 4.7h0m8.4 2.8h0m-9.8 2.7h0m11.3 .8h0m-15.2 0h0m8.2 3.3h0m-1.4 1h0m-.6 .4h0m7.4 1.9h0m-7.3 1.4h0m4.3 .3h0m-6.5 .5h0m-1.6 1.4h0m-.5 0h0m2.9 .4h0m-3.8 .3h0m2.7 .8h0m5.4 1.1h0m-5.2 .9h0m5 .8h0m2.1 .6h0m-.4 .1h0m-4.2 .1h0m-2.1 2.6h0m-.9 .2h0m-.8 1.1h0m2.3 .7h0m-4 .9h0m9.8 1.1h0m-3.1 1.6h0m.6 .1h0m-1.4 .1h0m1.7 .9h0m2.9 .6h0m-1 1.3h0m4 1.5h0m-7 1.5h0m3.8 .3h0" stroke="rgb(0,128,0)"/><path d="M72.7 896.3h0m-6.8 15.2h0m2.1 1.8h0m9.1 1.2h0m-4.1 .5h0m-1.8 6.6h0m.2 1.3h0m-4.8 .7h0m4.9 0h0m-2 .4h0m4 .9h0m-2.3 1.6h0m.6 .3h0m-3.9 1.9h0m-1.5 0h0m.9 .1h0m7.8 1.2h0m-5.5 .2h0m-3 2.9h0m4.5 .5h0m-5 .5h0m5.6 2.2h0m-7 0h0m6.1 .5h0m-3.4 .2h0m6 1.8h0m-4.2 1.2h0m.4 .1h0m-1.9 .4h0m4.7 0h0m-4.1 .5h0m-3.9 .5h0m4.7 .7h0m-5 .8h0m6.4 1.8h0m-2.6 .3h0m2.4 1.6h0m-2.8 .8h0m2.5 .7h0m-7.2 2.5h0m6.5 .4h0m2.8 1.7h0m2.5 1.2h0m-7.1 1.4h0m-3.7 .1h0m9.9 1.5h0m-4.1 .9h0m1.5 .4h0" stroke="rgb(0,128,0)"/><path d="M69.2 914.9h0m-2.5 3.8h0m2.2 .8h0m-1.2 4.9h0m6.1 3.1h0m-7.7 .2h0m-.5 3.7h0m2.3 .9h0m2.7 .5h0m-.3 2.9h0m-5.3 1.4h0m2.5 1.1h0m.9 .6h0m6.6 .6h0m-5.2 .3h0m1.8 1.7h0m-.7 .1h0m-5.1 1.2h0m-2 1.2h0m10.1 .4h0m-8.4 1h0m2.9 .6h0m4.6 1.5h0m-5.4 3.2h0m3.3 .2h0m-4 .8h0m4.8 .3h0m-2.9 .4h0m1.8 .3h0m-7.6 .2h0m5.5 4h0" stroke="rgb(0,128,0)"/><path d="M67.9 883h0m-2.4 39.5h0m2.1 .2h0m-1.1 1.1h0m3.1 .1h0m4.6 1.9h0m-5.5 .8h0m-1.3 4.7h0m.1 2.2h0m-1 3.8h0m2.2 1.2h0m0 .5h0m-.7 1.9h0m1.1 1.6h0m-2.2 .8h0m-1.8 .3h0m2.1 .7h0m-.3 .4h0m5.2 0h0m-6.9 .3h0m1.8 .6h0m2.5 .5h0m-7.6 .6h0m8.1 2.2h0m0 .1h0m-1.8 .5h0m3 .3h0m-.1 .1h0m.1 1h0m-.1 .1h0m-7.1 .4h0m10.2 .3h0m-3.1 .5h0m-9.2 .3h0m6.2 .4h0m5.1 .2h0m-4.2 1.1h0m-2.8 1.3h0m6.2 0h0m-1.8 4.7h0" stroke="rgb(0,128,0)"/><path d="M68.4 877.5h0m-3.9 15h0m8.3 19h0m-8.6 7.1h0m7.3 9.1h0m-9 .8h0m10 .3h0m-4.8 .1h0m1 1h0m-4.6 .8h0m.3 .8h0m6.7 .8h0m-2.8 3.3h0m-.4 1.7h0m-.2 .5h0m1.9 .2h0m5.9 0h0m-4.4 1.3h0m-.2 .2h0m-2.1 1.8h0m5.5 .2h0m4.8 .3h0m-14.3 .5h0m3.1 .3h0m1.2 .3h0m.6 1.1h0m-1 1.1h0m7.2 2.1h0m-13.5 .2h0m4.8 1.9h0m6.3 1.3h0m-3.3 .1h0m1.5 .6h0m-5.4 .2h0m6.4 .4h0m-3.5 1.7h0m2.6 .3h0m-3.3 1.1h0m1.4 .7h0m-2 .1h0m4.5 .3h0m-9.8 1.6h0m5.6 .3h0m2.7 1.8h0" stroke="rgb(0,128,0)"/><path d="M66.5 915.5h0m-5.7 6.8h0m1.3 2.9h0m9.1 1h0m-4.5 .4h0m-3.8 1.1h0m6.3 0h0m-.9 3.5h0m-6.2 3h0m2.9 0h0m5.7 1.3h0m-1.5 .4h0m-.1 .1h0m5.6 2.1h0m-8.3 .5h0m-3.5 .6h0m7.3 .9h0m-5.7 .1h0m6.7 .1h0m-2.1 .8h0m2.6 1.3h0m-3.7 .2h0m1.7 .5h0m-1.7 1.3h0m.1 .9h0m8.3 .3h0m-5 .1h0m-1 .5h0m-3.1 .6h0m-1.2 1.7h0m4.3 1h0m-3.9 .8h0m4 1h0m-1.6 .1h0m-1.5 .3h0m5.3 .5h0m-2.3 .1h0m-4.4 .4h0m5.1 .5h0m3.4 .8h0m-5.1 1.8h0m1.1 .3h0m-1.1 .3h0m-.9 .7h0m4.2 9.7h0" stroke="rgb(0,128,0)"/><path d="M61.2 920.7h0m13.4 1.4h0m-5.4 1.4h0m-8.5 1.6h0m3.6 1.6h0m10.2 4.3h0m-7.9 .8h0m3.8 .3h0m-4.6 .3h0m-.4 .2h0m2.6 .1h0m2.5 1.7h0m-4.4 1.8h0m.2 .6h0m-1.4 1.4h0m-2.7 .4h0m6.3 .3h0m-.2 1h0m3.2 1.5h0m-1 2.3h0m5.6 1.4h0m-8.5 .8h0m-1.5 1.2h0m3.4 1.2h0m6.3 .6h0m-5.4 .1h0m-4.4 .3h0m1.1 1h0m2.2 0h0m1.2 1.2h0m-5 .3h0m.2 1.6h0m2.1 .8h0m0 .1h0m5 7.8h0" stroke="rgb(0,128,0)"/><path d="M70.8 879.8h0m2.7 26.1h0m-2.3 12.3h0m1.6 .2h0m-.2 3.4h0m-5.5 4.2h0m3.7 .4h0m-9.6 4.3h0m8 1.3h0m-.4 0h0m-2.3 0h0m11.3 .9h0m-8.5 0h0m-3.6 .2h0m-.8 0h0m10.3 .8h0m-11.8 1.8h0m6.7 1.1h0m-2 .1h0m-1.5 .5h0m2.7 2.3h0m-2 1.5h0m2 .4h0m-2.7 .2h0m4.4 .4h0m-2.4 .8h0m1.2 1.3h0m1.6 .6h0m-7.2 .4h0m3.8 1h0m-3 1.9h0m5.7 0h0m1.9 .4h0m-4.4 1.2h0m4 .3h0m-3.3 .7h0m0 .1h0m4.9 .6h0m-1.6 0h0m-1.8 0h0m2.9 .1h0m-3.2 .2h0m2.8 .2h0m1.7 1.3h0m-7 1.1h0m2.9 1.8h0m-8 1.9h0" stroke="rgb(0,128,0)"/><path d="M72 917.5h0m-3.3 1.3h0m5.3 1.3h0m-6.1 1.9h0m6.3 .1h0m-7.6 8.5h0m-.5 1.2h0m4.5 .8h0m3.8 .3h0m-5.5 .6h0m2.8 4h0m9.6 .4h0m-7.5 .3h0m2.4 0h0m-6.7 .2h0m-.4 2.4h0m-.1 .2h0m-.2 1.5h0m-.9 .3h0m-1.6 1.1h0m3.4 1.5h0m2.1 .2h0m3 1.8h0m-15.8 2.9h0m8 .3h0m1.7 .3h0m-2.6 3.2h0m7.3 .2h0m-3.6 .3h0m3.7 1h0m-3 1.5h0m1.5 2.2h0m-2.8 3h0m-5.7 1.5h0" stroke="rgb(0,128,0)"/><path d="M65 892h0m13.3 5.3h0m-2.6 13.6h0m-9.5 7.2h0m4.5 2.6h0m.3 1.1h0m-4.1 1.7h0m6.7 1.2h0m-6.1 2.1h0m-2.5 .8h0m4.9 1.8h0m-5.9 .4h0m7.2 .5h0m-11.6 .7h0m13.7 2.3h0m-2 .9h0m-7.2 .1h0m10.4 2.3h0m-4.9 3h0m-2.4 .4h0m9.7 0h0m-10 1.1h0m5.4 1.2h0m.7 .1h0m-10.6 1.2h0m7.9 .6h0m-5.8 1.3h0m5.9 .2h0m-.1 .3h0m.4 2h0m-1.1 .5h0m-.7 2.2h0m-4.9 .6h0m8.8 1.3h0m-6.3 .5h0m3.4 .9h0m-3.8 .3h0m1 1.4h0m6.9 .9h0m-3.5 1.5h0m-4.4 6.6h0" stroke="rgb(0,128,0)"/><path d="M74.1 920.8h0m-3.2 1.2h0m-6 2.6h0m2.7 .9h0m1 1.8h0m3.8 .8h0m-4.5 .4h0m-4.4 1.3h0m9.8 2.9h0m-8.9 3.2h0m9.2 .8h0m.4 .1h0m-5.6 1.5h0m.6 .9h0m3.8 .6h0m-.8 .2h0m2.8 .2h0m-9 0h0m-1.4 .3h0m8.2 1.2h0m-1.5 .3h0m7.5 .6h0m-4.5 .2h0m-3.6 2.2h0m.9 .6h0m-2 1.5h0m1.1 5.5h0m-.9 .4h0m2.2 .5h0m-1.9 1.1h0m5.5 1.7h0m-3.1 .3h0m1.7 1.6h0m-1 3.3h0" stroke="rgb(0,128,0)"/><path d="M70.7 913h0m-4.7 2.7h0m9.3 3.1h0m-2.1 .4h0m-3.2 5h0m-5.9 1.9h0m7.6 1.3h0m-6 1.4h0m6.7 1.8h0m-.8 .2h0m-3.8 .4h0m1.7 1.8h0m-4.2 .1h0m-.9 .1h0m8.9 .6h0m1.8 .6h0m-10 .8h0m7.3 .7h0m-.6 2.5h0m-.7 .7h0m-2.6 1.3h0m.2 .2h0m2 .2h0m4.5 .8h0m-6.4 .7h0m.4 .3h0m-1.9 0h0m3.9 .7h0m-4 .2h0m4 .4h0m-2.4 .4h0m.2 1.7h0m6.3 .4h0m-6.1 1.1h0m-5.3 .3h0m6 .9h0m-1.9 .1h0m10 .1h0m-8.6 1.1h0m2 .3h0m-1.9 .1h0m2.9 .5h0m-3.3 .6h0m1.3 0h0m-.8 .5h0m-4.7 1.1h0m9.5 .1h0m-11 1.1h0m4.3 1.2h0m3 .4h0m1.6 8.3h0" stroke="rgb(0,128,0)"/><path d="M66.7 903.7h0m3.1 .7h0m-1.9 9.6h0m-.9 2.1h0m-1 4.4h0m2.3 .6h0m.7 .4h0m3.3 2.2h0m-1.3 .5h0m1.5 1.1h0m-.1 1.2h0m.5 .8h0m-3.2 .4h0m3 .1h0m-7.1 4.1h0m10.6 0h0m-6.1 2h0m1.7 0h0m-6.7 .4h0m6.4 .7h0m4.4 .5h0m-1.3 2.3h0m-7.9 .1h0m-.6 .2h0m0 1.1h0m7.1 .6h0m-1.5 .3h0m-1.9 .5h0m2.8 0h0m-1.9 .4h0m2.5 .1h0m-6.3 .5h0m2.1 .7h0m6.4 .3h0m-3.3 .3h0m-4.6 .7h0m-.3 1.3h0m1.9 .3h0m-.2 .9h0m-5.1 .5h0m7 1.3h0m-.4 1.9h0m1.1 .3h0m1 1.1h0m3.1 .1h0m-7.2 1.8h0m3.9 .1h0m-1 2h0m2.8 2.3h0" stroke="rgb(0,128,0)"/><path d="M68.7 885.3h0m2.3 32.8h0m4.4 2.3h0m.6 .8h0m-6.2 .5h0m.1 1.6h0m4.2 2.8h0m1.4 .2h0m-6.8 2.2h0m7.5 1.4h0m-8.3 .6h0m4.7 .8h0m-1 .6h0m-3.5 .7h0m1.6 .3h0m-10 .4h0m9.6 .8h0m2.2 1.9h0m-1.2 0h0m-3.4 1.9h0m3.5 .2h0m-2.1 .8h0m-6.5 .4h0m7.3 .2h0m-.8 1h0m.2 .4h0m-5.1 0h0m8.3 .7h0m-1.2 .4h0m3.1 .2h0m-4.2 2.1h0m-3 1.9h0m1.9 .4h0m2.4 .3h0m.9 1.2h0m-5.3 .2h0m7.2 1.9h0m-2.8 2h0m-3.4 .7h0m3.4 .6h0m2.1 1.8h0m-.4 .8h0m-7.9 1.1h0" stroke="rgb(0,128,0)"/><path d="M68 892.4h0m8.5 9.2h0m-3.7 1.5h0m-7.4 7.1h0m4 5.7h0m.9 1h0m-3.8 .7h0m4 7.8h0m-3.8 2.2h0m-.4 6.3h0m1.5 1.7h0m-5 .4h0m7.7 .9h0m-.5 .5h0m6.1 .8h0m-7.4 1.1h0m-2.8 .4h0m1.2 .8h0m5.1 1h0m1 .1h0m-15.9 .9h0m13.2 0h0m-3.3 .5h0m3.5 .5h0m-5.1 2h0m-2.8 1.6h0m6.6 2.7h0m-1.4 1.5h0m-1.4 0h0m5 0h0m-7.8 .4h0m5.2 0h0m2.8 .1h0m-4.1 .3h0m3.7 1.3h0m-4.1 1.7h0m6.1 .5h0m-4.4 4h0m6.5 5.5h0" stroke="rgb(0,128,0)"/><path d="M129.5 931.6h0m-3.1 11.9h0m4.4 3.4h0m-1.3 1.8h0m-.7 1.8h0m-4.9 .1h0m4.9 1.1h0m1.8 .5h0m-7.1 .4h0m5.1 .2h0m.6 0h0m-10.1 .1h0m15.5 .6h0m-10.8 .1h0m-1.1 .3h0m2.1 .3h0m2 .4h0m-1 .3h0m1.3 .3h0m-9 .4h0m8.6 .5h0m4.8 0h0m-4.3 .7h0m3.4 1.4h0m-2.2 .1h0m3.2 .3h0m-4.9 1.4h0m-2.5 .3h0m-.4 .2h0m0 1.7h0m1 .1h0m1.4 1h0m1.3 .2h0m.6 1.9h0m3.1 1.3h0m-5.8 1.1h0m1.1 0h0m-3.2 .1h0m-2.6 .2h0m5.3 .7h0m-1.2 .7h0m2.5 .1h0" stroke="rgb(0,0,255)"/><path d="M130.3 908.7h0m-6.7 37.5h0m-.5 2.7h0m-.3 1.1h0m1.9 .2h0m1 .3h0m2.3 .4h0m-.4 .3h0m2.9 .2h0m-4.8 .3h0m-3.7 1h0m10.2 .3h0m-11.5 .5h0m5.2 0h0m3.8 .2h0m-.8 1.8h0m-8 .8h0m3.4 1.3h0m-3.6 .1h0m7.5 .1h0m2.4 .3h0m6.5 .1h0m-11.6 .2h0m-3.5 .1h0m.6 .5h0m.5 .6h0m.9 1.5h0m9.5 .7h0m-3.7 .1h0m2.8 .3h0m-5.3 1h0m-2.2 .9h0m-8.3 .5h0m8.9 .4h0m-.2 .5h0m-.2 .5h0m.4 .5h0m-2 1.1h0m-.6 4h0" stroke="rgb(0,0,255)"/><path d="M129.1 942.3h0m-3.1 4.9h0m-5.4 1.5h0m6.5 .4h0m-4.6 .8h0m14 .1h0m-11.7 .3h0m-.1 .6h0m5.4 .1h0m-2.9 .2h0m-.3 .9h0m-.1 .1h0m-.6 .3h0m-2.8 .3h0m3.7 .3h0m-4.3 .4h0m4.2 0h0m2.3 .7h0m-7.8 .7h0m1.2 2h0m-1.2 1h0m-1.3 .2h0m6.1 .7h0m2.6 .5h0m-4 .3h0m2.5 .5h0m3.2 .5h0m-8.3 .8h0m-.9 1h0m8 .9h0m-.3 .9h0m-6.9 .4h0m-1.4 .1h0m-.3 .2h0m3.6 .2h0m7.4 .6h0m-4.4 4h0m-.5 1.3h0" stroke="rgb(0,0,255)"/><path d="M127.4 932.2h0m-1.7 8.3h0m6.3 1.3h0m-6.5 .9h0m-4.9 .4h0m7.3 7.5h0m-2.8 .4h0m2.7 .8h0m-10.6 .5h0m5.6 .6h0m2.4 1.2h0m3.1 0h0m4.3 .9h0m-3.8 .4h0m-.8 .1h0m-7.6 .2h0m4.8 .5h0m-3.1 .3h0m4.4 .3h0m-5.8 .1h0m4.3 .6h0m6.5 .2h0m-11.3 .2h0m-3.2 .2h0m9.7 .4h0m-1.8 .6h0m1.8 .1h0m-.3 1h0m-4.7 1.9h0m3.2 1.3h0m1.3 .5h0m5 0h0m-3 1h0m-3.5 3.5h0m-2 .3h0m4 1.5h0m2.3 .3h0m-8.3 .5h0" stroke="rgb(0,0,255)"/><path d="M132.3 937.8h0m-6.6 5.7h0m3.9 1.3h0m-2.2 .2h0m-6.2 .8h0m3.2 .3h0m.3 .4h0m3.3 .1h0m-.9 2.9h0m4.4 .3h0m-6.7 .5h0m.8 .2h0m-5.2 .5h0m12.1 .9h0m-7 .8h0m.3 1.2h0m-7.1 1.7h0m7.1 .7h0m5.3 .3h0m-3 .7h0m-3.2 .6h0m-2.6 1.6h0m4.7 .2h0m2.7 0h0m-.1 .1h0m-2.2 .2h0m5.1 .2h0m-1.3 .3h0m-4.7 1.3h0m5.2 .2h0m-3.7 .6h0m2 0h0m.3 .4h0m-6.5 .1h0m4.3 .5h0m-5.9 2.3h0m9.1 .6h0m-2.5 .4h0m-6.4 .1h0m3.1 1.8h0m-.3 .3h0" stroke="rgb(0,0,255)"/><path d="M126.9 945.6h0m-4.3 1h0m5.9 .4h0m-7.5 .6h0m6.3 .3h0m-5.4 1h0m6.1 .1h0m-9.8 .1h0m9.4 .9h0m3.6 2.4h0m-5.6 .9h0m-.8 .2h0m-2.2 1.1h0m2.3 .4h0m6.4 0h0m-4.5 .6h0m1.4 .2h0m-6.8 .4h0m3.3 .2h0m6.6 .2h0m-5.6 .4h0m12.7 .2h0m-5.3 1h0m-7.3 .3h0m2.5 .2h0m-6.9 2.5h0m5.5 .6h0m-5.1 .1h0m4.7 .1h0m4.3 .1h0m-6.8 .1h0m7.3 .1h0m-4.4 0h0m-2 .5h0m1.8 1.2h0m-7.9 .4h0m6.3 1h0m-1.2 6.6h0m7.8 .4h0" stroke="rgb(0,0,255)"/><path d="M125.8 905h0m3 1.9h0m-5.2 26.8h0m1.8 6.3h0m-2 .4h0m3.2 5.4h0m-4.1 .3h0m4 1.7h0m-2.3 .4h0m-3.6 .3h0m-.5 .7h0m6.9 .7h0m-.7 .5h0m3.7 .6h0m-4.4 .5h0m.3 1.1h0m-4.8 .8h0m-3.9 .1h0m6 .2h0m1 .1h0m1.1 .6h0m-5.8 .3h0m2 .1h0m5.9 1.1h0m3.6 1h0m-2.3 .2h0m-5.1 .9h0m.7 1.5h0m-.7 1.3h0m8.4 .1h0m-1.4 .2h0m1.9 .9h0m-11.5 1.2h0m5.4 .5h0m-.5 .4h0m-5.8 .7h0m-3.4 1.4h0m6.9 .2h0m7 .4h0m-3.4 .7h0m1.9 1.7h0" stroke="rgb(0,0,255)"/><path d="M125.1 914.5h0m.3 13.1h0m-.2 10.9h0m-5.2 .3h0m1.8 4.8h0m3.4 .6h0m-2.2 0h0m1.7 1.5h0m-1.6 1.6h0m5.1 1.6h0m-.8 .3h0m-2 1.2h0m3.6 .2h0m-5.7 1.2h0m.4 1.4h0m-.5 .5h0m-.2 .1h0m.8 .7h0m3.8 1.6h0m-5.3 1.1h0m1 .9h0m-2.8 .5h0m4.7 2.7h0m-.1 1.4h0m1.5 .1h0m-6.1 .2h0m11.2 .2h0m-6 1.5h0m-2.8 .5h0m.2 1.1h0m2 .5h0m.1 .5h0m-1.3 2.6h0m10 2.4h0" stroke="rgb(0,0,255)"/><path d="M126.4 933.1h0m.6 8.2h0m-5.7 2.1h0m2.2 1.4h0m1.4 .5h0m-5.3 2.6h0m3.5 .4h0m-4.4 .8h0m6.3 1.2h0m1.5 .2h0m-2.6 .4h0m7.7 .4h0m-11.2 .1h0m10.1 .2h0m-5.9 .1h0m3.7 1h0m-2.9 1.8h0m5.4 .5h0m-4.9 .1h0m-3.8 .5h0m2.1 0h0m1.7 .7h0m-6.2 1.8h0m9.3 1h0m-7 .1h0m9.7 .1h0m-9.7 .5h0m11.9 1.3h0m-10.2 0h0m4.8 .4h0m-.9 .4h0m-4.6 1h0m-1.4 2.2h0m9.4 0h0m-3.3 .5h0m-6.6 .7h0m-.5 .3h0m-1.5 .9h0m8.2 .8h0" stroke="rgb(0,0,255)"/><path d="M123.5 937.3h0m3.9 5h0m5.2 1.5h0m-8.6 1.6h0m1.8 .6h0m3.4 .1h0m-5.2 .3h0m2.4 2.3h0m3.9 2.1h0m3.7 1h0m-4.9 1h0m-2.7 0h0m2.7 .3h0m3.5 0h0m-5.9 .3h0m4.1 .4h0m-1.4 1.7h0m-1.2 1.1h0m-3.9 0h0m-3.8 .2h0m9.6 .2h0m-3.1 .7h0m-1.2 .3h0m-3.8 1.1h0m.5 .1h0m.1 1.1h0m.4 .4h0m-.2 .2h0m5.5 .5h0m-.2 .3h0m-8.3 1.2h0m-2.9 .5h0m8.9 .4h0m-3.9 1.1h0m2.8 .6h0m-4.3 .8h0m6.3 .7h0m6.3 .8h0m-7.2 0h0m-8.7 4.7h0" stroke="rgb(0,0,255)"/><path d="M132.4 928.3h0m-10 11.4h0m-.6 1.9h0m2.2 4.9h0m1.8 .3h0m.3 1.1h0m-3 1.1h0m.3 .3h0m6.5 1.6h0m-3.4 1.4h0m2.4 .1h0m-9.3 .2h0m1.7 .1h0m.3 .1h0m-2.3 1.2h0m3.7 0h0m1.3 .1h0m-1.1 .2h0m10.8 .4h0m-11.6 0h0m4.2 .6h0m-1.5 .3h0m-1.5 .1h0m2.6 0h0m.1 .4h0m-2.8 0h0m-.1 .8h0m-1.5 .1h0m6.1 .1h0m-2.2 .4h0m3 .9h0m2.1 1h0m-2.3 .7h0m-1.8 .5h0m-1.7 .3h0m6.6 .5h0m-8.4 .9h0m4.5 1.9h0m-.3 .1h0m1.9 .1h0m-3 2.6h0m-1.5 1.4h0m4.6 1.6h0" stroke="rgb(0,0,255)"/><path d="M128 909.5h0m-.2 28.5h0m0 3.3h0m2.6 .9h0m-1.8 3.7h0m2 .2h0m-5.8 .3h0m2.2 2.1h0m-5.7 .2h0m5.9 .1h0m1 .4h0m-.8 1.7h0m-.2 1.2h0m5.5 .6h0m-5.1 .4h0m-.2 .2h0m-5 .8h0m2.9 1h0m-.6 .1h0m-1.3 1.1h0m-4.4 .5h0m6.4 .6h0m.9 1.6h0m.4 .2h0m3.7 .2h0m-8.4 .1h0m6.2 1h0m-7 0h0m6.5 0h0m-4.2 .2h0m10 .7h0m-2.4 .2h0m-5.3 .4h0m1.2 .3h0m.3 .6h0m-1.7 .1h0m-.8 1h0m-2.9 .2h0m12.1 .2h0m-8 .5h0m-2.4 .3h0m-1.1 .2h0m1 .3h0m2.9 .8h0m1.3 1.3h0m.7 2h0m-3.5 .2h0m7.7 1.7h0" stroke="rgb(0,0,255)"/><path d="M130.9 906.2h0m-6.7 35.2h0m-3.3 1.3h0m6.5 2.7h0m.7 .1h0m-4.8 .1h0m-.5 2.2h0m-1.5 .3h0m8.2 .2h0m-1.9 .6h0m-2.9 .9h0m2.1 .5h0m4.6 .2h0m-3.2 1.3h0m-3.4 .8h0m-.2 .2h0m.6 1h0m9 .3h0m-8.4 .7h0m-1.4 .4h0m3.6 .2h0m-2 .2h0m-.9 .8h0m1.5 .2h0m4.4 .4h0m-6.6 .9h0m-1.6 .3h0m5.9 .4h0m-.5 .8h0m-1.4 .7h0m.1 .4h0m-.2 .9h0m-.3 1h0m-1.1 1.2h0m1.8 1h0m-5.3 1h0m4.6 .5h0m-.6 .4h0m-1.6 .3h0m2.8 .6h0m-6.3 .4h0m1 2.3h0m-.8 .9h0" stroke="rgb(0,0,255)"/><path d="M130.1 928.3h0m1.3 15.9h0m-9.3 .3h0m9.8 .5h0m-11.5 .8h0m-.5 .4h0m6.9 .1h0m-6.3 .8h0m6.3 .8h0m-.3 2.5h0m-.5 .6h0m-3 .3h0m-1.2 .1h0m1.3 .3h0m2.3 .7h0m-4.7 .4h0m1.7 .1h0m2.2 .3h0m-3.2 0h0m8 .3h0m-10.1 .1h0m10.3 .4h0m.7 .4h0m-3.3 .2h0m-.3 .3h0m-1.1 1h0m-1.1 .5h0m3.2 1.4h0m-4.3 .6h0m2.8 1h0m-.1 .9h0m-1.9 .1h0m-.1 .1h0m3.8 2.2h0m3.5 0h0m-12.9 1.6h0m7.8 1.4h0m-.9 1.2h0m-1.1 2h0m-5.2 .5h0" stroke="rgb(0,0,255)"/><path d="M121.8 940.7h0m3.2 .7h0m6 2h0m-12.5 .2h0m9.3 .5h0m-6.3 .9h0m2.2 .2h0m1.8 1h0m.8 .1h0m9.8 .5h0m-13.4 1.3h0m4.9 1.4h0m3.7 .6h0m-4.1 .3h0m2.8 1.5h0m-.4 1.3h0m-7.2 .1h0m-1 .2h0m4.2 .2h0m2.5 .2h0m-14.7 .2h0m9.6 2.1h0m1.2 1.2h0m5.4 .4h0m-1.4 .1h0m1.5 1.3h0m-2.9 .3h0m1.7 .3h0m-5.3 .1h0m3.5 .3h0m2.4 1.2h0m-2.2 .7h0m-4.5 1.4h0m-.5 .5h0m-4 .4h0m8.6 .8h0m-4 .3h0m-.6 .3h0m1.9 1.6h0m-4.2 2.8h0" stroke="rgb(0,0,255)"/><path d="M125.3 937.9h0m-.3 1.9h0m2 .3h0m-4.5 6.8h0m5.2 .8h0m.8 .4h0m-1.7 1.3h0m-3.7 .6h0m4.7 .3h0m-1.6 1.6h0m1.9 .4h0m-10 .2h0m5.9 .1h0m-.1 1.1h0m3.8 .5h0m-.2 .1h0m-1 0h0m-4.8 .4h0m6.5 .3h0m-1.7 0h0m-3.3 .4h0m6.9 0h0m-8.7 .2h0m7.4 3.5h0m-3 .6h0m.3 .3h0m-3.8 1.3h0m5.7 .3h0m-3.3 .1h0m2.1 .3h0m-.6 .3h0m.3 .1h0m-2.1 .2h0m.4 .1h0m-3.9 .1h0m-.1 .1h0m10.3 .9h0m-4.6 .7h0m-.9 1.8h0m2.9 0h0m-1.4 2.4h0m-1.9 1h0m-2.4 .3h0" stroke="rgb(0,0,255)"/><path d="M132.7 920h0m-2.6 13.5h0m-6.8 6.2h0m4.2 7.5h0m-2.6 .1h0m2.1 .3h0m-3 .8h0m-2.5 1.2h0m3.5 .1h0m-2.4 .2h0m-.3 .2h0m7.9 .2h0m-5.8 .3h0m6.7 .1h0m-3.5 .3h0m-2.8 1.4h0m-1.3 .3h0m-4.2 .1h0m7.7 .7h0m-1.2 .1h0m4.8 .5h0m-8.2 .7h0m4.5 .3h0m-1.7 .2h0m3 .1h0m3.2 .1h0m-2.6 .4h0m-4.8 0h0m-3.7 .4h0m3.6 .4h0m-.8 .1h0m.8 3.1h0m1.7 1.3h0m3.8 .6h0m-7.2 .5h0m6 1.2h0m8.3 1.3h0m-15.2 2h0m8.2 .1h0m-2.5 0h0m-1 .9h0m9.1 1.4h0m-8.8 .2h0m-2.5 1.4h0" stroke="rgb(0,0,255)"/><path d="M122.2 915.1h0m1.5 28.8h0m-.9 .9h0m-2.7 .2h0m5.4 .1h0m5.4 .4h0m-2 .6h0m-7.9 1h0m7.3 1h0m-4.2 1h0m2.8 1.3h0m-4 .9h0m5.5 .4h0m-5.8 .6h0m7.4 .4h0m-5.8 0h0m9.2 .1h0m-8.3 .7h0m-2.1 .3h0m-.4 .1h0m6.8 .1h0m-4.9 .2h0m-3.1 0h0m9.5 .1h0m-6.8 .4h0m-1.9 .7h0m8.1 .7h0m1 .1h0m-9.7 0h0m3.3 .2h0m1.3 0h0m.1 .2h0m7.7 .2h0m-9.7 .1h0m-1.9 .5h0m5.8 .5h0m-4.2 .7h0m-3.9 .7h0m9.3 1.8h0m-.8 .1h0m-8.6 .2h0m4.8 .2h0m.6 .2h0m-4.3 .1h0m10.3 .5h0m-2.2 .7h0m1.2 .2h0m-6.2 .4h0m-3.2 .2h0m15.9 .6h0m-19.8 .3h0m9.1 .2h0m-5 .4h0m.4 1.8h0m4.1 .8h0m-6 1h0m5.6 1.4h0" stroke="rgb(0,0,255)"/><path d="M127.1 947.7h0m-1 .3h0m-3 1.4h0m2.6 .4h0m-.4 .5h0m6.6 .2h0m-9.2 0h0m3.3 .6h0m3.9 .3h0m-4.8 .2h0m.7 .2h0m3.5 1h0m-5.4 .4h0m2.2 .1h0m-.4 .2h0m-2.8 .6h0m-.4 0h0m7.8 1.1h0m-2.6 .4h0m8 .3h0m-14 .5h0m1.4 .7h0m8.5 0h0m-7.8 .4h0m.2 .3h0m-3.6 .2h0m4.4 .7h0m10.8 .3h0m-10.3 .3h0m5.4 0h0m-5.3 .8h0m.4 .8h0m5 .6h0m-2.5 .2h0m-6.6 .3h0m3.6 .7h0m-1.2 3.3h0" stroke="rgb(0,0,255)"/><path d="M125.7 938.4h0m2.5 3.6h0m-4.4 1.7h0m6.1 2.1h0m-6.4 .4h0m4 2.2h0m-6.4 .6h0m5.2 .8h0m-1.4 .4h0m2 .7h0m.3 0h0m-.2 .7h0m.7 .3h0m-.3 1.2h0m-1.5 1h0m-1.9 0h0m-1.5 .4h0m.8 0h0m.3 .5h0m2.3 .5h0m2.7 .1h0m-3.1 .5h0m5 .7h0m-1.7 .4h0m-1.5 .1h0m4.3 1.5h0m.9 1.1h0m-12.2 .5h0m1.6 .8h0m5 1h0m5.5 0h0m-4.8 .3h0m-5.3 .3h0m.9 0h0m5.4 .4h0m-5.2 .3h0m12.2 .7h0m-4.5 .5h0m-2.1 .6h0m-1 0h0m3.9 .8h0m-5.6 .6h0m9.4 .6h0m-4.3 .9h0m-5.6 .6h0m-4 2.7h0m2 .4h0" stroke="rgb(0,0,255)"/><path d="M128.7 906.3h0m3.6 27.3h0m-2.6 3.3h0m-1.8 8.2h0m-3.4 .2h0m-4.2 1.6h0m-1.3 .6h0m8.2 1.4h0m3.4 1.4h0m-2.3 .2h0m-1.8 .2h0m-2.6 .5h0m9.1 .2h0m-4.4 1.3h0m-.3 1.3h0m-4.7 .1h0m4.7 0h0m-2 .6h0m-.6 .5h0m-1 0h0m-.8 .1h0m4.5 .1h0m1.3 .7h0m-10.5 1.2h0m7.6 .4h0m-.9 .4h0m-.2 .1h0m2.1 .1h0m-.4 .2h0m-3 .1h0m5.3 .2h0m-8.3 .4h0m7.8 1.3h0m-1.3 .7h0m-.8 .8h0m-1.3 .2h0m-2.3 .6h0m-.7 .6h0m6.4 .3h0m-4.6 1h0m-3.6 .1h0m8.6 .2h0m.3 .1h0m-4.2 3h0m2.5 .6h0m2.5 1.2h0" stroke="rgb(0,0,255)"/><path d="M124.5 941.6h0m-.2 3.9h0m-2.5 5.1h0m4 2h0m-3.7 .9h0m5.1 1.2h0m-9.1 .4h0m8.9 .4h0m1.3 .8h0m-4.4 .2h0m8.5 .3h0m-5.7 2h0m4.1 1.1h0m-4.9 .4h0m3.3 .6h0m1.1 .7h0m-.5 .7h0m-5.4 0h0m-9.8 .4h0m12.2 .3h0m1.1 .1h0m-2.5 1.1h0m1.1 .1h0m1.9 .6h0m4.4 7.6h0" stroke="rgb(0,0,255)"/><path d="M125.4 941.9h0m-.7 .7h0m3.2 .1h0m-8 2h0m.3 .2h0m6.8 1.3h0m-4.3 .7h0m3 .2h0m3.5 .2h0m-4.4 .4h0m5 2.2h0m-.8 .3h0m-3.6 1.4h0m1.6 .6h0m-2.1 .4h0m1.9 .3h0m-3.4 .2h0m6.8 .1h0m-6.4 .8h0m-6.4 1h0m12.7 .6h0m-.7 1.5h0m-.1 0h0m-8.4 .1h0m-3.1 1.2h0m3.3 .2h0m4.5 .7h0m-3.7 .3h0m4.3 .3h0m1.1 .3h0m-3.7 .2h0m4 .3h0m-7.6 .4h0m7.1 0h0m-1.1 .1h0m2.4 .3h0m-2.5 .3h0m-.3 .5h0m-1.1 .2h0m.8 .2h0m.2 0h0m2 .2h0m1.5 .7h0m-2.2 1.2h0m-3.9 .2h0m2.8 1.1h0m7.6 .5h0m-6.5 1h0m5.4 .2h0m-9.9 .1h0m5.5 .6h0m-3.9 0h0" stroke="rgb(0,0,255)"/><path d="M124.3 888h0m.7 49.3h0m1.9 1.4h0m-4.1 .5h0m-2.1 6.5h0m6.2 .2h0m-2.9 1h0m-5.6 .3h0m11.9 2.9h0m-3 .3h0m-1.1 .4h0m.7 1.3h0m-6 .2h0m8.1 1h0m-1.6 .4h0m-.2 .5h0m3.1 1h0m4.2 0h0m-8.4 0h0m-5.7 .2h0m5.6 1.4h0m-7.4 .1h0m.8 .9h0m-.4 .2h0m6.5 .1h0m8.7 .8h0m-4.2 .3h0m-4.5 0h0m7.1 .3h0m-14.6 .8h0m13.2 .3h0m-3.1 1.6h0m1.7 .3h0m-10.4 .6h0m5.5 .7h0m-1.3 .2h0m2.9 .1h0m-8.2 .1h0m4.7 .1h0m.3 1.3h0m4.5 1.9h0m-4.2 .7h0m-4.7 .4h0m11.7 2.4h0m-5 .6h0" stroke="rgb(0,0,255)"/><path d="M177.4 901.5h0m8.6 14.2h0m-1.3 10.3h0m-1.7 6.4h0m-3.8 .4h0m-1.8 .2h0m7.5 4.7h0m.6 2.4h0m.2 1h0m-4.3 1.3h0m4.6 .2h0m-5.9 .8h0m3.5 .2h0m.3 .3h0m-6.2 .2h0m.3 .1h0m7.5 1h0m-2.7 .4h0m-.2 .9h0m2.5 .2h0m.5 .1h0m-4.5 .7h0m-1 .1h0m-3.1 .2h0m8 .8h0m-3.4 .6h0m-1.7 0h0m1.8 .4h0m-4.5 .7h0m4.3 0h0m5.6 .2h0m-.3 1h0m-3.4 .2h0m-1.6 1.1h0m.7 .1h0m0 .3h0m-2.7 .1h0m.2 .4h0m4.2 0h0m3.5 .6h0m-11.7 .2h0m7.7 .2h0m-1.2 .2h0m-.8 .9h0m.3 .3h0m1.2 .2h0m6.3 .2h0m-5 .3h0m-5.3 .2h0m5.8 .1h0m4 .3h0m-10.2 .4h0m3.2 .2h0m-.2 .4h0m0 2.3h0" stroke="rgb(191,191,0)"/><path d="M183.4 920h0m1.5 9.4h0m-5 2.7h0m1.1 1.3h0m-.2 1.1h0m-.8 .8h0m-1.7 .3h0m-1.4 .9h0m1.9 .7h0m5.7 .7h0m-5.5 .2h0m2.1 .1h0m.2 .3h0m-.9 1.7h0m.2 2.3h0m-7.4 1.1h0m12.6 .1h0m-1.3 1.7h0m-3.3 .2h0m4.3 .3h0m-5.7 1.1h0m6.5 1.1h0m-2 1.1h0m.5 .6h0m-8.2 .2h0m6.9 .9h0m-1.2 0h0m.5 .7h0m-1.1 0h0m4.2 .8h0m-8.6 .1h0m9.7 .3h0m-5.6 .4h0m5.3 .8h0m-8.5 .9h0m7.3 .2h0m1.7 .6h0m-3.9 .6h0m-3.5 .3h0m2.4 .8h0m.1 .2h0m-4 .3h0m10.9 .6h0m-8.3 6h0" stroke="rgb(191,191,0)"/><path d="M179.8 921.4h0m1 1.4h0m-7.9 1.2h0m10.9 4.3h0m-8.3 .4h0m6.1 1.2h0m6.2 .5h0m-4.4 1.3h0m-.5 .2h0m-1.2 4.9h0m-3.5 .9h0m11.6 1.1h0m-6.9 1.9h0m-4.7 1.4h0m2.3 1.2h0m4.6 .2h0m-2 .8h0m-3.8 .2h0m9.2 .6h0m-9.2 .7h0m3.6 1.1h0m-4.8 .2h0m4.7 1.1h0m-3.9 0h0m-1.7 1.9h0m9.6 1.1h0m-7.5 .2h0m-1.2 .5h0m1.1 .1h0m3.7 .2h0m1.1 .2h0m-5 .5h0m.2 1.4h0m6.6 .4h0m3.2 .3h0m-12.3 .3h0m1.4 0h0m5.6 .3h0m-5.4 .4h0m-.3 .1h0m5.4 .4h0m-.8 1.2h0m-4 .1h0m.5 .8h0m6.5 1.5h0m-1.7 1h0m-1.3 .9h0m-1.8 .8h0m-.6 5.1h0" stroke="rgb(191,191,0)"/><path d="M180.1 914.6h0m-.7 12.1h0m5.6 2.7h0m-1.2 4.4h0m.1 .2h0m1.2 1h0m-5.5 .9h0m1.8 1.7h0m-.9 .1h0m.4 .5h0m3.1 .1h0m-4.4 .3h0m4.3 0h0m4.7 1.5h0m-7.3 .4h0m.7 .1h0m1.1 1.1h0m1.3 1.1h0m9 .1h0m-17.9 1.2h0m5.7 .1h0m-2.6 0h0m.1 .5h0m2.9 .3h0m4.1 .2h0m-.9 .9h0m.3 .1h0m-1.7 .2h0m-2.5 .5h0m.8 .7h0m3.2 1.3h0m-.4 1.6h0m-7.9 .2h0m3.4 2.4h0m6.4 0h0m-5.9 1h0m.6 .1h0m4.7 .5h0m-.7 .3h0m-9.8 0h0m10.9 0h0m-6.7 .1h0m1.7 .9h0m-4.3 .1h0m5.2 .4h0m-4.5 .1h0m-.4 .2h0m4.6 2.8h0m2.1 .3h0" stroke="rgb(191,191,0)"/><path d="M177.1 930.8h0m-1.3 4.4h0m5.1 .7h0m.4 .6h0m-2.6 .8h0m1.8 .7h0m-1.4 .5h0m2.7 .2h0m.7 .8h0m6.8 1h0m-5.1 .1h0m-.9 .5h0m-5.4 .4h0m5.7 .3h0m-3 .2h0m-.8 1.2h0m1.9 .4h0m-3.3 .1h0m4.5 1.9h0m-.7 .1h0m-.3 .5h0m-4.7 .2h0m8.3 .4h0m-7.9 .2h0m2.5 .1h0m6.7 .5h0m-8.1 0h0m-4.1 .2h0m7.3 2.6h0m-1.4 1.4h0m-1.2 .3h0m-.7 1.1h0m14.5 .3h0m-5.9 .3h0m-5.6 .1h0m-4 .8h0m5.6 .3h0m2.6 .4h0m-2.8 .3h0m-3.3 .1h0m.8 .2h0m9.3 .1h0m-8.5 1.1h0m-2.3 .8h0m8.5 2.1h0" stroke="rgb(191,191,0)"/><path d="M177.3 923h0m2.7 .1h0m-3.7 .1h0m-2.8 .1h0m11.1 2.9h0m.6 1.3h0m-3.5 2.4h0m-5.9 1.4h0m8 .7h0m-.1 .3h0m4.1 1.2h0m-3.4 3.7h0m-1 2.9h0m-7.1 .2h0m11.6 .1h0m-7 .2h0m4.3 .7h0m-6.3 .5h0m7.7 .1h0m-2.7 .6h0m-4.1 .3h0m-.5 1.9h0m10.1 1.1h0m-11.4 .1h0m1.6 3.3h0m-1.8 .3h0m1.6 1.9h0m-6.8 .8h0m5.5 1.1h0m-.4 .1h0m3.4 2.1h0m-2.8 .7h0m.7 .2h0m-1.3 .2h0m-.7 0h0m2.8 .9h0m2.9 1.6h0m-1.1 .4h0" stroke="rgb(191,191,0)"/><path d="M178.3 871.1h0m5.9 11h0m2.7 24.8h0m-2.3 14h0m3.2 7.7h0m-4.7 .9h0m-7.3 1.2h0m7.4 2.2h0m-7 1h0m9.1 1.2h0m-1.6 1.2h0m-6.2 1.1h0m3.2 1.5h0m4.8 1.3h0m1.4 .7h0m-4.5 0h0m-1.8 2.9h0m3.4 .2h0m1.8 .7h0m-6.4 1.4h0m2.2 2.7h0m-.8 1.8h0m1.5 .1h0m-.9 .2h0m1.3 1.5h0m-1.4 .4h0m-.7 1h0m-.9 .4h0m4.3 .1h0m5.3 1.3h0m-7.7 .1h0m-.2 1.1h0m-4.9 .4h0m6.8 2.1h0m-4.3 4.3h0" stroke="rgb(191,191,0)"/><path d="M185.9 914h0m-.8 5.4h0m-4.3 1h0m3.7 6.9h0m6.6 4.2h0m-7 .9h0m4.4 .5h0m-3.2 2.7h0m2.8 1.2h0m-5.3 .8h0m.9 .6h0m-.8 1.3h0m4 .3h0m0 .9h0m-1.5 1.6h0m-8 1.5h0m5.6 .4h0m-2.1 .3h0m-1.7 1.1h0m4.2 .2h0m.3 .3h0m-2.2 .2h0m-1 .9h0m.9 .3h0m-1.6 1.2h0m1.8 1.7h0m-2.4 .4h0m3.5 1.2h0m-7 .1h0m-1.1 .9h0m7.7 1.2h0m.2 .1h0m1.1 .1h0m-3.3 0h0m3 .3h0m-6 .1h0m5.4 .8h0m-1.2 .3h0m1.7 2.1h0m1.2 1.2h0" stroke="rgb(191,191,0)"/><path d="M177.1 930.4h0m6.5 1.4h0m.9 3.4h0m-1.8 .2h0m-.8 2.9h0m5.4 .6h0m-4.6 .1h0m-3.4 .1h0m-2.3 .3h0m2.5 .6h0m.4 2.5h0m10.3 2.3h0m-18.9 .8h0m10.1 .3h0m-4 .2h0m4.3 .8h0m0 2.2h0m2.1 .3h0m-2.8 2.3h0m-2.5 2.1h0m3.3 .2h0m8.4 .3h0m-12.8 0h0m10.9 .1h0m-4.7 0h0m-2.7 .6h0m5.4 .9h0m-1.1 .2h0m-7.7 1.2h0m6 .8h0m2.9 .8h0m-4.8 2.1h0" stroke="rgb(191,191,0)"/><path d="M185.1 878.9h0m-1.5 26.4h0m.4 15.5h0m-.7 5.6h0m-2.8 .6h0m-4.3 7.4h0m4.2 .6h0m-3.5 1.8h0m8 .5h0m-3.9 .4h0m-3.4 2.6h0m1.3 0h0m-1.9 0h0m5.8 .8h0m-1.4 .3h0m10.2 .4h0m-10.2 .1h0m2.9 1.1h0m-6.3 .4h0m6.5 .4h0m-.9 .5h0m2 .2h0m1.3 .2h0m-8.7 .2h0m4.5 1.3h0m1.5 .2h0m-.3 1.4h0m-4.2 .9h0m7.8 1.1h0m-4 3.5h0m-6.4 .2h0m10.8 1.9h0m-8.4 .3h0m10.8 .3h0m-.8 .2h0m-4.2 .3h0m-5.1 4.2h0" stroke="rgb(191,191,0)"/><path d="M184.7 919.6h0m-2.4 5.5h0m.2 2.9h0m2.3 3h0m-2.1 .1h0m-7.4 3h0m9.3 3.6h0m-4.4 .5h0m3.6 .9h0m-2.2 .1h0m7.9 2.6h0m-8.5 1.6h0m-.9 .2h0m1.4 0h0m-4.2 .2h0m3.5 1.1h0m-1.8 .3h0m8.8 .5h0m-3.6 .1h0m-5.4 .1h0m9.1 .3h0m-9.1 .3h0m3.6 .9h0m2.6 0h0m-6 0h0m2.4 1.2h0m-.1 .3h0m-3 .5h0m12.3 .3h0m-11.8 .6h0m-1.3 .1h0m4.3 .8h0m.8 .4h0m2.3 1h0m-10.3 .8h0m6.6 .2h0m2.9 .4h0m-5.5 .2h0m5.7 .3h0m-5.1 .3h0m-5.2 .4h0m7 .2h0m-6.8 .2h0m13.3 0h0m-6.1 .8h0m2.4 .4h0m-8.8 .4h0m10.7 .6h0m-3.9 .5h0m3.8 1.2h0m-8.5 .4h0m4.8 .5h0m4.1 .2h0m-5.6 2.1h0" stroke="rgb(191,191,0)"/><path d="M187.4 914h0m-6.8 13.3h0m-.1 2.9h0m7.1 .4h0m-4 .2h0m.1 1.2h0m-6.7 2h0m11 0h0m-3.3 1.3h0m-2.6 1.1h0m-1.1 1.8h0m4.4 .1h0m-5.8 1.9h0m.4 .2h0m6.7 1.8h0m-5.3 .1h0m6.3 .7h0m.5 .7h0m-7.7 .1h0m4.8 1.7h0m-6.9 .2h0m2.9 0h0m-4.6 .4h0m3.8 .1h0m2.7 .2h0m.8 .1h0m-6.1 .6h0m-7.2 4.2h0m9.6 .3h0m-4.4 .1h0m9 .3h0m-4.9 .5h0m-.7 1.2h0m2.9 .6h0m-4.9 .1h0m6.3 .4h0m-8.3 .1h0m5.2 .1h0m-1.6 .1h0m6.4 .3h0m-1.1 .1h0m-1.8 .2h0m8 .3h0m-4.4 .5h0m-6.5 1h0m8.3 .7h0m-4.3 1.5h0" stroke="rgb(191,191,0)"/><path d="M185.5 914h0m-3 12.7h0m3.1 4.9h0m-5.1 .7h0m4.6 .8h0m-3.8 1.2h0m1.2 .6h0m-2.3 1.2h0m.5 .4h0m-6.2 1.5h0m11.2 .1h0m-3.9 4.1h0m-1.2 .5h0m-7.6 1.5h0m11.3 .8h0m6.4 0h0m-9.8 .6h0m2.3 .2h0m-3.4 1h0m-1.5 .7h0m7.3 .5h0m-2.2 .1h0m.5 0h0m3.8 .8h0m-2.7 .7h0m-.2 .6h0m-11.2 .3h0m7.6 .2h0m2.8 .1h0m.6 .7h0m4.4 1.5h0m-10.2 .1h0m2.6 0h0m4.6 .5h0m-9.9 1.1h0m4.4 1.8h0m8.2 .3h0m-7.5 .7h0m3.6 1.8h0m-5.1 1h0m4.4 3.5h0" stroke="rgb(191,191,0)"/><path d="M181.9 888.3h0m1.5 26h0m6.3 10.1h0m-4.3 4.2h0m-4.8 4.2h0m3.2 4.8h0m-4.3 1h0m1.1 .2h0m1.9 .9h0m-3.1 0h0m2.5 2h0m3.6 .2h0m-6.1 .1h0m-5.7 .5h0m14.2 .6h0m-7.3 .9h0m3.1 .3h0m3.6 .6h0m-9.5 1.1h0m5 .4h0m2 .1h0m-1.3 .8h0m.6 .9h0m-4.4 .4h0m-1.9 .4h0m8.3 .3h0m-8.3 3.1h0m10.1 1.1h0m-7.5 .1h0m3.2 .1h0m-2.9 .6h0m-3.5 .1h0m7 .3h0m-4.2 0h0m4.4 .2h0m-1.3 .9h0m-3.6 0h0m0 .5h0m4.6 .1h0m-7 2.2h0m-2.4 .7h0m13.4 .6h0" stroke="rgb(191,191,0)"/><path d="M183.8 893.8h0m3.4 28.6h0m-4 7.3h0m-.3 .2h0m1.5 6.1h0m-2.8 3.3h0m-1.8 1.3h0m5.7 1.6h0m-5.2 .1h0m2.2 .1h0m-4.6 .3h0m3.4 .2h0m-4.6 2.2h0m7.7 .3h0m-2.1 .4h0m-4.6 .1h0m2.6 .7h0m-.5 .3h0m.9 3.4h0m.9 .4h0m4.9 1.3h0m-7.6 .2h0m3.2 .7h0m.5 1.6h0m-2.1 1.1h0m6.5 1.2h0m-7.7 .1h0m9.9 1h0m-9.4 1.7h0m1.8 .6h0" stroke="rgb(191,191,0)"/><path d="M175.8 902h0m8.3 17.5h0m-5 6.5h0m-1.8 1.8h0m.6 .9h0m8.2 4.5h0m-2.7 4.3h0m-3.5 .8h0m7.1 .1h0m-10.7 .9h0m1.3 .3h0m7.9 2.3h0m-3.3 .7h0m5.6 1.2h0m-10.7 .4h0m6.1 .7h0m-.8 0h0m1.1 .9h0m2 .4h0m-4.4 .8h0m0 .3h0m3.9 .3h0m3.5 2.1h0m-2.6 1.7h0m-14.2 .3h0m17 .3h0m-.4 .8h0m-6.7 .3h0m-2.1 .1h0m1.3 .2h0m2.9 .5h0m-2.5 .6h0m-9.1 1.9h0m7.2 .6h0m-.1 .9h0m2.9 2.4h0m2.1 7.6h0" stroke="rgb(191,191,0)"/><path d="M184.2 925.9h0m-4.9 1.7h0m.8 1.4h0m2.5 1.9h0m-8.6 1.6h0m11.8 1.6h0m-7.5 2.7h0m2 2.7h0m-4 1.9h0m.5 .6h0m6.1 .8h0m-4.2 1.1h0m-1.2 .6h0m8.2 .1h0m-13.4 .3h0m9 .2h0m1 .2h0m-3.4 1.8h0m3.7 .2h0m.3 .1h0m-2.2 .1h0m4.3 .5h0m4.7 .4h0m-10.5 .3h0m1.1 1.3h0m2.4 .1h0m-2.4 .2h0m1.4 1.7h0m-1 0h0m-.3 .3h0m-.2 1.5h0m4.4 0h0m-.1 1h0m.7 .4h0m-4.2 0h0m-2 .4h0m5.9 .1h0m-5.7 .8h0m-2.7 .3h0m10.9 .1h0m-8.2 .9h0m1.9 .2h0m0 .8h0m-1.3 .2h0" stroke="rgb(191,191,0)"/><path d="M175.3 925.4h0m17.5 4.5h0m-11.5 2.3h0m-.7 1.2h0m1.8 2h0m1.3 .7h0m-3.5 .1h0m4.7 .3h0m.5 .6h0m-1.3 1.7h0m-3.5 .3h0m1.9 .5h0m3 .2h0m-3.5 .4h0m1.2 .5h0m-8.2 1.2h0m6.3 4.6h0m-.3 .3h0m.5 .4h0m-.3 .4h0m-.9 2.1h0m4.6 1.5h0m-6.4 1.4h0m6.5 .2h0m-11 .2h0m1.9 1.3h0m3 .1h0m3.4 .1h0m1.6 .1h0m-5.6 .4h0m6.4 .1h0m-2.3 .7h0m-6.1 .3h0m3.8 1.1h0m.7 .7h0m4.3 .1h0m.3 .1h0m-3.9 0h0m-1.1 .9h0m-6.4 1h0m12.2 1.8h0" stroke="rgb(191,191,0)"/><path d="M179.2 922.5h0m-.2 .9h0m3.6 1.1h0m-2.7 3.1h0m2.3 .3h0m-5.8 3.3h0m2.2 1.5h0m2.1 1.4h0m1.7 .7h0m1.3 2.1h0m3.7 .2h0m-8.3 .7h0m8.5 .6h0m-5.5 .9h0m.9 .8h0m-8.4 .2h0m3 .1h0m5.3 .1h0m-.1 .4h0m3.8 .1h0m-6.1 .1h0m7.4 1.1h0m-8.1 1.7h0m-1.1 .7h0m5.7 .7h0m.9 .3h0m-1.9 .4h0m-.4 .1h0m1.4 .3h0m.2 1.2h0m-5.6 1h0m-.1 .2h0m-.1 .2h0m.5 .2h0m12.7 1.3h0m-10.7 .5h0m-1.2 .3h0m-6.7 .6h0m7.3 1.2h0m3.2 1h0m.4 .1h0m-1.5 .2h0m2.1 .5h0m-2.9 .5h0m.2 1.5h0m-2.2 .1h0m1.9 1.6h0" stroke="rgb(191,191,0)"/><path d="M182.9 891.3h0m-2 22.4h0m4.5 14.7h0m-.6 1h0m-2.3 1.6h0m5.1 .8h0m-11.5 2.4h0m2.4 4.8h0m6.3 1.5h0m-3.3 .3h0m-2.7 .4h0m2.3 .9h0m4.6 .1h0m-4.2 .1h0m.8 .6h0m-1.6 .5h0m-1.3 .1h0m4.3 .5h0m2.5 .1h0m-.4 1.2h0m-8 1.1h0m4.3 .5h0m4.7 .1h0m-8.3 .2h0m6.6 1.1h0m-3.8 .1h0m.4 .5h0m-3.7 .2h0m-5.8 .3h0m8.8 1.1h0m-1.5 0h0m9.3 0h0m-2.6 .1h0m-2.7 .3h0m1.7 .2h0m-2.1 .8h0m.9 .9h0m.4 .1h0m4.2 .2h0m-6.1 .5h0m-1.1 .7h0m3.8 1.4h0m-8.4 .6h0m6.2 0h0m5 .9h0m-5 .1h0m-7.3 1.3h0m10.1 .5h0m-4 2.7h0" stroke="rgb(191,191,0)"/><path d="M183 924.5h0m-2.1 .8h0m0 2.4h0m-.2 1.7h0m2.1 1h0m-3.4 6.5h0m-.9 0h0m2.4 2.3h0m1.8 1.4h0m-3.3 .9h0m5.7 .3h0m-1.8 .6h0m-1.9 1.3h0m3 .1h0m.9 1.6h0m.7 .9h0m-7 3.6h0m2.8 .3h0m5.6 .2h0m1.5 .7h0m-4.6 .4h0m-9.5 1.5h0m5.6 .9h0m.5 .3h0m4.8 .3h0m-3.4 0h0m-4.6 .6h0m3.2 .3h0m1.1 .1h0m1.3 1.5h0m-3.5 .4h0m-2.2 .9h0m-3.1 .7h0m4.4 .1h0m3.3 2.1h0m-5.1 2.8h0m2.2 1h0" stroke="rgb(191,191,0)"/><path d="M187 890.3h0m-9.3 10.9h0m5.5 21.9h0m-6.7 2.3h0m12.1 4.6h0m-9.4 .3h0m7.8 2.4h0m-9.3 1.9h0m-5.9 .3h0m7 1h0m8.7 .1h0m-3 .5h0m0 1.1h0m1.8 3.5h0m3.4 1.2h0m0 .5h0m-10.5 .3h0m-4.2 1h0m15 .3h0m-5.2 .8h0m3.4 .2h0m-9.1 1.3h0m4.9 .1h0m-6.5 .6h0m4.3 0h0m-2 .4h0m5.4 .1h0m-2.7 .7h0m4.4 .3h0m-2.5 0h0m.7 1.3h0m3.1 1.4h0m-10.2 1.5h0m.7 .7h0m-2.2 0h0m-2.6 .5h0m9 0h0m-6.2 1.4h0m3.9 .7h0m10.8 .9h0m-12.8 1.5h0m-1.9 .6h0m5.8 .2h0m2.8 1.9h0" stroke="rgb(191,191,0)"/><path d="M179 883.7h0m1.5 37h0m.9 6.7h0m1.5 4.7h0m-6.8 1.2h0m4.4 .9h0m2.6 .2h0m5.9 3.1h0m-7.5 .3h0m-2.9 2.8h0m1.1 .7h0m-1.5 .8h0m9 1.7h0m3.8 .1h0m-16.7 2.6h0m4.5 2.5h0m6.8 2.7h0m-3.9 2.1h0m2.2 1.2h0m-1.4 1.4h0m-2.6 .3h0m-.4 4.4h0m-1.1 .9h0" stroke="rgb(191,191,0)"/><path d="M185.9 921.3h0m0 3h0m-2 5.6h0m.8 1.3h0m-.9 1.7h0m2.5 2.3h0m-5.6 .5h0m-1.6 .7h0m1.3 .8h0m1.2 3.9h0m1.5 .8h0m-1.3 .1h0m-2.6 .4h0m3.8 .6h0m-1 .7h0m-1.7 .2h0m2.1 .6h0m-2.1 1.7h0m2.7 .6h0m-1.5 .8h0m5.9 .7h0m-5.4 .9h0m1.4 .8h0m-4.7 .5h0m3 2.2h0m-3.5 .9h0m1.9 .3h0m6.8 .3h0m-3.7 .9h0m2 .4h0m2.8 .1h0m-5.2 .2h0m3.1 .4h0m-4.6 .2h0m-2.5 .2h0m2 .8h0m1.8 .4h0m.5 .3h0m.2 2.9h0m-4.2 2.5h0" stroke="rgb(191,191,0)"/><path d="M236.7 837.9h0m1.4 34.9h0m-.3 29.5h0m1.5 .8h0m-5.9 10.5h0m.9 4.1h0m.1 .1h0m.1 .1h0m-2.4 1.2h0m8.2 0h0m2 1h0m-3.6 1.5h0m2.5 3.2h0m-7.3 2.4h0m2.8 0h0m-1.7 .5h0m2.8 .1h0m-2.7 .8h0m6.6 2.2h0m-3.4 6.5h0m2.2 .3h0m1.9 .8h0m-2.2 1.4h0m-2.4 .1h0m-.3 .9h0m1 4.3h0m2.2 1.4h0m-1.1 6h0" stroke="rgb(0,191,191)"/><path d="M242.5 859.8h0m-9.8 41.6h0m4.4 1.4h0m8 .4h0m-13.9 3.2h0m8.1 3.4h0m4.7 2.3h0m-1.5 1.2h0m-7.2 2.2h0m2.8 3.5h0m2.5 .1h0m-6.8 .1h0m4.4 2.4h0m-2.5 1.5h0m8.1 1h0m-7.3 .6h0m5.8 1.1h0m.2 1.2h0m-1 .9h0m-4.7 .4h0m1.2 0h0m3.5 .2h0m2.6 0h0m-11.8 .1h0m7.3 .5h0m-1.8 .1h0m2.7 .2h0m-1.7 .1h0m-.7 .1h0m-3.3 .3h0m8.8 .5h0m-6.8 .8h0m.8 .1h0m-3 1h0m3.7 .1h0m9 .1h0m-5.5 .4h0m-3.4 1.6h0m-4.4 2.1h0m4 .1h0m-2.8 .1h0m5.4 .3h0m1.5 0h0m-2.4 1.4h0m-3 1h0m6.2 .9h0m-5.5 0h0m2.7 0h0m-8 .3h0m1.1 .1h0m10.2 1.8h0m-.6 3.8h0m3.2 2.7h0" stroke="rgb(0,191,191)"/><path d="M240.1 899.2h0m1.3 6.5h0m-.1 3.6h0m-4 2h0m6.8 1.4h0m-5.1 .1h0m-1.3 1.4h0m1.7 2.2h0m1.8 2.7h0m-2.3 2h0m.2 2.7h0m1.7 2.7h0m.2 .9h0m4.7 0h0m-.3 2h0m-12.1 .9h0m6.9 1.9h0m-6.2 3h0m-1.2 .3h0m5.9 1.3h0m7.9 .2h0m-8 1.2h0m-3.7 0h0m2.7 .1h0m-4.5 .5h0m12.9 1.9h0m-8.6 1.3h0m-2 .8h0m7.4 .1h0m-7.8 .4h0m7.4 1.8h0m-8.5 1.2h0m4.4 1h0" stroke="rgb(0,191,191)"/><path d="M237.7 886.6h0m2.4 13.5h0m.4 4.3h0m2 1.8h0m-7.2 2.7h0m2 1.7h0m-5.7 .3h0m-1.7 1.4h0m9.8 1.9h0m-1.3 .7h0m-2.3 0h0m1.6 .4h0m-6.7 .8h0m-.6 .7h0m10.1 2.9h0m-1.3 .8h0m-3.6 2.9h0m-2.6 .1h0m3.8 .2h0m4.1 .3h0m-4.1 2h0m4.4 .7h0m-2.7 .7h0m-3.5 .9h0m4.1 1h0m2.6 2.5h0m-2.3 .7h0m1.9 2.2h0m-.7 .7h0m.2 1h0m-2.9 .7h0m2.9 .8h0m.9 .4h0m-.5 0h0m-12.1 .5h0m10.1 1h0m-6.1 .4h0m3.1 2.4h0m1.9 0h0m-1.8 4h0" stroke="rgb(0,191,191)"/><path d="M243.5 893.9h0m.9 9.4h0m-4.1 12.3h0m1.6 1.3h0m-5.5 .4h0m2.2 0h0m-1.7 2.8h0m6.1 1.7h0m-3.9 .2h0m-.5 .5h0m2.9 .1h0m-3.5 .7h0m-1.6 2.2h0m-2.4 .5h0m1.4 .7h0m7.8 .1h0m-1.8 .2h0m-7.9 .3h0m-.5 .1h0m13.8 1.3h0m-5.5 0h0m-4.8 .2h0m7.2 .3h0m-15.8 .1h0m13.9 0h0m-5.5 0h0m9.9 .5h0m-6.1 0h0m-.3 .9h0m-.8 .3h0m7.5 1.2h0m-7.1 4.6h0m.4 .3h0m2.4 .2h0m-6.2 .3h0m-10 .2h0m7.9 .2h0m1.4 .4h0m-.1 .5h0m6 .1h0m-2.6 1.3h0m2 .1h0m-8.6 .4h0m9.5 .3h0m-3.4 2.2h0m3.8 .1h0m-5.7 .5h0m3.6 3h0m-3.7 10.2h0" stroke="rgb(0,191,191)"/><path d="M241.6 866.5h0m.6 9.4h0m.3 14.7h0m-2.9 4.2h0m-5.1 8.6h0m.5 4.8h0m3.8 0h0m2.3 2.6h0m-8.6 .1h0m1.8 1.5h0m3.3 .7h0m4.9 .7h0m-2.6 3.9h0m-1.7 .3h0m3.9 1.3h0m.3 .7h0m-2.6 .7h0m-3.7 2.2h0m7.1 2h0m-5.6 2.9h0m-5.3 1.1h0m11.6 .6h0m-8.1 0h0m1 1.7h0m7.6 .5h0m-7 .5h0m2.5 .4h0m-5.2 .7h0m7.4 .6h0m-8.8 .5h0m3.7 2.5h0m3.8 .3h0m-.8 .3h0m-2.7 .7h0m4.1 .3h0m-.1 .1h0m4 .1h0m-6.2 1.1h0m1 .9h0m-7.2 .7h0m9.5 0h0m-1.5 .4h0m-.9 2.5h0m-2.5 1.2h0" stroke="rgb(0,191,191)"/><path d="M231.8 819.7h0m7.4 41.5h0m-7.3 2.7h0m5.4 12.4h0m3.4 35.1h0m-.9 .5h0m-3.1 .3h0m2.6 3.3h0m-2 1.4h0m-1.6 2.3h0m5.6 .6h0m-7.3 .9h0m1.8 .3h0m3.1 .8h0m.5 .5h0m-3.6 2.8h0m3.9 .1h0m-4 .8h0m1.6 .5h0m6.4 1.3h0m.7 2.5h0m-4.1 1.2h0m2.1 .3h0m-6.6 1.1h0m7.7 0h0m-3.5 .2h0m.4 .6h0m-2.4 .1h0m-1.4 .2h0m-1.5 .9h0m2.2 1.1h0m5 .7h0m-1.6 .4h0m2.1 .4h0m-4.5 .7h0m-3 1h0m4.4 .2h0m-8.5 2.2h0m3.8 1.1h0m3.3 3.8h0" stroke="rgb(0,191,191)"/><path d="M234.4 878.2h0m-.6 .3h0m4.5 14.4h0m3.5 4.9h0m-4.1 3.7h0m1 3.8h0m-1.8 2.9h0m9 3.3h0m-11.2 .7h0m1.1 1.3h0m3.1 1.3h0m-2.9 .6h0m-2.1 .4h0m2 .2h0m6.5 2.4h0m-1.5 .5h0m-4.7 1.9h0m-1.4 .2h0m6 2.7h0m.3 .1h0m-1.7 1h0m-3.7 .6h0m9.4 .7h0m-10.4 1.5h0m6.1 1h0m1.4 3.5h0m-7.3 1.1h0m7.4 .1h0m-9.7 1h0m.3 .1h0m11.7 1.4h0m-10.5 .3h0m5.3 .6h0m.1 0h0m-6.2 1.2h0m11.6 .5h0m-6.1 .2h0m1.5 .2h0m-4.4 .1h0m-1 2.2h0m5.9 .9h0m-2.6 1.4h0m6.8 2.7h0" stroke="rgb(0,191,191)"/><path d="M234.3 864.1h0m3.1 22.4h0m-1 14.4h0m3 .2h0m-8.7 4.6h0m4.4 1.3h0m2.3 1.8h0m2.1 1h0m-1.9 3.1h0m4.6 1.4h0m-8.5 1.1h0m4 1.2h0m5.2 1.7h0m-13.7 1.2h0m3.2 1.1h0m2.6 1.8h0m8.9 2.7h0m-9.8 .2h0m-3.7 2.1h0m10.3 .8h0m-3 .7h0m1.4 .2h0m-6.5 .1h0m5.8 .4h0m10.8 .3h0m-9.7 .5h0m-.2 3.1h0m-2.2 .4h0m-2.1 0h0m4 3.4h0m.8 .1h0m4.4 0h0m-12.4 .4h0m1.4 2h0m7.3 0h0m-7.4 1.9h0m-1.8 1h0" stroke="rgb(0,191,191)"/><path d="M249 894.3h0m-10.3 9.7h0m-7.7 11.9h0m13.7 .1h0m-6 .8h0m-3.2 .7h0m8 .2h0m-6.6 .7h0m4.9 .3h0m-2.7 .5h0m1.8 .8h0m-2.6 .6h0m8.2 .1h0m-4.9 .4h0m-6.4 .9h0m-2.2 .9h0m5.6 .1h0m3 1h0m-2.1 .4h0m3.2 .1h0m-.1 .7h0m-6.1 .2h0m.9 .4h0m-1 2h0m6.7 .2h0m-6.2 .8h0m3.1 2h0m-2.8 1.6h0m.7 1h0m-.5 .7h0m10.3 .2h0m-13.9 1.6h0m5.3 .6h0m1.3 1.7h0m4 .3h0m-7.8 .3h0m1.2 .5h0m-2.2 .8h0m.9 1.3h0m2.9 .6h0m.2 0h0m3.5 2h0m-1.4 1.6h0m-4 .7h0m.8 3.6h0" stroke="rgb(0,191,191)"/><path d="M244.5 904.2h0m-11.2 3.2h0m6 .7h0m-3.1 2.2h0m1.1 .9h0m.5 4.8h0m0 3.3h0m6.7 .7h0m-11.1 .8h0m10.3 .3h0m-1 .1h0m-4.8 .9h0m7.7 1.3h0m-3.8 .6h0m-9.6 .1h0m7.4 1.8h0m2.9 .1h0m-7 .2h0m1.5 1.5h0m1.6 1.5h0m1.3 .2h0m-5.9 .6h0m4.3 1.4h0m2.7 0h0m-5.7 3.2h0m4.6 2h0m-7.2 .5h0m7.3 .1h0m-5.2 0h0m-1.2 .9h0m1 1.4h0m3.1 .1h0m8.7 .8h0m-7.1 .4h0m3.5 5.3h0m-.6 .9h0m-3.1 .7h0m2.7 1.2h0" stroke="rgb(0,191,191)"/><path d="M240 905.2h0m-3.6 2.3h0m2 .7h0m-3.1 4h0m5.7 3h0m-1 1.1h0m-.2 .6h0m-3.7 3.7h0m2.3 1.7h0m-7.4 2.2h0m7.3 .1h0m-6 .2h0m5.7 .5h0m5 .2h0m-7.6 .4h0m3.2 .1h0m-.1 .5h0m.2 1.8h0m-.4 1.2h0m4.9 .4h0m-7.1 .4h0m-3.7 .6h0m4.4 .4h0m8 3.1h0m-12.6 .7h0m12.6 .2h0m-7.7 0h0m2.4 .7h0m-.2 .2h0m-1.5 .9h0m-2.2 .2h0m8.1 .7h0m-5.4 .7h0m-.7 1.3h0m-2.6 2.2h0m-.2 3.5h0" stroke="rgb(0,191,191)"/><path d="M243.6 852.9h0m-8.6 8.7h0m4.4 8.4h0m-.7 13.6h0m6.6 22h0m-6.5 9h0m-1.2 .4h0m0 3.9h0m.2 .3h0m6.1 .3h0m-6.3 .1h0m-.5 .4h0m3.3 2.1h0m-.9 1.5h0m-4.1 1h0m9.2 .2h0m-4 1.1h0m-4.5 .6h0m-1.2 .8h0m-1.2 .6h0m-1.9 1.1h0m7.5 .8h0m2.3 1h0m-4.4 .3h0m-2 .7h0m4.8 .5h0m-2.5 1.2h0m4 .6h0m-5 .2h0m5.4 .8h0m-10.4 .8h0m8.2 .1h0m4.7 1.1h0m-6.6 .3h0m.1 .1h0m2 .7h0m-1.8 .8h0m4.8 .4h0m-5.9 1.3h0m4.9 .2h0m-7.4 .1h0m9 1.3h0m-1.9 1.6h0m-4.4 .7h0m-1.2 2.7h0m2.7 1.6h0" stroke="rgb(0,191,191)"/><path d="M233.9 871.2h0m3.9 22.5h0m-.3 9.7h0m-1.4 .4h0m1.4 6.1h0m1.5 2.3h0m-8.7 .5h0m9.7 .7h0m6.6 2.4h0m-6.1 .4h0m-6.5 2.4h0m-.3 .6h0m-1.1 2.5h0m9.5 2.4h0m-5.7 0h0m6.7 .1h0m-8 .1h0m7.9 1.4h0m-7.9 .1h0m1.9 .7h0m-1.7 .1h0m2.7 1.2h0m2.5 .2h0m-5.9 .4h0m6.3 0h0m.3 .9h0m-5.7 1.6h0m4.9 3.9h0m3.7 .1h0m-7.3 .9h0m-.7 .9h0m3.3 .2h0m-2.9 .6h0m-1.2 .4h0m4.4 1.3h0m-2.9 2.6h0m4.5 0h0m-4.2 .1h0m-.6 1.2h0m1.4 3.4h0m-5.9 .7h0m5.3 2.6h0m-.3 .4h0" stroke="rgb(0,191,191)"/><path d="M235.8 899.7h0m3.4 .8h0m-6 10.7h0m3 1.7h0m3.3 .3h0m-1.9 .8h0m1.5 3.7h0m-4.2 .1h0m7.5 1.4h0m1.8 1.4h0m-5.4 .9h0m-3.9 1.4h0m7.7 1.8h0m.9 .2h0m-6.1 .1h0m4.9 2.9h0m-1.6 .7h0m-4.4 .1h0m8.1 .2h0m-3.6 1h0m-7.7 .1h0m.4 2.7h0m10 .2h0m3.1 1.7h0m-13.5 .3h0m11.5 1.7h0m-5.9 .5h0m-1.6 3.9h0m-2.8 1h0m5.6 3h0" stroke="rgb(0,191,191)"/><path d="M238 892.8h0m-3.5 1.8h0m5 2.6h0m-3.2 6h0m4.6 2.6h0m-.5 5.9h0m5 2.4h0m-4.4 .1h0m-3.9 .8h0m1.4 .7h0m1.2 1.7h0m-11.4 .3h0m9.6 1.6h0m.7 1.1h0m-.6 .1h0m3.1 .1h0m-5 2.6h0m3.6 .5h0m2.3 .7h0m-13.8 1.1h0m10.5 .5h0m.4 .5h0m3.5 1.6h0m-2.5 .2h0m.3 1.2h0m-3.7 .9h0m2 .2h0m2.2 1h0m2.7 .1h0m-.1 1.6h0m-6.6 .5h0m2.2 .2h0m-.6 .3h0m-4.6 0h0m3.3 .9h0m-.3 .5h0m4.2 1.6h0m-1.9 .8h0m-4.3 .7h0m3 2.9h0m-3.6 1.1h0m8.1 .3h0m-4.1 0h0m1.4 .2h0m-1 2.6h0m-1.5 .2h0" stroke="rgb(0,191,191)"/><path d="M243.3 866.2h0m-4.3 28.6h0m-1 7.8h0m-1.7 4.5h0m3.8 4.5h0m-5.9 2.1h0m4.5 2.1h0m-1.8 .2h0m3.1 .1h0m-.4 .9h0m.7 .9h0m-6.4 .1h0m6.2 1.3h0m0 1.2h0m-.6 .2h0m-3.6 .2h0m-2 1.7h0m10.3 .1h0m-1.7 .3h0m-6.9 .7h0m5.6 3.5h0m-.5 0h0m1.5 .4h0m-8.2 .5h0m-1 .6h0m5.9 .4h0m2.2 2.6h0m1.2 .5h0m-1.8 1.4h0m-1.1 1h0m-2.5 .6h0m-1.6 .2h0m5.3 1.4h0m-.8 .7h0m-3.5 .8h0m-.5 .2h0m-4 .8h0m8.2 1.2h0m-4.7 1h0m-1.9 .7h0m8.3 0h0m-3.7 1.5h0" stroke="rgb(0,191,191)"/><path d="M238.7 857h0m-1.8 37.3h0m-9.3 1.6h0m14.8 12.2h0m-4.6 .4h0m3.5 1.2h0m4.2 .8h0m-8.6 .6h0m2 1.5h0m-2.9 .7h0m-1.6 3.8h0m5.5 0h0m.6 .9h0m-9 1.3h0m7 0h0m-1.7 .1h0m2.9 .5h0m-.5 .2h0m6.4 3.3h0m-12.8 .5h0m5.8 .5h0m-3.1 .5h0m10.6 .4h0m-6.1 .3h0m-5 .9h0m2 1.3h0m10.1 1.4h0m-10.7 .1h0m3.1 .2h0m-4 1.7h0m3.1 .5h0m1.2 .4h0m.7 .3h0m-3.1 .2h0m-.5 .4h0m-.7 1.3h0m-2.2 .5h0m-.8 .9h0m7.8 .2h0m-7.3 .1h0m2.4 .1h0m-2.6 .2h0m6.7 .4h0m-3.6 .2h0m-.6 0h0m-3.2 .8h0m13.1 1.1h0m-2.8 .5h0m-3.3 .2h0m.9 .5h0m1.4 1h0m-4.6 .6h0m3.7 2.5h0m1.4 1.4h0m-7.6 4.7h0m-1.1 .3h0m1.1 2.8h0" stroke="rgb(0,191,191)"/><path d="M241.1 814.3h0m.2 68.3h0m-4.7 13h0m3.7 1.8h0m-.8 2.8h0m2.8 4.8h0m-1.1 4.7h0m-1.3 1.6h0m-7.1 1.4h0m9.5 7.7h0m.4 .4h0m-4.6 .1h0m4 2.8h0m-2.7 1.5h0m2.6 1.4h0m-4.7 .5h0m-.6 .3h0m4 .7h0m-.1 .5h0m-1.3 2.2h0m1.1 1.2h0m-2.1 1.5h0m-2.9 .5h0m-.5 .6h0m-.6 1.1h0m8.4 .2h0m-9.9 .4h0m15.3 .6h0m-17.2 .5h0m10.4 .2h0m-13.2 .3h0m8.2 .4h0m5 0h0m-1.1 1h0m-2.9 1.8h0m-1 .7h0m4.1 .7h0m-6.2 2h0m1.6 2.7h0m-6.6 .1h0m7.9 .6h0m2.3 .6h0" stroke="rgb(0,191,191)"/><path d="M242.4 897.8h0m-.4 1.8h0m-.9 3.1h0m-4.2 1.8h0m12.3 4.4h0m-11.2 3.1h0m-2 2.1h0m1.4 .2h0m-5.4 0h0m3.5 .4h0m-1.5 1.7h0m14 1.2h0m-9.9 .3h0m-4.4 .3h0m5.9 1.1h0m-9 1h0m.5 1.6h0m2.9 1h0m9.3 1.8h0m-2.3 1.7h0m-2.2 .3h0m1 .7h0m4.8 .1h0m-2.2 .2h0m-2.6 .2h0m-2.2 1h0m4.1 1.7h0m-3.9 .8h0m.1 1.5h0m-6.5 .1h0m11.5 .8h0m-10 .4h0m12 1.1h0m-4.7 1.1h0m3.6 .3h0m-1.1 1.5h0m-6.4 .8h0m5.5 .1h0m-4.2 .2h0m-.3 2h0m-.1 .2h0m-4.5 0h0m7.9 .3h0m-7 .9h0m8.2 .1h0m-1.6 .3h0m2.2 .9h0m-7 1.8h0m-2.6 2.4h0" stroke="rgb(0,191,191)"/><path d="M238 778.4h0m-1 116.1h0m-.9 4.8h0m1.2 3.7h0m-2.8 1.1h0m5.3 3.5h0m5.4 .3h0m-5.1 .7h0m-5.8 .2h0m5 3.7h0m-4.3 .1h0m.8 2h0m4.1 .4h0m2.9 .3h0m-5.8 1.8h0m-3.3 3.3h0m7.8 1.3h0m1.5 .8h0m5.1 .7h0m-15.3 2.9h0m2.4 .4h0m3.8 .7h0m1.6 .1h0m2.8 .1h0m-5.5 .3h0m-3.7 .3h0m8.4 .2h0m-.8 .3h0m-7.6 .4h0m5.6 .3h0m.2 0h0m5.1 1.9h0m.1 1.8h0m-9.3 .2h0m1.2 .9h0m6.2 .2h0m-.4 1.4h0m.9 1.4h0m-4.1 1h0m4.8 0h0m-6.4 .4h0m-1.4 5.9h0" stroke="rgb(0,191,191)"/><path d="M239.6 903h0m-.8 3h0m-.3 1h0m3.4 5.2h0m-.4 1.2h0m-3.8 .5h0m-.2 1h0m5.3 1.3h0m2.4 2.9h0m-6.3 .1h0m-4.3 .6h0m3.2 .4h0m-1.8 .4h0m-1.8 .1h0m-.8 1h0m8.2 .7h0m-1.8 0h0m2.6 .4h0m-3.4 .6h0m2.8 1.6h0m-9.4 .3h0m7.6 .1h0m-2.3 .8h0m-4.4 .2h0m6 .1h0m-2.8 .5h0m6.5 .1h0m-7.4 .5h0m-.6 .7h0m6 1.5h0m-5.1 4.5h0m-.3 .6h0m1.6 2.2h0m-4.4 .9h0m6.7 .4h0m4.8 1.2h0m-9.1 .1h0m2.8 0h0m-3.4 .1h0m2.6 .4h0m1.7 .9h0m.2 1.8h0m-1.6 5h0m7.1 2.1h0" stroke="rgb(0,191,191)"/><path d="M238.5 883.4h0m.3 15h0m-2.4 1.2h0m-2.3 .3h0m11.1 9.8h0m-10.3 .1h0m6.6 2.6h0m-.9 .1h0m5.3 2.6h0m-3.7 .3h0m-3.5 .2h0m1.1 .3h0m-6 .1h0m1.6 .8h0m.7 2.4h0m-1.1 .1h0m2.8 .3h0m-.8 .1h0m1.3 .2h0m.7 2h0m1.7 .8h0m-.5 .1h0m-6.7 .5h0m5.3 .8h0m.1 .9h0m2 .2h0m-.9 .5h0m2.2 .7h0m.9 2.1h0m-5.1 .5h0m-.7 2.3h0m3.7 1h0m4.6 .4h0m-4.8 .1h0m-.4 1.5h0m-3.6 .7h0m5.9 .7h0m-13.2 .1h0m4.4 .5h0m7.3 1.5h0m-4.3 .9h0m2.5 .4h0m-.7 1h0m-1.3 2.4h0m-8.5 .9h0m4.8 1.3h0" stroke="rgb(0,191,191)"/><path d="M237.7 842.5h0m2.5 13.9h0m-1 40h0m1.5 12.9h0m5.4 1.3h0m-2.9 3.2h0m-1.9 6.2h0m-2.8 3.8h0m5.3 .8h0m-7.6 .2h0m2.3 2h0m2.4 .5h0m-3.9 .3h0m0 3.8h0m-1.7 .1h0m-1.3 1.2h0m9.9 1.9h0m-2.2 .1h0m-2.3 .2h0m-4.1 2.1h0m3.5 .7h0m3 0h0m-9.8 .1h0m9.2 0h0m-.7 .9h0m-3.8 .5h0m-1.9 .1h0m2.2 1.4h0m-6.1 4.8h0m10.6 1.6h0" stroke="rgb(0,191,191)"/><path d="M298.1 900.2h0m-3.1 2.4h0m0 1.5h0m0 .5h0m5.4 1.7h0m-4.8 3.9h0m-3.1 1.6h0m2.1 .1h0m5.3 .1h0m-7.5 .1h0m.6 .9h0m9.5 .1h0m-6.3 .2h0m4.2 2h0m-9.4 0h0m4.1 0h0m-6.3 1.3h0m4.2 .9h0m5.4 .1h0m-.8 1h0m0 .2h0m-4.3 .8h0m-4.3 1.6h0m9.2 .1h0m-4.8 .2h0m2.4 .4h0m1.1 .4h0m-3.2 .5h0m3.6 1.4h0m-1.4 .5h0m1.8 .6h0m-2.8 .2h0m-2.9 .5h0m9.2 1.1h0m-10.8 .2h0m2.2 0h0m6.8 .6h0m2.7 1.4h0m-2.7 .5h0m-8.6 .3h0m7.6 .8h0m-4.2 .2h0m2.5 .1h0m-6.6 .1h0m5.2 .3h0m2.3 1h0m-.4 .2h0m-7.4 .1h0m2.8 .1h0m6.2 0h0m-4.5 .2h0m-4.1 .5h0m5.1 .3h0m-3 0h0m4.6 .3h0m2.6 1.5h0m-9.7 .1h0m-6.2 1h0m10.4 0h0m-3.1 .7h0m5.4 .3h0m-5.1 .1h0m.6 0h0m.9 1h0m3.5 .4h0m-.6 .6h0m-1 .2h0m-5.3 .5h0m-2.4 .4h0m11.4 .5h0m-7.8 .1h0m2.5 .1h0m3.9 1.8h0m.7 0h0m-1.3 .1h0m-1.9 .1h0m3.1 .1h0m5.2 .6h0m-7.9 .4h0m2.9 .3h0m.4 .1h0m2.3 .3h0m.1 1.1h0m-9.2 .4h0m1.3 .2h0m4.4 .1h0m.8 .4h0m-2.8 .4h0m-2.4 .3h0m-.2 .2h0m-1.7 0h0m3.1 .4h0m4.3 .1h0m-2.8 .1h0m4.7 .2h0m-2.8 0h0m1.2 .5h0m-2.6 0h0m-2.2 .5h0m8.6 0h0m-5.8 .3h0m-1.3 .1h0m-1.4 .5h0m-2.4 0h0m3.2 0h0m5 .8h0m-.4 .1h0m-3 .1h0m-6.7 1.5h0m6.7 0h0m-1.6 .2h0m-9.8 0h0m11.7 .2h0m1.3 .2h0m-7.5 .2h0m8.8 .2h0m-5.4 0h0m2.8 .2h0m-.2 .1h0m-9 .1h0m4.2 .1h0m.2 .2h0m-2.7 0h0m7.9 .2h0m6.5 .1h0m-12.1 0h0m.9 0h0m3.8 .1h0m.1 .2h0m-2.6 0h0m2.6 .3h0m-4.1 .2h0m.8 0h0m2.6 .8h0m2.9 .2h0m-2.3 .2h0m.3 1.3h0m-2.8 .1h0m-1.7 0h0m7.5 .1h0m-.9 .4h0m-.7 .1h0m2.6 .1h0m-12.6 .1h0m2.6 .2h0m8.1 .1h0m-3 .2h0m-.5 .2h0m-.5 .3h0m5.9 0h0m3.6 1.6h0m-8.9 .2h0m.3 1.7h0m.7 .7h0m1 0h0m-1.1 .3h0m.8 .1h0m-5.2 1h0m5.4 0h0m2.3 .7h0m-4.6 .3h0m2.8 .4h0m-2.3 2.5h0m-3.9 2.5h0" stroke="rgb(255,0,0)"/><path d="M297.6 873.7h0m-5.9 1.2h0m1.5 21h0m-4.4 4.5h0m7.8 .5h0m.5 1.3h0m-4.9 .5h0m-1.6 1.5h0m4.3 .1h0m6.3 1.7h0m-4.1 2.2h0m-.4 .9h0m.4 2.4h0m-3.6 2h0m1.2 1.8h0m-2.9 .3h0m7.3 .2h0m.9 .9h0m.4 0h0m-6.8 .4h0m-2.7 .2h0m9.1 .3h0m-2.6 .9h0m-3.1 .2h0m-1.6 .8h0m2.5 1.6h0m4.9 1.2h0m-1.6 .1h0m-7.5 .3h0m6.3 .2h0m-6.9 1.1h0m5.2 .4h0m-2.7 1.5h0m.5 .1h0m1.6 .3h0m-.9 .4h0m2.1 .3h0m-3.4 .6h0m.6 .7h0m.3 .2h0m7.4 .1h0m-.4 .6h0m-4.7 .3h0m-3.9 .3h0m4.3 0h0m-1.4 .3h0m.7 .8h0m-2.6 .6h0m-.7 .1h0m4.4 .6h0m-1.3 .5h0m5 .2h0m-4 .1h0m-.9 .3h0m-3.4 .2h0m8.1 .3h0m-8.5 .1h0m.8 .8h0m3.8 .2h0m-.9 .1h0m-.1 .1h0m-3.3 0h0m-3.3 .1h0m1.8 .2h0m10.3 .4h0m-7.7 .1h0m4.3 0h0m-1 .2h0m-5.1 0h0m6.5 .2h0m-3.3 .4h0m-.9 .2h0m1.6 .1h0m-1.6 .1h0m4.5 .2h0m-8 .2h0m6.5 .2h0m2.5 .6h0m-1.7 .1h0m-.1 0h0m-9.3 0h0m4.3 .1h0m1.3 .1h0m1.7 .5h0m-.5 .3h0m-.2 0h0m8.8 .5h0m-8.9 .4h0m-5.3 0h0m.5 .9h0m8.2 0h0m-3 .3h0m-.5 .2h0m.5 .2h0m3.6 .2h0m-5.3 .4h0m1.5 .7h0m-.6 .7h0m7.3 .1h0m-4.2 .1h0m-6.2 0h0m2.2 0h0m3.1 .4h0m1.7 .7h0m-4.6 .8h0m-5.3 .9h0m9.3 .1h0m-11.2 .2h0m11.8 .4h0m1.6 0h0m-.1 0h0m1.9 .5h0m-6.3 .2h0m-1.3 .1h0m2.4 0h0m-2 .1h0m.5 .2h0m1.1 0h0m-.6 .1h0m4.5 .5h0m-5.2 .2h0m1.7 .1h0m-8.7 .3h0m1.7 .1h0m6.2 .1h0m-1.3 .1h0m3.8 .6h0m.7 .2h0m-2.2 .2h0m-1 0h0m3.4 .9h0m.3 0h0m-3.3 .7h0m-2.5 .2h0m1.8 .2h0m4.2 .4h0m-6.7 .3h0m-1 0h0m5 .1h0m-5.3 .1h0m6.6 .4h0m2.6 .2h0m-9.6 0h0m10.6 .3h0m-3.5 .3h0m-11.3 .3h0m8 .2h0m7.8 .2h0m-10.9 0h0m2.9 .3h0m.2 0h0m1.1 .4h0m-6.8 .5h0m5.4 0h0m-2.2 .1h0m-2.5 0h0m4.6 1.4h0m3.3 .8h0m-4.3 .3h0m.2 .5h0m6.1 .4h0m-11 .3h0m4.5 .6h0m-1.6 .3h0m2.6 2.7h0m6.3 1.9h0m-3.1 .3h0m-2.7 3.2h0m-1.7 1.2h0" stroke="rgb(255,0,0)"/><path d="M298.8 873.8h0m-.2 2.4h0m-1.2 5.6h0m5.1 3.5h0m-5.8 .1h0m-7.4 .8h0m5.2 10.2h0m6.6 10.1h0m-1.1 .6h0m-6.3 .4h0m.9 4.3h0m-1.6 0h0m-2 0h0m10.8 2.3h0m-9.2 1.1h0m4.3 .3h0m-.4 .5h0m-2 .2h0m-.6 .5h0m3.7 .2h0m-3.6 1.6h0m3.5 0h0m-5.8 .3h0m8.2 .5h0m-4.8 .5h0m2.4 .6h0m-.4 .5h0m-5.3 .7h0m6.2 0h0m-2.8 .2h0m1.1 1.3h0m-1.3 .9h0m-2.2 .2h0m4.3 .1h0m-5.1 1.5h0m-1.2 .4h0m2 2h0m2.1 .2h0m.5 .3h0m-3 .6h0m2.3 .4h0m.1 0h0m3.6 .3h0m1.2 .2h0m-2.9 .2h0m-2.4 .3h0m3.5 0h0m1.1 .1h0m-5.6 .2h0m4.6 .1h0m-1.5 .7h0m3.1 1.3h0m-5.5 .1h0m-7.2 .1h0m1 0h0m14.3 .6h0m-7.7 1.1h0m5.5 .6h0m-5.3 .6h0m.8 1.2h0m-5.1 .2h0m2.5 .6h0m-4.5 .8h0m1 .1h0m6.8 .2h0m-.5 .1h0m6.6 0h0m-1.3 .8h0m-2.3 .4h0m-1.3 .2h0m2.9 .5h0m-15.3 0h0m8.5 .1h0m7.6 .3h0m-4.5 .1h0m.4 0h0m2.4 .3h0m4.5 0h0m-9.9 .6h0m6 .9h0m-3.5 0h0m-.6 .7h0m-1.1 .2h0m1.3 .6h0m-5.4 .2h0m7.3 .1h0m-3.9 .2h0m8.2 0h0m-3.1 .2h0m-8.1 .1h0m.8 .1h0m1.2 .7h0m-2.6 .3h0m4 .1h0m8.6 .5h0m-15.7 .4h0m4.4 .2h0m2.4 .1h0m9.4 .1h0m-9 .3h0m5.1 .1h0m-2.5 0h0m-1.5 .1h0m3 0h0m-4.5 .1h0m-1.6 .6h0m8.6 0h0m-11.1 .1h0m10.9 0h0m-4.8 .2h0m.5 .6h0m4.5 0h0m-2.3 .2h0m-6.5 .1h0m7.9 .8h0m-11.2 .1h0m6.6 .7h0m-8.6 .3h0m7.3 .1h0m4.6 .2h0m-6.8 .3h0m6.7 .8h0m-4.3 .2h0m1.9 .2h0m-2.3 .2h0m2.6 .1h0m-8.2 0h0m6.4 0h0m7 .1h0m-2.3 .1h0m-3.1 .3h0m1.1 0h0m1.8 .6h0m-4.5 .2h0m1.6 .3h0m-.6 .1h0m-2.9 0h0m-3 .5h0m2.8 .6h0m-1.9 .2h0m1 .1h0m5.8 .4h0m-2.8 1.3h0m-2.2 .2h0m2.7 .1h0m-3.1 .5h0m5.3 .1h0m4.3 0h0m-1 .4h0m.2 .6h0m-4.5 1h0m-.1 .1h0m-4.2 1.5h0m.1 .5h0m-.9 2.1h0m11.7 2.5h0" stroke="rgb(255,0,0)"/><path d="M292.7 902.7h0m5 .8h0m-1.6 9.3h0m-2.5 .2h0m4.4 2.1h0m-4 .1h0m0 2.7h0m0 .1h0m7.3 0h0m-5.4 .6h0m-3.9 .9h0m2 2.6h0m3.7 0h0m-2.5 .2h0m.8 2.6h0m2.5 .3h0m-.7 0h0m-4.3 .3h0m6.8 1h0m-9.8 .1h0m6.9 .1h0m-12.2 .2h0m13.1 0h0m-8.4 .1h0m4.6 .5h0m-1.7 .2h0m13.1 .2h0m-11 .1h0m-2.2 .4h0m8.4 .6h0m-2.7 .2h0m-9.1 .1h0m8.6 .3h0m-7.9 .4h0m-4.2 .1h0m11.3 .1h0m-7.6 .1h0m7.8 .1h0m4.8 .1h0m-2.2 .2h0m.9 .2h0m1.3 .1h0m-8.9 .7h0m2.8 .1h0m-.8 .1h0m3.6 1.1h0m-.5 .1h0m-2.1 1.2h0m-2.2 .2h0m.1 .4h0m4.1 .2h0m-2.1 .4h0m-.6 .3h0m2.5 .4h0m-2.5 0h0m-5.4 .1h0m4.2 .2h0m1.7 .1h0m4 .8h0m-7 .1h0m.3 0h0m1.1 .3h0m-.9 .3h0m4.4 0h0m-3.2 .4h0m-3.3 .4h0m5.7 .1h0m-2.2 0h0m4.1 .2h0m-3.6 .3h0m-3.7 1.5h0m11.6 .1h0m-12.1 0h0m-2.1 .2h0m2.5 .2h0m2.2 .3h0m3.3 .1h0m2.8 .4h0m2.5 0h0m-8.5 .1h0m-5 0h0m8 .4h0m1.7 .2h0m-2.3 0h0m-.6 .1h0m5.2 0h0m-8.9 0h0m6.5 .3h0m-8.5 .6h0m-3.2 0h0m9.8 .1h0m-6.6 .1h0m4.4 .1h0m-1.3 0h0m1.2 .4h0m6.7 .2h0m-12 .2h0m5.9 .7h0m2 .1h0m-7 .1h0m1.9 .2h0m5.3 .3h0m2 0h0m1.3 .2h0m-5.9 .1h0m-3.8 .3h0m2.5 .1h0m2.8 0h0m4.1 0h0m-6.2 .9h0m-.9 .1h0m-2.4 .3h0m8 .5h0m-10.7 .2h0m8.7 .2h0m-1.2 .9h0m1.7 .2h0m-5 .3h0m2.9 .2h0m-.4 .1h0m-1.2 .1h0m4.2 0h0m.8 1h0m-6.6 .1h0m7 0h0m1 .6h0m-4 .2h0m.1 .1h0m2.7 .1h0m-4.4 .6h0m.1 .1h0m4.8 .3h0m-4.1 .1h0m3.5 .5h0m-2.6 .1h0m-12 0h0m15.1 .1h0m2.9 .1h0m-2.9 .1h0m-8.3 .3h0m3.7 .5h0m1.3 .6h0m.2 0h0m4 .2h0m-1.6 .6h0m0 0h0m-3.4 .1h0m-.4 .5h0m5.1 1.1h0m-4.2 .5h0m-.4 .1h0m5.6 2h0m-5.8 0h0m4.6 .5h0m-4.5 .1h0m6.8 .4h0m-3.8 1h0m.5 1.2h0m-2.2 .8h0m-3 .7h0m5.2 .8h0m-8.7 .3h0m2.9 .6h0m1.6 .1h0m0 0h0" stroke="rgb(255,0,0)"/><path d="M298.4 893h0m-2.1 1.6h0m5.4 .2h0m-7.8 8.6h0m-1.5 .2h0m1.4 2.7h0m-.3 2.3h0m3.9 .8h0m-.6 3.7h0m-4 2.1h0m.9 .3h0m2.5 1.3h0m.6 1.6h0m-.2 2h0m.2 1.2h0m-2.4 .1h0m-2.7 .4h0m-1 .7h0m3.7 .4h0m4.2 .7h0m-8.6 .1h0m2.2 .1h0m4.8 .4h0m-.5 .9h0m-8.2 .3h0m14.4 .2h0m-5.8 .2h0m4.1 0h0m-10.2 .6h0m3.4 0h0m-2.1 .2h0m2.2 0h0m.4 .6h0m1.6 .1h0m5.8 0h0m-5.1 0h0m-10.8 .1h0m3.8 .2h0m8.8 0h0m-2.9 .5h0m5 .5h0m-4.3 .5h0m6.4 .3h0m-10.6 .4h0m2.4 .4h0m5.7 .7h0m-6.4 .3h0m.7 .1h0m-1.6 .7h0m3.5 .3h0m3.7 .2h0m-1.6 .3h0m-5.6 .2h0m.7 .4h0m1.8 .4h0m1.1 .7h0m-.2 0h0m7.2 .6h0m-9.6 .3h0m-6.8 .8h0m11.3 .2h0m-4.2 .8h0m-5.2 .5h0m3.3 .3h0m-.4 .2h0m5.1 .1h0m-4.8 0h0m.2 .3h0m-.4 .1h0m1.9 0h0m-.1 .8h0m1 0h0m-3.7 .1h0m3.7 .1h0m-.2 .3h0m1.3 .5h0m-1.2 .1h0m-4.8 0h0m6.9 .1h0m0 .9h0m4 .7h0m-10.7 .3h0m2.5 .1h0m-.7 0h0m-.2 .2h0m2 .2h0m9.3 .1h0m-12.7 .1h0m-6.7 .3h0m9.8 .3h0m-3.5 .1h0m4.1 .1h0m4.4 0h0m-7.7 .1h0m8.2 0h0m-10.8 0h0m7 .1h0m-.9 .3h0m-.7 .2h0m-1.1 .2h0m1.4 .1h0m-1.8 1h0m6.6 .1h0m2.7 0h0m-.1 .3h0m-15.6 0h0m13.6 .3h0m-11.8 .1h0m7.4 0h0m1.2 .5h0m4.8 .1h0m-8 .2h0m-.4 .4h0m1.2 .3h0m5.9 .2h0m-7.6 0h0m9 0h0m-8.8 .2h0m2.7 .5h0m-3.1 0h0m-3.1 .1h0m6.8 .1h0m-1.2 .2h0m-2.3 .6h0m15.3 .1h0m-7.5 .6h0m-8.1 .1h0m5.6 .1h0m3.2 0h0m-1.9 .5h0m-3.6 .2h0m-5.4 .1h0m4.8 .3h0m-2.2 .1h0m2.2 .3h0m4.9 0h0m-1.3 .1h0m-4.1 .1h0m5.8 .1h0m-10.7 .7h0m6.4 0h0m-3.9 .1h0m12.3 0h0m-4.8 0h0m-5.5 .5h0m5 0h0m-1.5 .2h0m.5 .4h0m-2.7 .4h0m-1 .1h0m2.7 .2h0m2.4 .3h0m-5.3 0h0m6.3 .5h0m-7.2 0h0m-4.2 .1h0m4.1 .3h0m5.8 .2h0m1.9 .5h0m-11.2 .1h0m6.8 .1h0m-2.5 .2h0m5.9 .1h0m-4.5 .3h0m-1 .4h0m6.9 .4h0m-.6 .3h0m-5 .8h0m3.7 .2h0m-10.4 .3h0m-1.5 .1h0m5.6 .3h0m2.6 .2h0m.8 0h0m-4 .4h0m-1.9 3.1h0m7.8 .6h0m-1.6 .1h0m-.9 2.2h0m-1.1 2.3h0m-10.1 .7h0" stroke="rgb(255,0,0)"/><path d="M302 875.9h0m-6.4 1.8h0m-1.9 4.8h0m.5 9.5h0m1.9 1.6h0m.7 2.7h0m.5 7.3h0m-2.9 5h0m2.3 .5h0m-2.4 .2h0m5.2 .9h0m1.6 2h0m-2.6 1.2h0m-9.3 .5h0m4 .2h0m3.6 1.9h0m-3.1 .7h0m1.8 .3h0m3 1.7h0m-2.3 2h0m2.2 0h0m-7.7 .5h0m5.4 1h0m-7.2 .6h0m3.5 .4h0m-5.5 1.4h0m4.8 0h0m-5.9 .5h0m9.9 1.9h0m4.6 .8h0m-10.1 .2h0m4.8 .1h0m-2.1 .1h0m.7 .2h0m8.9 1.2h0m-5.8 .1h0m-5.3 0h0m2 .7h0m2.7 .1h0m-.9 0h0m-.4 .7h0m3.5 .1h0m.1 .9h0m-1.4 .1h0m-1 .8h0m2.1 .1h0m.3 .2h0m1.7 0h0m-7.6 .2h0m8.8 .2h0m-8.6 .1h0m2.6 .5h0m-3.6 .2h0m3.5 .1h0m3 .2h0m-6.1 0h0m12.2 .1h0m-13.4 .1h0m4 .6h0m1.5 .1h0m4.8 .4h0m-1.6 .2h0m-11.4 .2h0m6.5 1.5h0m1.6 .1h0m-4 .2h0m7.9 .1h0m1.2 .1h0m-2 .3h0m-7 0h0m2.6 .6h0m2.4 .4h0m1 .1h0m-1.2 .4h0m2.2 .1h0m-6.7 1.1h0m1.7 .1h0m-.5 .5h0m-1.5 .1h0m1.6 .5h0m3.2 .9h0m-7.1 .5h0m1.4 0h0m5.6 1.1h0m.3 .2h0m-1.8 0h0m-5 .5h0m9.8 .2h0m-6 1.7h0m7.4 1h0m-7.4 0h0m-3 .1h0m5 .2h0m-4.9 0h0m.2 .1h0m-1.4 .3h0m2 0h0m5.1 .2h0m-.7 .2h0m-9.5 .9h0m6.3 .3h0m-1.1 .2h0m6.3 .2h0m.5 .2h0m-12.5 .2h0m7.6 .2h0m2.4 .1h0m-6.2 .3h0m8.4 .1h0m-6.7 .1h0m4.2 .3h0m.8 .2h0m2.9 .1h0m-7.3 0h0m3 .1h0m-4.5 0h0m3.3 .4h0m2.6 0h0m-6.2 0h0m1.2 .4h0m1 .6h0m4.5 0h0m3.3 .1h0m-1.9 .3h0m-2.8 .1h0m-3.2 0h0m4.8 .1h0m-7 .1h0m4.2 .3h0m.5 0h0m2.2 .3h0m-2 0h0m-10.7 .1h0m9 .1h0m-.8 .2h0m-4 .1h0m5.3 .4h0m2 .8h0m1.7 .2h0m3.1 .5h0m-7.8 .5h0m7 0h0m-1.3 .1h0m-8.8 .5h0m1.7 .3h0m4.1 0h0m-3.8 .4h0m2.3 .4h0m-.4 0h0m4.4 .5h0m-9.2 0h0m5.9 .8h0m2.2 .4h0m1.1 .2h0m.5 .2h0m.2 .3h0m-4.4 .2h0m-3.8 0h0m3.2 .5h0m-.4 .2h0m-3.1 .9h0m4.4 .1h0m0 .3h0m-7.8 .5h0m12.4 .9h0m-5.2 .6h0m.1 .7h0m.9 .3h0m-6.1 1.8h0" stroke="rgb(255,0,0)"/><path d="M295.6 881.2h0m-5.6 3.5h0m4.1 1.5h0m2.9 10h0m.8 6h0m-5.3 1.6h0m-3.8 6.5h0m11.3 3h0m-8.9 1.1h0m1.7 1.4h0m-1.3 .2h0m3.5 .3h0m4 .5h0m2.5 .2h0m-3.3 .3h0m-3.7 1.7h0m3.1 0h0m-2.9 .1h0m2.5 .5h0m2.4 1h0m-3.3 1.5h0m-4.5 1.2h0m.9 1.3h0m3.1 .2h0m-3.9 .4h0m2.9 .1h0m-2.8 .2h0m8.6 .1h0m-6.4 .2h0m2.6 .2h0m.3 .1h0m-4.6 .5h0m-1.1 .7h0m-.8 .8h0m1.8 .3h0m3.2 .1h0m-3.2 .5h0m6.5 .1h0m2.4 .4h0m-11.3 .5h0m-4.6 .4h0m13.3 .3h0m-5.9 .7h0m1.6 .4h0m-.2 1.1h0m.4 .1h0m2.5 .2h0m1.7 .1h0m-4.7 .1h0m1.1 .4h0m3.5 .8h0m.7 .1h0m-3.7 .1h0m-6.4 .1h0m4.4 .9h0m-5.1 .1h0m11.6 .1h0m-9.9 .2h0m3.7 .2h0m3.4 0h0m-9.3 .4h0m8 .2h0m-7.1 .5h0m3.4 .1h0m7.3 .1h0m-2 .1h0m-7.8 0h0m5.7 .1h0m2.6 1.1h0m-3.1 0h0m-4.7 .4h0m7.3 0h0m-5.9 .4h0m3 .1h0m-3 .3h0m5.9 .3h0m-6.2 .8h0m2.5 0h0m-3.4 .1h0m6.1 0h0m-2.9 0h0m.1 .2h0m-.1 .2h0m7.1 .1h0m-6.8 .4h0m3 .1h0m-4.2 .3h0m-1.7 .1h0m-1 .4h0m8.4 0h0m-.6 1h0m2.3 0h0m-5.4 .2h0m8.2 0h0m-8.3 .2h0m1.8 .5h0m-4.6 .3h0m4.9 0h0m-2.6 .5h0m-1 .4h0m-.6 .1h0m1.7 .2h0m3.3 .9h0m-7.2 .1h0m7 .1h0m-3.1 .3h0m4.1 .1h0m-4.1 .1h0m.1 .6h0m-1 .1h0m3 0h0m-2.2 .4h0m1.9 .2h0m-.5 .1h0m6.5 .1h0m-13.6 .4h0m.2 0h0m-.2 .1h0m3.3 .2h0m.6 0h0m4.2 .2h0m-.9 0h0m-6.1 .1h0m4.7 .5h0m3.1 .1h0m-7.2 .1h0m-.6 .5h0m2.6 .2h0m1.7 .5h0m8.9 .2h0m-6.9 .2h0m-1.9 .1h0m-1.1 0h0m4.7 .2h0m-3.3 1.2h0m-2.8 .1h0m9.1 .3h0m-9.7 .3h0m5.9 .1h0m-.2 .3h0m.1 .8h0m-2.6 .1h0m4.9 0h0m-4.8 .1h0m-1.1 .1h0m6.6 .5h0m-2.3 .4h0m5.1 .8h0m-2.7 2.2h0m-6 .7h0m6.4 .2h0m-9.3 0h0m3.1 .3h0m-4.3 2.6h0m3.3 .5h0m3.7 .3h0m-3.8 1.7h0m1 .8h0m3 2.2h0m.6 .7h0m-3.1 3.5h0" stroke="rgb(255,0,0)"/><path d="M287.7 855.3h0m8.6 18.4h0m-.6 10.6h0m-1 17.9h0m6.5 .7h0m-5.6 .1h0m-2.2 3.9h0m1.3 .9h0m1.3 .4h0m4.4 .9h0m-7.2 2.9h0m1.1 0h0m-4.2 1.7h0m-3.7 .3h0m8.1 1.7h0m-1.8 1.5h0m.4 .2h0m5.2 .4h0m-6.2 1h0m8.9 0h0m-5 1h0m1.7 .9h0m-6.1 .3h0m8.1 .4h0m-5.1 1.2h0m2 .6h0m-4.9 .2h0m4.7 .1h0m-2.5 .8h0m-2.3 .5h0m9.6 .3h0m-6.3 .3h0m2.7 .8h0m-6.5 .2h0m6.9 1h0m-3.3 0h0m.8 1h0m2.3 0h0m.4 .1h0m.6 .9h0m-3.7 .7h0m8 .2h0m-8 0h0m5.5 .2h0m-11.7 0h0m-2.2 .2h0m6.3 .5h0m4.7 .2h0m.1 .5h0m-1.3 .1h0m1.4 1h0m-5.5 .4h0m-1.3 .1h0m5.7 .6h0m-1 .1h0m-11.3 0h0m12.1 1.1h0m-4.1 0h0m-3.4 .1h0m4.2 .1h0m1.2 .4h0m-5.4 .2h0m9.4 .1h0m-8.3 .2h0m3.7 .1h0m-1.1 .5h0m7.3 .7h0m-3.1 .3h0m-1.6 .3h0m8.9 .1h0m1.6 .7h0m-10.3 1.2h0m-.3 .2h0m-3.6 .1h0m3.8 .2h0m3.5 .4h0m-9 .5h0m9.5 0h0m-12.2 .1h0m-.1 .7h0m10 .5h0m-2.3 0h0m-4.8 1.8h0m11.6 .2h0m1.3 .1h0m-4.9 1h0m-6.7 .1h0m5.1 0h0m-1.5 .2h0m-1 1.1h0m3.7 .4h0m-4.1 .3h0m7.1 .4h0m3.2 .2h0m-11 .1h0m10.4 .7h0m-7.6 .6h0m-.4 .4h0m-3.4 .1h0m4.4 .2h0m-.7 .1h0m1 .1h0m-2.1 0h0m-.3 .3h0m-2 .3h0m3.8 .3h0m-2.6 .1h0m.8 .4h0m.3 .1h0m-2.4 .2h0m9.3 0h0m-6.9 .1h0m-.5 .4h0m-2.8 .1h0m2.3 .1h0m-4.3 .2h0m3.2 .1h0m2.8 .3h0m.9 .1h0m1.5 .5h0m-10 .4h0m9.4 .1h0m4.4 .6h0m-6.6 .4h0m2.8 .1h0m1.5 .1h0m-5.5 .1h0m-4.1 .6h0m3 1.3h0m.2 .3h0m-.5 .5h0m1.7 .2h0m-1.7 .2h0m0 .1h0m8 0h0m-.6 0h0m-1.7 .4h0m-2.1 1.1h0m4.3 .1h0m-4.6 0h0m-5.3 .7h0m7.3 .3h0m3.3 .1h0m-4.7 .2h0m.1 .4h0m1.3 1.1h0m2 .1h0m-2.9 .1h0m-4.2 0h0m-2.9 .2h0m4.3 .4h0m-3 1.6h0m6.9 .6h0m-7.2 1.2h0" stroke="rgb(255,0,0)"/><path d="M292.9 873.8h0m.3 .5h0m-1.4 16.5h0m7.6 2.3h0m-2.5 1.8h0m-6 1.5h0m8.8 5.8h0m-2.2 3h0m-7.1 .7h0m4.1 .2h0m.1 1.2h0m-3.9 3.5h0m3.3 .9h0m-.4 .1h0m2.2 0h0m-6 .7h0m7.5 4.5h0m-4.4 .3h0m9.2 .6h0m-8.5 .4h0m-.7 .5h0m5.4 .5h0m6.9 1.3h0m-13.7 .6h0m6 .9h0m-1.7 .2h0m-8 .3h0m6.5 .6h0m-.2 0h0m-1.5 .2h0m3.5 .2h0m-6.3 .5h0m3.9 .2h0m-2.5 .1h0m2.2 .1h0m8.3 .6h0m6.1 0h0m-16.8 .8h0m10.1 .3h0m-8.5 .7h0m-.9 .3h0m4.5 1.1h0m-1.7 .5h0m3.6 0h0m-8.7 1.6h0m1.5 .2h0m5.2 .4h0m-1.5 0h0m3.9 .2h0m-.9 1h0m-7.3 .1h0m9.9 2.3h0m-4.3 .3h0m-3.8 .1h0m8.2 .3h0m-7.1 .1h0m-1.5 1.5h0m2.1 .3h0m-.2 0h0m5.4 0h0m-2.6 .1h0m1.9 .1h0m-7.2 .3h0m10.8 .1h0m-4.8 .2h0m-1.7 .3h0m-2.9 .7h0m.1 .2h0m-2.4 .7h0m8.9 .4h0m-8.8 .2h0m6.8 .9h0m-2.4 .1h0m2.4 .7h0m4 .2h0m-7.1 .7h0m-2.3 .4h0m5.7 0h0m-2.4 .1h0m-6.6 .8h0m7.3 .1h0m-1.2 .2h0m-.1 .4h0m-.5 .1h0m-.3 .9h0m.2 .9h0m.9 .4h0m7.8 .8h0m-10.5 .2h0m4.7 .4h0m-4.4 .2h0m6.4 0h0m6.8 0h0m-11.2 .2h0m2.4 .1h0m-2.2 0h0m5.8 .1h0m-4.5 0h0m1.7 .2h0m-5.4 .2h0m-2.6 .3h0m10.6 .1h0m-5.8 .3h0m.6 .2h0m.6 .4h0m-4.5 .1h0m-6.5 .1h0m15.2 .1h0m-4.9 .1h0m1.2 .1h0m.5 .2h0m-1.7 .1h0m-.5 .1h0m5.3 1.1h0m-6.2 .2h0m2.9 .2h0m-5.6 .1h0m7.5 .4h0m-10.1 1h0m8.2 1h0m-2.3 .1h0m-2 1.2h0m2.6 .1h0m6.4 .1h0m-2.5 .3h0m-11.1 .3h0m4.7 .4h0m6.4 0h0m-6.3 .1h0m-2.7 .6h0m5.9 .2h0m.5 .4h0m-.5 .4h0m-5.3 .3h0m7.9 .5h0m-3.6 1h0m3.7 .6h0m3.4 .7h0m-5.1 0h0m8.4 .4h0m-1.1 .1h0m-18.2 1.1h0m7.9 0h0m-.8 .9h0m4.7 .5h0m-.4 .1h0m-1.8 .1h0m-.2 .6h0m-6.8 .9h0m12.6 3.5h0m-3.5 .2h0" stroke="rgb(255,0,0)"/><path d="M293.5 872.8h0m-1.8 11.1h0m3.3 1.2h0m-.6 16.4h0m1.8 1.5h0m-3.7 1.3h0m.2 .1h0m4 1.4h0m3.6 1.1h0m-.7 1h0m-1.1 0h0m.5 1.1h0m2 1.3h0m-2.1 3.6h0m-4.5 .9h0m1.4 .2h0m-3 5.1h0m6.1 .2h0m-9 .1h0m7.3 .3h0m-7.4 .2h0m6.7 .8h0m-5.7 .6h0m-.7 2.4h0m3.9 1.1h0m-.7 .4h0m5.4 0h0m-1.3 .1h0m-6.8 .2h0m3.1 .3h0m6.7 .9h0m-3.6 .4h0m-2.8 .1h0m8.5 .5h0m1.2 .4h0m-4.4 .2h0m-4.2 .1h0m-5.5 .2h0m7.4 .3h0m-6.1 .3h0m2 .2h0m3.2 .3h0m-1.9 .9h0m4.5 .3h0m-.2 1.6h0m1 .4h0m3.5 .3h0m-7.5 0h0m-1.8 .5h0m5.8 .2h0m-2 1.2h0m.6 .6h0m.1 .8h0m-8 .4h0m7.8 .3h0m-3.3 0h0m-.6 0h0m1.5 .1h0m8.7 .1h0m-7 .5h0m-2.6 .2h0m-.2 .8h0m7 .9h0m-4.9 .5h0m-4.2 0h0m4.2 .1h0m-1.1 .6h0m-1.4 0h0m1.6 .3h0m-3.6 .2h0m4.9 0h0m-1.6 .2h0m-2.4 .2h0m-2.3 0h0m6.2 .1h0m2.1 .1h0m-7.1 0h0m-2.2 .3h0m3.3 .1h0m1.5 .3h0m4.5 0h0m2.5 .3h0m-9 .2h0m6.5 .3h0m-5.7 .2h0m4.5 .1h0m2.2 .1h0m-6.5 .3h0m-8.8 .1h0m4.4 0h0m9.3 .1h0m3.3 .2h0m-5.4 .4h0m-2.5 .3h0m-.5 .4h0m6.8 0h0m-8.3 .1h0m6.1 1.2h0m.8 .4h0m-5.4 .2h0m-1.1 .2h0m.9 .1h0m-2.3 0h0m5.4 .2h0m-1.8 0h0m2.9 .2h0m4 .6h0m-.8 .4h0m-10 .5h0m8.7 .1h0m-8.8 .2h0m.7 .1h0m12.4 .2h0m-11.2 .4h0m-1.2 .3h0m-.3 0h0m4.5 .2h0m1.6 .3h0m-3.1 .3h0m4.8 .1h0m1.8 .1h0m-6.2 0h0m.4 .6h0m4.9 .2h0m-8 .7h0m1.9 .2h0m5.5 .1h0m.2 .3h0m-.4 .7h0m2.5 .1h0m-5.5 .1h0m-2.3 .4h0m-2.6 .6h0m6 .1h0m6.6 .2h0m-8.7 0h0m5 1.1h0m-8.2 .2h0m8.6 0h0m-7.5 .2h0m3.6 .2h0m-1.3 .7h0m-.2 0h0m6.1 .2h0m-4.1 .1h0m.4 .2h0m.3 .1h0m-7.4 0h0m4 .7h0m4.5 1.2h0m.3 .7h0m-1.7 2.1h0m-4 .2h0m9.4 1.5h0m-11.4 .5h0m2.7 .6h0m2.2 2.3h0" stroke="rgb(255,0,0)"/><path d="M294.2 855.8h0m4.5 48.4h0m-1.9 1.6h0m.2 1.2h0m-6.8 .1h0m8 .7h0m3.4 6.5h0m-7 2.7h0m1.6 .5h0m-2.3 1.8h0m3.2 .4h0m-5.4 1.1h0m-.3 1.8h0m8.4 .1h0m-10.8 .8h0m7.6 .1h0m-1.2 .7h0m-3.3 1.3h0m4.8 .8h0m2 .5h0m-1.4 .3h0m-2.2 .4h0m-3.9 .7h0m8.9 .1h0m-1.9 .5h0m2.3 .2h0m-11.8 .6h0m1.1 1.9h0m6.6 0h0m-1.4 .3h0m-.3 .4h0m-.7 .2h0m3.4 .1h0m-9.2 .1h0m4 0h0m5 .8h0m1.2 0h0m-11.4 0h0m11 .1h0m-3.2 .4h0m-.6 .2h0m5.8 .1h0m-1.8 .6h0m-1.3 .3h0m1.6 0h0m-5.9 .1h0m8.5 .1h0m-8 .3h0m-4.7 .1h0m4.1 .3h0m1.5 .1h0m4.6 .9h0m.9 .3h0m1.6 0h0m-.7 0h0m-10 .3h0m3.2 .2h0m-4.2 .1h0m3.1 .3h0m6.7 0h0m-6.5 0h0m0 .1h0m-.1 .2h0m4.9 .8h0m-4.7 .2h0m5.9 .1h0m-5.5 .5h0m.4 .5h0m1.3 0h0m4.8 .1h0m-7.6 .3h0m2 0h0m-.7 1.4h0m6 .4h0m-6 .5h0m2.8 0h0m-2 .1h0m2.8 .1h0m-4 0h0m.3 .3h0m.5 .3h0m-1.7 0h0m4.3 .1h0m2.4 .1h0m-5.7 .2h0m1.8 .2h0m-3.7 0h0m3.1 0h0m-2.3 .4h0m-2.3 .1h0m8.6 .1h0m-5.9 .2h0m3.9 .2h0m-5 0h0m7.8 .2h0m-8.6 0h0m10.9 .2h0m-4.8 .1h0m-4.5 .2h0m5.4 .3h0m-7.9 .3h0m8.4 .4h0m-.3 .4h0m-4.9 .3h0m3.1 0h0m-.6 .1h0m1.2 0h0m4.1 .1h0m-9.8 .3h0m3.5 .1h0m1.3 .2h0m.6 0h0m-1.9 .3h0m5.3 .1h0m-7.2 1.1h0m-.9 .2h0m2.9 .9h0m-3.8 0h0m1.5 .4h0m2 .1h0m-1.9 0h0m7.7 .7h0m-7.8 .5h0m-.6 .1h0m1.6 0h0m-1.3 .1h0m4 .1h0m-1.6 0h0m-1.2 .4h0m4.6 0h0m-2.3 .2h0m6 0h0m-4.9 .3h0m-4.4 .3h0m.3 .3h0m10.1 .2h0m-8.8 .1h0m-.2 .1h0m-1.3 0h0m7 .3h0m-8.6 .1h0m2.6 .8h0m1.2 .4h0m3.3 .5h0m-.9 .4h0m-9.4 1.2h0m5.1 0h0m4.6 .3h0m-4.2 .4h0m6 1h0m-5.6 .1h0m-1.8 .2h0m.5 .5h0m-2.3 0h0m2.9 .8h0m3.2 .1h0m-10.8 1.5h0m11.3 1.1h0m4.3 .5h0m-5.4 .3h0m.3 .6h0m-.7 2.7h0m-5 .8h0" stroke="rgb(255,0,0)"/><path d="M297.3 867.6h0m-7 23.5h0m.3 4.5h0m4.8 .3h0m-.4 4.8h0m-.4 .3h0m-5.7 3.4h0m9.2 .9h0m1.3 6.7h0m-11.8 .1h0m11.1 .3h0m-2.7 .1h0m2.3 .6h0m-8.2 .6h0m.5 .2h0m11.9 1.1h0m-5.7 .2h0m-1.5 .3h0m1.6 1.1h0m4.7 .1h0m-6.5 .3h0m-.6 1.4h0m4.4 .9h0m4.2 1.2h0m-1.6 .6h0m-10.8 1.2h0m.6 3.9h0m-.3 .6h0m3.2 .2h0m4.1 .6h0m-5.8 .3h0m-1.3 .7h0m5.7 0h0m-6.8 .1h0m7.3 0h0m-6.9 .3h0m8.4 .8h0m-4.1 1.5h0m-3.7 .2h0m1.2 .2h0m8.9 .2h0m-6 0h0m-4.6 .2h0m-.8 .2h0m4.4 .9h0m-10.3 .3h0m8.7 .1h0m4.2 .2h0m-7.3 .3h0m1 0h0m6.3 .3h0m4.9 .2h0m-7.5 .3h0m-6.3 0h0m13.5 .2h0m-6.2 .3h0m-1.2 .3h0m3.3 .2h0m1.4 .1h0m-8.9 0h0m2.4 .1h0m4.8 .1h0m-1.3 .1h0m6.3 .1h0m-2.8 0h0m-5.2 0h0m-.6 .7h0m1.4 .2h0m-4.7 .3h0m9.9 .4h0m-6.2 .3h0m3.3 .3h0m-1.4 0h0m-1.9 .5h0m5.1 .1h0m-3.7 .2h0m3.2 .6h0m-1.5 .8h0m-.4 1.1h0m.7 .4h0m-10.4 0h0m10.8 .1h0m1.1 .2h0m-4.2 .2h0m2.1 .1h0m1.6 .2h0m1.7 0h0m-6.3 .4h0m2.4 .6h0m1.9 .1h0m-2.1 .6h0m-1 .1h0m-2.1 .1h0m3.4 0h0m-2.1 .1h0m-1.9 .3h0m2.2 0h0m4.1 .1h0m1.1 0h0m2.1 .1h0m-5.9 .3h0m-3.9 .1h0m2.3 .3h0m4.4 .4h0m-4.1 .6h0m2.9 .3h0m-4.8 .1h0m5.8 .7h0m-3.2 0h0m1.3 .6h0m.9 0h0m4.1 .1h0m-12 .3h0m9.7 .1h0m-2.5 .3h0m1.5 .2h0m-1.9 0h0m4.3 .1h0m-12 .6h0m5.5 .4h0m-1.6 .7h0m.8 .2h0m-2.3 .2h0m1.5 0h0m2.5 .5h0m-4.3 0h0m7.1 0h0m-.3 .2h0m-2.5 0h0m-2.3 .1h0m6.7 0h0m-2.5 .3h0m-7.5 .1h0m5.1 .1h0m2.1 0h0m-2 .1h0m1.5 .1h0m-1.6 .2h0m6 0h0m-1.7 0h0m2.1 0h0m-4 .1h0m-3.5 .2h0m-.8 .1h0m2.4 .4h0m-1.8 .2h0m5.2 0h0m1.5 .1h0m-1.6 0h0m-3.2 .1h0m7.2 .5h0m-2.6 .2h0m5 .1h0m-5.8 .1h0m-.3 .5h0m-7.5 .1h0m4.8 .1h0m0 .4h0m2.1 .2h0m-5.5 1.2h0m8.7 .2h0m-4.6 .4h0m-3.7 0h0m.4 .2h0m-3.3 .5h0m4.4 .1h0m0 .1h0m-2 0h0m.3 1.2h0m5.9 0h0m.9 .2h0m-6.8 .1h0m10.5 .2h0m-5.1 .4h0m-1.6 1h0m-1.6 2.1h0m-.9 .9h0m-1.2 .2h0m-1.4 .2h0m10.3 .1h0m-8.6 .9h0m1.9 1.1h0" stroke="rgb(255,0,0)"/><path d="M301.2 891.9h0m-1.5 8.5h0m-6.2 1h0m2.7 4.3h0m-.5 .4h0m3.7 2.5h0m-7.2 .8h0m4.1 2.8h0m-2 3.7h0m4.4 .3h0m-4 .3h0m3.5 2.3h0m-2.7 .9h0m-.4 .3h0m3.1 .5h0m2.2 .2h0m-.4 .6h0m-2.3 .8h0m4.7 .5h0m-12 2.3h0m5.4 .9h0m-3.2 .3h0m5.9 .2h0m-2.8 .6h0m9 1h0m-6.8 .6h0m-4.6 .9h0m-.5 .2h0m4.3 .3h0m3.7 1.1h0m-7.1 .6h0m-1.6 .3h0m6.2 .7h0m-3.9 1.2h0m1.4 .1h0m-6.5 .1h0m6.1 0h0m-1.5 .1h0m2 .2h0m.4 .1h0m1.8 .4h0m.7 .5h0m-6.1 .2h0m2.7 .3h0m.7 0h0m1.4 .1h0m1.9 .1h0m-4.4 .2h0m.3 .5h0m-2.3 .1h0m-.3 .3h0m7.6 .1h0m-6.7 .1h0m2 .1h0m3.3 0h0m-2.4 .2h0m.6 .7h0m2.3 0h0m-8 .3h0m1.5 0h0m1.4 .1h0m2.3 .4h0m-3.2 .1h0m-2.6 .4h0m3.1 .4h0m1.2 .1h0m-2.1 1.1h0m3.1 .1h0m-.2 .2h0m-5.2 .5h0m5.4 .2h0m-5.9 .2h0m9.4 0h0m-4.2 .2h0m1.1 1h0m1.4 0h0m.2 .1h0m2.8 0h0m-1.4 .5h0m-3.6 0h0m4 1.2h0m.8 .1h0m-6.3 .1h0m3.6 .3h0m-.6 .3h0m-.4 0h0m-7.6 .3h0m6.1 .6h0m.3 .1h0m.4 .4h0m-5.2 0h0m-3.1 .3h0m-.8 .2h0m5.4 0h0m6 .4h0m3.6 .2h0m-6.3 0h0m-6.4 .2h0m8.3 .1h0m-.3 0h0m-4.8 0h0m.2 .1h0m-3.4 .3h0m9.4 0h0m-11 .1h0m7.7 0h0m3.6 .2h0m-1.1 .1h0m-5 .5h0m-2.5 0h0m2.7 .3h0m4.7 0h0m-4.7 .5h0m-2 .2h0m5 .6h0m-1.9 .5h0m2.2 1.1h0m.3 0h0m2.6 .3h0m-3.7 .1h0m1.8 .4h0m-5.4 .7h0m4.3 .6h0m1.4 .1h0m.6 .6h0m-1.3 0h0m3.2 .3h0m-8.1 .1h0m8.1 .3h0m-7.8 1.7h0m4.1 .4h0m-2.1 0h0m-2.1 .3h0m-3.3 .1h0m8.1 .1h0m-3.2 .2h0m1.6 1h0m-4.4 .2h0m5.9 .5h0m2.8 .4h0m2.7 0h0m-5.1 .4h0m-.9 .1h0m1.1 .8h0m-2.3 0h0m-1.6 1.3h0m4 .1h0m-1.9 .1h0m4.1 .2h0m1.9 .1h0m-5.9 .4h0m11 .2h0m-15.4 1.4h0m3.5 .7h0m-.9 6.4h0" stroke="rgb(255,0,0)"/><path d="M294.9 867.2h0m-.7 9.1h0m-4.6 .7h0m2.4 5.8h0m-2.4 12.7h0m8.8 .9h0m-3.2 4.8h0m4.3 2.9h0m.5 2.3h0m-10.6 2.5h0m5.2 .7h0m4.3 1h0m-1.3 1.3h0m-.5 .8h0m-.1 .3h0m3.4 .2h0m-11.5 1.7h0m-.9 .1h0m9.8 1h0m-1.9 .1h0m4.2 .6h0m-6 .6h0m2.7 .4h0m-2.1 0h0m-1.5 1.3h0m4 .3h0m-5 1.3h0m4.2 .6h0m-1 .2h0m2.4 .4h0m-3.3 .2h0m-9 .2h0m11.6 .7h0m-3.8 0h0m1.1 0h0m-1.5 .2h0m-.5 .1h0m4.4 .3h0m-2 .1h0m.6 .6h0m4.7 2.2h0m-2.5 .7h0m-2.7 1.1h0m.4 .4h0m-2.7 .5h0m4.5 .2h0m-2.3 .9h0m-2.8 .3h0m-3 .1h0m1.2 .3h0m4.1 .1h0m-.8 .3h0m1.1 .1h0m3.9 .2h0m-.5 0h0m-.2 .2h0m-1.3 .5h0m1.2 0h0m3.7 .5h0m-8.5 .7h0m2.5 .4h0m-2.1 .2h0m3.9 .1h0m-6.6 .5h0m3.4 0h0m3.6 1.3h0m-1.2 .2h0m-.8 .4h0m-3 .1h0m2.1 .5h0m-9.4 0h0m13.5 .4h0m1.5 .6h0m-3.5 .8h0m-1 .2h0m-4.1 0h0m4.8 0h0m-2.8 .4h0m2.9 .2h0m-2.3 .2h0m.1 .3h0m-2.2 2.2h0m2.2 .2h0m1.8 .2h0m-3.3 .5h0m2 .3h0m-6.8 .5h0m9.7 .2h0m-6.2 0h0m.6 .2h0m4.3 .7h0m-5.2 0h0m4.5 .1h0m-4.8 .6h0m8 1.2h0m-3.6 .3h0m1.9 .3h0m1.5 .2h0m-.5 .2h0m-1.1 .2h0m1.8 .4h0m-3.9 .1h0m-3.1 .1h0m-6 .1h0m12.2 .1h0m-7.3 .1h0m5.5 0h0m-2.3 .1h0m.3 .3h0m-1.3 0h0m-2.1 .1h0m3.7 .1h0m-4.1 0h0m9.5 .4h0m-3.9 .3h0m-3 .1h0m2.8 .6h0m5.1 .1h0m-8.5 0h0m7.8 .1h0m-6.9 .3h0m.3 .1h0m4.6 0h0m-1 .1h0m-5.3 .1h0m.7 .4h0m11.1 .2h0m-4.8 .1h0m-2 .1h0m-1.9 .1h0m-.1 .4h0m-1.3 0h0m4.3 .1h0m-4.7 .3h0m-.8 0h0m2 0h0m-.7 .6h0m-.5 .4h0m3.2 .1h0m4.4 .1h0m-.9 .2h0m-5.4 .4h0m-6 .3h0m12.8 .3h0m-7.6 .4h0m-2.2 .2h0m2.5 .3h0m-.7 1h0m1.4 0h0m4.2 1.5h0m-8.8 1.2h0m7.3 .8h0m-6.7 1h0m-.1 .2h0m5.1 .1h0m-.6 .1h0m9.1 .2h0m-7.8 .2h0m0 0h0m-2.3 .1h0m.7 1h0m-2.1 .9h0" stroke="rgb(255,0,0)"/><path d="M292.3 877.3h0m2.1 15.5h0m-.8 1.7h0m-.2 .2h0m-.9 .6h0m3.1 8.1h0m2.8 .6h0m-8.4 .8h0m9.2 1.1h0m-5.7 2.2h0m-1.8 1.1h0m6.1 .5h0m-.6 1h0m-2.1 .2h0m5.1 .7h0m-5.3 .7h0m-.2 2.9h0m-1 .3h0m.6 1.6h0m-3 .1h0m.7 .2h0m-1 .7h0m9.5 .8h0m-9.3 1.1h0m5 0h0m-5.1 1h0m1.2 .1h0m.5 .7h0m4.3 .2h0m4.4 .2h0m-10 .2h0m5.3 .8h0m-2.2 2.7h0m2.5 .7h0m-4.9 .9h0m3.7 .3h0m-4.6 1h0m3.3 .3h0m.4 .8h0m-.7 2.9h0m2.7 1.2h0m-1.6 .1h0m-4.1 .1h0m3.7 .2h0m-2.4 .7h0m-2 .3h0m8.8 .3h0m-2.9 .1h0m-7.2 .1h0m5.5 .2h0m-1.5 0h0m3.3 .1h0m1.3 .2h0m-2.6 .1h0m1.1 .7h0m-7.7 .3h0m7.6 .4h0m-9.8 .4h0m4.8 .2h0m6 .1h0m2.5 .3h0m-1.5 .1h0m-7 .3h0m5.2 .3h0m-.2 .2h0m-2.6 0h0m.1 .4h0m-.1 .7h0m.4 .2h0m-1.8 .1h0m2.4 .5h0m-1.3 .4h0m-.3 .1h0m-.7 0h0m-.9 .2h0m1.5 .4h0m7.4 .1h0m-5 .1h0m-2.5 .2h0m3.6 .1h0m-1.2 .2h0m-4.8 .3h0m3.9 .5h0m-1.4 .1h0m0 .3h0m-2 .1h0m3.2 .1h0m-3.4 .2h0m3.7 .2h0m3 0h0m-4.8 .5h0m7.9 .4h0m-3.1 .5h0m1.9 .4h0m-4.9 0h0m-1.7 .2h0m3.6 .3h0m-3.5 .1h0m1.3 .4h0m3.1 .4h0m-2.6 0h0m2.1 .1h0m-.4 .2h0m.4 .3h0m-9.4 .1h0m8.3 .1h0m1.7 0h0m9.2 .1h0m-16.5 .2h0m5.6 .1h0m.6 .1h0m-3.1 .2h0m-1.6 .1h0m4.2 .2h0m-2.7 .1h0m.5 .3h0m.6 .2h0m4.5 .4h0m.1 .1h0m-2.1 .4h0m2 .8h0m-5.8 .6h0m-2.6 .4h0m7.7 .7h0m-2.9 .8h0m8.6 .1h0m-8.3 .3h0m-3.3 .2h0m8.3 .2h0m-2.4 .1h0m-3.9 .1h0m-1.8 2h0m10.4 .1h0m-11.6 0h0m-3.1 .5h0m14.7 .2h0m-7.7 .1h0m1.2 .9h0m-4.3 .3h0m3.6 .1h0m-2.3 1h0m2.4 .2h0m-.1 .1h0m-.9 .1h0m9.1 0h0m-12.7 .2h0m6.5 0h0m-2.2 .1h0m-2.1 .3h0m-5.7 0h0m2.5 .3h0m3 1h0m2 0h0m2.2 .2h0m-2.1 .1h0m-2.2 .3h0m6 2h0m-2.8 .6h0m-.2 1.2h0m2.5 .4h0m-12.6 2h0m4.7 1h0" stroke="rgb(255,0,0)"/><path d="M291.9 868.4h0m-1.6 24.7h0m6.1 4.3h0m2.4 2.7h0m.6 0h0m-3.9 0h0m-4.7 1.4h0m8.3 .3h0m-4 5.3h0m2.9 .7h0m.3 .2h0m-3.3 1.3h0m3.3 .5h0m-7.4 2h0m.5 .3h0m.7 4.6h0m4.2 .7h0m1.7 .2h0m3.1 .5h0m-3.6 .1h0m-5.9 .7h0m-6.6 1.2h0m12.3 .4h0m.3 .8h0m-4.9 .3h0m4.9 1.8h0m-.9 .3h0m.2 .7h0m-5.6 .5h0m8.1 .9h0m-1.2 .3h0m-3.9 .3h0m1.7 .1h0m2 .1h0m-4.5 0h0m1.7 .2h0m.8 .3h0m.1 .1h0m-.6 0h0m-3.5 .3h0m3.2 .5h0m-6.7 1.5h0m4 .7h0m7.4 1.1h0m-1.4 0h0m-2.1 .1h0m-2.3 .2h0m6.1 .8h0m-8.8 .5h0m5 .5h0m-4 .2h0m6.2 .1h0m-4 0h0m1.9 .2h0m-2.1 .4h0m3.4 .1h0m-6.5 .1h0m9.4 .1h0m.5 0h0m-9 .3h0m1.2 .3h0m4.4 .1h0m-1 .2h0m-4.4 0h0m-1.2 .3h0m-1.4 .5h0m7.1 .3h0m8.8 .8h0m-14.3 .6h0m4.9 .5h0m-1.3 .3h0m-5.2 0h0m1.3 .1h0m-4.4 0h0m5.9 .3h0m-.5 .2h0m-3.2 .2h0m4.3 .4h0m2.2 .5h0m2.2 0h0m-3 .1h0m.1 0h0m-.4 .1h0m3.1 .2h0m1 .3h0m-3.4 .1h0m-1 .3h0m1.8 .2h0m9.4 0h0m-14.2 0h0m4.9 .2h0m-4.4 0h0m3.4 .1h0m.8 0h0m-.8 .2h0m.7 .2h0m-.6 .8h0m-6.3 .4h0m7.2 .1h0m.4 0h0m-1.7 .3h0m-1.1 .2h0m1.8 0h0m3.5 .2h0m-1.5 .3h0m0 .1h0m2 .3h0m-8.3 .7h0m2.6 .1h0m1.6 .1h0m-1 .5h0m6.8 .3h0m-3.1 .5h0m-6.2 0h0m9.4 .1h0m-7.4 .4h0m-7.5 .1h0m6.9 .4h0m-.1 .2h0m3.7 .2h0m0 .2h0m1.4 .3h0m-.6 .2h0m-1.4 0h0m5.7 .2h0m-7.1 .3h0m-.1 0h0m.1 .3h0m-3.8 .2h0m2.5 .1h0m3.6 .5h0m-3.2 .3h0m3.7 .3h0m-.2 .1h0m-.1 .3h0m-.7 .2h0m4.5 .3h0m-11.6 .4h0m-1.2 0h0m7.8 .1h0m6.3 .1h0m-9.4 .1h0m5.2 .4h0m5.7 0h0m-3.8 .1h0m-3.4 .2h0m2.8 0h0m-7.1 .1h0m3.4 .6h0m5.9 .1h0m-4.8 .5h0m-2.9 .1h0m6.8 .7h0m-6.5 .5h0m-2.2 .1h0m-6.6 0h0m12.8 0h0m-1.5 .7h0m-3.2 .3h0m-5.8 .1h0m8.5 .3h0m3.1 .1h0m-2.5 1.5h0m-4.9 1.3h0m2.7 .2h0m0 .3h0m4.3 1.4h0m-2.3 2h0m-3.3 .8h0m5.5 .3h0m-9.4 .2h0m7.4 .7h0m-1.1 .4h0m-2.4 .5h0m.6 2.6h0m1.5 .9h0" stroke="rgb(255,0,0)"/><path d="M298.8 887.1h0m-4.1 4.3h0m-1.9 4.3h0m-1.4 2h0m8.3 3.1h0m-2.5 6.9h0m-3.9 2.6h0m5.9 1.1h0m-8.5 .1h0m-1.8 .7h0m4.3 1h0m5.6 .2h0m-3.6 .9h0m0 .5h0m-8.2 2.5h0m5.1 .3h0m8.7 1.2h0m-8.5 .4h0m.5 1.5h0m5.4 .4h0m-6.1 .6h0m2.1 .3h0m-1.5 .5h0m2 .2h0m-1 .9h0m1 1.1h0m3.1 .5h0m-3 .1h0m2.6 .1h0m1.4 1.3h0m-4.9 .1h0m2.7 .4h0m-7 .5h0m3.3 .4h0m12.3 .6h0m-12.6 .1h0m6.5 .5h0m-1.8 .3h0m1.9 .4h0m-1.6 .7h0m-8.6 .8h0m5.5 .9h0m-2.6 .3h0m5.3 .1h0m3.7 .6h0m-15.8 .4h0m1.5 1.2h0m10.3 .1h0m2.9 0h0m-5.2 .2h0m4.9 0h0m-2.1 .3h0m-.7 .9h0m.4 .1h0m1.6 .6h0m-3.2 .5h0m-6.9 0h0m7.4 0h0m-.5 .2h0m-4.4 .1h0m-1.9 1h0m-.9 0h0m10.7 .5h0m.2 .5h0m-6.1 0h0m11.5 .7h0m-12.2 .4h0m5.8 .6h0m-6.2 .4h0m4.1 .7h0m-5.6 .3h0m-5.7 .2h0m14.7 .9h0m-7.4 0h0m7.4 0h0m.9 .1h0m-1 .2h0m-9.3 .1h0m4.5 0h0m5.9 .6h0m-7.9 0h0m3.8 .3h0m-.4 0h0m3.6 .3h0m-4.1 .2h0m-3.5 .2h0m8.8 .3h0m-6.2 0h0m10.2 .4h0m-11.4 .1h0m-.9 .2h0m4.8 .2h0m-2.9 .2h0m-4 0h0m1.8 .2h0m1.3 .2h0m5.9 .1h0m-2.3 0h0m-4.6 0h0m5.6 .2h0m-9.1 .3h0m6.8 0h0m9.9 0h0m-10.8 .2h0m.5 .1h0m4.7 .3h0m-6 .7h0m.8 .2h0m3.1 .1h0m-7.3 0h0m2.6 .4h0m3.7 0h0m-1.2 0h0m-3.1 0h0m3.8 0h0m-3.1 .2h0m1 .4h0m1.2 .2h0m5 .6h0m-2.6 .1h0m-2.1 .1h0m0 .6h0m-.6 .2h0m6 .5h0m-9 .7h0m0 .1h0m-6.9 0h0m6.8 .5h0m8.4 0h0m-1.9 .1h0m2.5 0h0m-11.1 .4h0m-2.4 .2h0m4.9 .1h0m-1.7 .1h0m2.6 .5h0m-5.1 .2h0m12.6 .1h0m-6.4 .9h0m-4.6 .1h0m10.7 .1h0m.9 .1h0m.2 .2h0m-4.3 .3h0m-4.5 0h0m8.3 .4h0m-6.1 0h0m.8 .1h0m-.4 .3h0m6.4 0h0m-13 .5h0m9.1 0h0m0 .9h0m-3.6 .3h0m7.5 .1h0m0 .4h0m-2.9 .1h0m2.5 .9h0m-7.6 1.3h0m3.5 .8h0m-3.1 1.9h0m-3.2 0h0m9.4 .2h0m-3.1 .2h0m.7 .2h0m-6.1 .1h0m6.1 1.7h0m-1.3 .6h0m5.4 .1h0m-3.4 .2h0m2.5 2.2h0m-.6 .6h0" stroke="rgb(255,0,0)"/><path d="M302.1 862.3h0m-7.2 14.5h0m-2.6 .3h0m-.7 7.1h0m6.1 6.5h0m-4.6 5.9h0m3.7 7.3h0m1.6 2.6h0m-2.3 5.2h0m-1.9 1.2h0m-9.2 .2h0m9.3 2.4h0m3.5 .5h0m-2.2 .2h0m2.7 .9h0m-3.4 .7h0m-5.4 0h0m8.2 .1h0m-1.3 1.5h0m-2.3 0h0m3.2 .4h0m-4.1 .5h0m3.9 .7h0m-3.6 .4h0m-1.9 1.5h0m1.4 .4h0m4.6 .5h0m-6 .1h0m.8 .5h0m.9 .2h0m-1.1 .6h0m7.5 .5h0m-7.2 .3h0m-4.6 .4h0m9.2 .2h0m-.7 0h0m-4 .3h0m5.2 .3h0m1.1 .7h0m-2 .6h0m.5 .1h0m-1.3 0h0m5.8 .2h0m-.2 .9h0m-8.3 0h0m1 .4h0m2.4 .5h0m-8.7 .4h0m7.7 .6h0m1.9 .2h0m.2 .8h0m-1.7 0h0m-.7 .4h0m-4.4 .4h0m2.6 .6h0m5.3 .3h0m-3.2 .1h0m-4.8 0h0m1.2 .1h0m0 .5h0m5.5 .7h0m4 0h0m-8 .1h0m-.3 .1h0m3 .2h0m-5 .6h0m.5 0h0m4.8 .4h0m-.7 .1h0m1.2 .3h0m-3.5 .1h0m.9 .5h0m-.3 .1h0m-7.3 .1h0m13.8 .1h0m-7.3 .1h0m-.3 .1h0m1.2 .2h0m.1 0h0m3.5 .1h0m-3.3 .1h0m-4.1 .1h0m.4 .1h0m1.1 .5h0m4.9 .1h0m.8 .1h0m-6.1 1.2h0m9.7 .2h0m-10.3 .4h0m2.7 .1h0m.9 0h0m-1.2 .2h0m2.6 0h0m-4 .2h0m3.3 .2h0m-.1 .2h0m4.2 .2h0m-9 .5h0m2.4 .1h0m1.9 0h0m2.8 .6h0m6 .4h0m-8 .4h0m1 .6h0m-3 .4h0m2 .6h0m-2.4 .3h0m-3 0h0m2.8 .2h0m-2.6 0h0m-.8 .5h0m6.3 .3h0m-3.5 0h0m-1.3 .5h0m4.3 .3h0m4.5 1.4h0m-17 .1h0m16.3 .1h0m-.4 .1h0m-.5 .2h0m3.4 0h0m-9.1 .2h0m.5 1.2h0m1.4 .1h0m4.3 .4h0m2 .3h0m-8.5 .2h0m2.2 .2h0m3.4 .2h0m-5.2 .5h0m2.2 .7h0m4 0h0m-5 .2h0m2.1 .4h0m1 .1h0m-4.2 .2h0m5.4 .3h0m-3.3 .9h0m5.1 0h0m-6.7 .2h0m2.9 0h0m-4.2 .8h0m-1.8 .4h0m5.4 .2h0m4.3 .1h0m1 .4h0m-4.7 .1h0m-4 0h0m6.2 0h0m-9.7 .1h0m9.4 .1h0m-7.3 0h0m-1.5 .3h0m4.1 1.2h0m-2.7 .2h0m3.2 .7h0m-2 0h0m5.1 .9h0m-5 .4h0m4.5 .3h0m-1.4 .2h0m4.5 2.3h0m-3.3 .1h0m-3.6 .1h0m5.3 .3h0m1.6 0h0m-7.2 1.5h0m-5 .1h0" stroke="rgb(255,0,0)"/><path d="M293.7 893.8h0m1.2 1.6h0m1.7 .2h0m1.9 7.1h0m1.2 .4h0m-1.2 1.9h0m-3.7 .2h0m-.4 1.1h0m-1.6 4.3h0m6.5 .6h0m7.9 1.4h0m-8.1 2.4h0m-2.5 0h0m-3.3 1h0m2.8 .4h0m-1.6 .5h0m2.8 .1h0m-4.4 .2h0m5.8 .2h0m-7 .7h0m5.2 .7h0m.2 .1h0m1 .6h0m1.9 .6h0m-5.6 .5h0m0 .1h0m4.1 0h0m3.8 .1h0m-7.3 .2h0m1.8 2h0m.3 .1h0m-9.1 0h0m1.7 .7h0m9.1 1.4h0m-5.3 .1h0m4 .2h0m-1.9 .2h0m-.3 1h0m2.3 .1h0m-1.9 .6h0m6.3 .1h0m-5.6 .5h0m2.1 .2h0m-8.6 .3h0m10.3 .1h0m-3.4 .4h0m-10.1 .6h0m16.6 .1h0m-13 .1h0m5.1 .3h0m-6.7 0h0m11.1 .1h0m-4.7 .4h0m-3.4 0h0m6.2 .2h0m-11.5 .5h0m9 .9h0m-.6 .1h0m6.7 .1h0m-5.3 .2h0m-1.8 .2h0m6.2 .3h0m-6.8 .2h0m.2 .1h0m-1.6 .1h0m7.3 .5h0m-.3 .1h0m-1.6 .7h0m2.2 .2h0m-5.3 0h0m-4.2 .1h0m-2.5 .2h0m5.2 .8h0m1 0h0m-3.4 .3h0m6.7 .3h0m-3.2 .2h0m2.4 .3h0m-2.3 .3h0m5.5 0h0m-6.2 .3h0m-2.7 .4h0m7.7 .5h0m-2.4 .1h0m4.5 .2h0m-5.8 .2h0m7.5 .2h0m-9.1 .1h0m-2.7 .3h0m.6 .8h0m15.5 .1h0m-9.6 .3h0m-4.6 0h0m5.8 .3h0m-8.5 .1h0m3.7 .4h0m-.7 .1h0m-3.2 0h0m4.8 .1h0m-4.7 0h0m4 .1h0m5.1 0h0m-6 0h0m-2.5 .5h0m4.2 .4h0m-2.4 .3h0m7 .8h0m-5.3 .1h0m-4.2 .1h0m3.7 .1h0m2.3 .2h0m-3.1 0h0m2 .4h0m-3.9 .2h0m.7 .1h0m-.5 0h0m5.7 .5h0m-.5 0h0m-.1 .1h0m.3 .4h0m2.4 .1h0m-8.3 .1h0m2.5 .2h0m-.8 .1h0m5.2 .1h0m-4.1 .2h0m1.3 .1h0m-4.3 1.1h0m7 .2h0m.2 .1h0m-1.7 .1h0m3.3 .4h0m-7 .1h0m4.8 .1h0m-6.7 .1h0m3.2 0h0m4.5 .2h0m-1.9 .4h0m-1.5 .1h0m-.6 .1h0m.1 0h0m2.8 .2h0m-4.5 0h0m.4 .2h0m13.6 .2h0m-9.8 .5h0m-5.8 .1h0m.7 .3h0m2.3 .1h0m4.3 .4h0m-4.3 .3h0m-1.3 0h0m7.2 .1h0m1.9 0h0m-9.1 0h0m-.6 .5h0m1.5 .2h0m4 .4h0m-2.1 .1h0m-1.4 .2h0m4 .2h0m.3 .7h0m-9.5 .4h0m5.9 .3h0m-2.4 .2h0m2.3 0h0m2 .2h0m-5.9 .3h0m-1 .1h0m-2.9 .2h0m10.3 0h0m3.6 .1h0m-3.7 .6h0m1.4 .1h0m-5.9 .1h0m3 .1h0m4.4 .1h0m5.8 .1h0m-9.7 .2h0m1.1 .1h0m-.9 .3h0m-4.5 .1h0m4.2 .3h0m4.6 .5h0m4.9 1.1h0m-11 .6h0m-.8 .1h0m-2.2 .5h0m3.1 .6h0m5.3 0h0m.9 1.2h0m-6.1 .9h0m-1.9 .6h0m7 .6h0m-6.9 .8h0m3.4 .2h0m-3 .5h0m-1.6 1.3h0m5.7 .5h0m-.2 .2h0" stroke="rgb(255,0,0)"/><path d="M299.9 868.1h0m-.9 .4h0m-5.7 5.3h0m1.4 8.6h0m1.2 8.8h0m.4 1.6h0m-11.8 7.2h0m6.5 2.2h0m3.7 4.2h0m4.4 .3h0m-3.7 1.5h0m-1.9 2.4h0m7.5 .7h0m-5.2 .4h0m3.6 .1h0m2.8 .1h0m-3.3 .2h0m-.2 .1h0m-6.6 .7h0m7.3 1.1h0m-13.3 1.8h0m9.2 .5h0m2.9 .2h0m-2.5 .8h0m.1 .7h0m-4.8 .1h0m-6.1 .2h0m14.3 0h0m-1.7 .1h0m2.6 .6h0m-2 .2h0m-7.2 .6h0m-1.4 1h0m8.3 1.8h0m-8.5 .8h0m9.7 .8h0m-9 .2h0m1.2 .6h0m1.5 .1h0m3.3 .1h0m-.4 .3h0m-4.4 .1h0m2.2 .3h0m4 .2h0m2.2 .1h0m-8.5 .1h0m14.2 1.2h0m-8.6 0h0m-4.5 .2h0m7.2 .2h0m-2.7 0h0m1.3 0h0m-3.6 .2h0m5.6 .1h0m-10.2 .5h0m4.9 .4h0m1.8 .3h0m-5.4 1.1h0m4.1 0h0m1.7 .1h0m2.9 .5h0m-3.8 .3h0m3.1 .4h0m-3.6 .1h0m1 .6h0m3.4 .9h0m-4.1 .1h0m-1.4 .9h0m-3.5 .2h0m2.3 .8h0m-.1 .2h0m-3.7 .4h0m4.6 .8h0m-1.1 .1h0m5 .3h0m-2.6 .4h0m-.7 .1h0m3.6 .2h0m-.9 .1h0m-6.7 1h0m2.7 .2h0m-8 .1h0m13.8 .4h0m-.3 0h0m-1 .5h0m-1.1 0h0m3.1 .1h0m-3.1 .6h0m-3.2 1h0m4.7 0h0m-.8 .1h0m-6.1 .3h0m1.5 .4h0m5.5 .4h0m-6 0h0m2.3 .2h0m4.8 .1h0m-3.2 .6h0m-.2 .4h0m6.8 0h0m-4.9 .2h0m5.3 .2h0m-10.9 .1h0m4.7 0h0m.7 .2h0m1.5 .5h0m-2.5 .4h0m-.8 .2h0m-4.9 .1h0m-.9 .2h0m7.2 .5h0m-1.1 .3h0m.3 .2h0m6.6 .4h0m-9.2 0h0m-.5 .2h0m5.4 .3h0m-4 .3h0m1.1 .6h0m1.1 .1h0m-2.6 0h0m-2 1h0m.2 0h0m3.6 .2h0m.7 .1h0m-.4 .1h0m0 .7h0m0 .1h0m-3.9 .3h0m.7 .2h0m.4 .1h0m3 0h0m-1.7 .1h0m7.4 .3h0m-2.3 0h0m-4.5 .2h0m-4.4 .1h0m2.5 1.3h0m3 .7h0m-3.1 0h0m4.6 .1h0m-3.1 1h0m5.2 .4h0m-8.4 1.1h0m5 .1h0m-5.1 .8h0m-.2 .3h0m-2.5 .5h0m6.4 .3h0m-4.5 0h0m13 .3h0m-13 .3h0m2.6 .3h0m5.7 .3h0m-3.9 1h0m.7 .9h0m-6.8 .5h0m3.5 .5h0m6.8 .5h0m5.6 0h0m-6.3 .9h0m1.5 .3h0m-10.7 0h0m1.3 .2h0m6.2 0h0m-3.1 .4h0m0 .3h0m-1.8 3.3h0m-.7 1.9h0" stroke="rgb(255,0,0)"/><path d="M296.8 866.9h0m2.3 30.2h0m-4.1 4.3h0m-2.5 .2h0m4 5.3h0m-1.1 .4h0m3.6 2.1h0m-1.3 .3h0m-6.5 .9h0m3.6 1.8h0m-.5 2.4h0m-5.9 1.2h0m1 .8h0m9.4 .2h0m-2.5 .4h0m-6.2 1h0m.7 0h0m8.4 .1h0m-10.1 1.6h0m4.6 0h0m-.6 .5h0m3.8 .2h0m-1.7 .1h0m6.4 .1h0m-11.9 2.5h0m8.3 .7h0m-1.1 .5h0m-3.3 .8h0m-1.3 .2h0m4.6 1.3h0m-4.3 .2h0m8.1 .1h0m-6.4 1.5h0m-.9 0h0m3.1 .7h0m2 .9h0m-7.6 .9h0m8.5 0h0m-.9 1.4h0m-5.6 .1h0m1.6 .8h0m3.9 .1h0m-11.4 .1h0m8.7 .1h0m-5.5 .8h0m7.5 .4h0m-4.4 .2h0m6.9 .1h0m-8.2 .4h0m4.2 .1h0m5.8 .2h0m-9.8 .1h0m3.1 .4h0m-2.3 .3h0m2.7 0h0m3.6 .1h0m-8 0h0m-4.6 .2h0m16.6 .5h0m-9.6 .1h0m-.5 .1h0m-.7 .1h0m2.7 .1h0m-.7 .2h0m1.5 .1h0m.9 0h0m5.5 0h0m-3.4 .1h0m-3.6 .7h0m.1 0h0m2.2 .1h0m-8.8 0h0m5 .4h0m3.7 .4h0m.6 .1h0m-1.2 .2h0m-1.4 .1h0m.8 .2h0m1.7 .5h0m-11.2 .5h0m10.1 .2h0m-.5 .3h0m-.2 0h0m2.9 .3h0m-6.2 .8h0m1.6 .1h0m-7.1 .1h0m8 .7h0m.8 0h0m-3.1 .2h0m1.6 .1h0m.9 .1h0m-5.7 .2h0m11.6 0h0m-3.1 .2h0m9 .1h0m-12.2 .4h0m-1.5 .3h0m-3.4 .1h0m4.3 .4h0m-1.5 .1h0m2 .2h0m6.2 .1h0m-7.3 .2h0m-.6 .5h0m.9 .2h0m3.6 .2h0m-2.8 0h0m.4 .5h0m-.1 .2h0m-.1 .4h0m3 .2h0m-5.5 .6h0m-.5 0h0m2 .3h0m.5 .2h0m-3 .3h0m.6 .2h0m-2.4 .2h0m5.9 .1h0m4.3 .7h0m-3.5 .2h0m-1.8 .1h0m-4.6 .4h0m12.2 .1h0m-9.8 0h0m-3.1 .5h0m3.8 0h0m4.7 .4h0m-1.8 .4h0m-.9 0h0m-1.7 .1h0m2.8 .1h0m1.1 0h0m-6.7 .3h0m.8 .4h0m4.5 .2h0m2.8 .8h0m1.1 .1h0m-1.6 .2h0m.6 .1h0m-2.5 .6h0m-.2 1.5h0m1.4 .1h0m-5 0h0m1.9 .4h0m-5.3 .4h0m5.3 0h0m1.6 .1h0m-.4 .1h0m-2.4 .2h0m-1.6 1.1h0m4 .1h0m-6.8 .2h0m8.9 .2h0m.8 0h0m-5.7 .1h0m2.4 .2h0m.2 .6h0m-1.9 .4h0m-2.4 .2h0m.8 1h0m-.1 .2h0m-.5 1.4h0m3.5 .5h0m-4.5 .7h0m8.8 .4h0m-1.7 .6h0m-6.4 .6h0m.6 5.9h0" stroke="rgb(255,0,0)"/><path d="M298.2 874.1h0m-3.5 3.8h0m1.3 13.7h0m-3.4 .9h0m6.1 5.1h0m-14.9 .1h0m12.1 5.2h0m-1 .5h0m3.1 1.6h0m5.4 .6h0m-7 .4h0m-2.2 2.4h0m4.9 5h0m5.9 .6h0m-11.1 .2h0m-6.5 1.4h0m4.7 0h0m-2.7 2.3h0m2.5 .8h0m5.4 .1h0m-3.3 .6h0m-2.9 .2h0m3.5 1.2h0m2.7 .4h0m-3.4 .8h0m3.4 .1h0m4.6 1h0m-2.6 1.1h0m-6.7 1.5h0m.8 .2h0m-2.5 .8h0m5.2 1.6h0m.6 .3h0m-5.6 0h0m-4.5 .8h0m11.9 1.3h0m-10.5 .1h0m13.8 .3h0m-9.7 .2h0m8.4 .1h0m-3.8 .8h0m-3.4 .3h0m4.7 .5h0m-2.4 .1h0m-3 .8h0m-.7 .3h0m6.1 0h0m-1.4 .2h0m-.5 .1h0m-.3 .2h0m-.2 .4h0m2.9 .2h0m-.3 .1h0m-4.6 .9h0m9.9 .6h0m-4.4 .6h0m-1.7 .2h0m-2 0h0m.6 .5h0m-7.7 .3h0m12 0h0m-10.8 .1h0m8.9 .1h0m-4.1 1.6h0m-3.6 0h0m5.3 .4h0m-9.4 .5h0m-1.8 .6h0m9.9 .4h0m-3.4 .3h0m5.8 0h0m-5.1 .2h0m6.5 .1h0m-4.4 .1h0m0 0h0m7.9 .4h0m-5.9 .7h0m3.3 0h0m-2.2 0h0m-2.4 .1h0m-.2 .2h0m1 .2h0m3.1 .3h0m3.6 .1h0m-5.7 0h0m1.6 .1h0m-4.7 0h0m-.6 .1h0m.4 0h0m3.9 .6h0m2.5 .2h0m-3.6 0h0m-7.1 .1h0m5.3 .2h0m-4 .1h0m11 .2h0m-2.1 .4h0m.4 .9h0m-6.4 .2h0m1 0h0m-2.7 .6h0m5.5 .1h0m-1.5 .9h0m-.4 0h0m2.1 .2h0m-1 .1h0m.8 0h0m-1.7 .2h0m-3 .2h0m5.2 .1h0m-1.9 .6h0m4.1 .2h0m-1.5 .3h0m-.9 .3h0m-12.6 .6h0m5 .1h0m2.7 0h0m1.5 .1h0m-2 .3h0m6 0h0m-9.9 .4h0m14.5 .5h0m-12.1 0h0m9.5 .7h0m-2.8 .2h0m2.1 .3h0m-.9 .1h0m.3 .6h0m-6.2 .5h0m4.8 .4h0m-2.7 .2h0m.3 .3h0m-3.1 .4h0m5.8 .1h0m.6 0h0m2.2 .4h0m-4.4 .7h0m1.5 .2h0m-4.1 .1h0m.5 0h0m-2.5 .7h0m9.9 .3h0m-4.1 .9h0m-1.4 .2h0m4.2 .7h0m.9 .6h0m-3.8 1.5h0m-4.4 .3h0m3.7 .7h0m-4.5 .4h0m3.2 .4h0m-.1 .1h0m-1 .6h0m.8 .1h0m.3 2h0m-2 1.9h0" stroke="rgb(255,0,0)"/><path d="M299 872.2h0m-3.8 12h0m4.3 20.6h0m-7.8 .4h0m7.4 .7h0m-8.6 4h0m-1 0h0m10.1 1.2h0m-2 .7h0m-4.6 3.3h0m.7 .5h0m4 .3h0m-2.8 0h0m-4.8 .5h0m-2.3 .7h0m1.9 1.5h0m5.5 .1h0m-2.3 .5h0m2 .3h0m3.5 .4h0m-4.3 1.2h0m3.7 .6h0m-2.5 .5h0m1.1 .6h0m1.1 1.5h0m.7 0h0m-3.2 .1h0m-2.6 .8h0m5.7 1.2h0m.4 .1h0m2.5 .4h0m-7.1 .8h0m3.8 .9h0m3.2 .2h0m-10.2 .2h0m9.8 .1h0m-8.4 .7h0m4 0h0m-5.7 .3h0m4.5 .1h0m1.8 .6h0m-2.1 .1h0m-3.8 .7h0m7.2 .2h0m.5 .2h0m-1.4 .1h0m-6.4 0h0m11 .5h0m-7.6 .3h0m6.3 .2h0m-2 1.9h0m-5.9 .1h0m1.3 .4h0m-1.1 .1h0m5.9 .1h0m-2.2 .1h0m-.9 0h0m-.5 .7h0m4.3 .3h0m-2.4 .1h0m.7 .3h0m4.9 .5h0m-5.5 .9h0m-13.4 0h0m12.4 .2h0m1.9 .1h0m-.3 .7h0m-2.1 1h0m1.5 .5h0m-4.5 0h0m3.1 .8h0m.9 .1h0m-1.5 .1h0m-3.9 .3h0m3.4 .1h0m.7 .1h0m-1.7 .2h0m2.8 .1h0m-3.2 .5h0m-2.8 .1h0m4.9 .1h0m-3.4 .1h0m7.6 .4h0m-5.4 0h0m-.2 0h0m3 .1h0m-5.1 0h0m5.3 .1h0m-5.6 0h0m7.8 .3h0m-3.8 .3h0m6.2 .1h0m-12.9 0h0m7.7 .4h0m-1.8 .6h0m-1.8 0h0m1.1 .1h0m-4.4 .3h0m3.8 .2h0m-1.2 .2h0m3.8 .2h0m1.8 .3h0m-4.8 0h0m7.5 .8h0m-5.1 .4h0m-.7 .3h0m1.2 0h0m-4.7 .2h0m-1.5 .5h0m8.4 0h0m-6.8 .5h0m5.3 .4h0m4.1 .1h0m-4.6 .1h0m-.9 0h0m.1 .1h0m-2.4 .1h0m-1.3 0h0m1.6 .4h0m.6 .2h0m.8 .3h0m6.9 .3h0m-11.7 .3h0m3.5 .2h0m5.2 .5h0m-2.5 0h0m-2 0h0m-1.5 .2h0m3.1 .4h0m6.4 .3h0m-8.6 .7h0m-1.4 .2h0m-2.1 .1h0m9.2 .1h0m-3.2 0h0m8.5 .3h0m-16.7 .2h0m10.5 .5h0m-4.1 .2h0m1.9 .1h0m-1.4 .1h0m4.5 .1h0m-2.2 .6h0m-5.4 0h0m2.2 .1h0m0 0h0m3.2 0h0m4.6 .5h0m-10.5 1.2h0m5.1 .4h0m-1.1 .1h0m.1 1.3h0m.8 .2h0m-.1 .7h0m-2 .5h0m1.8 .2h0m-6.5 .1h0m7.2 .2h0m-5.5 .4h0m.2 .8h0m-.1 .3h0m8.5 .5h0m-8.2 .3h0m-4.6 1.2h0m8.3 1.7h0m-.7 .2h0m-1 2.4h0m.5 1.5h0" stroke="rgb(255,0,0)"/><path d="M294.3 866.9h0m1.8 5.6h0m-8.4 23.8h0m14.2 6.3h0m-9 1.3h0m2.6 .2h0m-2.5 2.4h0m-.5 .7h0m-2 .5h0m7.4 2h0m-1.1 .1h0m-3.1 2h0m-1.7 .6h0m4.8 2.1h0m-1.9 .4h0m2.9 .2h0m1.1 1.4h0m2 1.8h0m-7.4 3h0m2.6 .4h0m-4.4 0h0m4.7 0h0m-7 .6h0m8.1 .3h0m-8.8 .7h0m8.5 0h0m-.3 .8h0m-1 .3h0m3.3 .2h0m1.1 .3h0m-4.9 .3h0m-2.1 .1h0m-4.8 1.1h0m10.3 .8h0m-.7 .8h0m.2 .2h0m-7.4 .4h0m9.1 .9h0m-1.5 .3h0m-4.8 .1h0m-1.7 .6h0m5.4 .3h0m-1 .2h0m.3 .4h0m-1.2 .3h0m-1.2 .2h0m-.4 .3h0m-2.1 2.2h0m-1.1 .1h0m14.8 .1h0m-8.2 .8h0m2.6 .2h0m-3.3 .3h0m-1.6 .1h0m3.8 .1h0m-2 0h0m8.5 .3h0m-5.4 .2h0m-14.5 .5h0m14.7 0h0m-.9 .5h0m-3.7 0h0m2.7 0h0m-4.3 .7h0m1.9 .3h0m-4 0h0m4.6 .2h0m1.7 .5h0m-3.5 0h0m1.9 1.2h0m-1.8 .5h0m1.8 .5h0m5.4 .2h0m-7.2 .7h0m-2.8 .3h0m4.2 .1h0m3.4 .3h0m1.8 0h0m-3.2 .2h0m-4.8 .4h0m-7 0h0m10 .1h0m-2.1 .3h0m2.9 .1h0m1.1 1.3h0m-8.7 .2h0m11.8 .2h0m-11.7 0h0m5.7 0h0m0 .5h0m1.7 .2h0m-1.3 0h0m4.7 .1h0m-2.1 .2h0m-5.2 .1h0m-.9 .1h0m3.1 .1h0m1.3 .1h0m3.3 .3h0m-.9 0h0m-3.4 0h0m1.4 0h0m-2.5 .2h0m2.8 .1h0m3.9 .1h0m-4.1 .4h0m-2.4 .3h0m-.1 .4h0m.3 .1h0m3.4 0h0m-5.6 .2h0m1.3 .1h0m4.9 .2h0m2.4 .5h0m-10.4 .2h0m3 0h0m.5 .2h0m-3.8 0h0m6.3 .1h0m.3 .4h0m-5.4 .3h0m.9 .1h0m-2.3 .2h0m2.5 .2h0m2.6 .3h0m-3 .1h0m-3 0h0m4 .1h0m2.1 1.1h0m.9 .3h0m-1 .4h0m.5 .1h0m1.1 .1h0m3.4 .2h0m-7 .2h0m3 .3h0m-3.6 .1h0m-4.5 0h0m2.9 .3h0m8.5 .1h0m-8.5 .6h0m6.7 0h0m-5.9 .1h0m3.9 .6h0m2.1 .6h0m3.9 .1h0m-15 .1h0m14 .5h0m-7.8 .1h0m0 .2h0m-1 .5h0m8.6 .3h0m-1.5 .7h0m-2.8 .1h0m4.1 .1h0m-6.9 0h0m9.1 .1h0m.9 .5h0m-6.7 1.8h0m0 .7h0m-2.7 .5h0m1.8 .5h0m.6 .1h0m2.3 0h0m-5 .8h0m5.5 .8h0m-1.2 .2h0m-7.4 .2h0m9.2 .7h0m-8.9 1.6h0" stroke="rgb(255,0,0)"/></g>
<text x="180.0" y="9.6" font-size="10.8" text-anchor="middle" textLength="78.9" lengthAdjust="spacingAndGlyphs" fill="#111">Carbon dioxide</text>
<text x="19.5" y="156.5" font-size="8.9" text-anchor="middle" textLength="148.3" lengthAdjust="spacingAndGlyphs" transform="rotate(-90 19.5 156.5)" fill="#111">kg carbon dioxide/kg rapeseed oil</text>
<path d="M40.5 299.9h3.0M318.6 299.9h-3.0" stroke="#4d4d4d" stroke-width="0.8"/>
<text x="38.1" y="303.4" font-size="10" text-anchor="end" fill="#111">0.4</text>
<path d="M40.5 264.1h3.0M318.6 264.1h-3.0" stroke="#4d4d4d" stroke-width="0.8"/>
<text x="38.1" y="267.6" font-size="10" text-anchor="end" fill="#111">0.6</text>
<path d="M40.5 228.3h3.0M318.6 228.3h-3.0" stroke="#4d4d4d" stroke-width="0.8"/>
<text x="38.1" y="231.8" font-size="10" text-anchor="end" fill="#111">0.8</text>
<path d="M40.5 192.5h3.0M318.6 192.5h-3.0" stroke="#4d4d4d" stroke-width="0.8"/>
<text x="38.1" y="196.0" font-size="10" text-anchor="end" fill="#111">1.0</text>
<path d="M40.5 156.7h3.0M318.6 156.7h-3.0" stroke="#4d4d4d" stroke-width="0.8"/>
<text x="38.1" y="160.2" font-size="10" text-anchor="end" fill="#111">1.2</text>
<path d="M40.5 120.9h3.0M318.6 120.9h-3.0" stroke="#4d4d4d" stroke-width="0.8"/>
<text x="38.1" y="124.4" font-size="10" text-anchor="end" fill="#111">1.4</text>
<path d="M40.5 85.1h3.0M318.6 85.1h-3.0" stroke="#4d4d4d" stroke-width="0.8"/>
<text x="38.1" y="88.6" font-size="10" text-anchor="end" fill="#111">1.6</text>
<path d="M40.5 49.3h3.0M318.6 49.3h-3.0" stroke="#4d4d4d" stroke-width="0.8"/>
<text x="38.1" y="52.8" font-size="10" text-anchor="end" fill="#111">1.8</text>
<path d="M40.5 13.5h3.0M318.6 13.5h-3.0" stroke="#4d4d4d" stroke-width="0.8"/>
<text x="38.1" y="17.0" font-size="10" text-anchor="end" fill="#111">2.0</text>
<path d="M68.3 299.9v-3.0M68.3 13.5v3.0" stroke="#4d4d4d" stroke-width="0.8"/>
<text x="68.3" y="309.7" font-size="9.8" text-anchor="middle" fill="#111">Scen 1</text>
<path d="M123.9 299.9v-3.0M123.9 13.5v3.0" stroke="#4d4d4d" stroke-width="0.8"/>
<text x="123.9" y="309.7" font-size="9.8" text-anchor="middle" fill="#111">Scen 2</text>
<path d="M179.6 299.9v-3.0M179.6 13.5v3.0" stroke="#4d4d4d" stroke-width="0.8"/>
<text x="179.6" y="309.7" font-size="9.8" text-anchor="middle" fill="#111">Scen 3</text>
<path d="M235.2 299.9v-3.0M235.2 13.5v3.0" stroke="#4d4d4d" stroke-width="0.8"/>
<text x="235.2" y="309.7" font-size="9.8" text-anchor="middle" fill="#111">Scen 4</text>
<path d="M290.8 299.9v-3.0M290.8 13.5v3.0" stroke="#4d4d4d" stroke-width="0.8"/>
<text x="290.8" y="309.7" font-size="9.8" text-anchor="middle" fill="#111">This study</text>
<path d="M140 299.6H190" stroke="#9090ff" stroke-width="1" opacity="0.6"/>
<path d="M68.3 197.6V176.2M68.3 213.2V233.2" stroke="#0000ff" stroke-width="1" stroke-dasharray="4 3.5" opacity="0.75"/>
<path d="M61.4 176.2H75.3M61.4 233.2H75.3" stroke="#2a2a50" stroke-width="1" opacity="0.85"/>
<rect x="54.4" y="197.6" width="27.8" height="15.6" fill="none" stroke="#2a2aff" stroke-width="1.0"/>
<path d="M54.4 205.4H82.2" stroke="#ff2020" stroke-width="1"/>
<path d="M66.3 154.3h4M68.3 152.3v4M66.3 157.0h4M68.3 155.0v4M66.3 157.4h4M68.3 155.4v4M66.3 160.5h4M68.3 158.5v4M66.3 161.4h4M68.3 159.4v4M66.3 163.9h4M68.3 161.9v4M66.3 164.2h4M68.3 162.2v4M66.3 164.7h4M68.3 162.7v4M66.3 165.0h4M68.3 163.0v4M66.3 165.6h4M68.3 163.6v4M66.3 169.0h4M68.3 167.0v4M66.3 171.4h4M68.3 169.4v4M66.3 172.1h4M68.3 170.1v4" stroke="#2020ff" stroke-width="0.8" opacity="0.8"/>
<path d="M123.9 240.1V219.3M123.9 254.4V274.5" stroke="#0000ff" stroke-width="1" stroke-dasharray="4 3.5" opacity="0.75"/>
<path d="M117.0 219.3H130.9M117.0 274.5H130.9" stroke="#2a2a50" stroke-width="1" opacity="0.85"/>
<rect x="110.0" y="240.1" width="27.8" height="14.3" fill="none" stroke="#2a2aff" stroke-width="1.0"/>
<path d="M110.0 247.3H137.8" stroke="#ff2020" stroke-width="1"/>
<path d="M121.9 161.0h4M123.9 159.0v4M121.9 200.9h4M123.9 198.9v4M121.9 206.4h4M123.9 204.4v4M121.9 209.1h4M123.9 207.1v4M121.9 210.2h4M123.9 208.2v4M121.9 211.3h4M123.9 209.3v4M121.9 211.6h4M123.9 209.6v4M121.9 212.2h4M123.9 210.2v4M121.9 216.2h4M123.9 214.2v4M121.9 217.1h4M123.9 215.1v4M121.9 218.3h4M123.9 216.3v4M121.9 218.7h4M123.9 216.7v4" stroke="#2020ff" stroke-width="0.8" opacity="0.8"/>
<path d="M179.6 205.8V181.7M179.6 223.1V243.8" stroke="#0000ff" stroke-width="1" stroke-dasharray="4 3.5" opacity="0.75"/>
<path d="M172.6 181.7H186.5M172.6 243.8H186.5" stroke="#2a2a50" stroke-width="1" opacity="0.85"/>
<rect x="165.6" y="205.8" width="27.8" height="17.3" fill="none" stroke="#2a2aff" stroke-width="1.0"/>
<path d="M165.6 214.9H193.5" stroke="#ff2020" stroke-width="1"/>
<path d="M177.6 142.9h4M179.6 140.9v4M177.6 146.9h4M179.6 144.9v4M177.6 162.0h4M179.6 160.0v4M177.6 166.8h4M179.6 164.8v4M177.6 171.8h4M179.6 169.8v4M177.6 172.5h4M179.6 170.5v4M177.6 177.8h4M179.6 175.8v4M177.6 179.6h4M179.6 177.6v4M177.6 180.4h4M179.6 178.4v4M177.6 180.6h4M179.6 178.6v4" stroke="#2020ff" stroke-width="0.8" opacity="0.8"/>
<path d="M235.2 149.0V118.4M235.2 169.2V197.9" stroke="#0000ff" stroke-width="1" stroke-dasharray="4 3.5" opacity="0.75"/>
<path d="M228.2 118.4H242.1M228.2 197.9H242.1" stroke="#2a2a50" stroke-width="1" opacity="0.85"/>
<rect x="221.3" y="149.0" width="27.8" height="20.2" fill="none" stroke="#2a2aff" stroke-width="1.0"/>
<path d="M221.3 160.1H249.1" stroke="#ff2020" stroke-width="1"/>
<path d="M233.2 48.6h4M235.2 46.6v4M233.2 88.2h4M235.2 86.2v4M233.2 103.0h4M235.2 101.0v4M233.2 106.2h4M235.2 104.2v4M233.2 107.0h4M235.2 105.0v4M233.2 108.1h4M235.2 106.1v4M233.2 112.5h4M235.2 110.5v4M233.2 115.0h4M235.2 113.0v4M233.2 116.1h4M235.2 114.1v4" stroke="#2020ff" stroke-width="0.8" opacity="0.8"/>
<path d="M290.8 179.8V106.2M290.8 231.6V277.0" stroke="#0000ff" stroke-width="1" stroke-dasharray="4 3.5" opacity="0.75"/>
<path d="M283.8 106.2H297.7M283.8 277.0H297.7" stroke="#2a2a50" stroke-width="1" opacity="0.85"/>
<rect x="276.9" y="179.8" width="27.8" height="51.8" fill="none" stroke="#2a2aff" stroke-width="1.0"/>
<path d="M276.9 209.3H304.7" stroke="#ff2020" stroke-width="1"/>
<path d="M288.8 85.1h4M290.8 83.1v4M288.8 85.8h4M290.8 83.8v4M288.8 95.6h4M290.8 93.6v4M288.8 99.8h4M290.8 97.8v4M288.8 100.9h4M290.8 98.9v4M288.8 105.6h4M290.8 103.6v4" stroke="#2020ff" stroke-width="0.8" opacity="0.8"/>
<rect x="40.5" y="13.5" width="278.1" height="286.4" fill="none" stroke="#4d4d4d" stroke-width="1"/>
<text x="181.3" y="356.0" font-size="10.8" text-anchor="middle" textLength="110.9" lengthAdjust="spacingAndGlyphs" fill="#111">Dinitrogen monoxide</text>
<text x="9.3" y="503.9" font-size="8.9" text-anchor="middle" textLength="176.7" lengthAdjust="spacingAndGlyphs" transform="rotate(-90 9.3 503.9)" fill="#111">kg dinitrogen monoxide/kg rapeseed oil</text>
<path d="M41.0 648.9h3.0M322.0 648.9h-3.0" stroke="#4d4d4d" stroke-width="0.8"/>
<text x="38.6" y="652.4" font-size="10" text-anchor="end" fill="#111">0.001</text>
<path d="M41.0 600.6h3.0M322.0 600.6h-3.0" stroke="#4d4d4d" stroke-width="0.8"/>
<text x="38.6" y="604.1" font-size="10" text-anchor="end" fill="#111">0.002</text>
<path d="M41.0 552.3h3.0M322.0 552.3h-3.0" stroke="#4d4d4d" stroke-width="0.8"/>
<text x="38.6" y="555.8" font-size="10" text-anchor="end" fill="#111">0.003</text>
<path d="M41.0 504.0h3.0M322.0 504.0h-3.0" stroke="#4d4d4d" stroke-width="0.8"/>
<text x="38.6" y="507.5" font-size="10" text-anchor="end" fill="#111">0.004</text>
<path d="M41.0 455.7h3.0M322.0 455.7h-3.0" stroke="#4d4d4d" stroke-width="0.8"/>
<text x="38.6" y="459.2" font-size="10" text-anchor="end" fill="#111">0.005</text>
<path d="M41.0 407.4h3.0M322.0 407.4h-3.0" stroke="#4d4d4d" stroke-width="0.8"/>
<text x="38.6" y="410.9" font-size="10" text-anchor="end" fill="#111">0.006</text>
<path d="M41.0 359.1h3.0M322.0 359.1h-3.0" stroke="#4d4d4d" stroke-width="0.8"/>
<text x="38.6" y="362.6" font-size="10" text-anchor="end" fill="#111">0.007</text>
<path d="M69.1 648.9v-3.0M69.1 359.1v3.0" stroke="#4d4d4d" stroke-width="0.8"/>
<text x="69.1" y="659.9" font-size="9.8" text-anchor="middle" fill="#111">Scen 1</text>
<path d="M125.3 648.9v-3.0M125.3 359.1v3.0" stroke="#4d4d4d" stroke-width="0.8"/>
<text x="125.3" y="659.9" font-size="9.8" text-anchor="middle" fill="#111">Scen 2</text>
<path d="M181.5 648.9v-3.0M181.5 359.1v3.0" stroke="#4d4d4d" stroke-width="0.8"/>
<text x="181.5" y="659.9" font-size="9.8" text-anchor="middle" fill="#111">Scen 3</text>
<path d="M237.7 648.9v-3.0M237.7 359.1v3.0" stroke="#4d4d4d" stroke-width="0.8"/>
<text x="237.7" y="659.9" font-size="9.8" text-anchor="middle" fill="#111">Scen 4</text>
<path d="M293.9 648.9v-3.0M293.9 359.1v3.0" stroke="#4d4d4d" stroke-width="0.8"/>
<text x="293.9" y="659.9" font-size="9.8" text-anchor="middle" fill="#111">This study</text>
<path d="M132 648.6H181" stroke="#9090ff" stroke-width="1" opacity="0.6"/>
<path d="M69.1 531.4V491.8M69.1 557.8V597.4" stroke="#0000ff" stroke-width="1" stroke-dasharray="4 3.5" opacity="0.75"/>
<path d="M62.1 491.8H76.1M62.1 597.4H76.1" stroke="#2a2a50" stroke-width="1" opacity="0.85"/>
<rect x="55.0" y="531.4" width="28.1" height="26.4" fill="none" stroke="#2a2aff" stroke-width="1.0"/>
<path d="M55.0 545.2H83.1" stroke="#ff2020" stroke-width="1"/>
<path d="M67.1 470.2h4M69.1 468.2v4M67.1 471.6h4M69.1 469.6v4M67.1 471.7h4M69.1 469.7v4M67.1 477.1h4M69.1 475.1v4M67.1 480.8h4M69.1 478.8v4M67.1 484.3h4M69.1 482.3v4M67.1 486.0h4M69.1 484.0v4M67.1 488.5h4M69.1 486.5v4M67.1 490.2h4M69.1 488.2v4M67.1 490.7h4M69.1 488.7v4M67.1 607.5h4M69.1 605.5v4" stroke="#2020ff" stroke-width="0.8" opacity="0.8"/>
<path d="M125.3 600.9V575.5M125.3 618.1V641.2" stroke="#0000ff" stroke-width="1" stroke-dasharray="4 3.5" opacity="0.75"/>
<path d="M118.3 575.5H132.3M118.3 641.2H132.3" stroke="#2a2a50" stroke-width="1" opacity="0.85"/>
<rect x="111.2" y="600.9" width="28.1" height="17.2" fill="none" stroke="#2a2aff" stroke-width="1.0"/>
<path d="M111.2 610.0H139.3" stroke="#ff2020" stroke-width="1"/>
<path d="M123.3 567.4h4M125.3 565.4v4M123.3 568.0h4M125.3 566.0v4M123.3 568.4h4M125.3 566.4v4M123.3 569.5h4M125.3 567.5v4M123.3 572.4h4M125.3 570.4v4M123.3 572.9h4M125.3 570.9v4" stroke="#2020ff" stroke-width="0.8" opacity="0.8"/>
<path d="M181.5 576.5V547.0M181.5 597.2V624.0" stroke="#0000ff" stroke-width="1" stroke-dasharray="4 3.5" opacity="0.75"/>
<path d="M174.5 547.0H188.5M174.5 624.0H188.5" stroke="#2a2a50" stroke-width="1" opacity="0.85"/>
<rect x="167.4" y="576.5" width="28.1" height="20.7" fill="none" stroke="#2a2aff" stroke-width="1.0"/>
<path d="M167.4 586.6H195.6" stroke="#ff2020" stroke-width="1"/>
<path d="M179.5 534.2h4M181.5 532.2v4M179.5 538.0h4M181.5 536.0v4M179.5 543.7h4M181.5 541.7v4M179.5 543.9h4M181.5 541.9v4M179.5 544.4h4M181.5 542.4v4M179.5 546.2h4M181.5 544.2v4" stroke="#2020ff" stroke-width="0.8" opacity="0.8"/>
<path d="M237.7 487.6V436.6M237.7 522.9V567.8" stroke="#0000ff" stroke-width="1" stroke-dasharray="4 3.5" opacity="0.75"/>
<path d="M230.7 436.6H244.7M230.7 567.8H244.7" stroke="#2a2a50" stroke-width="1" opacity="0.85"/>
<rect x="223.6" y="487.6" width="28.1" height="35.3" fill="none" stroke="#2a2aff" stroke-width="1.0"/>
<path d="M223.6 505.4H251.8" stroke="#ff2020" stroke-width="1"/>
<path d="M235.7 393.3h4M237.7 391.3v4M235.7 395.0h4M237.7 393.0v4M235.7 414.5h4M237.7 412.5v4M235.7 416.8h4M237.7 414.8v4M235.7 421.2h4M237.7 419.2v4M235.7 429.9h4M237.7 427.9v4M235.7 430.0h4M237.7 428.0v4M235.7 431.6h4M237.7 429.6v4M235.7 435.4h4M237.7 433.4v4M235.7 435.9h4M237.7 433.9v4" stroke="#2020ff" stroke-width="0.8" opacity="0.8"/>
<path d="M293.9 526.9V423.6M293.9 600.0V643.8" stroke="#0000ff" stroke-width="1" stroke-dasharray="4 3.5" opacity="0.75"/>
<path d="M286.9 423.6H300.9M286.9 643.8H300.9" stroke="#2a2a50" stroke-width="1" opacity="0.85"/>
<rect x="279.8" y="526.9" width="28.1" height="73.1" fill="none" stroke="#2a2aff" stroke-width="1.0"/>
<path d="M279.8 568.1H307.9" stroke="#ff2020" stroke-width="1"/>
<path d="M291.9 413.5h4M293.9 411.5v4M291.9 414.7h4M293.9 412.7v4M291.9 415.1h4M293.9 413.1v4M291.9 415.5h4M293.9 413.5v4M291.9 416.1h4M293.9 414.1v4M291.9 417.0h4M293.9 415.0v4M291.9 422.6h4M293.9 420.6v4M291.9 422.8h4M293.9 420.8v4" stroke="#2020ff" stroke-width="0.8" opacity="0.8"/>
<rect x="41.0" y="359.1" width="281.0" height="289.8" fill="none" stroke="#4d4d4d" stroke-width="1"/>
<text x="181.8" y="702.6" font-size="10.8" text-anchor="middle" textLength="45.6" lengthAdjust="spacingAndGlyphs" fill="#111">Methane</text>
<text x="9.8" y="847.0" font-size="8.9" text-anchor="middle" textLength="116.9" lengthAdjust="spacingAndGlyphs" transform="rotate(-90 9.8 847.0)" fill="#111">kg methane/kg rapeseed oil</text>
<path d="M41.1 996.8h3.0M323.4 996.8h-3.0" stroke="#4d4d4d" stroke-width="0.8"/>
<text x="38.7" y="1000.3" font-size="10" text-anchor="end" fill="#111">0.000</text>
<path d="M41.1 955.2h3.0M323.4 955.2h-3.0" stroke="#4d4d4d" stroke-width="0.8"/>
<text x="38.7" y="958.7" font-size="10" text-anchor="end" fill="#111">0.001</text>
<path d="M41.1 913.6h3.0M323.4 913.6h-3.0" stroke="#4d4d4d" stroke-width="0.8"/>
<text x="38.7" y="917.1" font-size="10" text-anchor="end" fill="#111">0.002</text>
<path d="M41.1 872.0h3.0M323.4 872.0h-3.0" stroke="#4d4d4d" stroke-width="0.8"/>
<text x="38.7" y="875.5" font-size="10" text-anchor="end" fill="#111">0.003</text>
<path d="M41.1 830.5h3.0M323.4 830.5h-3.0" stroke="#4d4d4d" stroke-width="0.8"/>
<text x="38.7" y="834.0" font-size="10" text-anchor="end" fill="#111">0.004</text>
<path d="M41.1 788.9h3.0M323.4 788.9h-3.0" stroke="#4d4d4d" stroke-width="0.8"/>
<text x="38.7" y="792.4" font-size="10" text-anchor="end" fill="#111">0.005</text>
<path d="M41.1 747.3h3.0M323.4 747.3h-3.0" stroke="#4d4d4d" stroke-width="0.8"/>
<text x="38.7" y="750.8" font-size="10" text-anchor="end" fill="#111">0.006</text>
<path d="M41.1 705.7h3.0M323.4 705.7h-3.0" stroke="#4d4d4d" stroke-width="0.8"/>
<text x="38.7" y="709.2" font-size="10" text-anchor="end" fill="#111">0.007</text>
<path d="M69.3 996.8v-3.0M69.3 705.7v3.0" stroke="#4d4d4d" stroke-width="0.8"/>
<text x="69.3" y="1006.1" font-size="9.8" text-anchor="middle" fill="#111">Scen 1</text>
<path d="M125.8 996.8v-3.0M125.8 705.7v3.0" stroke="#4d4d4d" stroke-width="0.8"/>
<text x="125.8" y="1006.1" font-size="9.8" text-anchor="middle" fill="#111">Scen 2</text>
<path d="M182.2 996.8v-3.0M182.2 705.7v3.0" stroke="#4d4d4d" stroke-width="0.8"/>
<text x="182.2" y="1006.1" font-size="9.8" text-anchor="middle" fill="#111">Scen 3</text>
<path d="M238.7 996.8v-3.0M238.7 705.7v3.0" stroke="#4d4d4d" stroke-width="0.8"/>
<text x="238.7" y="1006.1" font-size="9.8" text-anchor="middle" fill="#111">Scen 4</text>
<path d="M295.2 996.8v-3.0M295.2 705.7v3.0" stroke="#4d4d4d" stroke-width="0.8"/>
<text x="295.2" y="1006.1" font-size="9.8" text-anchor="middle" fill="#111">This study</text>
<path d="M138 996.5H181" stroke="#9090ff" stroke-width="1" opacity="0.6"/>
<path d="M69.3 932.5V908.2M69.3 950.7V966.8" stroke="#0000ff" stroke-width="1" stroke-dasharray="4 3.5" opacity="0.75"/>
<path d="M62.3 908.2H76.4M62.3 966.8H76.4" stroke="#2a2a50" stroke-width="1" opacity="0.85"/>
<rect x="55.2" y="932.5" width="28.2" height="18.2" fill="none" stroke="#2a2aff" stroke-width="1.0"/>
<path d="M55.2 942.3H83.4" stroke="#ff2020" stroke-width="1"/>
<path d="M67.3 743.1h4M69.3 741.1v4M67.3 820.6h4M69.3 818.6v4M67.3 877.5h4M69.3 875.5v4M67.3 879.8h4M69.3 877.8v4M67.3 883.0h4M69.3 881.0v4M67.3 885.3h4M69.3 883.3v4M67.3 892.0h4M69.3 890.0v4M67.3 892.4h4M69.3 890.4v4M67.3 892.5h4M69.3 890.5v4M67.3 895.8h4M69.3 893.8v4M67.3 896.3h4M69.3 894.3v4M67.3 897.3h4M69.3 895.3v4M67.3 901.6h4M69.3 899.6v4M67.3 903.1h4M69.3 901.1v4M67.3 903.7h4M69.3 901.7v4M67.3 904.4h4M69.3 902.4v4M67.3 905.9h4M69.3 903.9v4M67.3 907.3h4M69.3 905.3v4" stroke="#2020ff" stroke-width="0.8" opacity="0.8"/>
<path d="M125.8 951.0V934.6M125.8 962.5V972.5" stroke="#0000ff" stroke-width="1" stroke-dasharray="4 3.5" opacity="0.75"/>
<path d="M118.7 934.6H132.8M118.7 972.5H132.8" stroke="#2a2a50" stroke-width="1" opacity="0.85"/>
<rect x="111.7" y="951.0" width="28.2" height="11.5" fill="none" stroke="#2a2aff" stroke-width="1.0"/>
<path d="M111.7 956.6H139.9" stroke="#ff2020" stroke-width="1"/>
<path d="M123.8 888.0h4M125.8 886.0v4M123.8 905.0h4M125.8 903.0v4M123.8 906.2h4M125.8 904.2v4M123.8 906.3h4M125.8 904.3v4M123.8 906.9h4M125.8 904.9v4M123.8 908.7h4M125.8 906.7v4M123.8 909.5h4M125.8 907.5v4M123.8 914.5h4M125.8 912.5v4M123.8 915.1h4M125.8 913.1v4M123.8 920.0h4M125.8 918.0v4M123.8 927.6h4M125.8 925.6v4M123.8 928.3h4M125.8 926.3v4M123.8 931.6h4M125.8 929.6v4M123.8 932.2h4M125.8 930.2v4M123.8 933.1h4M125.8 931.1v4M123.8 933.5h4M125.8 931.5v4M123.8 933.6h4M125.8 931.6v4M123.8 933.7h4M125.8 931.7v4" stroke="#2020ff" stroke-width="0.8" opacity="0.8"/>
<path d="M182.2 939.2V917.2M182.2 954.3V967.9" stroke="#0000ff" stroke-width="1" stroke-dasharray="4 3.5" opacity="0.75"/>
<path d="M175.2 917.2H189.3M175.2 967.9H189.3" stroke="#2a2a50" stroke-width="1" opacity="0.85"/>
<rect x="168.1" y="939.2" width="28.2" height="15.1" fill="none" stroke="#2a2aff" stroke-width="1.0"/>
<path d="M168.1 946.4H196.4" stroke="#ff2020" stroke-width="1"/>
<path d="M180.2 871.1h4M182.2 869.1v4M180.2 878.9h4M182.2 876.9v4M180.2 882.1h4M182.2 880.1v4M180.2 883.7h4M182.2 881.7v4M180.2 888.3h4M182.2 886.3v4M180.2 890.3h4M182.2 888.3v4M180.2 891.3h4M182.2 889.3v4M180.2 893.8h4M182.2 891.8v4M180.2 901.2h4M182.2 899.2v4M180.2 901.5h4M182.2 899.5v4M180.2 902.0h4M182.2 900.0v4M180.2 905.3h4M182.2 903.3v4M180.2 906.9h4M182.2 904.9v4M180.2 913.7h4M182.2 911.7v4M180.2 914.0h4M182.2 912.0v4M180.2 914.3h4M182.2 912.3v4M180.2 914.6h4M182.2 912.6v4M180.2 915.7h4M182.2 913.7v4" stroke="#2020ff" stroke-width="0.8" opacity="0.8"/>
<path d="M238.7 919.1V892.4M238.7 937.0V957.1" stroke="#0000ff" stroke-width="1" stroke-dasharray="4 3.5" opacity="0.75"/>
<path d="M231.7 892.4H245.8M231.7 957.1H245.8" stroke="#2a2a50" stroke-width="1" opacity="0.85"/>
<rect x="224.6" y="919.1" width="28.2" height="17.9" fill="none" stroke="#2a2aff" stroke-width="1.0"/>
<path d="M224.6 928.3H252.8" stroke="#ff2020" stroke-width="1"/>
<path d="M236.7 778.4h4M238.7 776.4v4M236.7 814.3h4M238.7 812.3v4M236.7 819.7h4M238.7 817.7v4M236.7 837.9h4M238.7 835.9v4M236.7 842.5h4M238.7 840.5v4M236.7 852.9h4M238.7 850.9v4M236.7 856.4h4M238.7 854.4v4M236.7 857.0h4M238.7 855.0v4M236.7 859.8h4M238.7 857.8v4M236.7 861.2h4M238.7 859.2v4M236.7 861.6h4M238.7 859.6v4M236.7 863.9h4M238.7 861.9v4M236.7 864.1h4M238.7 862.1v4M236.7 866.2h4M238.7 864.2v4M236.7 866.5h4M238.7 864.5v4M236.7 870.0h4M238.7 868.0v4M236.7 871.2h4M238.7 869.2v4M236.7 872.8h4M238.7 870.8v4M236.7 875.9h4M238.7 873.9v4M236.7 876.3h4M238.7 874.3v4M236.7 878.2h4M238.7 876.2v4M236.7 878.5h4M238.7 876.5v4M236.7 882.6h4M238.7 880.6v4M236.7 883.4h4M238.7 881.4v4M236.7 883.6h4M238.7 881.6v4M236.7 886.5h4M238.7 884.5v4M236.7 886.6h4M238.7 884.6v4M236.7 890.6h4M238.7 888.6v4" stroke="#2020ff" stroke-width="0.8" opacity="0.8"/>
<path d="M295.2 931.9V899.3M295.2 954.3V975.3" stroke="#0000ff" stroke-width="1" stroke-dasharray="4 3.5" opacity="0.75"/>
<path d="M288.1 899.3H302.2M288.1 975.3H302.2" stroke="#2a2a50" stroke-width="1" opacity="0.85"/>
<rect x="281.1" y="931.9" width="28.2" height="22.4" fill="none" stroke="#2a2aff" stroke-width="1.0"/>
<path d="M281.1 944.6H309.3" stroke="#ff2020" stroke-width="1"/>
<path d="M293.2 855.3h4M295.2 853.3v4M293.2 855.8h4M295.2 853.8v4M293.2 862.3h4M295.2 860.3v4M293.2 866.9h4M295.2 864.9v4M293.2 867.2h4M295.2 865.2v4M293.2 867.6h4M295.2 865.6v4M293.2 868.1h4M295.2 866.1v4M293.2 868.4h4M295.2 866.4v4M293.2 868.5h4M295.2 866.5v4M293.2 872.2h4M295.2 870.2v4M293.2 872.5h4M295.2 870.5v4M293.2 872.8h4M295.2 870.8v4M293.2 873.7h4M295.2 871.7v4M293.2 873.8h4M295.2 871.8v4M293.2 874.1h4M295.2 872.1v4M293.2 874.3h4M295.2 872.3v4M293.2 874.9h4M295.2 872.9v4M293.2 875.9h4M295.2 873.9v4M293.2 876.2h4M295.2 874.2v4M293.2 876.3h4M295.2 874.3v4M293.2 876.8h4M295.2 874.8v4M293.2 877.0h4M295.2 875.0v4M293.2 877.1h4M295.2 875.1v4M293.2 877.3h4M295.2 875.3v4M293.2 877.7h4M295.2 875.7v4M293.2 877.9h4M295.2 875.9v4M293.2 881.2h4M295.2 879.2v4M293.2 881.8h4M295.2 879.8v4M293.2 882.4h4M295.2 880.4v4M293.2 882.5h4M295.2 880.5v4M293.2 882.8h4M295.2 880.8v4M293.2 883.9h4M295.2 881.9v4M293.2 884.2h4M295.2 882.2v4M293.2 884.3h4M295.2 882.3v4M293.2 884.7h4M295.2 882.7v4M293.2 885.1h4M295.2 883.1v4M293.2 885.3h4M295.2 883.3v4M293.2 885.4h4M295.2 883.4v4M293.2 886.2h4M295.2 884.2v4M293.2 887.1h4M295.2 885.1v4M293.2 890.7h4M295.2 888.7v4M293.2 890.8h4M295.2 888.8v4M293.2 891.1h4M295.2 889.1v4M293.2 891.2h4M295.2 889.2v4M293.2 891.4h4M295.2 889.4v4M293.2 891.6h4M295.2 889.6v4M293.2 891.9h4M295.2 889.9v4M293.2 892.0h4M295.2 890.0v4M293.2 892.5h4M295.2 890.5v4M293.2 892.8h4M295.2 890.8v4M293.2 893.0h4M295.2 891.0v4M293.2 893.1h4M295.2 891.1v4M293.2 893.6h4M295.2 891.6v4M293.2 893.8h4M295.2 891.8v4M293.2 894.5h4M295.2 892.5v4M293.2 894.6h4M295.2 892.6v4M293.2 894.7h4M295.2 892.7v4M293.2 894.8h4M295.2 892.8v4M293.2 894.9h4M295.2 892.9v4M293.2 895.3h4M295.2 893.3v4M293.2 895.4h4M295.2 893.4v4M293.2 895.5h4M295.2 893.5v4M293.2 895.6h4M295.2 893.6v4M293.2 895.7h4M295.2 893.7v4M293.2 895.9h4M295.2 893.9v4M293.2 896.2h4M295.2 894.2v4M293.2 896.3h4M295.2 894.3v4M293.2 896.4h4M295.2 894.4v4M293.2 896.6h4M295.2 894.6v4M293.2 897.1h4M295.2 895.1v4M293.2 897.4h4M295.2 895.4v4M293.2 897.6h4M295.2 895.6v4M293.2 897.7h4M295.2 895.7v4" stroke="#2020ff" stroke-width="0.8" opacity="0.8"/>
<rect x="41.1" y="705.7" width="282.3" height="291.1" fill="none" stroke="#4d4d4d" stroke-width="1"/>
<text x="537.6" y="9.0" font-size="10.8" text-anchor="middle" textLength="79.3" lengthAdjust="spacingAndGlyphs" fill="#111">Carbon dioxide</text>
<clipPath id="cp0"><rect x="398.6" y="12.9" width="277.9" height="286.0"/></clipPath><g clip-path="url(#cp0)">
<path d="M398.6 83.5 400.6 83.5 400.6 86.0 400.6 86.0 400.6 88.0 398.6 88.0 398.6 94.0 400.6 94.0 400.6 95.5 398.6 95.5 398.6 99.0 400.6 99.0 400.6 100.5 398.6 100.5 398.6 104.5 404.6 104.5 404.6 108.0 398.6 108.0 398.6 111.0 400.6 111.0 400.6 114.0 404.6 114.0 404.6 116.5 408.5 116.5 408.5 120.0 406.5 120.0 406.5 122.0 409.7 122.0 409.7 124.0 410.5 124.0 410.5 126.5 416.5 126.5 416.5 129.5 415.5 129.5 415.5 131.5 420.4 131.5 420.4 134.0 418.5 134.0 418.5 136.3 454.2 136.3 454.2 138.2 442.3 138.2 442.3 140.8 450.2 140.8 450.2 142.9 452.2 142.9 452.2 145.0 475.4 145.0 475.4 148.5 487.3 148.5 487.3 151.5 475.4 151.5 475.4 154.7 482.0 154.7 482.0 157.5 495.9 157.5 495.9 159.2 517.7 159.2 517.7 162.3 567.3 162.3 567.3 164.6 505.8 164.6 505.8 169.2 486.9 169.2 486.9 171.8 478.0 171.8 478.0 172.8 473.0 172.8 473.0 176.3 464.1 176.3 464.1 179.8 452.2 179.8 452.2 183.5 469.5 183.5 469.5 186.5 478.0 186.5 478.0 187.5 581.2 187.5 581.2 190.0 516.7 190.0 516.7 193.2 525.0 193.2 525.0 197.3 588.0 197.3 588.0 199.5 575.1 199.5 575.1 201.8 567.1 201.8 567.1 203.7 584.6 203.7 584.6 205.6 654.7 205.6 654.7 207.7 634.8 207.7 634.8 209.8 617.0 209.8 617.0 211.4 630.8 211.4 630.8 213.5 624.1 213.5 624.1 215.4 608.6 215.4 608.6 217.7 588.0 217.7 588.0 219.3 567.3 219.3 567.3 221.2 557.4 221.2 557.4 222.0 546.7 222.0 546.7 224.2 517.3 224.2 517.3 226.5 507.8 226.5 507.8 229.3 486.9 229.3 486.9 231.7 491.7 231.7 491.7 234.0 511.5 234.0 511.5 235.9 501.0 235.9 501.0 238.7 507.8 238.7 507.8 241.0 537.9 241.0 537.9 244.5 551.8 244.5 551.8 248.0 550.1 248.0 550.1 249.2 561.8 249.2 561.8 250.8 559.4 250.8 559.4 253.2 507.8 253.2 507.8 255.4 499.8 255.4 499.8 256.9 476.0 256.9 476.0 258.5 456.8 258.5 456.8 260.9 463.7 260.9 463.7 262.5 431.9 262.5 431.9 264.6 424.4 264.6 424.4 266.4 406.7 266.4 406.7 268.7 405.9 268.7 405.9 270.4 400.6 270.4 400.6 272.2 398.6 272.2 398.6 274.0 400.6 274.0 400.6 276.3 398.6 276.3Z" fill="#ff0000" fill-opacity="0.3" stroke="#000" stroke-opacity="0.3" stroke-width="0.7"/>
<path d="M398.6 232.3 400.6 232.3 400.6 231.5 400.6 231.5 400.6 230.7 398.6 230.7 398.6 229.9 398.6 229.9 398.6 229.1 400.6 229.1 400.6 228.4 402.6 228.4 402.6 227.6 406.5 227.6 406.5 226.8 404.6 226.8 404.6 226.0 408.5 226.0 408.5 225.2 404.6 225.2 404.6 224.4 408.5 224.4 408.5 223.6 414.5 223.6 414.5 222.8 414.5 222.8 414.5 222.1 418.5 222.1 418.5 221.3 430.4 221.3 430.4 220.5 422.4 220.5 422.4 219.7 416.5 219.7 416.5 218.9 424.4 218.9 424.4 218.1 448.2 218.1 448.2 217.3 428.4 217.3 428.4 216.5 438.3 216.5 438.3 215.7 434.3 215.7 434.3 215.0 454.2 215.0 454.2 214.2 474.0 214.2 474.0 213.4 444.3 213.4 444.3 212.6 460.1 212.6 460.1 211.8 454.2 211.8 454.2 211.0 446.2 211.0 446.2 210.2 454.2 210.2 454.2 209.4 460.1 209.4 460.1 208.7 448.2 208.7 448.2 207.9 440.3 207.9 440.3 207.1 456.2 207.1 456.2 206.3 438.3 206.3 438.3 205.5 454.2 205.5 454.2 204.7 444.3 204.7 444.3 203.9 436.3 203.9 436.3 203.1 454.2 203.1 454.2 202.4 438.3 202.4 438.3 201.6 444.3 201.6 444.3 200.8 438.3 200.8 438.3 200.0 446.2 200.0 446.2 199.2 442.3 199.2 442.3 198.4 438.3 198.4 438.3 197.6 438.3 197.6 438.3 196.8 428.4 196.8 428.4 196.0 440.3 196.0 440.3 195.3 428.4 195.3 428.4 194.5 436.3 194.5 436.3 193.7 436.3 193.7 436.3 192.9 424.4 192.9 424.4 192.1 436.3 192.1 436.3 191.3 428.4 191.3 428.4 190.5 420.4 190.5 420.4 189.7 430.4 189.7 430.4 189.0 414.5 189.0 414.5 188.2 420.4 188.2 420.4 187.4 408.5 187.4 408.5 186.6 414.5 186.6 414.5 185.8 416.5 185.8 416.5 185.0 408.5 185.0 408.5 184.2 406.5 184.2 406.5 183.4 404.6 183.4 404.6 182.7 402.6 182.7 402.6 181.9 404.6 181.9 404.6 181.1 400.6 181.1 400.6 180.3 400.6 180.3 400.6 179.5 408.5 179.5 408.5 178.7 400.6 178.7 400.6 177.9 404.6 177.9 404.6 177.1 402.6 177.1 402.6 176.4 400.6 176.4 400.6 175.6 400.6 175.6 400.6 174.8 398.6 174.8 398.6 174.0 398.6 174.0 398.6 173.2 398.6 173.2 398.6 172.4 398.6 172.4 398.6 171.6 400.6 171.6 400.6 170.8 400.6 170.8 400.6 170.0 398.6 170.0 398.6 169.3 398.6 169.3 398.6 168.5 400.6 168.5 400.6 167.7 398.6 167.7 398.6 166.9 398.6 166.9 398.6 166.1 398.6 166.1 398.6 165.3 400.6 165.3 400.6 164.5 402.6 164.5 402.6 163.7 402.6 163.7 402.6 163.0 398.6 163.0 398.6 162.2 398.6 162.2 398.6 161.4 400.6 161.4 400.6 160.6 398.6 160.6 398.6 159.8 400.6 159.8 400.6 159.0 398.6 159.0 398.6 158.2 398.6 158.2 398.6 157.4 398.6 157.4 398.6 156.7 402.6 156.7 402.6 155.9 398.6 155.9 398.6 155.1 398.6 155.1 398.6 154.3 400.6 154.3 400.6 153.5 398.6 153.5Z" fill="rgb(0,128,0)" fill-opacity="0.5" stroke="#000" stroke-opacity="0.5" stroke-width="0.7"/>
<path d="M398.6 273.5 400.6 273.5 400.6 272.4 400.6 272.4 400.6 271.3 398.6 271.3 398.6 270.1 402.6 270.1 402.6 269.0 402.6 269.0 402.6 267.9 402.6 267.9 402.6 266.7 400.6 266.7 400.6 265.6 418.5 265.6 418.5 264.5 414.5 264.5 414.5 263.3 406.5 263.3 406.5 262.2 432.3 262.2 432.3 261.1 458.2 261.1 458.2 259.9 444.3 259.9 444.3 258.8 448.2 258.8 448.2 257.7 458.2 257.7 458.2 256.5 454.2 256.5 454.2 255.4 484.0 255.4 484.0 254.3 472.0 254.3 472.0 253.1 468.1 253.1 468.1 252.0 484.0 252.0 484.0 250.9 482.0 250.9 482.0 249.7 470.1 249.7 470.1 248.6 470.1 248.6 470.1 247.5 495.9 247.5 495.9 246.3 489.9 246.3 489.9 245.2 487.9 245.2 487.9 244.1 474.0 244.1 474.0 242.9 489.9 242.9 489.9 241.8 478.0 241.8 478.0 240.7 464.1 240.7 464.1 239.5 456.2 239.5 456.2 238.4 460.1 238.4 460.1 237.3 426.4 237.3 426.4 236.1 424.4 236.1 424.4 235.0 454.2 235.0 454.2 233.9 436.3 233.9 436.3 232.7 424.4 232.7 424.4 231.6 428.4 231.6 428.4 230.5 420.4 230.5 420.4 229.3 424.4 229.3 424.4 228.2 412.5 228.2 412.5 227.1 418.5 227.1 418.5 225.9 406.5 225.9 406.5 224.8 416.5 224.8 416.5 223.7 408.5 223.7 408.5 222.5 410.5 222.5 410.5 221.4 404.6 221.4 404.6 220.3 400.6 220.3 400.6 219.1 406.5 219.1 406.5 218.0 404.6 218.0 404.6 216.9 400.6 216.9 400.6 215.7 400.6 215.7 400.6 214.6 398.6 214.6 398.6 213.5 398.6 213.5 398.6 212.3 400.6 212.3 400.6 211.2 402.6 211.2 402.6 210.1 400.6 210.1 400.6 208.9 400.6 208.9 400.6 207.8 398.6 207.8 398.6 206.7 400.6 206.7 400.6 205.5 398.6 205.5 398.6 204.4 398.6 204.4 398.6 203.3 398.6 203.3 398.6 202.1 398.6 202.1 398.6 201.0 400.6 201.0 400.6 199.9 398.6 199.9 398.6 198.7 398.6 198.7 398.6 197.6 398.6 197.6 398.6 196.5 398.6 196.5 398.6 195.3 398.6 195.3 398.6 194.2 398.6 194.2 398.6 193.1 398.6 193.1 398.6 191.9 398.6 191.9 398.6 190.8 398.6 190.8 398.6 189.7 398.6 189.7 398.6 188.5 398.6 188.5 398.6 187.4 398.6 187.4 398.6 186.3 398.6 186.3 398.6 185.1 398.6 185.1 398.6 184.0 398.6 184.0 398.6 182.9 398.6 182.9 398.6 181.7 398.6 181.7 398.6 180.6 398.6 180.6 398.6 179.5 398.6 179.5 398.6 178.3 398.6 178.3 398.6 177.2 398.6 177.2 398.6 176.1 398.6 176.1 398.6 174.9 398.6 174.9 398.6 173.8 398.6 173.8 398.6 172.7 398.6 172.7 398.6 171.5 398.6 171.5 398.6 170.4 398.6 170.4 398.6 169.3 398.6 169.3 398.6 168.1 398.6 168.1 398.6 167.0 398.6 167.0 398.6 165.9 398.6 165.9 398.6 164.7 398.6 164.7 398.6 163.6 398.6 163.6 398.6 162.5 398.6 162.5 398.6 161.3 400.6 161.3 400.6 160.2 398.6 160.2Z" fill="rgb(0,0,255)" fill-opacity="0.5" stroke="#000" stroke-opacity="0.5" stroke-width="0.7"/>
<path d="M398.6 242.9 400.6 242.9 400.6 241.9 400.6 241.9 400.6 240.9 404.6 240.9 404.6 239.9 398.6 239.9 398.6 238.8 404.6 238.8 404.6 237.8 404.6 237.8 404.6 236.8 408.5 236.8 408.5 235.8 408.5 235.8 408.5 234.8 412.5 234.8 412.5 233.8 412.5 233.8 412.5 232.8 408.5 232.8 408.5 231.8 418.5 231.8 418.5 230.8 416.5 230.8 416.5 229.8 440.3 229.8 440.3 228.8 436.3 228.8 436.3 227.8 456.2 227.8 456.2 226.8 438.3 226.8 438.3 225.7 438.3 225.7 438.3 224.7 456.2 224.7 456.2 223.7 446.2 223.7 446.2 222.7 468.1 222.7 468.1 221.7 480.0 221.7 480.0 220.7 456.2 220.7 456.2 219.7 470.1 219.7 470.1 218.7 468.1 218.7 468.1 217.7 480.0 217.7 480.0 216.7 456.2 216.7 456.2 215.7 462.1 215.7 462.1 214.7 460.1 214.7 460.1 213.7 458.2 213.7 458.2 212.7 452.2 212.7 452.2 211.6 462.1 211.6 462.1 210.6 438.3 210.6 438.3 209.6 444.3 209.6 444.3 208.6 456.2 208.6 456.2 207.6 448.2 207.6 448.2 206.6 448.2 206.6 448.2 205.6 434.3 205.6 434.3 204.6 440.3 204.6 440.3 203.6 442.3 203.6 442.3 202.6 456.2 202.6 456.2 201.6 436.3 201.6 436.3 200.6 434.3 200.6 434.3 199.6 418.5 199.6 418.5 198.5 432.3 198.5 432.3 197.5 418.5 197.5 418.5 196.5 412.5 196.5 412.5 195.5 414.5 195.5 414.5 194.5 424.4 194.5 424.4 193.5 414.5 193.5 414.5 192.5 418.5 192.5 418.5 191.5 414.5 191.5 414.5 190.5 408.5 190.5 408.5 189.5 410.5 189.5 410.5 188.5 406.5 188.5 406.5 187.5 404.6 187.5 404.6 186.5 404.6 186.5 404.6 185.4 400.6 185.4 400.6 184.4 408.5 184.4 408.5 183.4 402.6 183.4 402.6 182.4 402.6 182.4 402.6 181.4 402.6 181.4 402.6 180.4 402.6 180.4 402.6 179.4 400.6 179.4 400.6 178.4 398.6 178.4 398.6 177.4 400.6 177.4 400.6 176.4 398.6 176.4 398.6 175.4 398.6 175.4 398.6 174.4 398.6 174.4 398.6 173.4 398.6 173.4 398.6 172.3 400.6 172.3 400.6 171.3 400.6 171.3 400.6 170.3 398.6 170.3 398.6 169.3 398.6 169.3 398.6 168.3 398.6 168.3 398.6 167.3 398.6 167.3 398.6 166.3 400.6 166.3 400.6 165.3 398.6 165.3 398.6 164.3 398.6 164.3 398.6 163.3 398.6 163.3 398.6 162.3 398.6 162.3 398.6 161.3 400.6 161.3 400.6 160.3 398.6 160.3 398.6 159.2 398.6 159.2 398.6 158.2 398.6 158.2 398.6 157.2 398.6 157.2 398.6 156.2 398.6 156.2 398.6 155.2 398.6 155.2 398.6 154.2 398.6 154.2 398.6 153.2 398.6 153.2 398.6 152.2 398.6 152.2 398.6 151.2 398.6 151.2 398.6 150.2 398.6 150.2 398.6 149.2 398.6 149.2 398.6 148.2 398.6 148.2 398.6 147.2 398.6 147.2 398.6 146.1 400.6 146.1 400.6 145.1 398.6 145.1 398.6 144.1 398.6 144.1 398.6 143.1 400.6 143.1 400.6 142.1 398.6 142.1Z" fill="rgb(191,191,0)" fill-opacity="0.5" stroke="#000" stroke-opacity="0.5" stroke-width="0.7"/>
<path d="M398.6 197.0 400.6 197.0 400.6 195.6 398.6 195.6 398.6 194.1 398.6 194.1 398.6 192.6 398.6 192.6 398.6 191.1 398.6 191.1 398.6 189.6 402.6 189.6 402.6 188.1 406.5 188.1 406.5 186.6 402.6 186.6 402.6 185.1 404.6 185.1 404.6 183.6 402.6 183.6 402.6 182.1 408.5 182.1 408.5 180.6 410.5 180.6 410.5 179.2 434.3 179.2 434.3 177.7 442.3 177.7 442.3 176.2 450.2 176.2 450.2 174.7 458.2 174.7 458.2 173.2 484.0 173.2 484.0 171.7 460.1 171.7 460.1 170.2 489.9 170.2 489.9 168.7 495.9 168.7 495.9 167.2 472.0 167.2 472.0 165.7 456.2 165.7 456.2 164.2 478.0 164.2 478.0 162.8 493.9 162.8 493.9 161.3 482.0 161.3 482.0 159.8 487.9 159.8 487.9 158.3 482.0 158.3 482.0 156.8 462.1 156.8 462.1 155.3 466.1 155.3 466.1 153.8 462.1 153.8 462.1 152.3 468.1 152.3 468.1 150.8 464.1 150.8 464.1 149.3 454.2 149.3 454.2 147.8 442.3 147.8 442.3 146.4 466.1 146.4 466.1 144.9 436.3 144.9 436.3 143.4 432.3 143.4 432.3 141.9 432.3 141.9 432.3 140.4 426.4 140.4 426.4 138.9 426.4 138.9 426.4 137.4 422.4 137.4 422.4 135.9 414.5 135.9 414.5 134.4 416.5 134.4 416.5 132.9 418.5 132.9 418.5 131.4 422.4 131.4 422.4 130.0 414.5 130.0 414.5 128.5 404.6 128.5 404.6 127.0 410.5 127.0 410.5 125.5 408.5 125.5 408.5 124.0 402.6 124.0 402.6 122.5 402.6 122.5 402.6 121.0 406.5 121.0 406.5 119.5 402.6 119.5 402.6 118.0 408.5 118.0 408.5 116.5 400.6 116.5 400.6 115.0 402.6 115.0 402.6 113.6 398.6 113.6 398.6 112.1 400.6 112.1 400.6 110.6 398.6 110.6 398.6 109.1 398.6 109.1 398.6 107.6 402.6 107.6 402.6 106.1 400.6 106.1 400.6 104.6 398.6 104.6 398.6 103.1 400.6 103.1 400.6 101.6 398.6 101.6 398.6 100.1 398.6 100.1 398.6 98.6 398.6 98.6 398.6 97.2 398.6 97.2 398.6 95.7 398.6 95.7 398.6 94.2 398.6 94.2 398.6 92.7 398.6 92.7 398.6 91.2 398.6 91.2 398.6 89.7 398.6 89.7 398.6 88.2 400.6 88.2 400.6 86.7 398.6 86.7 398.6 85.2 398.6 85.2 398.6 83.7 398.6 83.7 398.6 82.2 398.6 82.2 398.6 80.8 398.6 80.8 398.6 79.3 398.6 79.3 398.6 77.8 398.6 77.8 398.6 76.3 398.6 76.3 398.6 74.8 398.6 74.8 398.6 73.3 398.6 73.3 398.6 71.8 398.6 71.8 398.6 70.3 398.6 70.3 398.6 68.8 398.6 68.8 398.6 67.3 398.6 67.3 398.6 65.8 398.6 65.8 398.6 64.4 398.6 64.4 398.6 62.9 398.6 62.9 398.6 61.4 398.6 61.4 398.6 59.9 398.6 59.9 398.6 58.4 398.6 58.4 398.6 56.9 398.6 56.9 398.6 55.4 398.6 55.4 398.6 53.9 398.6 53.9 398.6 52.4 398.6 52.4 398.6 50.9 398.6 50.9 398.6 49.4 400.6 49.4 400.6 48.0 398.6 48.0Z" fill="rgb(0,191,191)" fill-opacity="0.5" stroke="#000" stroke-opacity="0.5" stroke-width="0.7"/>
</g>
<path d="M398.6 298.9h3.0M676.5 298.9h-3.0" stroke="#4d4d4d" stroke-width="0.8"/>
<text x="396.2" y="302.4" font-size="10" text-anchor="end" fill="#111">0.4</text>
<path d="M398.6 263.1h3.0M676.5 263.1h-3.0" stroke="#4d4d4d" stroke-width="0.8"/>
<text x="396.2" y="266.6" font-size="10" text-anchor="end" fill="#111">0.6</text>
<path d="M398.6 227.4h3.0M676.5 227.4h-3.0" stroke="#4d4d4d" stroke-width="0.8"/>
<text x="396.2" y="230.9" font-size="10" text-anchor="end" fill="#111">0.8</text>
<path d="M398.6 191.7h3.0M676.5 191.7h-3.0" stroke="#4d4d4d" stroke-width="0.8"/>
<text x="396.2" y="195.2" font-size="10" text-anchor="end" fill="#111">1.0</text>
<path d="M398.6 155.9h3.0M676.5 155.9h-3.0" stroke="#4d4d4d" stroke-width="0.8"/>
<text x="396.2" y="159.4" font-size="10" text-anchor="end" fill="#111">1.2</text>
<path d="M398.6 120.2h3.0M676.5 120.2h-3.0" stroke="#4d4d4d" stroke-width="0.8"/>
<text x="396.2" y="123.7" font-size="10" text-anchor="end" fill="#111">1.4</text>
<path d="M398.6 84.4h3.0M676.5 84.4h-3.0" stroke="#4d4d4d" stroke-width="0.8"/>
<text x="396.2" y="87.9" font-size="10" text-anchor="end" fill="#111">1.6</text>
<path d="M398.6 48.6h3.0M676.5 48.6h-3.0" stroke="#4d4d4d" stroke-width="0.8"/>
<text x="396.2" y="52.1" font-size="10" text-anchor="end" fill="#111">1.8</text>
<path d="M398.6 12.9h3.0M676.5 12.9h-3.0" stroke="#4d4d4d" stroke-width="0.8"/>
<text x="396.2" y="16.4" font-size="10" text-anchor="end" fill="#111">2.0</text>
<path d="M398.6 298.9v-3.0M398.6 12.9v3.0" stroke="#4d4d4d" stroke-width="0.8"/>
<text x="398.6" y="308.6" font-size="9.0" text-anchor="middle" fill="#111">0</text>
<path d="M438.3 298.9v-3.0M438.3 12.9v3.0" stroke="#4d4d4d" stroke-width="0.8"/>
<text x="438.3" y="308.6" font-size="9.0" text-anchor="middle" fill="#111">20</text>
<path d="M478.0 298.9v-3.0M478.0 12.9v3.0" stroke="#4d4d4d" stroke-width="0.8"/>
<text x="478.0" y="308.6" font-size="9.0" text-anchor="middle" fill="#111">40</text>
<path d="M517.7 298.9v-3.0M517.7 12.9v3.0" stroke="#4d4d4d" stroke-width="0.8"/>
<text x="517.7" y="308.6" font-size="9.0" text-anchor="middle" fill="#111">60</text>
<path d="M557.4 298.9v-3.0M557.4 12.9v3.0" stroke="#4d4d4d" stroke-width="0.8"/>
<text x="557.4" y="308.6" font-size="9.0" text-anchor="middle" fill="#111">80</text>
<path d="M597.1 298.9v-3.0M597.1 12.9v3.0" stroke="#4d4d4d" stroke-width="0.8"/>
<text x="597.1" y="308.6" font-size="9.0" text-anchor="middle" fill="#111">100</text>
<path d="M636.8 298.9v-3.0M636.8 12.9v3.0" stroke="#4d4d4d" stroke-width="0.8"/>
<text x="636.8" y="308.6" font-size="9.0" text-anchor="middle" fill="#111">120</text>
<path d="M676.5 298.9v-3.0M676.5 12.9v3.0" stroke="#4d4d4d" stroke-width="0.8"/>
<text x="676.5" y="308.6" font-size="9.0" text-anchor="middle" fill="#111">140</text>
<text x="538.0" y="319.2" font-size="8.4" text-anchor="middle" textLength="44.5" lengthAdjust="spacingAndGlyphs" fill="#111">Frequency</text>
<rect x="398.6" y="12.9" width="277.9" height="286.0" fill="none" stroke="#4d4d4d" stroke-width="1"/>
<path d="M442 298.6H470" stroke="#9090ff" stroke-width="1" opacity="0.6"/>
<rect x="578.4" y="17.9" width="92.3" height="80.6" fill="#fff" stroke="#333" stroke-width="0.9"/>
<rect x="583.0" y="23.0" width="20.8" height="7" fill="#ffb3b3" stroke="#000" stroke-opacity="0.3" stroke-width="0.8"/>
<text x="612.8" y="30.4" font-size="11.0" textLength="54.3" lengthAdjust="spacingAndGlyphs" fill="#111">This Study</text>
<rect x="583.0" y="38.5" width="20.8" height="7" fill="#80bf80" stroke="#000" stroke-opacity="0.5" stroke-width="0.8"/>
<text x="612.8" y="45.9" font-size="11.0" fill="#111">Scen 1</text>
<rect x="583.0" y="53.9" width="20.8" height="7" fill="#8080ff" stroke="#000" stroke-opacity="0.5" stroke-width="0.8"/>
<text x="612.8" y="61.3" font-size="11.0" fill="#111">Scen 2</text>
<rect x="583.0" y="69.3" width="20.8" height="7" fill="#dfdf80" stroke="#000" stroke-opacity="0.5" stroke-width="0.8"/>
<text x="612.8" y="76.8" font-size="11.0" fill="#111">Scen 3</text>
<rect x="583.0" y="84.8" width="20.8" height="7" fill="#80dfdf" stroke="#000" stroke-opacity="0.5" stroke-width="0.8"/>
<text x="612.8" y="92.2" font-size="11.0" fill="#111">Scen 4</text>
<text x="539.5" y="352.5" font-size="10.8" text-anchor="middle" textLength="108.3" lengthAdjust="spacingAndGlyphs" fill="#111">Dinitrogen monoxide</text>
<clipPath id="cp1"><rect x="403.1" y="355.5" width="273.8" height="288.9"/></clipPath><g clip-path="url(#cp1)">
<path d="M403.1 406.7 405.4 406.7 405.4 409.0 406.1 409.0 406.1 410.8 409.5 410.8 409.5 413.7 403.1 413.7 403.1 417.8 409.5 417.8 409.5 420.7 406.8 420.7 406.8 423.0 404.7 423.0 404.7 426.5 406.8 426.5 406.8 429.5 414.3 429.5 414.3 432.4 409.0 432.4 409.0 435.3 409.9 435.3 409.9 438.2 414.3 438.2 414.3 441.1 414.5 441.1 414.5 445.5 418.4 445.5 418.4 448.2 429.6 448.2 429.6 450.2 425.5 450.2 425.5 452.3 424.5 452.3 424.5 454.3 422.5 454.3 422.5 456.3 423.6 456.3 423.6 458.4 418.4 458.4 418.4 460.4 436.6 460.4 436.6 462.9 437.3 462.9 437.3 464.9 428.2 464.9 428.2 466.6 441.9 466.6 441.9 469.0 439.6 469.0 439.6 471.0 434.6 471.0 434.6 473.7 455.1 473.7 455.1 476.4 454.2 476.4 454.2 478.8 451.0 478.8 451.0 480.9 489.8 480.9 489.8 484.0 465.4 484.0 465.4 486.0 464.7 486.0 464.7 487.5 503.3 487.5 503.3 490.6 489.8 490.6 489.8 491.9 512.2 491.9 512.2 494.8 486.4 494.8 486.4 496.2 498.0 496.2 498.0 499.5 486.4 499.5 486.4 501.8 516.7 501.8 516.7 504.2 495.7 504.2 495.7 506.5 514.4 506.5 514.4 508.8 488.7 508.8 488.7 511.2 503.9 511.2 503.9 514.2 516.7 514.2 516.7 516.5 519.0 516.5 519.0 518.2 542.3 518.2 542.3 520.5 494.4 520.5 494.4 522.4 528.4 522.4 528.4 525.2 531.8 525.2 531.8 527.5 540.0 527.5 540.0 529.8 544.6 529.8 544.6 531.9 548.7 531.9 548.7 534.2 519.5 534.2 519.5 536.5 541.6 536.5 541.6 538.9 526.3 538.9 526.3 541.2 546.2 541.2 546.2 543.5 537.7 543.5 537.7 546.8 519.5 546.8 519.5 549.2 564.9 549.2 564.9 553.4 541.6 553.4 541.6 555.2 537.7 555.2 537.7 557.6 543.9 557.6 543.9 559.9 526.3 559.9 526.3 562.7 505.3 562.7 505.3 564.6 532.2 564.6 532.2 566.9 543.9 566.9 543.9 569.7 546.2 569.7 546.2 572.0 526.3 572.0 526.3 575.5 537.7 575.5 537.7 576.9 578.1 576.9 578.1 579.2 599.1 579.2 599.1 582.0 582.7 582.0 582.7 584.8 567.4 584.8 567.4 587.1 663.2 587.1 663.2 589.5 584.0 589.5 584.0 591.8 649.3 591.8 649.3 594.2 613.0 594.2 613.0 596.5 665.5 596.5 665.5 598.8 610.7 598.8 610.7 601.9 624.6 601.9 624.6 603.5 665.5 603.5 665.5 605.8 624.6 605.8 624.6 608.2 575.6 608.2 575.6 610.5 531.3 610.5 531.3 612.4 594.3 612.4 594.3 615.2 537.5 615.2 537.5 617.0 498.9 617.0 498.9 619.8 472.0 619.8 472.0 622.8 446.5 622.8 446.5 625.2 430.0 625.2 430.0 629.2 417.2 629.2 417.2 631.5 411.3 631.5 411.3 633.4 407.7 633.4 407.7 635.2 405.4 635.2 405.4 639.2 403.1 639.2Z" fill="#ff0000" fill-opacity="0.3" stroke="#000" stroke-opacity="0.3" stroke-width="0.7"/>
<path d="M403.1 603.1 405.4 603.1 405.4 601.8 403.1 601.8 403.1 600.4 403.1 600.4 403.1 599.0 403.1 599.0 403.1 597.7 403.1 597.7 403.1 596.3 403.1 596.3 403.1 594.9 403.1 594.9 403.1 593.5 405.4 593.5 405.4 592.2 405.4 592.2 405.4 590.8 403.1 590.8 403.1 589.4 405.4 589.4 405.4 588.1 405.4 588.1 405.4 586.7 403.1 586.7 403.1 585.3 412.2 585.3 412.2 584.0 407.7 584.0 407.7 582.6 407.7 582.6 407.7 581.2 405.4 581.2 405.4 579.9 409.9 579.9 409.9 578.5 405.4 578.5 405.4 577.1 419.1 577.1 419.1 575.8 414.5 575.8 414.5 574.4 423.6 574.4 423.6 573.0 414.5 573.0 414.5 571.6 419.1 571.6 419.1 570.3 435.0 570.3 435.0 568.9 432.8 568.9 432.8 567.5 432.8 567.5 432.8 566.2 419.1 566.2 419.1 564.8 471.6 564.8 471.6 563.4 437.3 563.4 437.3 562.1 437.3 562.1 437.3 560.7 428.2 560.7 428.2 559.3 437.3 559.3 437.3 558.0 439.6 558.0 439.6 556.6 464.7 556.6 464.7 555.2 448.7 555.2 448.7 553.9 460.1 553.9 460.1 552.5 460.1 552.5 460.1 551.1 467.0 551.1 467.0 549.7 478.4 549.7 478.4 548.4 451.0 548.4 451.0 547.0 467.0 547.0 467.0 545.6 478.4 545.6 478.4 544.3 453.3 544.3 453.3 542.9 476.1 542.9 476.1 541.5 464.7 541.5 464.7 540.2 467.0 540.2 467.0 538.8 469.3 538.8 469.3 537.4 469.3 537.4 469.3 536.1 446.5 536.1 446.5 534.7 448.7 534.7 448.7 533.3 453.3 533.3 453.3 532.0 457.9 532.0 457.9 530.6 469.3 530.6 469.3 529.2 446.5 529.2 446.5 527.8 451.0 527.8 451.0 526.5 444.2 526.5 444.2 525.1 448.7 525.1 448.7 523.7 441.9 523.7 441.9 522.4 432.8 522.4 432.8 521.0 446.5 521.0 446.5 519.6 437.3 519.6 437.3 518.3 425.9 518.3 425.9 516.9 423.6 516.9 423.6 515.5 437.3 515.5 437.3 514.2 419.1 514.2 419.1 512.8 430.5 512.8 430.5 511.4 416.8 511.4 416.8 510.1 428.2 510.1 428.2 508.7 414.5 508.7 414.5 507.3 409.9 507.3 409.9 505.9 421.4 505.9 421.4 504.6 409.9 504.6 409.9 503.2 412.2 503.2 412.2 501.8 414.5 501.8 414.5 500.5 416.8 500.5 416.8 499.1 407.7 499.1 407.7 497.7 412.2 497.7 412.2 496.4 412.2 496.4 412.2 495.0 407.7 495.0 407.7 493.6 409.9 493.6 409.9 492.3 407.7 492.3 407.7 490.9 407.7 490.9 407.7 489.5 409.9 489.5 409.9 488.2 407.7 488.2 407.7 486.8 407.7 486.8 407.7 485.4 405.4 485.4 405.4 484.0 403.1 484.0 403.1 482.7 405.4 482.7 405.4 481.3 405.4 481.3 405.4 479.9 403.1 479.9 403.1 478.6 403.1 478.6 403.1 477.2 405.4 477.2 405.4 475.8 403.1 475.8 403.1 474.5 405.4 474.5 405.4 473.1 403.1 473.1 403.1 471.7 403.1 471.7 403.1 470.4 403.1 470.4 403.1 469.0 407.7 469.0 407.7 467.6 405.4 467.6 405.4 466.3 403.1 466.3Z" fill="rgb(0,128,0)" fill-opacity="0.5" stroke="#000" stroke-opacity="0.5" stroke-width="0.7"/>
<path d="M403.1 636.7 405.4 636.7 405.4 636.0 403.1 636.0 403.1 635.3 403.1 635.3 403.1 634.5 403.1 634.5 403.1 633.8 405.4 633.8 405.4 633.0 403.1 633.0 403.1 632.3 403.1 632.3 403.1 631.6 403.1 631.6 403.1 630.8 407.7 630.8 407.7 630.1 403.1 630.1 403.1 629.4 407.7 629.4 407.7 628.6 405.4 628.6 405.4 627.9 407.7 627.9 407.7 627.2 412.2 627.2 412.2 626.4 416.8 626.4 416.8 625.7 421.4 625.7 421.4 625.0 421.4 625.0 421.4 624.2 412.2 624.2 412.2 623.5 421.4 623.5 421.4 622.7 430.5 622.7 430.5 622.0 423.6 622.0 423.6 621.3 421.4 621.3 421.4 620.5 446.5 620.5 446.5 619.8 432.8 619.8 432.8 619.1 430.5 619.1 430.5 618.3 441.9 618.3 441.9 617.6 455.6 617.6 455.6 616.9 439.6 616.9 439.6 616.1 457.9 616.1 457.9 615.4 464.7 615.4 464.7 614.7 437.3 614.7 437.3 613.9 469.3 613.9 469.3 613.2 444.2 613.2 444.2 612.4 467.0 612.4 467.0 611.7 464.7 611.7 464.7 611.0 448.7 611.0 448.7 610.2 451.0 610.2 451.0 609.5 441.9 609.5 441.9 608.8 441.9 608.8 441.9 608.0 451.0 608.0 451.0 607.3 478.4 607.3 478.4 606.6 437.3 606.6 437.3 605.8 451.0 605.8 451.0 605.1 464.7 605.1 464.7 604.4 462.4 604.4 462.4 603.6 446.5 603.6 446.5 602.9 451.0 602.9 451.0 602.1 446.5 602.1 446.5 601.4 464.7 601.4 464.7 600.7 455.6 600.7 455.6 599.9 446.5 599.9 446.5 599.2 441.9 599.2 441.9 598.5 446.5 598.5 446.5 597.7 444.2 597.7 444.2 597.0 423.6 597.0 423.6 596.3 432.8 596.3 432.8 595.5 441.9 595.5 441.9 594.8 435.0 594.8 435.0 594.1 435.0 594.1 435.0 593.3 425.9 593.3 425.9 592.6 448.7 592.6 448.7 591.8 425.9 591.8 425.9 591.1 439.6 591.1 439.6 590.4 439.6 590.4 439.6 589.6 412.2 589.6 412.2 588.9 414.5 588.9 414.5 588.2 428.2 588.2 428.2 587.4 421.4 587.4 421.4 586.7 437.3 586.7 437.3 586.0 416.8 586.0 416.8 585.2 416.8 585.2 416.8 584.5 421.4 584.5 421.4 583.8 414.5 583.8 414.5 583.0 419.1 583.0 419.1 582.3 421.4 582.3 421.4 581.5 412.2 581.5 412.2 580.8 405.4 580.8 405.4 580.1 409.9 580.1 409.9 579.3 412.2 579.3 412.2 578.6 403.1 578.6 403.1 577.9 409.9 577.9 409.9 577.1 409.9 577.1 409.9 576.4 407.7 576.4 407.7 575.7 412.2 575.7 412.2 574.9 407.7 574.9 407.7 574.2 405.4 574.2 405.4 573.5 405.4 573.5 405.4 572.7 403.1 572.7 403.1 572.0 403.1 572.0 403.1 571.2 403.1 571.2 403.1 570.5 403.1 570.5 403.1 569.8 403.1 569.8 403.1 569.0 405.4 569.0 405.4 568.3 405.4 568.3 405.4 567.6 403.1 567.6 403.1 566.8 403.1 566.8 403.1 566.1 403.1 566.1 403.1 565.4 405.4 565.4 405.4 564.6 405.4 564.6 405.4 563.9 407.7 563.9 407.7 563.2 403.1 563.2Z" fill="rgb(0,0,255)" fill-opacity="0.5" stroke="#000" stroke-opacity="0.5" stroke-width="0.7"/>
<path d="M403.1 619.6 407.7 619.6 407.7 618.7 405.4 618.7 405.4 617.8 405.4 617.8 405.4 616.9 405.4 616.9 405.4 616.0 407.7 616.0 407.7 615.1 405.4 615.1 405.4 614.2 405.4 614.2 405.4 613.3 414.5 613.3 414.5 612.4 405.4 612.4 405.4 611.5 407.7 611.5 407.7 610.6 407.7 610.6 407.7 609.7 407.7 609.7 407.7 608.8 407.7 608.8 407.7 607.9 419.1 607.9 419.1 607.0 412.2 607.0 412.2 606.1 419.1 606.1 419.1 605.3 423.6 605.3 423.6 604.4 435.0 604.4 435.0 603.5 425.9 603.5 425.9 602.6 423.6 602.6 423.6 601.7 441.9 601.7 441.9 600.8 419.1 600.8 419.1 599.9 432.8 599.9 432.8 599.0 435.0 599.0 435.0 598.1 430.5 598.1 430.5 597.2 444.2 597.2 444.2 596.3 444.2 596.3 444.2 595.4 441.9 595.4 441.9 594.5 444.2 594.5 444.2 593.6 453.3 593.6 453.3 592.7 457.9 592.7 457.9 591.8 457.9 591.8 457.9 590.9 453.3 590.9 453.3 590.0 446.5 590.0 446.5 589.1 464.7 589.1 464.7 588.2 437.3 588.2 437.3 587.3 451.0 587.3 451.0 586.5 455.6 586.5 455.6 585.6 446.5 585.6 446.5 584.7 446.5 584.7 446.5 583.8 441.9 583.8 441.9 582.9 448.7 582.9 448.7 582.0 453.3 582.0 453.3 581.1 441.9 581.1 441.9 580.2 467.0 580.2 467.0 579.3 457.9 579.3 457.9 578.4 444.2 578.4 444.2 577.5 467.0 577.5 467.0 576.6 480.7 576.6 480.7 575.7 462.4 575.7 462.4 574.8 446.5 574.8 446.5 573.9 457.9 573.9 457.9 573.0 464.7 573.0 464.7 572.1 446.5 572.1 446.5 571.2 437.3 571.2 437.3 570.3 435.0 570.3 435.0 569.4 439.6 569.4 439.6 568.6 432.8 568.6 432.8 567.7 423.6 567.7 423.6 566.8 425.9 566.8 425.9 565.9 423.6 565.9 423.6 565.0 419.1 565.0 419.1 564.1 419.1 564.1 419.1 563.2 437.3 563.2 437.3 562.3 425.9 562.3 425.9 561.4 425.9 561.4 425.9 560.5 412.2 560.5 412.2 559.6 421.4 559.6 421.4 558.7 416.8 558.7 416.8 557.8 421.4 557.8 421.4 556.9 412.2 556.9 412.2 556.0 423.6 556.0 423.6 555.1 414.5 555.1 414.5 554.2 416.8 554.2 416.8 553.3 412.2 553.3 412.2 552.4 407.7 552.4 407.7 551.5 403.1 551.5 403.1 550.6 412.2 550.6 412.2 549.8 407.7 549.8 407.7 548.9 409.9 548.9 409.9 548.0 407.7 548.0 407.7 547.1 407.7 547.1 407.7 546.2 409.9 546.2 409.9 545.3 412.2 545.3 412.2 544.4 403.1 544.4 403.1 543.5 421.4 543.5 421.4 542.6 405.4 542.6 405.4 541.7 403.1 541.7 403.1 540.8 405.4 540.8 405.4 539.9 407.7 539.9 407.7 539.0 403.1 539.0 403.1 538.1 403.1 538.1 403.1 537.2 403.1 537.2 403.1 536.3 403.1 536.3 403.1 535.4 403.1 535.4 403.1 534.5 405.4 534.5 405.4 533.6 403.1 533.6 403.1 532.7 403.1 532.7 403.1 531.8 403.1 531.8 403.1 531.0 405.4 531.0 405.4 530.1 403.1 530.1Z" fill="rgb(191,191,0)" fill-opacity="0.5" stroke="#000" stroke-opacity="0.5" stroke-width="0.7"/>
<path d="M403.1 563.6 405.4 563.6 405.4 561.8 403.1 561.8 403.1 560.1 403.1 560.1 403.1 558.3 407.7 558.3 407.7 556.6 405.4 556.6 405.4 554.9 403.1 554.9 403.1 553.1 412.2 553.1 412.2 551.4 407.7 551.4 407.7 549.6 412.2 549.6 412.2 547.9 419.1 547.9 419.1 546.2 421.4 546.2 421.4 544.4 416.8 544.4 416.8 542.7 416.8 542.7 416.8 540.9 425.9 540.9 425.9 539.2 428.2 539.2 428.2 537.5 430.5 537.5 430.5 535.7 432.8 535.7 432.8 534.0 416.8 534.0 416.8 532.2 448.7 532.2 448.7 530.5 428.2 530.5 428.2 528.8 432.8 528.8 432.8 527.0 439.6 527.0 439.6 525.3 444.2 525.3 444.2 523.5 464.7 523.5 464.7 521.8 451.0 521.8 451.0 520.1 451.0 520.1 451.0 518.3 457.9 518.3 457.9 516.6 462.4 516.6 462.4 514.8 453.3 514.8 453.3 513.1 453.3 513.1 453.3 511.4 455.6 511.4 455.6 509.6 469.3 509.6 469.3 507.9 430.5 507.9 430.5 506.1 476.1 506.1 476.1 504.4 453.3 504.4 453.3 502.7 471.6 502.7 471.6 500.9 455.6 500.9 455.6 499.2 467.0 499.2 467.0 497.4 473.8 497.4 473.8 495.7 485.2 495.7 485.2 494.0 455.6 494.0 455.6 492.2 460.1 492.2 460.1 490.5 473.8 490.5 473.8 488.7 478.4 488.7 478.4 487.0 453.3 487.0 453.3 485.3 451.0 485.3 451.0 483.5 441.9 483.5 441.9 481.8 444.2 481.8 444.2 480.1 423.6 480.1 423.6 478.3 444.2 478.3 444.2 476.6 437.3 476.6 437.3 474.8 439.6 474.8 439.6 473.1 444.2 473.1 444.2 471.4 421.4 471.4 421.4 469.6 432.8 469.6 432.8 467.9 416.8 467.9 416.8 466.1 425.9 466.1 425.9 464.4 419.1 464.4 419.1 462.7 437.3 462.7 437.3 460.9 425.9 460.9 425.9 459.2 421.4 459.2 421.4 457.4 421.4 457.4 421.4 455.7 412.2 455.7 412.2 454.0 405.4 454.0 405.4 452.2 409.9 452.2 409.9 450.5 421.4 450.5 421.4 448.7 412.2 448.7 412.2 447.0 405.4 447.0 405.4 445.3 412.2 445.3 412.2 443.5 409.9 443.5 409.9 441.8 407.7 441.8 407.7 440.0 405.4 440.0 405.4 438.3 412.2 438.3 412.2 436.6 403.1 436.6 403.1 434.8 403.1 434.8 403.1 433.1 421.4 433.1 421.4 431.3 403.1 431.3 403.1 429.6 403.1 429.6 403.1 427.9 407.7 427.9 407.7 426.1 405.4 426.1 405.4 424.4 403.1 424.4 403.1 422.6 403.1 422.6 403.1 420.9 403.1 420.9 403.1 419.2 403.1 419.2 403.1 417.4 405.4 417.4 405.4 415.7 403.1 415.7 403.1 413.9 405.4 413.9 405.4 412.2 405.4 412.2 405.4 410.5 403.1 410.5 403.1 408.7 403.1 408.7 403.1 407.0 403.1 407.0 403.1 405.3 403.1 405.3 403.1 403.5 403.1 403.5 403.1 401.8 403.1 401.8 403.1 400.0 403.1 400.0 403.1 398.3 403.1 398.3 403.1 396.6 403.1 396.6 403.1 394.8 403.1 394.8 403.1 393.1 403.1 393.1 403.1 391.3 407.7 391.3 407.7 389.6 403.1 389.6Z" fill="rgb(0,191,191)" fill-opacity="0.5" stroke="#000" stroke-opacity="0.5" stroke-width="0.7"/>
</g>
<path d="M403.1 644.4h3.0M676.9 644.4h-3.0" stroke="#4d4d4d" stroke-width="0.8"/>
<text x="400.7" y="647.9" font-size="10" text-anchor="end" fill="#111">0.001</text>
<path d="M403.1 596.2h3.0M676.9 596.2h-3.0" stroke="#4d4d4d" stroke-width="0.8"/>
<text x="400.7" y="599.8" font-size="10" text-anchor="end" fill="#111">0.002</text>
<path d="M403.1 548.1h3.0M676.9 548.1h-3.0" stroke="#4d4d4d" stroke-width="0.8"/>
<text x="400.7" y="551.6" font-size="10" text-anchor="end" fill="#111">0.003</text>
<path d="M403.1 499.9h3.0M676.9 499.9h-3.0" stroke="#4d4d4d" stroke-width="0.8"/>
<text x="400.7" y="503.4" font-size="10" text-anchor="end" fill="#111">0.004</text>
<path d="M403.1 451.8h3.0M676.9 451.8h-3.0" stroke="#4d4d4d" stroke-width="0.8"/>
<text x="400.7" y="455.3" font-size="10" text-anchor="end" fill="#111">0.005</text>
<path d="M403.1 403.6h3.0M676.9 403.6h-3.0" stroke="#4d4d4d" stroke-width="0.8"/>
<text x="400.7" y="407.1" font-size="10" text-anchor="end" fill="#111">0.006</text>
<path d="M403.1 355.5h3.0M676.9 355.5h-3.0" stroke="#4d4d4d" stroke-width="0.8"/>
<text x="400.7" y="359.0" font-size="10" text-anchor="end" fill="#111">0.007</text>
<path d="M403.1 644.4v-3.0M403.1 355.5v3.0" stroke="#4d4d4d" stroke-width="0.8"/>
<text x="403.1" y="653.6" font-size="9.0" text-anchor="middle" fill="#111">0</text>
<path d="M448.7 644.4v-3.0M448.7 355.5v3.0" stroke="#4d4d4d" stroke-width="0.8"/>
<text x="448.7" y="653.6" font-size="9.0" text-anchor="middle" fill="#111">20</text>
<path d="M494.4 644.4v-3.0M494.4 355.5v3.0" stroke="#4d4d4d" stroke-width="0.8"/>
<text x="494.4" y="653.6" font-size="9.0" text-anchor="middle" fill="#111">40</text>
<path d="M540.0 644.4v-3.0M540.0 355.5v3.0" stroke="#4d4d4d" stroke-width="0.8"/>
<text x="540.0" y="653.6" font-size="9.0" text-anchor="middle" fill="#111">60</text>
<path d="M585.6 644.4v-3.0M585.6 355.5v3.0" stroke="#4d4d4d" stroke-width="0.8"/>
<text x="585.6" y="653.6" font-size="9.0" text-anchor="middle" fill="#111">80</text>
<path d="M631.3 644.4v-3.0M631.3 355.5v3.0" stroke="#4d4d4d" stroke-width="0.8"/>
<text x="631.3" y="653.6" font-size="9.0" text-anchor="middle" fill="#111">100</text>
<path d="M676.9 644.4v-3.0M676.9 355.5v3.0" stroke="#4d4d4d" stroke-width="0.8"/>
<text x="676.9" y="653.6" font-size="9.0" text-anchor="middle" fill="#111">120</text>
<text x="540.5" y="664.2" font-size="8.4" text-anchor="middle" textLength="44.5" lengthAdjust="spacingAndGlyphs" fill="#111">Frequency</text>
<rect x="403.1" y="355.5" width="273.8" height="288.9" fill="none" stroke="#4d4d4d" stroke-width="1"/>
<rect x="580.1" y="360.6" width="91.8" height="81.6" fill="#fff" stroke="#333" stroke-width="0.9"/>
<rect x="584.7" y="365.7" width="20.8" height="7" fill="#ffb3b3" stroke="#000" stroke-opacity="0.3" stroke-width="0.8"/>
<text x="614.5" y="373.1" font-size="11.0" textLength="54.3" lengthAdjust="spacingAndGlyphs" fill="#111">This Study</text>
<rect x="584.7" y="381.2" width="20.8" height="7" fill="#80bf80" stroke="#000" stroke-opacity="0.5" stroke-width="0.8"/>
<text x="614.5" y="388.6" font-size="11.0" fill="#111">Scen 1</text>
<rect x="584.7" y="396.6" width="20.8" height="7" fill="#8080ff" stroke="#000" stroke-opacity="0.5" stroke-width="0.8"/>
<text x="614.5" y="404.0" font-size="11.0" fill="#111">Scen 2</text>
<rect x="584.7" y="412.1" width="20.8" height="7" fill="#dfdf80" stroke="#000" stroke-opacity="0.5" stroke-width="0.8"/>
<text x="614.5" y="419.5" font-size="11.0" fill="#111">Scen 3</text>
<rect x="584.7" y="427.5" width="20.8" height="7" fill="#80dfdf" stroke="#000" stroke-opacity="0.5" stroke-width="0.8"/>
<text x="614.5" y="434.9" font-size="11.0" fill="#111">Scen 4</text>
<text x="539.6" y="699.0" font-size="10.8" text-anchor="middle" textLength="44.6" lengthAdjust="spacingAndGlyphs" fill="#111">Methane</text>
<clipPath id="cp2"><rect x="403.4" y="702.5" width="273.1" height="289.1"/></clipPath><g clip-path="url(#cp2)">
<path d="M403.4 850.8 407.8 850.8 407.8 852.3 403.4 852.3 403.4 857.4 406.1 857.4 406.1 858.9 403.4 858.9 403.4 862.5 407.8 862.5 407.8 865.4 403.4 865.4 403.4 867.6 409.4 867.6 409.4 870.5 409.4 870.5 409.4 873.5 403.4 873.5 403.4 876.4 410.2 876.4 410.2 879.3 411.6 879.3 411.6 882.2 409.4 882.2 409.4 883.7 403.4 883.7 403.4 885.9 415.9 885.9 415.9 888.1 416.5 888.1 416.5 890.3 417.1 890.3 417.1 893.2 403.4 893.2 403.4 895.4 422.3 895.4 422.3 897.6 431.9 897.6 431.9 899.3 435.7 899.3 435.7 901.9 433.3 901.9 433.3 904.7 429.5 904.7 429.5 907.0 445.9 907.0 445.9 910.5 464.7 910.5 464.7 913.5 473.9 913.5 473.9 915.9 489.1 915.9 489.1 918.2 496.1 918.2 496.1 920.1 515.9 920.1 515.9 922.0 521.9 922.0 521.9 923.8 533.5 923.8 533.5 925.8 545.4 925.8 545.4 928.2 541.7 928.2 541.7 929.4 580.4 929.4 580.4 931.3 563.8 931.3 563.8 932.1 604.8 932.1 604.8 934.5 548.8 934.5 548.8 936.4 606.0 936.4 606.0 938.2 622.4 938.2 622.4 939.9 628.4 939.9 628.4 941.5 611.6 941.5 611.6 942.9 649.2 942.9 649.2 945.2 591.2 945.2 591.2 946.6 638.8 946.6 638.8 949.0 591.2 949.0 591.2 950.0 630.4 950.0 630.4 951.8 570.7 951.8 570.7 954.8 540.0 954.8 540.0 956.7 509.2 956.7 509.2 958.5 489.6 958.5 489.6 960.4 474.4 960.4 474.4 962.3 458.0 962.3 458.0 963.7 426.4 963.7 426.4 965.6 413.6 965.6 413.6 967.4 408.5 967.4 408.5 969.3 403.4 969.3Z" fill="#ff0000" fill-opacity="0.3" stroke="#000" stroke-opacity="0.3" stroke-width="0.7"/>
<path d="M403.4 961.8 408.5 961.8 408.5 959.6 411.9 959.6 411.9 957.4 415.3 957.4 415.3 955.1 432.4 955.1 432.4 952.9 468.3 952.9 468.3 950.7 504.1 950.7 504.1 948.5 560.4 948.5 560.4 946.3 551.9 946.3 551.9 944.0 487.0 944.0 487.0 941.8 507.5 941.8 507.5 939.6 526.3 939.6 526.3 937.4 548.5 937.4 548.5 935.1 510.9 935.1 510.9 932.9 507.5 932.9 507.5 930.7 466.6 930.7 466.6 928.5 499.0 928.5 499.0 926.3 466.6 926.3 466.6 924.0 459.7 924.0 459.7 921.8 451.2 921.8 451.2 919.6 449.5 919.6 449.5 917.4 437.5 917.4 437.5 915.2 432.4 915.2 432.4 912.9 427.3 912.9 427.3 910.7 413.6 910.7 413.6 908.5 417.1 908.5 417.1 906.3 406.8 906.3 406.8 904.0 405.1 904.0 405.1 901.8 406.8 901.8 406.8 899.6 406.8 899.6 406.8 897.4 405.1 897.4 405.1 895.2 403.4 895.2 403.4 892.9 408.5 892.9 408.5 890.7 403.4 890.7 403.4 888.5 408.5 888.5 408.5 886.3 403.4 886.3 403.4 884.0 403.4 884.0 403.4 881.8 405.1 881.8 405.1 879.6 405.1 879.6 405.1 877.4 405.1 877.4 405.1 875.2 405.1 875.2 405.1 872.9 403.4 872.9 403.4 870.7 403.4 870.7 403.4 868.5 403.4 868.5 403.4 866.3 403.4 866.3 403.4 864.1 403.4 864.1 403.4 861.8 403.4 861.8 403.4 859.6 403.4 859.6 403.4 857.4 403.4 857.4 403.4 855.2 403.4 855.2 403.4 852.9 403.4 852.9 403.4 850.7 403.4 850.7 403.4 848.5 403.4 848.5 403.4 846.3 403.4 846.3 403.4 844.1 403.4 844.1 403.4 841.8 403.4 841.8 403.4 839.6 403.4 839.6 403.4 837.4 403.4 837.4 403.4 835.2 403.4 835.2 403.4 833.0 403.4 833.0 403.4 830.7 403.4 830.7 403.4 828.5 403.4 828.5 403.4 826.3 403.4 826.3 403.4 824.1 403.4 824.1 403.4 821.8 403.4 821.8 403.4 819.6 403.4 819.6 403.4 817.4 405.1 817.4 405.1 815.2 403.4 815.2 403.4 813.0 403.4 813.0 403.4 810.7 403.4 810.7 403.4 808.5 403.4 808.5 403.4 806.3 403.4 806.3 403.4 804.1 403.4 804.1 403.4 801.8 403.4 801.8 403.4 799.6 403.4 799.6 403.4 797.4 403.4 797.4 403.4 795.2 403.4 795.2 403.4 793.0 403.4 793.0 403.4 790.7 403.4 790.7 403.4 788.5 403.4 788.5 403.4 786.3 403.4 786.3 403.4 784.1 403.4 784.1 403.4 781.9 403.4 781.9 403.4 779.6 403.4 779.6 403.4 777.4 403.4 777.4 403.4 775.2 403.4 775.2 403.4 773.0 403.4 773.0 403.4 770.7 403.4 770.7 403.4 768.5 403.4 768.5 403.4 766.3 403.4 766.3 403.4 764.1 403.4 764.1 403.4 761.9 403.4 761.9 403.4 759.6 403.4 759.6 403.4 757.4 403.4 757.4 403.4 755.2 403.4 755.2 403.4 753.0 403.4 753.0 403.4 750.8 403.4 750.8 403.4 748.5 403.4 748.5 403.4 746.3 403.4 746.3 403.4 744.1 403.4 744.1 403.4 741.9 405.1 741.9 405.1 739.6 403.4 739.6Z" fill="rgb(0,128,0)" fill-opacity="0.5" stroke="#000" stroke-opacity="0.5" stroke-width="0.7"/>
<path d="M403.4 967.5 415.3 967.5 415.3 966.6 415.3 966.6 415.3 965.8 418.8 965.8 418.8 964.9 422.2 964.9 422.2 964.1 429.0 964.1 429.0 963.3 439.2 963.3 439.2 962.4 434.1 962.4 434.1 961.6 437.5 961.6 437.5 960.8 452.9 960.8 452.9 959.9 458.0 959.9 458.0 959.1 449.5 959.1 449.5 958.2 471.7 958.2 471.7 957.4 480.2 957.4 480.2 956.6 459.7 956.6 459.7 955.7 464.8 955.7 464.8 954.9 463.1 954.9 463.1 954.0 458.0 954.0 458.0 953.2 463.1 953.2 463.1 952.4 468.3 952.4 468.3 951.5 466.6 951.5 466.6 950.7 492.2 950.7 492.2 949.8 483.6 949.8 483.6 949.0 485.3 949.0 485.3 948.2 476.8 948.2 476.8 947.3 454.6 947.3 454.6 946.5 454.6 946.5 454.6 945.6 471.7 945.6 471.7 944.8 439.2 944.8 439.2 944.0 432.4 944.0 432.4 943.1 434.1 943.1 434.1 942.3 434.1 942.3 434.1 941.5 446.1 941.5 446.1 940.6 430.7 940.6 430.7 939.8 415.3 939.8 415.3 938.9 417.1 938.9 417.1 938.1 415.3 938.1 415.3 937.3 418.8 937.3 418.8 936.4 408.5 936.4 408.5 935.6 411.9 935.6 411.9 934.7 408.5 934.7 408.5 933.9 410.2 933.9 410.2 933.1 408.5 933.1 408.5 932.2 405.1 932.2 405.1 931.4 403.4 931.4 403.4 930.5 403.4 930.5 403.4 929.7 405.1 929.7 405.1 928.9 408.5 928.9 408.5 928.0 405.1 928.0 405.1 927.2 405.1 927.2 405.1 926.3 403.4 926.3 403.4 925.5 403.4 925.5 403.4 924.7 403.4 924.7 403.4 923.8 406.8 923.8 406.8 923.0 405.1 923.0 405.1 922.2 403.4 922.2 403.4 921.3 403.4 921.3 403.4 920.5 403.4 920.5 403.4 919.6 403.4 919.6 403.4 918.8 403.4 918.8 403.4 918.0 403.4 918.0 403.4 917.1 403.4 917.1 403.4 916.3 403.4 916.3 403.4 915.4 405.1 915.4 405.1 914.6 403.4 914.6 403.4 913.8 403.4 913.8 403.4 912.9 403.4 912.9 403.4 912.1 403.4 912.1 403.4 911.2 405.1 911.2 405.1 910.4 405.1 910.4 405.1 909.6 403.4 909.6 403.4 908.7 403.4 908.7 403.4 907.9 403.4 907.9 403.4 907.0 403.4 907.0 403.4 906.2 403.4 906.2 403.4 905.4 405.1 905.4 405.1 904.5 405.1 904.5 405.1 903.7 403.4 903.7 403.4 902.8 405.1 902.8 405.1 902.0 406.8 902.0 406.8 901.2 405.1 901.2 405.1 900.3 403.4 900.3 403.4 899.5 403.4 899.5 403.4 898.7 403.4 898.7 403.4 897.8 403.4 897.8 403.4 897.0 403.4 897.0 403.4 896.1 403.4 896.1 403.4 895.3 403.4 895.3 403.4 894.5 403.4 894.5 403.4 893.6 403.4 893.6 403.4 892.8 403.4 892.8 403.4 891.9 403.4 891.9 403.4 891.1 403.4 891.1 403.4 890.3 403.4 890.3 403.4 889.4 403.4 889.4 403.4 888.6 403.4 888.6 403.4 887.7 403.4 887.7 403.4 886.9 403.4 886.9 403.4 886.1 403.4 886.1 403.4 885.2 403.4 885.2 403.4 884.4 405.1 884.4 405.1 883.5 403.4 883.5Z" fill="rgb(0,0,255)" fill-opacity="0.5" stroke="#000" stroke-opacity="0.5" stroke-width="0.7"/>
<path d="M403.4 962.9 406.8 962.9 406.8 961.9 403.4 961.9 403.4 961.0 405.1 961.0 405.1 960.0 405.1 960.0 405.1 959.1 410.2 959.1 410.2 958.1 406.8 958.1 406.8 957.1 415.3 957.1 415.3 956.2 420.5 956.2 420.5 955.2 432.4 955.2 432.4 954.2 432.4 954.2 432.4 953.3 454.6 953.3 454.6 952.3 481.9 952.3 481.9 951.4 485.3 951.4 485.3 950.4 495.6 950.4 495.6 949.4 488.7 949.4 488.7 948.5 463.1 948.5 463.1 947.5 461.4 947.5 461.4 946.6 454.6 946.6 454.6 945.6 446.1 945.6 446.1 944.6 458.0 944.6 458.0 943.7 441.0 943.7 441.0 942.7 471.7 942.7 471.7 941.7 485.3 941.7 485.3 940.8 463.1 940.8 463.1 939.8 471.7 939.8 471.7 938.9 449.5 938.9 449.5 937.9 470.0 937.9 470.0 936.9 439.2 936.9 439.2 936.0 456.3 936.0 456.3 935.0 439.2 935.0 439.2 934.1 446.1 934.1 446.1 933.1 441.0 933.1 441.0 932.1 435.8 932.1 435.8 931.2 430.7 931.2 430.7 930.2 425.6 930.2 425.6 929.3 422.2 929.3 422.2 928.3 427.3 928.3 427.3 927.3 427.3 927.3 427.3 926.4 423.9 926.4 423.9 925.4 423.9 925.4 423.9 924.4 415.3 924.4 415.3 923.5 420.5 923.5 420.5 922.5 410.2 922.5 410.2 921.6 415.3 921.6 415.3 920.6 410.2 920.6 410.2 919.6 408.5 919.6 408.5 918.7 417.1 918.7 417.1 917.7 403.4 917.7 403.4 916.8 411.9 916.8 411.9 915.8 410.2 915.8 410.2 914.8 405.1 914.8 405.1 913.9 403.4 913.9 403.4 912.9 403.4 912.9 403.4 911.9 405.1 911.9 405.1 911.0 403.4 911.0 403.4 910.0 413.6 910.0 413.6 909.1 403.4 909.1 403.4 908.1 403.4 908.1 403.4 907.1 403.4 907.1 403.4 906.2 403.4 906.2 403.4 905.2 403.4 905.2 403.4 904.3 403.4 904.3 403.4 903.3 403.4 903.3 403.4 902.3 405.1 902.3 405.1 901.4 405.1 901.4 405.1 900.4 403.4 900.4 403.4 899.4 403.4 899.4 403.4 898.5 403.4 898.5 403.4 897.5 408.5 897.5 408.5 896.6 403.4 896.6 403.4 895.6 403.4 895.6 403.4 894.6 403.4 894.6 403.4 893.7 403.4 893.7 403.4 892.7 403.4 892.7 403.4 891.8 403.4 891.8 403.4 890.8 403.4 890.8 403.4 889.8 405.1 889.8 405.1 888.9 403.4 888.9 403.4 887.9 403.4 887.9 403.4 887.0 405.1 887.0 405.1 886.0 405.1 886.0 405.1 885.0 403.4 885.0 403.4 884.1 405.1 884.1 405.1 883.1 403.4 883.1 403.4 882.1 403.4 882.1 403.4 881.2 403.4 881.2 403.4 880.2 405.1 880.2 405.1 879.3 403.4 879.3 403.4 878.3 405.1 878.3 405.1 877.3 403.4 877.3 403.4 876.4 403.4 876.4 403.4 875.4 405.1 875.4 405.1 874.5 403.4 874.5 403.4 873.5 403.4 873.5 403.4 872.5 403.4 872.5 403.4 871.6 403.4 871.6 403.4 870.6 403.4 870.6 403.4 869.6 403.4 869.6 403.4 868.7 403.4 868.7 403.4 867.7 405.1 867.7 405.1 866.8 403.4 866.8Z" fill="rgb(191,191,0)" fill-opacity="0.5" stroke="#000" stroke-opacity="0.5" stroke-width="0.7"/>
<path d="M403.4 952.2 405.1 952.2 405.1 950.4 403.4 950.4 403.4 948.6 406.8 948.6 406.8 946.8 410.2 946.8 410.2 945.1 413.6 945.1 413.6 943.3 432.4 943.3 432.4 941.5 432.4 941.5 432.4 939.7 441.0 939.7 441.0 938.0 473.4 938.0 473.4 936.2 483.6 936.2 483.6 934.4 524.6 934.4 524.6 932.7 519.5 932.7 519.5 930.9 488.7 930.9 488.7 929.1 476.8 929.1 476.8 927.3 466.6 927.3 466.6 925.6 500.7 925.6 500.7 923.8 514.3 923.8 514.3 922.0 493.9 922.0 493.9 920.2 485.3 920.2 485.3 918.5 461.4 918.5 461.4 916.7 481.9 916.7 481.9 914.9 473.4 914.9 473.4 913.1 452.9 913.1 452.9 911.4 466.6 911.4 466.6 909.6 447.8 909.6 447.8 907.8 442.7 907.8 442.7 906.0 427.3 906.0 427.3 904.3 427.3 904.3 427.3 902.5 422.2 902.5 422.2 900.7 417.1 900.7 417.1 898.9 423.9 898.9 423.9 897.2 415.3 897.2 415.3 895.4 415.3 895.4 415.3 893.6 411.9 893.6 411.9 891.8 411.9 891.8 411.9 890.1 415.3 890.1 415.3 888.3 403.4 888.3 403.4 886.5 405.1 886.5 405.1 884.7 403.4 884.7 403.4 883.0 406.8 883.0 406.8 881.2 403.4 881.2 403.4 879.4 408.5 879.4 408.5 877.6 403.4 877.6 403.4 875.9 405.1 875.9 405.1 874.1 405.1 874.1 405.1 872.3 406.8 872.3 406.8 870.5 403.4 870.5 403.4 868.8 405.1 868.8 405.1 867.0 406.8 867.0 406.8 865.2 403.4 865.2 403.4 863.4 406.8 863.4 406.8 861.7 403.4 861.7 403.4 859.9 406.8 859.9 406.8 858.1 406.8 858.1 406.8 856.3 405.1 856.3 405.1 854.6 403.4 854.6 403.4 852.8 406.8 852.8 406.8 851.0 403.4 851.0 403.4 849.2 405.1 849.2 405.1 847.5 403.4 847.5 403.4 845.7 403.4 845.7 403.4 843.9 403.4 843.9 403.4 842.1 403.4 842.1 403.4 840.4 403.4 840.4 403.4 838.6 405.1 838.6 405.1 836.8 403.4 836.8 403.4 835.0 405.1 835.0 405.1 833.3 403.4 833.3 403.4 831.5 403.4 831.5 403.4 829.7 403.4 829.7 403.4 827.9 403.4 827.9 403.4 826.2 403.4 826.2 403.4 824.4 403.4 824.4 403.4 822.6 403.4 822.6 403.4 820.8 403.4 820.8 403.4 819.1 403.4 819.1 403.4 817.3 405.1 817.3 405.1 815.5 403.4 815.5 403.4 813.7 403.4 813.7 403.4 812.0 405.1 812.0 405.1 810.2 403.4 810.2 403.4 808.4 403.4 808.4 403.4 806.6 403.4 806.6 403.4 804.9 403.4 804.9 403.4 803.1 403.4 803.1 403.4 801.3 403.4 801.3 403.4 799.5 403.4 799.5 403.4 797.8 403.4 797.8 403.4 796.0 403.4 796.0 403.4 794.2 403.4 794.2 403.4 792.4 403.4 792.4 403.4 790.7 403.4 790.7 403.4 788.9 403.4 788.9 403.4 787.1 403.4 787.1 403.4 785.3 403.4 785.3 403.4 783.6 403.4 783.6 403.4 781.8 403.4 781.8 403.4 780.0 403.4 780.0 403.4 778.2 403.4 778.2 403.4 776.5 405.1 776.5 405.1 774.7 403.4 774.7Z" fill="rgb(0,191,191)" fill-opacity="0.5" stroke="#000" stroke-opacity="0.5" stroke-width="0.7"/>
</g>
<path d="M403.4 991.6h3.0M676.5 991.6h-3.0" stroke="#4d4d4d" stroke-width="0.8"/>
<text x="401.0" y="995.1" font-size="10" text-anchor="end" fill="#111">0.000</text>
<path d="M403.4 950.3h3.0M676.5 950.3h-3.0" stroke="#4d4d4d" stroke-width="0.8"/>
<text x="401.0" y="953.8" font-size="10" text-anchor="end" fill="#111">0.001</text>
<path d="M403.4 909.0h3.0M676.5 909.0h-3.0" stroke="#4d4d4d" stroke-width="0.8"/>
<text x="401.0" y="912.5" font-size="10" text-anchor="end" fill="#111">0.002</text>
<path d="M403.4 867.7h3.0M676.5 867.7h-3.0" stroke="#4d4d4d" stroke-width="0.8"/>
<text x="401.0" y="871.2" font-size="10" text-anchor="end" fill="#111">0.003</text>
<path d="M403.4 826.4h3.0M676.5 826.4h-3.0" stroke="#4d4d4d" stroke-width="0.8"/>
<text x="401.0" y="829.9" font-size="10" text-anchor="end" fill="#111">0.004</text>
<path d="M403.4 785.1h3.0M676.5 785.1h-3.0" stroke="#4d4d4d" stroke-width="0.8"/>
<text x="401.0" y="788.6" font-size="10" text-anchor="end" fill="#111">0.005</text>
<path d="M403.4 743.8h3.0M676.5 743.8h-3.0" stroke="#4d4d4d" stroke-width="0.8"/>
<text x="401.0" y="747.3" font-size="10" text-anchor="end" fill="#111">0.006</text>
<path d="M403.4 702.5h3.0M676.5 702.5h-3.0" stroke="#4d4d4d" stroke-width="0.8"/>
<text x="401.0" y="706.0" font-size="10" text-anchor="end" fill="#111">0.007</text>
<path d="M403.4 991.6v-3.0M403.4 702.5v3.0" stroke="#4d4d4d" stroke-width="0.8"/>
<text x="403.4" y="1000.8" font-size="9.0" text-anchor="middle" fill="#111">0</text>
<path d="M437.5 991.6v-3.0M437.5 702.5v3.0" stroke="#4d4d4d" stroke-width="0.8"/>
<text x="437.5" y="1000.8" font-size="9.0" text-anchor="middle" fill="#111">20</text>
<path d="M471.7 991.6v-3.0M471.7 702.5v3.0" stroke="#4d4d4d" stroke-width="0.8"/>
<text x="471.7" y="1000.8" font-size="9.0" text-anchor="middle" fill="#111">40</text>
<path d="M505.8 991.6v-3.0M505.8 702.5v3.0" stroke="#4d4d4d" stroke-width="0.8"/>
<text x="505.8" y="1000.8" font-size="9.0" text-anchor="middle" fill="#111">60</text>
<path d="M540.0 991.6v-3.0M540.0 702.5v3.0" stroke="#4d4d4d" stroke-width="0.8"/>
<text x="540.0" y="1000.8" font-size="9.0" text-anchor="middle" fill="#111">80</text>
<path d="M574.1 991.6v-3.0M574.1 702.5v3.0" stroke="#4d4d4d" stroke-width="0.8"/>
<text x="574.1" y="1000.8" font-size="9.0" text-anchor="middle" fill="#111">100</text>
<path d="M608.2 991.6v-3.0M608.2 702.5v3.0" stroke="#4d4d4d" stroke-width="0.8"/>
<text x="608.2" y="1000.8" font-size="9.0" text-anchor="middle" fill="#111">120</text>
<path d="M642.4 991.6v-3.0M642.4 702.5v3.0" stroke="#4d4d4d" stroke-width="0.8"/>
<text x="642.4" y="1000.8" font-size="9.0" text-anchor="middle" fill="#111">140</text>
<path d="M676.5 991.6v-3.0M676.5 702.5v3.0" stroke="#4d4d4d" stroke-width="0.8"/>
<text x="676.5" y="1000.8" font-size="9.0" text-anchor="middle" fill="#111">160</text>
<text x="540.5" y="1011.8" font-size="8.4" text-anchor="middle" textLength="44.5" lengthAdjust="spacingAndGlyphs" fill="#111">Frequency</text>
<rect x="403.4" y="702.5" width="273.1" height="289.1" fill="none" stroke="#4d4d4d" stroke-width="1"/>
<rect x="579.7" y="707.3" width="92.0" height="82.2" fill="#fff" stroke="#333" stroke-width="0.9"/>
<rect x="584.3" y="712.4" width="20.8" height="7" fill="#ffb3b3" stroke="#000" stroke-opacity="0.3" stroke-width="0.8"/>
<text x="614.1" y="719.8" font-size="11.0" textLength="54.3" lengthAdjust="spacingAndGlyphs" fill="#111">This Study</text>
<rect x="584.3" y="727.9" width="20.8" height="7" fill="#80bf80" stroke="#000" stroke-opacity="0.5" stroke-width="0.8"/>
<text x="614.1" y="735.2" font-size="11.0" fill="#111">Scen 1</text>
<rect x="584.3" y="743.3" width="20.8" height="7" fill="#8080ff" stroke="#000" stroke-opacity="0.5" stroke-width="0.8"/>
<text x="614.1" y="750.7" font-size="11.0" fill="#111">Scen 2</text>
<rect x="584.3" y="758.8" width="20.8" height="7" fill="#dfdf80" stroke="#000" stroke-opacity="0.5" stroke-width="0.8"/>
<text x="614.1" y="766.1" font-size="11.0" fill="#111">Scen 3</text>
<rect x="584.3" y="774.2" width="20.8" height="7" fill="#80dfdf" stroke="#000" stroke-opacity="0.5" stroke-width="0.8"/>
<text x="614.1" y="781.6" font-size="11.0" fill="#111">Scen 4</text>
</svg></div>
</body></html>
